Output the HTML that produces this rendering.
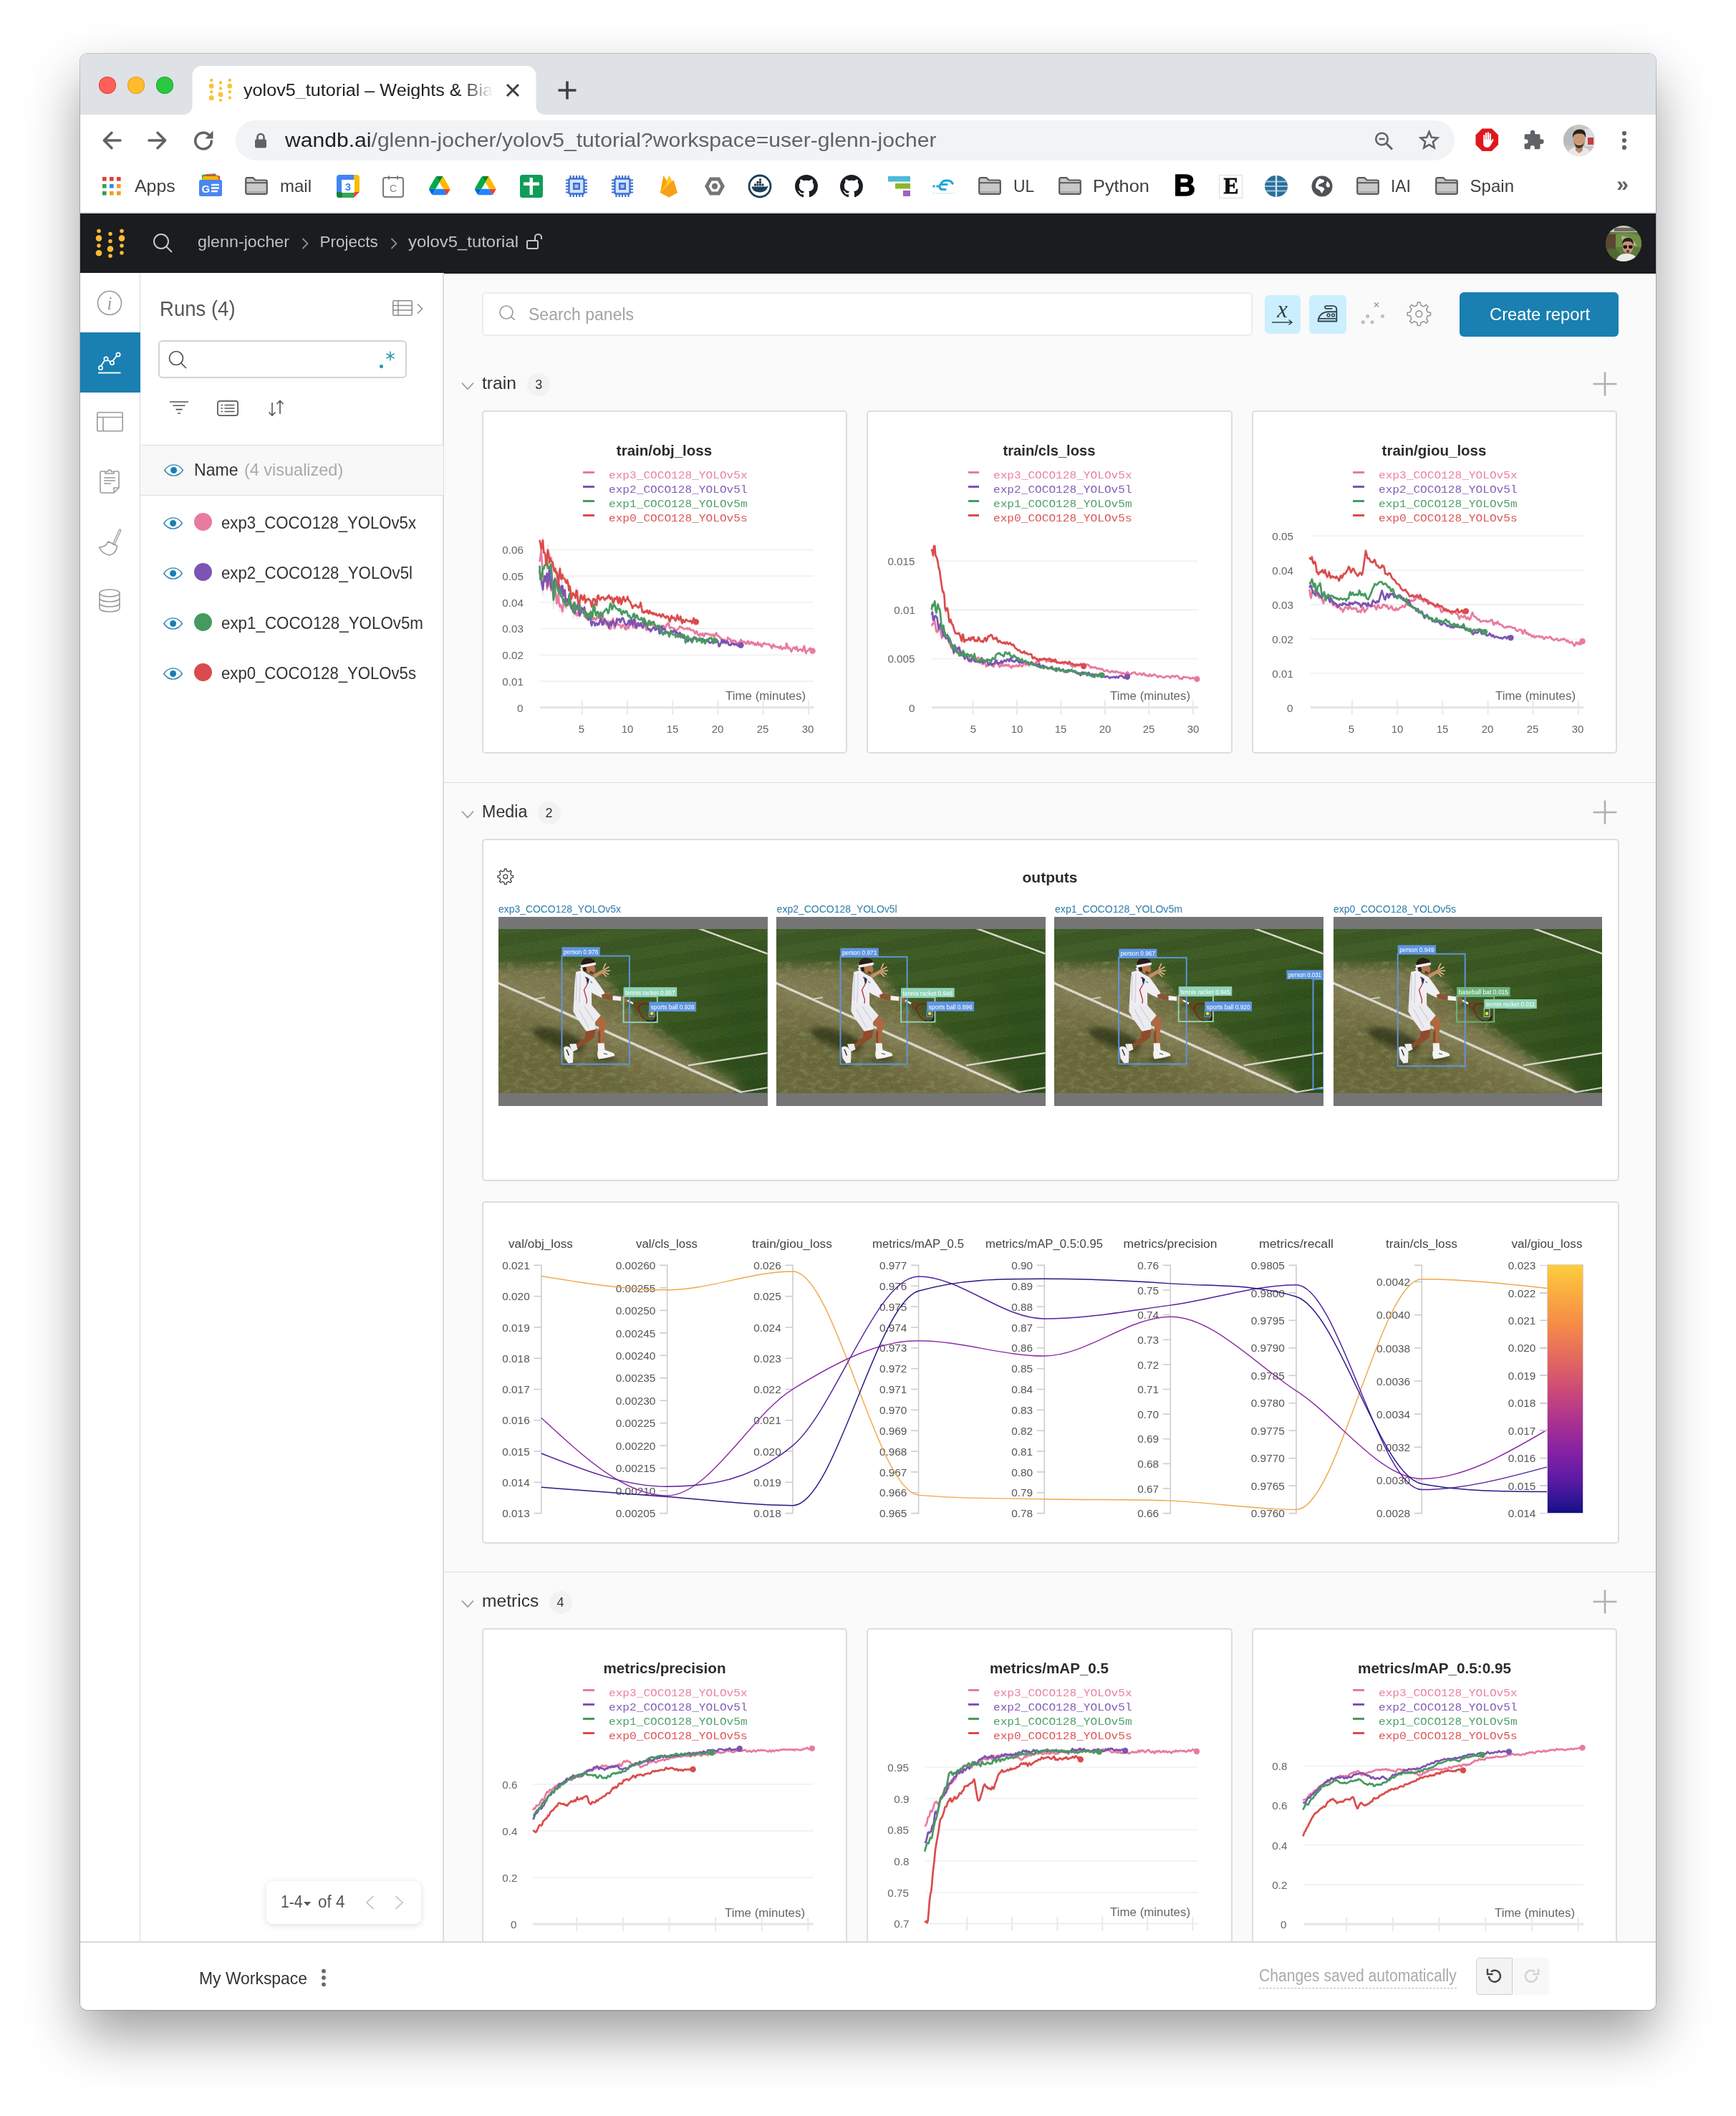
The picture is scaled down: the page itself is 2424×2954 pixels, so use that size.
<!DOCTYPE html><html><head><meta charset="utf-8"><title>yolov5_tutorial – Weights &amp; Biases</title>
<style>html,body{margin:0;padding:0;background:#fff}body{width:2424px;height:2954px;font-family:"Liberation Sans",sans-serif}#page{position:relative;width:2424px;height:2954px;overflow:hidden;background:#fff}#win{position:absolute;left:112px;top:75px;width:2200px;height:2731px;border-radius:10px;overflow:hidden;background:#fff}#shadow{position:absolute;left:112px;top:75px;width:2200px;height:2731px;border-radius:10px;box-shadow:0 0 0 1px rgba(0,0,0,.2),0 36px 76px rgba(0,0,0,.385)}#in{position:absolute;left:-112px;top:-75px;width:2424px;height:2954px;transform:translateZ(0);will-change:transform}</style></head><body><div id="page">
<svg width="0" height="0" style="position:absolute"><symbol id="ph" viewBox="0 0 375.5 228.7"><defs><linearGradient id="gr1" x1="0" y1="0" x2="1" y2="1"><stop offset="0" stop-color="#44632a"/><stop offset=".5" stop-color="#3f6024"/><stop offset="1" stop-color="#31531a"/></linearGradient><filter id="bl6" x="-30%" y="-30%" width="160%" height="160%"><feGaussianBlur stdDeviation="8"/></filter><filter id="bl3" x="-30%" y="-30%" width="160%" height="160%"><feGaussianBlur stdDeviation="3"/></filter><filter id="bl1" x="-20%" y="-20%" width="140%" height="140%"><feGaussianBlur stdDeviation=".45"/></filter><filter id="gn" x="0" y="0" width="100%" height="100%"><feTurbulence type="fractalNoise" baseFrequency="0.75" numOctaves="2" seed="3"/><feColorMatrix type="matrix" values="0 0 0 0 0  0 0 0 0 0  0 0 0 0 0  0 0 0 .6 -.16"/></filter><filter id="gn2" x="0" y="0" width="100%" height="100%"><feTurbulence type="fractalNoise" baseFrequency="0.55" numOctaves="2" seed="11"/><feColorMatrix type="matrix" values="0 0 0 0 1  0 0 0 0 1  0 0 0 0 .7  0 0 0 .5 -.17"/></filter><filter id="gn3" x="0" y="0" width="100%" height="100%"><feTurbulence type="fractalNoise" baseFrequency="0.09 0.16" numOctaves="3" seed="7"/><feColorMatrix type="matrix" values="0 0 0 0 .27  0 0 0 0 .38  0 0 0 0 .14  0 0 0 2.2 -.95"/></filter><clipPath id="wornc"><path d="M-30 44 L110 46 L155 66 L172 94 L206 124 L266 168 L326 213 L352 236 L352 250 L-30 250Z"/></clipPath><clipPath id="phc"><rect width="375.5" height="228.7"/></clipPath></defs><g clip-path="url(#phc)"><rect width="375.5" height="228.7" fill="url(#gr1)"/><g opacity=".07"><path d="M-5 10 L380 -50 L380 -34 L-5 26Z" fill="#000"/><path d="M-5 42 L380 -18 L380 -2 L-5 58Z" fill="#000"/><path d="M-5 74 L380 14 L380 30 L-5 90Z" fill="#000"/><path d="M-5 106 L380 46 L380 62 L-5 122Z" fill="#000"/><path d="M-5 138 L380 78 L380 94 L-5 154Z" fill="#000"/><path d="M-5 170 L380 110 L380 126 L-5 186Z" fill="#000"/><path d="M-5 202 L380 142 L380 158 L-5 218Z" fill="#000"/><path d="M-5 234 L380 174 L380 190 L-5 250Z" fill="#000"/><path d="M-5 266 L380 206 L380 222 L-5 282Z" fill="#000"/><path d="M-5 298 L380 238 L380 254 L-5 314Z" fill="#000"/></g><g filter="url(#bl6)"><path d="M-30 50 L110 52 L150 70 L167 96 L202 127 L262 171 L322 216 L350 240 L-30 250Z" fill="#7d7547" opacity=".97"/><path d="M-30 62 L60 84 L160 128 L260 174 L330 212 L318 236 L200 182 L90 132 L-30 90Z" fill="#958d64" opacity=".58"/><path d="M-30 58 L100 60 L140 78 L120 100 L30 80Z" fill="#8f8860" opacity=".5"/><path d="M-30 150 L60 140 L150 190 L230 240 L-30 260Z" fill="#5c6030" opacity=".38"/><path d="M300 60 L400 70 L400 260 L350 260 L330 200Z" fill="#2f4f18" opacity=".35"/></g><g clip-path="url(#wornc)"><rect width="375.5" height="228.7" filter="url(#gn3)" opacity=".55"/></g><g filter="url(#bl3)" opacity=".6"><path d="M46 142 C56 133 84 138 112 152 C122 160 122 170 110 172 C88 170 58 158 46 142Z" fill="#1d2610"/><ellipse cx="148" cy="182" rx="17" ry="3.500" fill="#1d2610"/><ellipse cx="97" cy="188" rx="9" ry="2.500" fill="#1d2610"/></g><g stroke="#eae7da" stroke-linecap="butt" fill="none" filter="url(#bl1)"><path d="M279.5 -1 L376 34.7" stroke-width="2.5"/><path d="M-1 75 L340.5 228.5" stroke-width="3.5"/><path d="M264.9 190.4 L376 172.8" stroke-width="2.3"/><path d="M338 227.8 L376 221.2" stroke-width="2.1"/><path d="M52 97.5 L65 95.3" stroke-width="1.7"/></g><rect width="375.5" height="228.7" filter="url(#gn)" opacity=".5"/><rect width="375.5" height="228.7" filter="url(#gn2)" opacity=".22"/><g filter="url(#bl1)"><path d="M122 141 L136 139 L133.500 152 L111 166 L108 161.500 L121 151Z" fill="#8f4b2c"/><path d="M99 160.500 L108.500 160 L110.500 168 L103 171.500Z" fill="#ececec"/><path d="M91 166 C92 163 97 163 100 165.500 L104.500 172 L104 186.500 L97.500 187.500 L92.500 180Z" fill="#f0f0ee"/><path d="M95 168 L98.500 176.500" stroke="#2a2f3c" stroke-width="1.500"/><path d="M135 124 L142.500 120.500 L149.500 128 L150 136 L146 148 L147.500 160 L139.500 160 L139 144 L140.500 136 L134.500 130Z" fill="#b0673f"/><path d="M139 145 L139.500 160 L142.500 160 L142 140Z" fill="#8a4a2c"/><path d="M138.800 159.300 L147.700 159.300 L148.500 171 L139 171.500Z" fill="#f0f0f0"/><path d="M138.500 170.500 L148.500 168.800 L157.500 172 C161.500 173 163 175.500 162 177 L150 180 L140 181.500 C138 178 138 174 138.500 170.500Z" fill="#f4f4f1"/><path d="M147 173.500 L152 175" stroke="#39415a" stroke-width="1.200"/><path d="M104.900 104 L130.200 106 L142.700 120.700 L134.800 130 L135.800 140 L122.800 142.800 L110.900 126.200 L104.400 115.200Z" fill="#ecebf0"/><path d="M112 112 L126 138 M120 108 L133 128" stroke="#d2d2da" stroke-width="1.400" fill="none"/><path d="M108.100 59.900 L117.300 57.500 L124 62.500 L133 67.200 L141 78 L148.700 89.400 L144 95.800 L136 92 L130 88.500 L130.200 106.500 L105 104.500 L106.300 78.300Z" fill="#efeef3"/><path d="M109 63 L108.500 100 M114 62 L113 103" stroke="#d5d6e2" stroke-width="1.800" fill="none"/><path d="M121 67 L125.500 71 L123.500 78 L119.500 85 L121.500 92 L123.500 99 L123 104" stroke="#b23230" stroke-width="1.300" fill="none"/><path d="M122.500 66.500 L127 70 L125 77 L123 73Z" fill="#2b2e52"/><path d="M128.500 72.500 L131.500 74.300 L130.800 75.800 L127.800 74Z" fill="#5aa6a6"/><path d="M131 64.500 L140 59.500 L147 55.500 L149.500 59.500 L142 63.500 L134 68.500Z" fill="#c98d63"/><path d="M146.500 55 L149.500 48.500 M148 56.500 L154 53 M149 58.500 L155.500 58 M148.500 60.500 L153.500 63 M146 61.500 L150.500 66" stroke="#e3b58b" stroke-width="1.700" stroke-linecap="round"/><path d="M143.500 92 L148.500 90 L160 93.300 L159.700 99.300 L146 97Z" fill="#8e5233"/><path d="M159.700 93 L171.700 94.500 L171.300 100.300 L159.500 99.300Z" fill="#f3f3f5"/><path d="M171.500 95 L178 96 L181.500 99.500 L180 102.500 L171.300 100.300Z" fill="#a3603c"/><path d="M122 52 L133.500 50 L135.500 56 L133.800 61.500 L129 63.500 L124 60Z" fill="#b5764f"/><path d="M128 58.500 L133.500 60.500 L131 63 L127 62Z" fill="#5b3a28"/><path d="M115.500 52 C114.500 44 120 39.500 126.500 40.500 C132 41 135.500 44.500 135.500 47.500 L121.500 50.500 L123 58 L120.500 59.500 C117.500 58 116 55 115.500 52Z" fill="#2a1d15"/><path d="M114.500 50.500 L135.600 46.600 L136 50 L115.500 54Z" fill="#f4f4f6"/><path d="M115.500 53.500 L113.500 55.500 L116 58.500 L118.500 57 L117 54Z" fill="#ecdfe6"/><path d="M180 99.500 L188.300 104.100" stroke="#efefef" stroke-width="2.500"/><path d="M188.300 104.100 L196.600 115.200 M188.300 104.100 L199 104.600 L209 104.400" stroke="#8c2a1c" stroke-width="1.500" fill="none"/><path d="M196 113 C193.500 106 203 103 209.500 104.500 C216 106 221 114 220.500 123 C220 129 214 130.500 208 128 C202 125.500 198 119 196 113Z" stroke="#7a2418" stroke-width="1.700" fill="#5a5a2c" fill-opacity=".3"/><path d="M207 127.500 C213 130.500 220 129 220.500 122" stroke="#1a1410" stroke-width="1.900" fill="none"/></g><circle cx="214.100" cy="117.900" r="2.300" fill="#e4e33c"/></g></symbol></svg>
<div id="shadow"></div><div id="win"><div id="in">
<div style="position:absolute;left:112px;top:381px;width:2200px;height:2330px;background:#fafafa"></div><div style="position:absolute;left:112px;top:298px;width:2200px;height:83.5px;background:#1a1c1f"></div><svg style="position:absolute;left:153.5px;top:340px;overflow:visible" width="1" height="1"><g fill="#fcbc32"><circle cx="-16" cy="-17.5" r="2.75"/><circle cx="-16" cy="-7.4" r="4.3"/><circle cx="-16" cy="2.9" r="2.75"/><circle cx="-16" cy="13.3" r="4.3"/><circle cx="0" cy="-13.4" r="2.75"/><circle cx="0" cy="-3.3" r="2.75"/><circle cx="0" cy="7.5" r="4.3"/><circle cx="0" cy="17.3" r="2.75"/><circle cx="16" cy="-17.5" r="2.75"/><circle cx="16" cy="-7.4" r="4.3"/><circle cx="16" cy="2.9" r="2.75"/><circle cx="16" cy="13" r="2.75"/></g></svg><svg style="position:absolute;left:211.6px;top:324px;overflow:visible;" width="30" height="30" viewBox="0 0 30 30"><circle cx="13" cy="13" r="10" stroke="#c8c9ca" stroke-width="2" fill="none"/><path d="M20.500 20.500 L28 28" stroke="#c8c9ca" stroke-width="2"/></svg><div style="position:absolute;top:327.3px;font:400 22.5px/22.5px 'Liberation Sans',sans-serif;color:#bfc1c3;white-space:nowrap;left:275.9px;transform-origin:0 50%;transform:scaleX(1.0337);">glenn-jocher</div><svg style="position:absolute;left:416.7px;top:331px;overflow:visible;" width="18" height="18" viewBox="0 0 18 18"><path d="M5.500 2 L12.500 9 L5.500 16" stroke="#8d9093" stroke-width="1.800" fill="none"/></svg><div style="position:absolute;top:327.3px;font:400 22.5px/22.5px 'Liberation Sans',sans-serif;color:#bfc1c3;white-space:nowrap;left:446.4px;">Projects</div><svg style="position:absolute;left:541px;top:331px;overflow:visible;" width="18" height="18" viewBox="0 0 18 18"><path d="M5.500 2 L12.500 9 L5.500 16" stroke="#8d9093" stroke-width="1.800" fill="none"/></svg><div style="position:absolute;top:327.3px;font:400 22.5px/22.5px 'Liberation Sans',sans-serif;color:#bfc1c3;white-space:nowrap;left:570px;transform-origin:0 50%;transform:scaleX(1.0614);">yolov5_tutorial</div><svg style="position:absolute;left:734px;top:323.5px;overflow:visible;" width="26" height="26" viewBox="0 0 26 26"><rect x="2" y="12" width="15" height="11" rx="1.500" stroke="#c8c9ca" stroke-width="2" fill="none"/><path d="M13 12 V7.500 a4.500 4.500 0 0 1 9 0 V10" stroke="#c8c9ca" stroke-width="2" fill="none"/></svg><svg style="position:absolute;left:2242px;top:315px;overflow:visible;" width="50" height="50" viewBox="0 0 50 50"><defs><clipPath id="avc2"><circle cx="25" cy="25" r="25"/></clipPath></defs><g clip-path="url(#avc2)"><rect width="50" height="50" fill="#5e7a3a"/><rect x="0" y="0" width="50" height="9" fill="#c9c4bb"/><rect x="12" y="3" width="30" height="5" fill="#6d6a64"/><path d="M0 12 h14 v22 H0z" fill="#5a4632"/><path d="M14 12 C24 8 40 10 50 16 V30 H14Z" fill="#6f8f45"/><path d="M22 14 l14 4 l8 10 l-20-2z" fill="#b9b49a"/><path d="M0 34 C8 30 16 32 20 40 L20 50 H0Z" fill="#4d6a2e"/><path d="M14 50 C16 42 22 39 30 39 C38 39 44 43 46 50Z" fill="#ecebea"/><ellipse cx="31" cy="30" rx="7.500" ry="9" fill="#c79273"/><path d="M23 27 C22.500 19 27 16.500 32 17 C37 17.500 39.500 21 38.500 27 C37 23 35 22 31 22 C27 22 24.500 23 23 27Z" fill="#2a211d"/><path d="M24.500 27.500 h5.500 v2 a2.700 2.700 0 0 1 -5.500 0z M32 27.500 h5.500 v2 a2.700 2.700 0 0 1 -5.500 0z" fill="#101010"/><ellipse cx="31" cy="36" rx="2" ry="2.200" fill="#7a2e2a"/></g></svg><div style="position:absolute;left:112px;top:381px;width:83px;height:2330px;background:#fff"></div><div style="position:absolute;left:194.5px;top:381px;width:1.5px;height:2330px;background:#dcdcdc"></div><svg style="position:absolute;left:135px;top:405px;overflow:visible;" width="36" height="36" viewBox="0 0 36 36"><circle cx="18" cy="18" r="16.500" stroke="#9a9a9a" stroke-width="1.600" fill="none"/></svg><div style="position:absolute;top:411px;font:400 25px/25px 'Liberation Serif',serif;color:#9a9a9a;white-space:nowrap;left:153px;transform:translateX(-50%);font-style:italic;">i</div><div style="position:absolute;left:112px;top:464px;width:83.5px;height:84px;background:#1a7fb1"></div><svg style="position:absolute;left:137px;top:489px;overflow:visible;" width="32" height="34" viewBox="0 0 32 34"><path d="M3 23.500 L10.500 12 L18.500 17 L27.500 6" stroke="#fff" stroke-width="1.900" fill="none"/><circle cx="3.500" cy="24.500" r="2.700" fill="#1a7fb1" stroke="#fff" stroke-width="1.700"/><circle cx="11" cy="12" r="2.700" fill="#1a7fb1" stroke="#fff" stroke-width="1.700"/><circle cx="19.500" cy="17.500" r="2.700" fill="#1a7fb1" stroke="#fff" stroke-width="1.700"/><circle cx="28" cy="6" r="2.700" fill="#1a7fb1" stroke="#fff" stroke-width="1.700"/><path d="M0 31.500 H31.500" stroke="#fff" stroke-width="1.900"/></svg><svg style="position:absolute;left:134.5px;top:575px;overflow:visible;" width="37" height="28" viewBox="0 0 37 28"><rect x=".8" y=".8" width="35.400" height="26" rx="2" stroke="#9a9a9a" stroke-width="1.600" fill="none"/><path d="M.8 7.500 H36.200 M9 7.500 V26.800" stroke="#9a9a9a" stroke-width="1.600"/></svg><svg style="position:absolute;left:139px;top:654px;overflow:visible;" width="28" height="36" viewBox="0 0 28 36"><path d="M8 4 H3 a2 2 0 0 0 -2 2 V32 a2 2 0 0 0 2 2 H20 L27 27 V6 a2 2 0 0 0 -2-2 H20" stroke="#9a9a9a" stroke-width="1.600" fill="none"/><path d="M8 7 V4.500 h3.500 a2.500 2.500 0 0 1 5 0 H20 V7 Z" stroke="#9a9a9a" stroke-width="1.500" fill="none"/><path d="M20 34 V27 H27" stroke="#9a9a9a" stroke-width="1.500" fill="none"/><path d="M6 13h16M6 17h16M6 21h10" stroke="#9a9a9a" stroke-width="1.500"/></svg><svg style="position:absolute;left:137px;top:739px;overflow:visible;" width="34" height="37" viewBox="0 0 34 37"><path d="M30.500 1.500 L22 20" stroke="#9a9a9a" stroke-width="3.800" stroke-linecap="round"/><path d="M30.500 1.500 L22 20" stroke="#fff" stroke-width="1.200" stroke-linecap="round"/><path d="M14 17 L26.500 23 C26 30 22 34.500 16 36 C10 35 4 31 1.500 25 C7 25 12 22 14 17Z" stroke="#9a9a9a" stroke-width="1.600" fill="none" stroke-linejoin="round"/></svg><svg style="position:absolute;left:138px;top:822px;overflow:visible;" width="30" height="34" viewBox="0 0 30 34"><ellipse cx="15" cy="6" rx="14" ry="5" stroke="#9a9a9a" stroke-width="1.600" fill="none"/><path d="M1 6 V27 C1 30 7 32 15 32 C23 32 29 30 29 27 V6" stroke="#9a9a9a" stroke-width="1.600" fill="none"/><path d="M1 13 C1 16 7 18 15 18 C23 18 29 16 29 13 M1 20 C1 23 7 25 15 25 C23 25 29 23 29 20" stroke="#9a9a9a" stroke-width="1.600" fill="none"/></svg><div style="position:absolute;left:196px;top:381px;width:422.5px;height:2330px;background:#fff"></div><div style="position:absolute;left:618px;top:381px;width:1.5px;height:2330px;background:#dcdcdc"></div><div style="position:absolute;top:417.42px;font:400 29px/29px 'Liberation Sans',sans-serif;color:#585858;white-space:nowrap;left:222.6px;transform-origin:0 50%;transform:scaleX(0.9496);">Runs (4)</div><svg style="position:absolute;left:548px;top:419px;overflow:visible;" width="28" height="22" viewBox="0 0 28 22"><rect x=".8" y=".8" width="26.400" height="20.400" rx="1.500" stroke="#8a8a8a" stroke-width="1.500" fill="none"/><path d="M.8 7.500 H27.200 M.8 14 H27.200 M8 .8 V21.200" stroke="#8a8a8a" stroke-width="1.400"/></svg><svg style="position:absolute;left:578px;top:422.5px;overflow:visible;" width="16" height="16" viewBox="0 0 16 16"><path d="M5 1.500 L11.500 8 L5 14.500" stroke="#8a8a8a" stroke-width="1.500" fill="none"/></svg><div style="position:absolute;left:221px;top:475px;width:346.5px;height:52.5px;box-sizing:border-box;border:2px solid #d3d3d3;border-radius:6px;background:#fff"></div><svg style="position:absolute;left:234px;top:488px;overflow:visible;" width="28" height="28" viewBox="0 0 28 28"><circle cx="12" cy="12" r="9.500" stroke="#555" stroke-width="1.700" fill="none"/><path d="M19 19 L26 26" stroke="#555" stroke-width="1.700"/></svg><div style="position:absolute;left:530px;top:509px;width:4.5px;height:4.5px;border-radius:50%;background:#1f9aa8"></div><svg style="position:absolute;left:537px;top:489px;overflow:visible;" width="16" height="16" viewBox="0 0 16 16"><path d="M8 1.500V14.500M2.400 4.700L13.600 11.300M13.600 4.700L2.400 11.300" stroke="#1f9aa8" stroke-width="1.500"/></svg><svg style="position:absolute;left:237px;top:560px;overflow:visible;" width="26" height="18" viewBox="0 0 26 18"><path d="M0 1h26M4.500 6.300h17M8.500 11.600h9M11 17h4" stroke="#555" stroke-width="1.600"/></svg><svg style="position:absolute;left:302.5px;top:558.5px;overflow:visible;" width="30" height="22" viewBox="0 0 30 22"><rect x=".9" y=".9" width="28.200" height="20.200" rx="3" stroke="#555" stroke-width="1.700" fill="none"/><path d="M5.500 6.500h2.500M10.500 6.500h14M5.500 11h2.500M10.500 11h14M5.500 15.500h2.500M10.500 15.500h14" stroke="#555" stroke-width="1.600"/></svg><svg style="position:absolute;left:374px;top:557.5px;overflow:visible;" width="24" height="24" viewBox="0 0 24 24"><path d="M6 4 V22 M1.500 17.500 L6 22 L10.500 17.500" stroke="#555" stroke-width="1.600" fill="none"/><path d="M17 20 V1.500 M12.500 6 L17 1.500 L21.500 6" stroke="#555" stroke-width="1.600" fill="none"/></svg><div style="position:absolute;left:196px;top:621px;width:422.5px;height:71px;background:#f8f8f8;box-sizing:border-box;border-top:1.500px solid #dcdcdc;border-bottom:1.500px solid #dcdcdc"></div><svg style="position:absolute;left:228.9px;top:648px;overflow:visible;" width="27.2" height="17" viewBox="0 0 32 20"><path d="M1 10 C6 2.500 12 1 16 1 C20 1 26 2.500 31 10 C26 17.500 20 19 16 19 C12 19 6 17.500 1 10 Z" fill="#fff" stroke="#2e86b7" stroke-width="1.700"/><circle cx="16" cy="10" r="5.300" fill="#1b7db3"/></svg><div style="position:absolute;top:643.52px;font:400 24px/24px 'Liberation Sans',sans-serif;color:#333;white-space:nowrap;left:271px;transform-origin:0 50%;transform:scaleX(0.9622);">Name</div><div style="position:absolute;top:643.52px;font:400 24px/24px 'Liberation Sans',sans-serif;color:#aaa;white-space:nowrap;left:341px;transform-origin:0 50%;transform:scaleX(0.9774);">(4 visualized)</div><svg style="position:absolute;left:227.9px;top:722.2px;overflow:visible;" width="27.2" height="17" viewBox="0 0 32 20"><path d="M1 10 C6 2.500 12 1 16 1 C20 1 26 2.500 31 10 C26 17.500 20 19 16 19 C12 19 6 17.500 1 10 Z" fill="#fff" stroke="#2e86b7" stroke-width="1.700"/><circle cx="16" cy="10" r="5.300" fill="#1b7db3"/></svg><div style="position:absolute;left:271.1px;top:715.9px;width:24.8px;height:24.8px;border-radius:50%;background:#e87b9f"></div><div style="position:absolute;top:718.64px;font:400 23px/23px 'Liberation Sans',sans-serif;color:#333;white-space:nowrap;left:309.2px;transform-origin:0 50%;transform:scaleX(0.9627);">exp3_COCO128_YOLOv5x</div><svg style="position:absolute;left:227.9px;top:792.23px;overflow:visible;" width="27.2" height="17" viewBox="0 0 32 20"><path d="M1 10 C6 2.500 12 1 16 1 C20 1 26 2.500 31 10 C26 17.500 20 19 16 19 C12 19 6 17.500 1 10 Z" fill="#fff" stroke="#2e86b7" stroke-width="1.700"/><circle cx="16" cy="10" r="5.300" fill="#1b7db3"/></svg><div style="position:absolute;left:271.1px;top:785.93px;width:24.8px;height:24.8px;border-radius:50%;background:#7d54b2"></div><div style="position:absolute;top:788.67px;font:400 23px/23px 'Liberation Sans',sans-serif;color:#333;white-space:nowrap;left:309.2px;transform-origin:0 50%;transform:scaleX(0.9669);">exp2_COCO128_YOLOv5l</div><svg style="position:absolute;left:227.9px;top:862.26px;overflow:visible;" width="27.2" height="17" viewBox="0 0 32 20"><path d="M1 10 C6 2.500 12 1 16 1 C20 1 26 2.500 31 10 C26 17.500 20 19 16 19 C12 19 6 17.500 1 10 Z" fill="#fff" stroke="#2e86b7" stroke-width="1.700"/><circle cx="16" cy="10" r="5.300" fill="#1b7db3"/></svg><div style="position:absolute;left:271.1px;top:855.96px;width:24.8px;height:24.8px;border-radius:50%;background:#479a5f"></div><div style="position:absolute;top:858.7px;font:400 23px/23px 'Liberation Sans',sans-serif;color:#333;white-space:nowrap;left:309.2px;transform-origin:0 50%;transform:scaleX(0.9717);">exp1_COCO128_YOLOv5m</div><svg style="position:absolute;left:227.9px;top:932.29px;overflow:visible;" width="27.2" height="17" viewBox="0 0 32 20"><path d="M1 10 C6 2.500 12 1 16 1 C20 1 26 2.500 31 10 C26 17.500 20 19 16 19 C12 19 6 17.500 1 10 Z" fill="#fff" stroke="#2e86b7" stroke-width="1.700"/><circle cx="16" cy="10" r="5.300" fill="#1b7db3"/></svg><div style="position:absolute;left:271.1px;top:925.99px;width:24.8px;height:24.8px;border-radius:50%;background:#da4c4c"></div><div style="position:absolute;top:928.73px;font:400 23px/23px 'Liberation Sans',sans-serif;color:#333;white-space:nowrap;left:309.2px;transform-origin:0 50%;transform:scaleX(0.9627);">exp0_COCO128_YOLOv5s</div><div style="position:absolute;left:372px;top:2626px;width:216px;height:59.5px;border-radius:9px;background:#fff;box-shadow:0 2px 10px rgba(0,0,0,.13)"></div><div style="position:absolute;top:2644.18px;font:400 23.5px/23.5px 'Liberation Sans',sans-serif;color:#555;white-space:nowrap;left:391.6px;transform-origin:0 50%;transform:scaleX(0.9009);">1-4</div><svg style="position:absolute;left:424.3px;top:2655.3px;overflow:visible;" width="10.3" height="5.7" viewBox="0 0 10.3 5.7"><path d="M0 0H10.300L5.150 5.700Z" fill="#555"/></svg><div style="position:absolute;top:2644.18px;font:400 23.5px/23.5px 'Liberation Sans',sans-serif;color:#555;white-space:nowrap;left:444.2px;transform-origin:0 50%;transform:scaleX(0.9593);">of 4</div><svg style="position:absolute;left:507.2px;top:2646px;overflow:visible;" width="20" height="20" viewBox="0 0 20 20"><path d="M14.500 1.200 L5 10 L14.500 18.800" stroke="#c2c2c2" stroke-width="1.700" fill="none"/></svg><svg style="position:absolute;left:547px;top:2646px;overflow:visible;" width="20" height="20" viewBox="0 0 20 20"><path d="M5.500 1.200 L15 10 L5.500 18.800" stroke="#c2c2c2" stroke-width="1.700" fill="none"/></svg><div style="position:absolute;left:672.5px;top:407.5px;width:1076.5px;height:61px;box-sizing:border-box;border:2px solid #ececec;border-radius:6px;background:#fff"></div><svg style="position:absolute;left:696.5px;top:426px;overflow:visible;" width="24" height="24" viewBox="-1 -1 24 24"><circle cx="9" cy="9" r="9" stroke="#9a9a9a" stroke-width="1.600" fill="none"/><path d="M15.400 15.400 L21 19.500" stroke="#9a9a9a" stroke-width="1.600"/></svg><div style="position:absolute;top:428.04px;font:400 23px/23px 'Liberation Sans',sans-serif;color:#a3a3a3;white-space:nowrap;left:738px;">Search panels</div><div style="position:absolute;left:1766px;top:412px;width:50px;height:54px;border-radius:6px;background:#cbeffe"></div><div style="position:absolute;left:1828px;top:412px;width:52px;height:54px;border-radius:6px;background:#cbeffe"></div><div style="position:absolute;top:415.84px;font:400 33px/33px 'Liberation Serif',serif;color:#34424a;white-space:nowrap;left:1790.5px;transform:translateX(-50%);font-style:italic;">x</div><svg style="position:absolute;left:1776px;top:446px;overflow:visible;" width="30" height="8" viewBox="0 0 30 8"><path d="M0 4H28M23.500 .5L28 4L23.500 7.500" stroke="#34424a" stroke-width="1.500" fill="none"/></svg><svg style="position:absolute;left:1838.5px;top:425px;overflow:visible;" width="30" height="25.7" viewBox="0 0 28 24"><path d="M12 2 h9 a4.500 4.500 0 0 1 4.500 4.500 V22 H1.500 C1.500 14 8 9.500 15 9.500 H25" stroke="#34424a" stroke-width="1.800" fill="none" stroke-linejoin="round"/><path d="M12 2 a1.500 1.500 0 0 0 0 3.500 h8" stroke="#34424a" stroke-width="1.800" fill="none"/><path d="M2.500 18.500 H25" stroke="#34424a" stroke-width="1.600"/><circle cx="15" cy="14" r="1.800" stroke="#34424a" stroke-width="1.400" fill="none"/><circle cx="21" cy="14" r="1.800" stroke="#34424a" stroke-width="1.400" fill="none"/></svg><svg style="position:absolute;left:1900px;top:421px;overflow:visible;" width="34" height="32" viewBox="0 0 34 32"><path d="M19 1.500 L25 7.500 M25 1.500 L19 7.500" stroke="#999" stroke-width="1.400"/><circle cx="9.500" cy="20.500" r="1.700" stroke="#999" stroke-width="1.200" fill="none"/><circle cx="3.300" cy="28.800" r="1.700" stroke="#999" stroke-width="1.200" fill="none"/><circle cx="16" cy="28.800" r="1.700" stroke="#999" stroke-width="1.200" fill="none"/><circle cx="30.500" cy="20.500" r="1.700" stroke="#999" stroke-width="1.200" fill="none"/></svg><svg style="position:absolute;left:1962.7px;top:419.7px;overflow:visible;" width="36.6" height="36.6" viewBox="0 0 36.6 36.6"><path d="M15.69 6.19 L16.38 2.11 L20.22 2.11 L20.91 6.19 L25.02 7.89 L28.39 5.5 L31.1 8.21 L28.71 11.58 L30.41 15.69 L34.49 16.38 L34.49 20.22 L30.41 20.91 L28.71 25.02 L31.1 28.39 L28.39 31.1 L25.02 28.71 L20.91 30.41 L20.22 34.49 L16.38 34.49 L15.69 30.41 L11.58 28.71 L8.21 31.1 L5.5 28.39 L7.89 25.02 L6.19 20.91 L2.11 20.22 L2.11 16.38 L6.19 15.69 L7.89 11.58 L5.5 8.21 L8.21 5.5 L11.58 7.89Z" stroke="#999" stroke-width="1.6" fill="none" stroke-linejoin="round"/><circle cx="18.3" cy="18.3" r="4.4" stroke="#999" stroke-width="1.6" fill="none"/></svg><div style="position:absolute;left:2038px;top:408px;width:222px;height:61.5px;border-radius:6px;background:#1a7fb1"></div><div style="position:absolute;top:428.24px;font:400 23px/23px 'Liberation Sans',sans-serif;color:#fff;white-space:nowrap;left:2150px;transform:translateX(-50%) scaleX(1.0331);">Create report</div><svg style="position:absolute;left:642.7px;top:528.7px;overflow:visible;" width="20" height="20" viewBox="0 0 20 20"><path d="M2 5.700 L10 14.300 L18 5.700" stroke="#9c9c9c" stroke-width="1.700" fill="none"/></svg><div style="position:absolute;top:524.04px;font:400 23px/23px 'Liberation Sans',sans-serif;color:#333;white-space:nowrap;left:673px;transform-origin:0 50%;transform:scaleX(1.0728);">train</div><div style="position:absolute;left:736.3px;top:521.4px;width:32px;height:32px;border-radius:16px;background:#f2f2f2"></div><div style="position:absolute;top:528.14px;font:400 18px/18px 'Liberation Sans',sans-serif;color:#333;white-space:nowrap;left:752.3px;transform:translateX(-50%);">3</div><svg style="position:absolute;left:2223.7px;top:519.4px;overflow:visible;" width="34" height="34" viewBox="0 0 34 34"><path d="M17 .6 V33.400 M.6 17 H33.400" stroke="#b0b0b0" stroke-width="2.600" fill="none"/></svg><div style="position:absolute;left:619.5px;top:1091.5px;width:1692.5px;height:1.5px;background:#dcdcdc"></div><svg style="position:absolute;left:642.7px;top:1126.7px;overflow:visible;" width="20" height="20" viewBox="0 0 20 20"><path d="M2 5.700 L10 14.300 L18 5.700" stroke="#9c9c9c" stroke-width="1.700" fill="none"/></svg><div style="position:absolute;top:1122.04px;font:400 23px/23px 'Liberation Sans',sans-serif;color:#333;white-space:nowrap;left:673px;transform-origin:0 50%;transform:scaleX(1.0120);">Media</div><div style="position:absolute;left:750.6px;top:1119.4px;width:32px;height:32px;border-radius:16px;background:#f2f2f2"></div><div style="position:absolute;top:1126.14px;font:400 18px/18px 'Liberation Sans',sans-serif;color:#333;white-space:nowrap;left:766.6px;transform:translateX(-50%);">2</div><svg style="position:absolute;left:2223.7px;top:1117.4px;overflow:visible;" width="34" height="34" viewBox="0 0 34 34"><path d="M17 .6 V33.400 M.6 17 H33.400" stroke="#b0b0b0" stroke-width="2.600" fill="none"/></svg><div style="position:absolute;left:619.5px;top:2193.5px;width:1692.5px;height:1.5px;background:#dcdcdc"></div><svg style="position:absolute;left:642.7px;top:2228.7px;overflow:visible;" width="20" height="20" viewBox="0 0 20 20"><path d="M2 5.700 L10 14.300 L18 5.700" stroke="#9c9c9c" stroke-width="1.700" fill="none"/></svg><div style="position:absolute;top:2224.04px;font:400 23px/23px 'Liberation Sans',sans-serif;color:#333;white-space:nowrap;left:673px;transform-origin:0 50%;transform:scaleX(1.0700);">metrics</div><div style="position:absolute;left:766.5px;top:2221.4px;width:32px;height:32px;border-radius:16px;background:#f2f2f2"></div><div style="position:absolute;top:2228.14px;font:400 18px/18px 'Liberation Sans',sans-serif;color:#333;white-space:nowrap;left:782.5px;transform:translateX(-50%);">4</div><svg style="position:absolute;left:2223.7px;top:2219.4px;overflow:visible;" width="34" height="34" viewBox="0 0 34 34"><path d="M17 .6 V33.400 M.6 17 H33.400" stroke="#b0b0b0" stroke-width="2.600" fill="none"/></svg>
<div style="position:absolute;left:672.5px;top:573px;width:510.5px;height:479px;box-sizing:border-box;border:2px solid #dddddd;border-radius:5px;background:#fff;"></div><div style="position:absolute;left:1210px;top:573px;width:510.5px;height:479px;box-sizing:border-box;border:2px solid #dddddd;border-radius:5px;background:#fff;"></div><div style="position:absolute;left:1747.5px;top:573px;width:510.5px;height:479px;box-sizing:border-box;border:2px solid #dddddd;border-radius:5px;background:#fff;"></div><div style="position:absolute;top:618.64px;font:700 20.5px/20.5px 'Liberation Sans',sans-serif;color:#2b2b2b;white-space:nowrap;left:927.5px;transform:translateX(-50%);">train/obj_loss</div><div style="position:absolute;left:814px;top:658.4px;width:15.8px;height:2.4px;background:#e87b9f"></div><div style="position:absolute;top:656.74px;font:400 15.5px/15.5px 'Liberation Mono',monospace;color:#e87b9f;white-space:nowrap;left:849.7px;transform-origin:0 50%;transform:scaleX(1.0407);opacity:.95;">exp3_COCO128_YOLOv5x</div><div style="position:absolute;left:814px;top:678.4px;width:15.8px;height:2.4px;background:#7d54b2"></div><div style="position:absolute;top:676.74px;font:400 15.5px/15.5px 'Liberation Mono',monospace;color:#7d54b2;white-space:nowrap;left:849.7px;transform-origin:0 50%;transform:scaleX(1.0407);opacity:.95;">exp2_COCO128_YOLOv5l</div><div style="position:absolute;left:814px;top:698.4px;width:15.8px;height:2.4px;background:#479a5f"></div><div style="position:absolute;top:696.74px;font:400 15.5px/15.5px 'Liberation Mono',monospace;color:#479a5f;white-space:nowrap;left:849.7px;transform-origin:0 50%;transform:scaleX(1.0407);opacity:.95;">exp1_COCO128_YOLOv5m</div><div style="position:absolute;left:814px;top:718.4px;width:15.8px;height:2.4px;background:#da4c4c"></div><div style="position:absolute;top:716.74px;font:400 15.5px/15.5px 'Liberation Mono',monospace;color:#da4c4c;white-space:nowrap;left:849.7px;transform-origin:0 50%;transform:scaleX(1.0407);opacity:.95;">exp0_COCO128_YOLOv5s</div><svg style="position:absolute;left:672.5px;top:573px" width="510" height="479" viewBox="672.5 573 510 479"><path d="M753.3 951H1135.9" stroke="#ededf0" stroke-width="1.3"/><path d="M753.3 914.3H1135.9" stroke="#ededf0" stroke-width="1.3"/><path d="M753.3 877.6H1135.9" stroke="#ededf0" stroke-width="1.3"/><path d="M753.3 840.9H1135.9" stroke="#ededf0" stroke-width="1.3"/><path d="M753.3 804.2H1135.9" stroke="#ededf0" stroke-width="1.3"/><path d="M753.3 767.5H1135.9" stroke="#ededf0" stroke-width="1.3"/><path d="M753.3 987.7H1135.9" stroke="#e5e5ea" stroke-width="3.2"/><path d="M812.4 978.1V997.4" stroke="#e6e6eb" stroke-width="1.8"/><path d="M875.6 978.1V997.4" stroke="#e6e6eb" stroke-width="1.8"/><path d="M938.8 978.1V997.4" stroke="#e6e6eb" stroke-width="1.8"/><path d="M1002 978.1V997.4" stroke="#e6e6eb" stroke-width="1.8"/><path d="M1065.2 978.1V997.4" stroke="#e6e6eb" stroke-width="1.8"/><path d="M1128.4 978.1V997.4" stroke="#e6e6eb" stroke-width="1.8"/><path d="M752.99 784.46 754.13 769.95 755.27 758.5 756.4 784.74 757.54 805.76 758.68 809.51 759.82 807.49 760.96 803.99 762.09 803.14 763.23 825.68 764.37 817.49 765.51 800.58 766.64 809.92 767.78 814.3 768.92 825.75 770.06 817.81 771.19 807.62 772.33 814.21 773.47 823.04 774.61 819.16 775.74 829.59 776.88 849.51 778.02 837.32 779.16 830.36 780.29 851.2 781.43 854.71 782.57 847.4 783.71 852.38 784.84 860.64 785.98 850.07 787.12 833.63 788.26 836.5 789.4 849.57 790.53 845.66 791.67 835.65 792.81 839.48 793.95 842.19 795.08 834.05 796.22 838.71 797.36 851.94 798.5 848.14 799.63 842.05 800.77 838.54 801.91 849.83 803.05 861.41 804.18 858.68 805.32 864.7 806.46 861.68 807.6 849.59 808.73 855.92 809.87 850.95 811.01 844.22 812.15 848.37 813.28 851.81 814.42 850.66 815.56 861.2 816.7 862.58 817.84 851.93 818.97 864.48 820.11 867.06 821.25 858.5 822.39 857.76 823.52 858.74 824.66 863.64 825.8 860.54 826.94 865.15 828.07 865.27 829.21 861.83 830.35 862.92 831.49 865.63 832.62 862.13 833.76 857.29 834.9 862.44 836.04 861.96 837.17 856.21 838.31 851.81 839.45 864.71 840.59 868.35 841.72 859.94 842.86 865.78 844 872.59 845.14 868.75 846.28 870.31 847.41 873.87 848.55 864.52 849.69 873.12 850.83 880 851.96 879.79 853.1 876.8 854.24 865.31 855.38 858.91 856.51 870.62 857.65 880.11 858.79 870.83 859.93 863.33 861.06 865.16 862.2 872.4 863.34 873.11 864.48 871.93 865.61 873.34 866.75 877.38 867.89 875.33 869.03 871.33 870.16 873.76 871.3 875.31 872.44 879.92 873.58 880.71 874.72 871.74 875.85 870.96 876.99 879.25 878.13 873.86 879.27 867.91 880.4 864.83 881.54 865.71 882.68 873.26 883.82 878.25 884.95 873.1 886.09 860.07 887.23 867.16 888.37 877.24 889.5 873.03 890.64 872.52 891.78 875.21 892.92 874.22 894.05 872.9 895.19 869.31 896.33 869.7 897.47 868.9 898.6 870.39 899.74 871.45 900.88 877 902.02 883.13 903.16 874.43 904.29 871.56 905.43 871.41 906.57 868.59 907.71 866.94 908.84 866.64 909.98 867.9 911.12 870.58 912.26 875.48 913.39 877.36 914.53 877.52 915.67 879.55 916.81 879.87 917.94 877.73 919.08 875.08 920.22 876.33 921.36 882.43 922.49 881.68 923.63 876.2 924.77 873.3 925.91 871.95 927.04 876.35 928.18 879.62 929.32 872.92 930.46 869.19 931.6 869.82 932.73 865.91 933.87 873.3 935.01 877.79 936.15 874.84 937.28 875.24 938.42 875.52 939.56 876.28 940.7 876.75 941.83 881.74 942.97 882.6 944.11 880.31 945.25 879.58 946.38 878.23 947.52 876.75 948.66 873.27 949.8 874.03 950.93 875.41 952.07 875.5 953.21 878.02 954.35 878.47 955.48 878.87 956.62 877.85 957.76 876.91 958.9 876.22 960.04 879.31 961.17 878.22 962.31 876.81 963.45 880.89 964.59 880.44 965.72 880.58 966.86 880.27 968 880.23 969.14 884.32 970.27 886 971.41 881.06 972.55 880.08 973.69 886.54 974.82 887.31 975.96 888.62 977.1 884.47 978.24 884.72 979.37 887.76 980.51 883.37 981.65 888.43 982.79 888.85 983.92 883.34 985.06 883.01 986.2 884.78 987.34 883.59 988.48 883.86 989.61 885.76 990.75 886.28 991.89 885.3 993.03 887.51 994.16 886.83 995.3 885.47 996.44 890.4 997.58 889.01 998.71 883.03 999.85 881.67 1000.99 886.75 1002.13 887.8 1003.26 887.73 1004.4 890.49 1005.54 890.17 1006.68 895.38 1007.81 895.56 1008.95 893.3 1010.09 896.15 1011.23 897.87 1012.36 900.15 1013.5 899.69 1014.64 894.19 1015.78 887.91 1016.92 890.26 1018.05 891.3 1019.19 891.73 1020.33 898.81 1021.47 898.02 1022.6 893.26 1023.74 894.41 1024.88 895.44 1026.02 893.63 1027.15 896.37 1028.29 902.01 1029.43 900.61 1030.57 897.23 1031.7 897.83 1032.84 894.81 1033.98 891.04 1035.12 893.96 1036.25 897.19 1037.39 894.38 1038.53 894.45 1039.67 895.29 1040.8 898.19 1041.94 898.22 1043.08 893.49 1044.22 892.83 1045.36 898.85 1046.49 899.09 1047.63 895.1 1048.77 894.89 1049.91 898.68 1051.04 896.24 1052.18 898.42 1053.32 901.01 1054.46 898.2 1055.59 901.5 1056.73 899.06 1057.87 895.5 1059.01 901.17 1060.14 900.43 1061.28 898.68 1062.42 904.2 1063.56 904.39 1064.69 899.82 1065.83 897.22 1066.97 897.04 1068.11 899.2 1069.24 899.05 1070.38 899.35 1071.52 898.54 1072.66 897.88 1073.8 900.21 1074.93 899.89 1076.07 903.52 1077.21 906.08 1078.35 900.58 1079.48 898.15 1080.62 902.51 1081.76 902.12 1082.9 903.11 1084.03 903.14 1085.17 903.71 1086.31 903.42 1087.45 905.81 1088.58 903.6 1089.72 901.41 1090.86 907.79 1092 907.53 1093.13 904.8 1094.27 904.33 1095.41 906.08 1096.55 905.77 1097.68 895.44 1098.82 899.14 1099.96 906.2 1101.1 903.87 1102.24 904.98 1103.37 908.7 1104.51 911.78 1105.65 907.17 1106.79 904.45 1107.92 902.6 1109.06 903.7 1110.2 907.02 1111.34 900.57 1112.47 902.73 1113.61 910.13 1114.75 908.4 1115.89 907.04 1117.02 905.67 1118.16 905.92 1119.3 909.4 1120.44 908.94 1121.57 901.6 1122.71 899.24 1123.85 910.66 1124.99 914.03 1126.12 909.68 1127.26 908.8 1128.4 906.9 1129.54 904.58 1130.68 902.79 1131.81 904.89 1132.95 906.29 1134.09 908.55" stroke="#e87b9f" stroke-width="1.6" fill="none" opacity=".16" stroke-linejoin="round"/><path d="M752.99 797.25 754.13 813.49 755.27 808.53 756.4 822.6 757.54 831.21 758.68 814.01 759.82 802.79 760.96 813.31 762.09 804.03 763.23 795.07 764.37 823.76 765.51 807.01 766.64 782.15 767.78 798 768.92 823.52 770.06 824.6 771.19 823.73 772.33 828.26 773.47 807.58 774.61 802 775.74 815.02 776.88 816.72 778.02 821.17 779.16 817.58 780.29 811.71 781.43 824.34 782.57 832.22 783.71 811.39 784.84 810.55 785.98 831.63 787.12 820.01 788.26 818.7 789.4 842.99 790.53 838.71 791.67 837.25 792.81 846.26 793.95 840.68 795.08 839.26 796.22 848.39 797.36 851.48 798.5 853.18 799.63 843.68 800.77 845.82 801.91 858.88 803.05 844.48 804.18 843.04 805.32 848.03 806.46 837.54 807.6 847.45 808.73 862.71 809.87 859.51 811.01 848.83 812.15 846 813.28 849.05 814.42 849.58 815.56 843.2 816.7 856.76 817.84 859.05 818.97 854.02 820.11 864.61 821.25 866.61 822.39 855.11 823.52 850.46 824.66 870.65 825.8 875.73 826.94 867.6 828.07 868.4 829.21 869.65 830.35 876.24 831.49 871.13 832.62 869.78 833.76 874.36 834.9 871.69 836.04 873.22 837.17 866.39 838.31 861.83 839.45 868.29 840.59 874.55 841.72 873.57 842.86 865.34 844 863.08 845.14 866.52 846.28 868.45 847.41 871.77 848.55 870.71 849.69 878.77 850.83 871.76 851.96 866.68 853.1 874.73 854.24 867.24 855.38 864.3 856.51 868.21 857.65 871.92 858.79 876.55 859.93 871.41 861.06 861.9 862.2 865.34 863.34 864.5 864.48 863.73 865.61 871.12 866.75 866.71 867.89 863.07 869.03 861.9 870.16 864.99 871.3 870.61 872.44 875.04 873.58 876.15 874.72 874.02 875.85 873.89 876.99 868.51 878.13 866.62 879.27 875.39 880.4 865.98 881.54 863.12 882.68 874.95 883.82 868.04 884.95 861.82 886.09 870.19 887.23 879.3 888.37 878.92 889.5 870.77 890.64 868.63 891.78 874.58 892.92 874.2 894.05 868.55 895.19 872.72 896.33 877.72 897.47 878.06 898.6 871.58 899.74 862.29 900.88 866.28 902.02 872.23 903.16 873.52 904.29 879.67 905.43 880.77 906.57 879.02 907.71 884.03 908.84 882.42 909.98 879.49 911.12 876.64 912.26 874.45 913.39 875.39 914.53 880.16 915.67 879.21 916.81 877 917.94 875.38 919.08 877.22 920.22 888.02 921.36 886.93 922.49 873.68 923.63 871.8 924.77 878.79 925.91 878.1 927.04 876.35 928.18 878.46 929.32 881.84 930.46 883.89 931.6 881.82 932.73 883.51 933.87 886.88 935.01 884.9 936.15 879.96 937.28 879.36 938.42 880.78 939.56 881.69 940.7 876.85 941.83 878.05 942.97 883.05 944.11 879.48 945.25 881.91 946.38 886.26 947.52 883.85 948.66 880.71 949.8 882.81 950.93 886.58 952.07 887.31 953.21 891.53 954.35 889.13 955.48 887.21 956.62 894.66 957.76 895.19 958.9 895.4 960.04 897.65 961.17 893.43 962.31 893.87 963.45 891.47 964.59 892.8 965.72 895.29 966.86 890.93 968 888.16 969.14 887.36 970.27 890.27 971.41 892.37 972.55 893.02 973.69 891.05 974.82 892.53 975.96 894.18 977.1 892.67 978.24 893.25 979.37 894.15 980.51 890.02 981.65 891.3 982.79 895.61 983.92 893.17 985.06 893.78 986.2 893.69 987.34 894.3 988.48 892.94 989.61 897.15 990.75 898.81 991.89 898 993.03 897.56 994.16 897.36 995.3 899.81 996.44 897.06 997.58 891.69 998.71 890.89 999.85 893.64 1000.99 892.47 1002.13 896.02 1003.26 904.54 1004.4 903.73 1005.54 899.18 1006.68 895.78 1007.81 890.33 1008.95 896.65 1010.09 896.18 1011.23 890.22 1012.36 894.03 1013.5 896.65 1014.64 893.03 1015.78 893.85 1016.92 900.35 1018.05 900 1019.19 901.86 1020.33 900.85 1021.47 898.03 1022.6 898.41 1023.74 897.52 1024.88 900.93 1026.02 898.77 1027.15 898.55 1028.29 900.31 1029.43 901.39 1030.57 902.84 1031.7 900.78 1032.84 901.44 1033.98 901.17" stroke="#7d54b2" stroke-width="1.6" fill="none" opacity=".16" stroke-linejoin="round"/><path d="M752.99 790.68 754.13 817.82 755.27 818.08 756.4 805.34 757.54 790.05 758.68 791.98 759.82 786.39 760.96 784.09 762.09 783.12 763.23 773.55 764.37 789.63 765.51 787.87 766.64 785.88 767.78 782.18 768.92 777.25 770.06 797.86 771.19 827.66 772.33 849.83 773.47 840.96 774.61 813.36 775.74 807.52 776.88 815.19 778.02 821.75 779.16 828.74 780.29 830.53 781.43 822.05 782.57 835.61 783.71 836.1 784.84 835.56 785.98 844.47 787.12 840.06 788.26 843.49 789.4 846.64 790.53 850.82 791.67 847.36 792.81 847.28 793.95 828.32 795.08 824.17 796.22 847.08 797.36 847.6 798.5 850.75 799.63 862.67 800.77 858.41 801.91 841.44 803.05 849.82 804.18 854.17 805.32 852.92 806.46 853.13 807.6 844.48 808.73 842.64 809.87 846.95 811.01 854.62 812.15 854.28 813.28 853.85 814.42 856.49 815.56 850.56 816.7 853.62 817.84 864.97 818.97 861.3 820.11 857.89 821.25 866.07 822.39 865.54 823.52 857.24 824.66 852.93 825.8 866.87 826.94 862.95 828.07 842.91 829.21 837.63 830.35 851.25 831.49 860.08 832.62 855.31 833.76 852.09 834.9 853.41 836.04 862.97 837.17 860.68 838.31 853.04 839.45 860.96 840.59 863.41 841.72 855.35 842.86 853.92 844 851.85 845.14 849.02 846.28 848.28 847.41 851.49 848.55 858.14 849.69 855.35 850.83 844.26 851.96 838.31 853.1 842.6 854.24 851.12 855.38 845.53 856.51 840.59 857.65 843.59 858.79 846.31 859.93 849.76 861.06 850.4 862.2 850.97 863.34 853.82 864.48 850.62 865.61 851.88 866.75 858.82 867.89 861.54 869.03 854.29 870.16 852.53 871.3 856.09 872.44 855.07 873.58 851.8 874.72 851.77 875.85 857.42 876.99 861.07 878.13 859.39 879.27 862.65 880.4 866.6 881.54 864.15 882.68 862.75 883.82 856.38 884.95 854.45 886.09 862.36 887.23 863.1 888.37 857.29 889.5 858.83 890.64 865.56 891.78 865.64 892.92 866.14 894.05 864.82 895.19 861.48 896.33 866.23 897.47 870.67 898.6 861.54 899.74 863.66 900.88 868.89 902.02 870.39 903.16 877.68 904.29 875.96 905.43 865.6 906.57 866.21 907.71 875.1 908.84 873.73 909.98 868.79 911.12 867.48 912.26 866.31 913.39 871.13 914.53 872.74 915.67 877.27 916.81 876.79 917.94 872.13 919.08 873.17 920.22 871.41 921.36 876.35 922.49 880.24 923.63 882.07 924.77 888.44 925.91 887.48 927.04 882.01 928.18 885.24 929.32 883.96 930.46 881.3 931.6 882.05 932.73 884.62 933.87 891.07 935.01 886.69 936.15 880.46 937.28 883.14 938.42 885.8 939.56 886.66 940.7 886.15 941.83 886.64 942.97 891.68 944.11 888.41 945.25 887.52 946.38 890.97 947.52 888.56 948.66 887.37 949.8 891.07 950.93 889.12 952.07 884.2 953.21 885.43 954.35 884.55 955.48 888.76 956.62 900.46 957.76 897.53 958.9 887.37 960.04 885.75 961.17 890.37 962.31 893.8 963.45 892.16 964.59 896.21 965.72 898.94 966.86 895.91 968 890.77 969.14 890.18 970.27 890.17 971.41 888.88 972.55 897.25 973.69 891.86 974.82 890.93 975.96 894.81 977.1 888.75 978.24 890.85 979.37 898.78 980.51 894.86 981.65 891.69 982.79 897.24 983.92 900.2 985.06 897.44 986.2 892.42 987.34 892.33 988.48 893.76 989.61 889.06 990.75 888.26 991.89 889.18 993.03 888.26 994.16 895.3 995.3 895.7 996.44 891.49 997.58 894.15" stroke="#479a5f" stroke-width="1.6" fill="none" opacity=".16" stroke-linejoin="round"/><path d="M752.99 753.7 754.13 760.08 755.27 769.55 756.4 759.59 757.54 749.45 758.68 772.68 759.82 769.39 760.96 773.21 762.09 794.3 763.23 778.83 764.37 760.38 765.51 768.31 766.64 786.09 767.78 773.39 768.92 775.31 770.06 778.71 771.19 778 772.33 788.31 773.47 794.61 774.61 788.84 775.74 797.19 776.88 794.02 778.02 808.79 779.16 827.75 780.29 799.83 781.43 789.23 782.57 808.39 783.71 809.77 784.84 798.76 785.98 805.83 787.12 807.57 788.26 807.06 789.4 813.97 790.53 814.93 791.67 807.87 792.81 815.46 793.95 828.34 795.08 818.06 796.22 826.51 797.36 842.63 798.5 832.93 799.63 826.55 800.77 831.49 801.91 829.85 803.05 836.75 804.18 820.42 805.32 821.14 806.46 842.05 807.6 845.89 808.73 846.19 809.87 829.8 811.01 827.91 812.15 834.36 813.28 837.34 814.42 830.98 815.56 827.61 816.7 843.53 817.84 840.39 818.97 836.19 820.11 837.02 821.25 834.76 822.39 837.16 823.52 837.69 824.66 843.69 825.8 851.33 826.94 841.17 828.07 834.75 829.21 837.4 830.35 837.36 831.49 847.5 832.62 849.92 833.76 832.84 834.9 830.35 836.04 837.53 837.17 840.32 838.31 839.8 839.45 835.58 840.59 835.41 841.72 834.45 842.86 836.9 844 839.52 845.14 836.92 846.28 834.36 847.41 835.2 848.55 830.14 849.69 828.73 850.83 834.78 851.96 837.11 853.1 833.52 854.24 835.38 855.38 845.38 856.51 844.27 857.65 835.79 858.79 837.58 859.93 835.55 861.06 831.79 862.2 842.31 863.34 844.51 864.48 832.42 865.61 835.28 866.75 846.45 867.89 842.18 869.03 832.67 870.16 830.82 871.3 836.63 872.44 840.11 873.58 837.47 874.72 835.24 875.85 829.59 876.99 834.91 878.13 838.14 879.27 838.96 880.4 842.64 881.54 845.69 882.68 850.88 883.82 846.4 884.95 846.76 886.09 845.18 887.23 843.95 888.37 847.18 889.5 846.69 890.64 848.99 891.78 848.44 892.92 844.42 894.05 837.12 895.19 845.6 896.33 855.43 897.47 853.26 898.6 856.66 899.74 854.89 900.88 853.83 902.02 855.61 903.16 850.86 904.29 856.32 905.43 858.49 906.57 851.9 907.71 856.02 908.84 856.75 909.98 854.3 911.12 857.73 912.26 855.02 913.39 856.98 914.53 859 915.67 856.52 916.81 860.44 917.94 860.84 919.08 859.49 920.22 857.01 921.36 859.89 922.49 863.17 923.63 860.73 924.77 856.48 925.91 858.64 927.04 861.15 928.18 862.56 929.32 864.25 930.46 860.21 931.6 860.53 932.73 861.99 933.87 868.9 935.01 870.97 936.15 863.47 937.28 858.62 938.42 863.9 939.56 862.32 940.7 862.23 941.83 867.11 942.97 868.63 944.11 863.9 945.25 856.09 946.38 861.39 947.52 866.33 948.66 862.44 949.8 858.25 950.93 867.72 952.07 872.19 953.21 864.73 954.35 869.17 955.48 869.64 956.62 865.37 957.76 864.4 958.9 866.17 960.04 867.18 961.17 867.59 962.31 867.76 963.45 865.85 964.59 867.48 965.72 871.86 966.86 866.98 968 860.92 969.14 863.04 970.27 867.13 971.41 869.29" stroke="#da4c4c" stroke-width="1.6" fill="none" opacity=".16" stroke-linejoin="round"/><path d="M752.99 784.28 754.13 775.52 755.27 768.94 756.4 787.42 757.54 802.33 758.68 806.18 759.82 807.96 760.96 806.19 762.09 805.88 763.23 821.96 764.37 816.7 765.51 805.93 766.64 812.01 767.78 816.38 768.92 824.22 770.06 818 771.19 811.64 772.33 815.95 773.47 821.59 774.61 820.62 775.74 829.06 776.88 842.45 778.02 833.89 779.16 829.31 780.29 843.69 781.43 847.02 782.57 844.02 783.71 848.11 784.84 853.67 785.98 846.25 787.12 836 788.26 838.16 789.4 847.17 790.53 844.8 791.67 838.29 792.81 840.34 793.95 842.69 795.08 837.65 796.22 840.47 797.36 849.54 798.5 846.94 799.63 843.18 800.77 841.3 801.91 849.38 803.05 857.3 804.18 855.51 805.32 859.33 806.46 858.46 807.6 850.93 808.73 855.6 809.87 852.23 811.01 848.56 812.15 851.17 813.28 853.81 814.42 853.24 815.56 860.65 816.7 861.34 817.84 854.05 818.97 862.37 820.11 864.59 821.25 858.54 822.39 858.58 823.52 859.2 824.66 862.79 825.8 861 826.94 864.23 828.07 864.84 829.21 862.61 830.35 863.55 831.49 865.63 832.62 862.97 833.76 859.82 834.9 862.99 836.04 862.48 837.17 858.86 838.31 856.15 839.45 864.92 840.59 867.21 841.72 861.71 842.86 866.25 844 871.03 845.14 869.17 846.28 870.38 847.41 873.04 848.55 867.2 849.69 872.85 850.83 877.64 851.96 877.88 853.1 875.55 854.24 867.68 855.38 863.56 856.51 870.96 857.65 877.13 858.79 870.97 859.93 866.18 861.06 867.68 862.2 871.95 863.34 872.51 864.48 872.31 865.61 873.08 866.75 876.36 867.89 875.01 869.03 872.21 870.16 874.11 871.3 875 872.44 878.27 873.58 878.75 874.72 872.59 875.85 872.14 876.99 877.41 878.13 873.73 879.27 870.02 880.4 867.75 881.54 868.05 882.68 872.72 883.82 876.08 884.95 872.93 886.09 864.22 887.23 869.01 888.37 875.64 889.5 872.97 890.64 872.19 891.78 873.98 892.92 873.54 894.05 872.72 895.19 870.69 896.33 870.9 897.47 869.82 898.6 870.88 899.74 871.28 900.88 875.13 902.02 879.53 903.16 873.78 904.29 871.74 905.43 871.3 906.57 869.63 907.71 868.73 908.84 868.71 909.98 869.67 911.12 871.44 912.26 874.66 913.39 875.93 914.53 876.34 915.67 878.05 916.81 878.32 917.94 877.22 919.08 875.28 920.22 876.33 921.36 880.38 922.49 879.88 923.63 876.43 924.77 874.61 925.91 873.55 927.04 876.31 928.18 878.35 929.32 874.12 930.46 871.75 931.6 872.2 932.73 869.51 933.87 874.49 935.01 877.37 936.15 875.59 937.28 876.2 938.42 876.57 939.56 876.99 940.7 877.1 941.83 880.61 942.97 881.17 944.11 879.53 945.25 879.06 946.38 877.91 947.52 876.85 948.66 874.49 949.8 874.97 950.93 875.91 952.07 875.78 953.21 877.68 954.35 877.89 955.48 878.27 956.62 877.76 957.76 877.27 958.9 876.73 960.04 878.66 961.17 877.81 962.31 876.88 963.45 879.59 964.59 879.67 965.72 879.95 966.86 880.07 968 879.96 969.14 882.92 970.27 884.41 971.41 881.47 972.55 881.28 973.69 885.65 974.82 886.39 975.96 887.36 977.1 884.67 978.24 884.95 979.37 886.89 980.51 884.24 981.65 887.73 982.79 887.93 983.92 884.43 985.06 884.24 986.2 885.38 987.34 884.58 988.48 884.75 989.61 886.17 990.75 886.44 991.89 885.66 993.03 887.23 994.16 886.64 995.3 885.59 996.44 889.03 997.58 888.38 998.71 884.65 999.85 883.76 1000.99 887.06 1002.13 887.92 1003.26 887.88 1004.4 890.02 1005.54 890.18 1006.68 893.64 1007.81 893.9 1008.95 892.69 1010.09 894.88 1011.23 896.27 1012.36 897.91 1013.5 897.9 1014.64 894.22 1015.78 889.94 1016.92 891.62 1018.05 892.16 1019.19 892.37 1020.33 897.11 1021.47 896.63 1022.6 893.73 1023.74 894.39 1024.88 895.33 1026.02 894.3 1027.15 896.13 1028.29 900.25 1029.43 899.33 1030.57 896.89 1031.7 897.4 1032.84 895.26 1033.98 893.14 1035.12 894.94 1036.25 897.45 1037.39 895.67 1038.53 895.75 1039.67 896.74 1040.8 898.82 1041.94 898.56 1043.08 895.69 1044.22 895.03 1045.36 899.03 1046.49 899.1 1047.63 896.54 1048.77 896.08 1049.91 898.47 1051.04 896.91 1052.18 898.6 1053.32 900.42 1054.46 898.53 1055.59 900.52 1056.73 899.02 1057.87 896.6 1059.01 900.51 1060.14 899.94 1061.28 898.72 1062.42 902.37 1063.56 902.33 1064.69 899.39 1065.83 897.79 1066.97 897.5 1068.11 899.28 1069.24 899.39 1070.38 899.47 1071.52 899.24 1072.66 898.84 1073.8 900.54 1074.93 900.54 1076.07 903.22 1077.21 904.84 1078.35 901.25 1079.48 899.56 1080.62 902.61 1081.76 902.18 1082.9 903.05 1084.03 903.02 1085.17 903.45 1086.31 903.12 1087.45 904.87 1088.58 903.42 1089.72 902.01 1090.86 906.26 1092 906.22 1093.13 904.35 1094.27 904.17 1095.41 905.35 1096.55 905.22 1097.68 898.34 1098.82 900.82 1099.96 905.49 1101.1 903.83 1102.24 904.88 1103.37 907.54 1104.51 909.65 1105.65 906.69 1106.79 904.74 1107.92 903.77 1109.06 904.36 1110.2 906.63 1111.34 902.87 1112.47 904.35 1113.61 908.95 1114.75 907.72 1115.89 907 1117.02 906.29 1118.16 906.7 1119.3 909.02 1120.44 908.6 1121.57 903.67 1122.71 902.04 1123.85 909.57 1124.99 911.96 1126.12 908.93 1127.26 908.65 1128.4 907.21 1129.54 905.84 1130.68 904.87 1131.81 906.21 1132.95 907.05 1134.09 908.66" stroke="#e87b9f" stroke-width="2.7" fill="none" stroke-linejoin="round"/><circle cx="1134.09" cy="908.66" r="4.2" fill="#e87b9f"/><path d="M752.99 795.81 754.13 808.48 755.27 806.5 756.4 816.55 757.54 823.28 758.68 811.98 759.82 804.3 760.96 811.46 762.09 806.06 763.23 800.46 764.37 818.62 765.51 807.89 766.64 792.81 767.78 802.99 768.92 819.82 770.06 821.74 771.19 821.53 772.33 825.05 773.47 811.3 774.61 807.73 775.74 816.33 776.88 817.86 778.02 821.79 779.16 819.54 780.29 816.3 781.43 825.6 782.57 831.36 783.71 817.99 784.84 817.87 785.98 832.06 787.12 824.54 788.26 823.58 789.4 840 790.53 837.35 791.67 836.31 792.81 842.55 793.95 840.02 795.08 839.47 796.22 846.18 797.36 848.31 798.5 850.56 799.63 844.87 800.77 846.76 801.91 856.24 803.05 847.77 804.18 846.18 805.32 850.08 806.46 843.3 807.6 849.85 808.73 859.65 809.87 857.64 811.01 851 812.15 849.06 813.28 850.88 814.42 851.91 815.56 847.87 816.7 857.4 817.84 859.88 818.97 857.04 820.11 864.12 821.25 865.2 822.39 857.85 823.52 855.42 824.66 869.61 825.8 873.26 826.94 867.79 828.07 868.12 829.21 868.72 830.35 873.34 831.49 870.47 832.62 869.97 833.76 872.58 834.9 870.33 836.04 871.33 837.17 866.42 838.31 863.48 839.45 867.86 840.59 872.25 841.72 871.54 842.86 865.99 844 864.55 845.14 866.96 846.28 868.25 847.41 870.97 848.55 870.71 849.69 876.75 850.83 871.51 851.96 867.79 853.1 872.99 854.24 868.35 855.38 866.46 856.51 868.66 857.65 871.44 858.79 874 859.93 869.71 861.06 863.71 862.2 865.8 863.34 865.16 864.48 863.98 865.61 868.83 866.75 866.48 867.89 863.63 869.03 862.62 870.16 864.86 871.3 868.44 872.44 871.62 873.58 872.57 874.72 871.41 875.85 870.96 876.99 867.09 878.13 866.09 879.27 872.36 880.4 866.5 881.54 864.95 882.68 872.62 883.82 867.95 884.95 864.45 886.09 870.25 887.23 876.55 888.37 876.33 889.5 870.94 890.64 869.51 891.78 873.39 892.92 873.33 894.05 869.79 895.19 872.51 896.33 875.87 897.47 876.23 898.6 872.43 899.74 866.4 900.88 869.13 902.02 873.08 903.16 874.08 904.29 878.26 905.43 878.97 906.57 877.99 907.71 881.43 908.84 880.44 909.98 878.45 911.12 876.89 912.26 875.74 913.39 876.36 914.53 879.53 915.67 878.97 916.81 877.53 917.94 876.35 919.08 877.38 920.22 884.41 921.36 883.74 922.49 875.11 923.63 874.14 924.77 878.96 925.91 878.66 927.04 877.54 928.18 879.3 929.32 881.75 930.46 883.5 931.6 882.06 932.73 883.05 933.87 885.18 935.01 883.9 936.15 880.87 937.28 880.76 938.42 881.73 939.56 882.53 940.7 879.57 941.83 880.56 942.97 884.22 944.11 882.19 945.25 883.71 946.38 886.54 947.52 884.98 948.66 883.1 949.8 884.54 950.93 887.16 952.07 887.68 953.21 890.54 954.35 889.03 955.48 887.95 956.62 892.95 957.76 893.63 958.9 893.83 960.04 895.34 961.17 892.61 962.31 893.16 963.45 891.65 964.59 892.5 965.72 894.33 966.86 891.71 968 889.93 969.14 889.43 970.27 891.28 971.41 892.66 972.55 893.05 973.69 891.98 974.82 892.94 975.96 894.08 977.1 893.01 978.24 893.33 979.37 894.12 980.51 891.58 981.65 892.54 982.79 895.27 983.92 893.57 985.06 894.57 986.2 894.63 987.34 895.09 988.48 894.14 989.61 896.75 990.75 897.56 991.89 896.95 993.03 896.68 994.16 896.5 995.3 897.97 996.44 896.1 997.58 892.61 998.71 892.36 999.85 894.23 1000.99 893.77 1002.13 896.36 1003.26 902.13 1004.4 901.75 1005.54 898.61 1006.68 896.56 1007.81 893.03 1008.95 897.34 1010.09 897.15 1011.23 893.52 1012.36 896.03 1013.5 897.69 1014.64 895.32 1015.78 895.91 1016.92 900.12 1018.05 899.8 1019.19 900.95 1020.33 900.18 1021.47 898.34 1022.6 898.61 1023.74 898.08 1024.88 900.44 1026.02 899.01 1027.15 898.82 1028.29 900.3 1029.43 900.91 1030.57 901.98 1031.7 900.48 1032.84 900.89 1033.98 900.75" stroke="#7d54b2" stroke-width="2.7" fill="none" stroke-linejoin="round"/><circle cx="1033.98" cy="900.75" r="4.2" fill="#7d54b2"/><path d="M752.99 789.58 754.13 808.58 755.27 809.88 756.4 801.9 757.54 792.82 758.68 794.3 759.82 789.79 760.96 788.64 762.09 788.42 763.23 782.67 764.37 793.15 765.51 792.2 766.64 791.73 767.78 789.97 768.92 787.75 770.06 802.57 771.19 822.68 772.33 837.53 773.47 831.4 774.61 814.59 775.74 811.01 776.88 816.75 778.02 821.1 779.16 825.9 780.29 828 781.43 822.31 782.57 831.87 783.71 833.48 784.84 833.82 785.98 840.52 787.12 838.34 788.26 841.31 789.4 843.4 790.53 845.53 791.67 844.19 792.81 844.26 793.95 831.51 795.08 828.77 796.22 844.58 797.36 844.72 798.5 846.94 799.63 854.67 800.77 852.27 801.91 841.19 803.05 846.94 804.18 850.82 805.32 850.17 806.46 850.27 807.6 844.72 808.73 843.9 809.87 848.6 811.01 853.98 812.15 854.57 813.28 854.65 814.42 856.28 815.56 852.45 816.7 854.27 817.84 862.14 818.97 860.18 820.11 856.89 821.25 862.54 822.39 862.03 823.52 856.69 824.66 853.94 825.8 862.73 826.94 860.33 828.07 847.25 829.21 843.56 830.35 853.06 831.49 859.25 832.62 856.14 833.76 854.17 834.9 854.68 836.04 861.3 837.17 860.15 838.31 855.01 839.45 859.86 840.59 860.84 841.72 855.03 842.86 854.17 844 852.43 845.14 850.77 846.28 850.04 847.41 852.01 848.55 856.09 849.69 854.35 850.83 846.93 851.96 842.7 853.1 845 854.24 850.96 855.38 847.29 856.51 844.27 857.65 845.76 858.79 847.56 859.93 849.59 861.06 850.1 862.2 850.63 863.34 852.6 864.48 850.18 865.61 851.02 866.75 855.55 867.89 857.94 869.03 853.66 870.16 852.82 871.3 855.58 872.44 855.14 873.58 853.11 874.72 853.61 875.85 857.56 876.99 860.28 878.13 859.09 879.27 861.32 880.4 863.95 881.54 862.34 882.68 861.64 883.82 857.75 884.95 856.64 886.09 861.94 887.23 862.31 888.37 858.75 889.5 859.67 890.64 864.25 891.78 864.53 892.92 865.1 894.05 864.59 895.19 862.53 896.33 865.86 897.47 869.2 898.6 863.16 899.74 864.8 900.88 868.17 902.02 869.28 903.16 874.08 904.29 873.16 905.43 866.59 906.57 866.75 907.71 872.62 908.84 871.98 909.98 868.94 911.12 868.36 912.26 868.02 913.39 871.65 914.53 872.73 915.67 875.78 916.81 876.06 917.94 873.33 919.08 874.37 920.22 873.45 921.36 877.13 922.49 879.88 923.63 881.14 924.77 885.77 925.91 885.55 927.04 882.16 928.18 884.53 929.32 883.75 930.46 882.19 931.6 882.66 932.73 884.43 933.87 888.88 935.01 885.86 936.15 881.75 937.28 883.62 938.42 885.32 939.56 886.04 940.7 885.77 941.83 886.02 942.97 889.38 944.11 887.23 945.25 886.81 946.38 889.29 947.52 887.95 948.66 887.27 949.8 889.82 950.93 888.7 952.07 885.8 953.21 886.64 954.35 886.31 955.48 889.17 956.62 897.1 957.76 895.13 958.9 888.84 960.04 887.95 961.17 890.97 962.31 893.33 963.45 892.41 964.59 894.97 965.72 896.91 966.86 894.84 968 891.61 969.14 890.95 970.27 890.91 971.41 890.18 972.55 895.85 973.69 892.28 974.82 891.98 975.96 894.51 977.1 890.69 978.24 891.78 979.37 897.35 980.51 894.72 981.65 892.61 982.79 896.32 983.92 898.35 985.06 896.22 986.2 892.86 987.34 892.87 988.48 894.1 989.61 890.96 990.75 890.7 991.89 891.47 993.03 890.45 994.16 895.01 995.3 895.44 996.44 892.81 997.58 894.35" stroke="#479a5f" stroke-width="2.7" fill="none" stroke-linejoin="round"/><circle cx="997.58" cy="894.35" r="4.2" fill="#479a5f"/><path d="M752.99 753.86 754.13 759.05 755.27 766.7 756.4 760.31 757.54 754.22 758.68 771.31 759.82 771.26 760.96 774.4 762.09 788.98 763.23 779.14 764.37 767.83 765.51 772.64 766.64 785.51 767.78 778.53 768.92 781.7 770.06 784.38 771.19 784.99 772.33 792.43 773.47 797.43 774.61 793.5 775.74 799.86 776.88 798.76 778.02 807.53 779.16 819.07 780.29 800.9 781.43 793.93 782.57 807.4 783.71 808.64 784.84 802.29 785.98 806.77 787.12 807.54 788.26 808.22 789.4 812.87 790.53 813.97 791.67 809.89 792.81 814.88 793.95 824.41 795.08 818.33 796.22 824.95 797.36 836.09 798.5 830.48 799.63 827.75 800.77 831.12 801.91 829.69 803.05 834.95 804.18 824.34 805.32 824.98 806.46 839.15 807.6 842.22 808.73 842.61 809.87 831.93 811.01 830.83 812.15 835.53 813.28 837.54 814.42 833.38 815.56 831.11 816.7 841.44 817.84 839.35 818.97 836.68 820.11 837.18 821.25 835.76 822.39 837.57 823.52 838.08 824.66 842.11 825.8 847.09 826.94 839.99 828.07 835.82 829.21 837.37 830.35 836.75 831.49 843.32 832.62 844.51 833.76 832.61 834.9 830.88 836.04 835.4 837.17 837.24 838.31 836.47 839.45 833.9 840.59 834.25 841.72 833.74 842.86 835.66 844 837.62 845.14 835.87 846.28 834.62 847.41 835.3 848.55 832.18 849.69 831.2 850.83 835.1 851.96 836.2 853.1 833.72 854.24 835.11 855.38 841.69 856.51 840.59 857.65 834.95 858.79 836.59 859.93 835.42 861.06 833.06 862.2 840.12 863.34 842.17 864.48 834.07 865.61 836.18 866.75 843.63 867.89 841.04 869.03 834.58 870.16 833.28 871.3 837.16 872.44 839.7 873.58 837.77 874.72 836.73 875.85 833.15 876.99 837.03 878.13 839.29 879.27 839.8 880.4 842.76 881.54 845.2 882.68 848.93 883.82 845.89 884.95 846.06 886.09 844.96 887.23 844.06 888.37 846.44 889.5 846.48 890.64 848.39 891.78 848.04 892.92 845.48 894.05 841.37 895.19 847.55 896.33 854.54 897.47 853.44 898.6 855.55 899.74 854.19 900.88 853.07 902.02 854.51 903.16 851.97 904.29 855.42 905.43 856.54 906.57 852.42 907.71 855.36 908.84 856.21 909.98 855.11 911.12 857.71 912.26 855.79 913.39 856.74 914.53 858.21 915.67 856.77 916.81 858.97 917.94 859.45 919.08 858.79 920.22 857.25 921.36 858.99 922.49 861.33 923.63 859.87 924.77 857.29 925.91 858.82 927.04 860.91 928.18 861.69 929.32 862.69 930.46 860.15 931.6 860.5 932.73 861.43 933.87 866.26 935.01 867.54 936.15 863.06 937.28 859.76 938.42 863.03 939.56 862.07 940.7 862.08 941.83 865.52 942.97 866.63 944.11 863.6 945.25 858.61 946.38 861.97 947.52 865.47 948.66 863.35 949.8 860.77 950.93 867.32 952.07 870.03 953.21 865.24 954.35 868.29 955.48 868.55 956.62 865.73 957.76 865.01 958.9 866.1 960.04 866.86 961.17 867.27 962.31 867.66 963.45 866.39 964.59 867.12 965.72 870.22 966.86 867.05 968 863.13 969.14 864.62 970.27 867.2 971.41 868.27" stroke="#da4c4c" stroke-width="2.7" fill="none" stroke-linejoin="round"/><circle cx="971.41" cy="868.27" r="4.2" fill="#da4c4c"/></svg><div style="position:absolute;top:980.59px;font:400 15.4px/15.4px 'Liberation Sans',sans-serif;color:#666;white-space:nowrap;right:1693px;transform-origin:100% 50%;transform:scaleX(0.9900);">0</div><div style="position:absolute;top:943.89px;font:400 15.4px/15.4px 'Liberation Sans',sans-serif;color:#666;white-space:nowrap;right:1693px;transform-origin:100% 50%;transform:scaleX(0.9900);">0.01</div><div style="position:absolute;top:907.19px;font:400 15.4px/15.4px 'Liberation Sans',sans-serif;color:#666;white-space:nowrap;right:1693px;transform-origin:100% 50%;transform:scaleX(0.9900);">0.02</div><div style="position:absolute;top:870.49px;font:400 15.4px/15.4px 'Liberation Sans',sans-serif;color:#666;white-space:nowrap;right:1693px;transform-origin:100% 50%;transform:scaleX(0.9900);">0.03</div><div style="position:absolute;top:833.79px;font:400 15.4px/15.4px 'Liberation Sans',sans-serif;color:#666;white-space:nowrap;right:1693px;transform-origin:100% 50%;transform:scaleX(0.9900);">0.04</div><div style="position:absolute;top:797.09px;font:400 15.4px/15.4px 'Liberation Sans',sans-serif;color:#666;white-space:nowrap;right:1693px;transform-origin:100% 50%;transform:scaleX(0.9900);">0.05</div><div style="position:absolute;top:760.39px;font:400 15.4px/15.4px 'Liberation Sans',sans-serif;color:#666;white-space:nowrap;right:1693px;transform-origin:100% 50%;transform:scaleX(0.9900);">0.06</div><div style="position:absolute;top:1009.89px;font:400 15.4px/15.4px 'Liberation Sans',sans-serif;color:#666;white-space:nowrap;left:812.4px;transform:translateX(-50%) scaleX(0.9750);">5</div><div style="position:absolute;top:1009.89px;font:400 15.4px/15.4px 'Liberation Sans',sans-serif;color:#666;white-space:nowrap;left:875.6px;transform:translateX(-50%) scaleX(0.9750);">10</div><div style="position:absolute;top:1009.89px;font:400 15.4px/15.4px 'Liberation Sans',sans-serif;color:#666;white-space:nowrap;left:938.8px;transform:translateX(-50%) scaleX(0.9750);">15</div><div style="position:absolute;top:1009.89px;font:400 15.4px/15.4px 'Liberation Sans',sans-serif;color:#666;white-space:nowrap;left:1002px;transform:translateX(-50%) scaleX(0.9750);">20</div><div style="position:absolute;top:1009.89px;font:400 15.4px/15.4px 'Liberation Sans',sans-serif;color:#666;white-space:nowrap;left:1065.2px;transform:translateX(-50%) scaleX(0.9750);">25</div><div style="position:absolute;top:1009.89px;font:400 15.4px/15.4px 'Liberation Sans',sans-serif;color:#666;white-space:nowrap;left:1128.4px;transform:translateX(-50%) scaleX(0.9750);">30</div><div style="position:absolute;top:964.44px;font:400 15.7px/15.7px 'Liberation Sans',sans-serif;color:#666;white-space:nowrap;right:1299.1px;transform-origin:100% 50%;transform:scaleX(1.0759);">Time (minutes)</div><div style="position:absolute;top:618.64px;font:700 20.5px/20.5px 'Liberation Sans',sans-serif;color:#2b2b2b;white-space:nowrap;left:1465px;transform:translateX(-50%) scaleX(0.9844);">train/cls_loss</div><div style="position:absolute;left:1351.5px;top:658.4px;width:15.8px;height:2.4px;background:#e87b9f"></div><div style="position:absolute;top:656.74px;font:400 15.5px/15.5px 'Liberation Mono',monospace;color:#e87b9f;white-space:nowrap;left:1387.2px;transform-origin:0 50%;transform:scaleX(1.0407);opacity:.95;">exp3_COCO128_YOLOv5x</div><div style="position:absolute;left:1351.5px;top:678.4px;width:15.8px;height:2.4px;background:#7d54b2"></div><div style="position:absolute;top:676.74px;font:400 15.5px/15.5px 'Liberation Mono',monospace;color:#7d54b2;white-space:nowrap;left:1387.2px;transform-origin:0 50%;transform:scaleX(1.0407);opacity:.95;">exp2_COCO128_YOLOv5l</div><div style="position:absolute;left:1351.5px;top:698.4px;width:15.8px;height:2.4px;background:#479a5f"></div><div style="position:absolute;top:696.74px;font:400 15.5px/15.5px 'Liberation Mono',monospace;color:#479a5f;white-space:nowrap;left:1387.2px;transform-origin:0 50%;transform:scaleX(1.0407);opacity:.95;">exp1_COCO128_YOLOv5m</div><div style="position:absolute;left:1351.5px;top:718.4px;width:15.8px;height:2.4px;background:#da4c4c"></div><div style="position:absolute;top:716.74px;font:400 15.5px/15.5px 'Liberation Mono',monospace;color:#da4c4c;white-space:nowrap;left:1387.2px;transform-origin:0 50%;transform:scaleX(1.0407);opacity:.95;">exp0_COCO128_YOLOv5s</div><svg style="position:absolute;left:1210px;top:573px" width="510" height="479" viewBox="1210 573 510 479"><path d="M1301.1 919.6H1673.1" stroke="#ededf0" stroke-width="1.3"/><path d="M1301.1 851.5H1673.1" stroke="#ededf0" stroke-width="1.3"/><path d="M1301.1 783.4H1673.1" stroke="#ededf0" stroke-width="1.3"/><path d="M1301.1 987.7H1673.1" stroke="#e5e5ea" stroke-width="3.2"/><path d="M1358.55 978.1V997.4" stroke="#e6e6eb" stroke-width="1.8"/><path d="M1420 978.1V997.4" stroke="#e6e6eb" stroke-width="1.8"/><path d="M1481.45 978.1V997.4" stroke="#e6e6eb" stroke-width="1.8"/><path d="M1542.9 978.1V997.4" stroke="#e6e6eb" stroke-width="1.8"/><path d="M1604.35 978.1V997.4" stroke="#e6e6eb" stroke-width="1.8"/><path d="M1665.8 978.1V997.4" stroke="#e6e6eb" stroke-width="1.8"/><path d="M1300.79 873.85 1301.89 869.46 1303 866.12 1304.11 867.54 1305.21 862.6 1306.32 873.68 1307.42 884.98 1308.53 885.66 1309.64 883.73 1310.74 873.84 1311.85 874.25 1312.95 877.61 1314.06 888.23 1315.17 893.24 1316.27 889.47 1317.38 883.21 1318.48 876.38 1319.59 881.58 1320.7 886.57 1321.8 888.5 1322.91 888.65 1324.02 893.44 1325.12 897.98 1326.23 899.58 1327.33 902.45 1328.44 905.77 1329.55 906.16 1330.65 907.55 1331.76 905.58 1332.86 908.61 1333.97 909.83 1335.08 907.34 1336.18 911.73 1337.29 913.54 1338.39 913.02 1339.5 909.62 1340.61 909.51 1341.71 911.87 1342.82 913.08 1343.92 907.26 1345.03 907.48 1346.14 916.24 1347.24 915.68 1348.35 914.9 1349.46 916.62 1350.56 914.82 1351.67 917.79 1352.77 925.18 1353.88 925.61 1354.99 919.48 1356.09 919.75 1357.2 920.93 1358.3 917.97 1359.41 920.62 1360.52 920.49 1361.62 915.74 1362.73 916.48 1363.83 917.31 1364.94 917.64 1366.05 915.27 1367.15 917.35 1368.26 922.73 1369.37 922.19 1370.47 924.28 1371.58 928.9 1372.68 928.88 1373.79 925.73 1374.9 923.17 1376 927.73 1377.11 932.93 1378.21 931.16 1379.32 927.83 1380.43 928.34 1381.53 926.91 1382.64 925.03 1383.74 925.66 1384.85 926.4 1385.96 929 1387.06 932.25 1388.17 929.41 1389.27 926.14 1390.38 924.91 1391.49 925.27 1392.59 924.95 1393.7 924.78 1394.81 929.91 1395.91 932.79 1397.02 928.84 1398.12 926.75 1399.23 930.24 1400.34 929.32 1401.44 927.67 1402.55 929.94 1403.65 928.9 1404.76 927.08 1405.87 929.53 1406.97 929.58 1408.08 927.21 1409.18 930.41 1410.29 930.64 1411.4 932.78 1412.5 933.8 1413.61 929.69 1414.72 929.93 1415.82 931.01 1416.93 930.17 1418.03 929.83 1419.14 927.99 1420.25 928.69 1421.35 930.75 1422.46 929.73 1423.56 926.41 1424.67 927.45 1425.78 929.52 1426.88 930.95 1427.99 929.3 1429.09 926 1430.2 925.67 1431.31 926.24 1432.41 929.16 1433.52 927.4 1434.63 924.76 1435.73 927.08 1436.84 930.21 1437.94 928.15 1439.05 925.77 1440.16 922.78 1441.26 923.25 1442.37 927.37 1443.47 926.38 1444.58 927.59 1445.69 928.5 1446.79 923.51 1447.9 922.04 1449 924.7 1450.11 925.58 1451.22 923.61 1452.32 920.51 1453.43 920.52 1454.53 921.65 1455.64 921.13 1456.75 919.75 1457.85 921.14 1458.96 920.79 1460.07 922.74 1461.17 925.35 1462.28 923.53 1463.38 922.39 1464.49 923.6 1465.6 922.87 1466.7 920.06 1467.81 919.96 1468.91 921.35 1470.02 921.46 1471.13 921.33 1472.23 923.95 1473.34 924.58 1474.44 921.81 1475.55 923.47 1476.66 925.31 1477.76 924.72 1478.87 925.96 1479.98 926.64 1481.08 925.73 1482.19 924.29 1483.29 924.53 1484.4 926.79 1485.51 927.65 1486.61 925.54 1487.72 924.22 1488.82 924.22 1489.93 924.71 1491.04 924.56 1492.14 924.91 1493.25 927.17 1494.35 928.29 1495.46 928.18 1496.57 931.41 1497.67 932.7 1498.78 927.96 1499.88 927.25 1500.99 932.02 1502.1 931.51 1503.2 927.29 1504.31 926.69 1505.42 928.31 1506.52 928.44 1507.63 928.95 1508.73 926.86 1509.84 925.69 1510.95 927.36 1512.05 927.26 1513.16 925.84 1514.26 927.22 1515.37 927.93 1516.48 927.43 1517.58 928.26 1518.69 927.41 1519.79 927.73 1520.9 929.95 1522.01 932.08 1523.11 933.58 1524.22 930.72 1525.33 931.04 1526.43 932.51 1527.54 931.95 1528.64 931.88 1529.75 930.9 1530.86 932.96 1531.96 934.17 1533.07 933.29 1534.17 932.9 1535.28 933.4 1536.39 934.52 1537.49 934.35 1538.6 933.06 1539.7 933.73 1540.81 936.31 1541.92 937.14 1543.02 936.63 1544.13 936.57 1545.24 934.58 1546.34 935.21 1547.45 937.37 1548.55 938.57 1549.66 938.86 1550.77 938.64 1551.87 936.52 1552.98 935.85 1554.08 938.33 1555.19 936.78 1556.3 937.72 1557.4 938.96 1558.51 936.41 1559.61 936.91 1560.72 938.13 1561.83 938.87 1562.93 939.18 1564.04 938.22 1565.14 940.48 1566.25 941.81 1567.36 939.12 1568.46 939.43 1569.57 941.54 1570.68 941.51 1571.78 940.63 1572.89 939.59 1573.99 937.46 1575.1 938.51 1576.21 942.23 1577.31 942.71 1578.42 941.68 1579.52 940.84 1580.63 938.45 1581.74 938.77 1582.84 938.4 1583.95 937.14 1585.05 938.49 1586.16 941.02 1587.27 941.77 1588.37 942.3 1589.48 941.37 1590.59 939.82 1591.69 939.57 1592.8 939.49 1593.9 943.02 1595.01 942.76 1596.12 939.79 1597.22 938.7 1598.33 940.91 1599.43 943.75 1600.54 942.69 1601.65 943.11 1602.75 944.72 1603.86 944.75 1604.96 941.03 1606.07 940.69 1607.18 944.3 1608.28 944.13 1609.39 943.24 1610.49 941.72 1611.6 940.63 1612.71 941.42 1613.81 942.69 1614.92 943.5 1616.03 944.35 1617.13 946.16 1618.24 943.78 1619.34 942.95 1620.45 943.94 1621.56 944.09 1622.66 945.28 1623.77 945.46 1624.87 946.53 1625.98 946.33 1627.09 944.76 1628.19 943.69 1629.3 943.5 1630.4 943.44 1631.51 943.64 1632.62 944.55 1633.72 946.64 1634.83 946.97 1635.94 943.51 1637.04 942.84 1638.15 943.48 1639.25 944.02 1640.36 945.53 1641.47 943.27 1642.57 942.46 1643.68 943.1 1644.78 943.24 1645.89 945.57 1647 948.14 1648.1 947.94 1649.21 947.2 1650.31 949.39 1651.42 946.95 1652.53 944.13 1653.63 944.5 1654.74 945.13 1655.85 945.59 1656.95 945.48 1658.06 945.49 1659.16 945.74 1660.27 945.47 1661.38 947.95 1662.48 947.8 1663.59 946.37 1664.69 946.72 1665.8 945.17 1666.91 946.73 1668.01 947.09 1669.12 945.74 1670.22 947.08 1671.33 948.3" stroke="#e87b9f" stroke-width="1.6" fill="none" opacity=".16" stroke-linejoin="round"/><path d="M1300.79 855.22 1301.89 850.61 1303 868.33 1304.11 870.02 1305.21 862.11 1306.32 860.78 1307.42 862.86 1308.53 862.28 1309.64 873.84 1310.74 882.7 1311.85 874.77 1312.95 869.64 1314.06 872.67 1315.17 877.48 1316.27 882.67 1317.38 888.31 1318.48 888.71 1319.59 887.6 1320.7 892.6 1321.8 888.65 1322.91 882.74 1324.02 890.69 1325.12 895.21 1326.23 890.27 1327.33 893.41 1328.44 898.97 1329.55 899.25 1330.65 906.47 1331.76 915.24 1332.86 909.31 1333.97 904.47 1335.08 901.92 1336.18 905.1 1337.29 906.14 1338.39 901.75 1339.5 900.38 1340.61 907.56 1341.71 914.85 1342.82 912.1 1343.92 910.76 1345.03 915.44 1346.14 919.37 1347.24 921.6 1348.35 914.32 1349.46 911.69 1350.56 918.39 1351.67 921.2 1352.77 922.5 1353.88 919.85 1354.99 921.39 1356.09 923.49 1357.2 916.59 1358.3 914.33 1359.41 919.37 1360.52 923.12 1361.62 923.85 1362.73 924.35 1363.83 923.34 1364.94 922.94 1366.05 925.26 1367.15 925.15 1368.26 926.11 1369.37 924.66 1370.47 917.24 1371.58 918.75 1372.68 927.64 1373.79 924.71 1374.9 922.07 1376 920.84 1377.11 919.89 1378.21 921.98 1379.32 925.25 1380.43 930.17 1381.53 929.13 1382.64 924.54 1383.74 926.12 1384.85 930.54 1385.96 929.25 1387.06 927.11 1388.17 926.83 1389.27 925.54 1390.38 920.35 1391.49 920.54 1392.59 926.01 1393.7 928.03 1394.81 925.55 1395.91 926.44 1397.02 924.88 1398.12 921.8 1399.23 926.6 1400.34 925.94 1401.44 923.1 1402.55 921.06 1403.65 923 1404.76 924.18 1405.87 921.08 1406.97 920.02 1408.08 921.64 1409.18 924.63 1410.29 919.52 1411.4 917.33 1412.5 923.1 1413.61 923.64 1414.72 922.91 1415.82 924.64 1416.93 924.88 1418.03 922.29 1419.14 921.15 1420.25 922.55 1421.35 922.1 1422.46 925.14 1423.56 926.59 1424.67 923.31 1425.78 925.08 1426.88 926.34 1427.99 924.69 1429.09 924.5 1430.2 923.42 1431.31 923.34 1432.41 924.05 1433.52 925.07 1434.63 926.34 1435.73 927.72 1436.84 925.8 1437.94 926.01 1439.05 925.53 1440.16 923.58 1441.26 926.33 1442.37 927.35 1443.47 927.74 1444.58 928.16 1445.69 928.17 1446.79 928.41 1447.9 927.24 1449 930.08 1450.11 927.81 1451.22 925.29 1452.32 930.34 1453.43 931.01 1454.53 929.94 1455.64 928.34 1456.75 928.16 1457.85 930.65 1458.96 930.48 1460.07 930.57 1461.17 931.45 1462.28 933.63 1463.38 934.14 1464.49 933.51 1465.6 932.14 1466.7 931.79 1467.81 933.33 1468.91 934.16 1470.02 934.86 1471.13 933.97 1472.23 935.8 1473.34 935.99 1474.44 932.53 1475.55 932.8 1476.66 934.84 1477.76 934.72 1478.87 935.6 1479.98 936.89 1481.08 935.66 1482.19 935.78 1483.29 934.65 1484.4 933.27 1485.51 936.1 1486.61 937.84 1487.72 937.5 1488.82 939.38 1489.93 938.95 1491.04 935.21 1492.14 934.66 1493.25 936.45 1494.35 936.65 1495.46 935.49 1496.57 936.48 1497.67 937.5 1498.78 936.39 1499.88 936.54 1500.99 938.52 1502.1 939.31 1503.2 938.9 1504.31 940.98 1505.42 941.23 1506.52 939.91 1507.63 942.41 1508.73 944.32 1509.84 939.72 1510.95 937.82 1512.05 938.34 1513.16 938.85 1514.26 938.8 1515.37 938.04 1516.48 940.48 1517.58 941.39 1518.69 939.3 1519.79 937.46 1520.9 938.61 1522.01 942.07 1523.11 943.76 1524.22 942.6 1525.33 940.27 1526.43 941.11 1527.54 942.43 1528.64 941.61 1529.75 940.97 1530.86 941.67 1531.96 944.01 1533.07 944.99 1534.17 941.6 1535.28 941.58 1536.39 941.02 1537.49 941.04 1538.6 944.2 1539.7 944.46 1540.81 943.52 1541.92 944.82 1543.02 945.44 1544.13 944.76 1545.24 943.68 1546.34 943.92 1547.45 945.06 1548.55 946.14 1549.66 947.79 1550.77 946.22 1551.87 945.84 1552.98 946.14 1554.08 945.3 1555.19 944.36 1556.3 945.97 1557.4 946.87 1558.51 944.47 1559.61 944.89 1560.72 946.93 1561.83 946.7 1562.93 943.61 1564.04 942.93 1565.14 942.85 1566.25 943.46 1567.36 943.86 1568.46 945.42 1569.57 947.22 1570.68 945.86 1571.78 943.88 1572.89 943.49 1573.99 944.15" stroke="#7d54b2" stroke-width="1.6" fill="none" opacity=".16" stroke-linejoin="round"/><path d="M1300.79 850.3 1301.89 842.16 1303 847.66 1304.11 844.94 1305.21 839.16 1306.32 855.26 1307.42 860.63 1308.53 849.21 1309.64 840.94 1310.74 847.16 1311.85 844.96 1312.95 850.19 1314.06 869.91 1315.17 882.61 1316.27 874.15 1317.38 871.96 1318.48 883.07 1319.59 886.33 1320.7 891.47 1321.8 891.24 1322.91 887.88 1324.02 886.91 1325.12 889.68 1326.23 889.88 1327.33 895.62 1328.44 904.12 1329.55 904.56 1330.65 908.41 1331.76 906.61 1332.86 898.79 1333.97 901.59 1335.08 908.24 1336.18 912.79 1337.29 910.31 1338.39 913.29 1339.5 917.55 1340.61 916.34 1341.71 913.51 1342.82 915.83 1343.92 913.85 1345.03 905.54 1346.14 908.25 1347.24 915.13 1348.35 917.47 1349.46 912.23 1350.56 911.05 1351.67 913.17 1352.77 913.38 1353.88 917.35 1354.99 914.02 1356.09 913.15 1357.2 916.61 1358.3 921.98 1359.41 917.66 1360.52 910.4 1361.62 916.94 1362.73 921.72 1363.83 922.95 1364.94 925.95 1366.05 923.74 1367.15 922.34 1368.26 922.67 1369.37 919.36 1370.47 916.73 1371.58 917.86 1372.68 921.29 1373.79 920.9 1374.9 923.06 1376 924.51 1377.11 922.68 1378.21 919.71 1379.32 919.13 1380.43 921.64 1381.53 920.55 1382.64 920.88 1383.74 925.79 1384.85 920.82 1385.96 917.38 1387.06 919.99 1388.17 921.4 1389.27 920.39 1390.38 914.14 1391.49 912.43 1392.59 911.37 1393.7 910.63 1394.81 911.62 1395.91 910.87 1397.02 913.96 1398.12 914.66 1399.23 914.56 1400.34 915.88 1401.44 917.78 1402.55 914.22 1403.65 909.47 1404.76 910.03 1405.87 911.92 1406.97 913.63 1408.08 911.99 1409.18 909.49 1410.29 914.2 1411.4 916.34 1412.5 915.75 1413.61 919.04 1414.72 916.42 1415.82 912.94 1416.93 915.53 1418.03 915.77 1419.14 917.77 1420.25 919.9 1421.35 917.39 1422.46 918.63 1423.56 920.79 1424.67 922.05 1425.78 921.7 1426.88 918.88 1427.99 922.03 1429.09 925.2 1430.2 924.08 1431.31 921.57 1432.41 922.15 1433.52 925.77 1434.63 925.97 1435.73 923.72 1436.84 926.44 1437.94 928.53 1439.05 924.96 1440.16 925.25 1441.26 927.81 1442.37 927.39 1443.47 928.95 1444.58 927.75 1445.69 925.84 1446.79 929.25 1447.9 930.27 1449 930.13 1450.11 930.85 1451.22 932.18 1452.32 932.25 1453.43 933.08 1454.53 931.25 1455.64 930.65 1456.75 933.7 1457.85 933.28 1458.96 931.67 1460.07 931.21 1461.17 930.61 1462.28 931.3 1463.38 933.36 1464.49 932.87 1465.6 933.38 1466.7 931.68 1467.81 930.05 1468.91 929.56 1470.02 933.05 1471.13 934.75 1472.23 934.64 1473.34 936.48 1474.44 937.98 1475.55 937.93 1476.66 935.29 1477.76 932.29 1478.87 931.55 1479.98 934.55 1481.08 937.54 1482.19 936.12 1483.29 935.63 1484.4 935.4 1485.51 938.14 1486.61 939.07 1487.72 936.43 1488.82 935.71 1489.93 936.43 1491.04 937.7 1492.14 938.01 1493.25 935.26 1494.35 934.76 1495.46 935.47 1496.57 933.75 1497.67 936.61 1498.78 937.99 1499.88 936.67 1500.99 935.83 1502.1 936.88 1503.2 939.07 1504.31 939.68 1505.42 939.43 1506.52 939.56 1507.63 940.11 1508.73 939.8 1509.84 940.1 1510.95 941.86 1512.05 941.82 1513.16 941.53 1514.26 940.69 1515.37 938.8 1516.48 939.98 1517.58 944.06 1518.69 943.32 1519.79 940.75 1520.9 942.8 1522.01 943.27 1523.11 940.21 1524.22 941.88 1525.33 945.6 1526.43 944.01 1527.54 946.26 1528.64 946.44 1529.75 942.11 1530.86 940.86 1531.96 941.71 1533.07 942.49 1534.17 943.11 1535.28 939.6 1536.39 939.14 1537.49 940.87 1538.6 942.63" stroke="#479a5f" stroke-width="1.6" fill="none" opacity=".16" stroke-linejoin="round"/><path d="M1300.79 764.63 1301.89 770.74 1303 781.45 1304.11 762.49 1305.21 761.55 1306.32 777.53 1307.42 776.62 1308.53 777.75 1309.64 782.71 1310.74 790.97 1311.85 791.87 1312.95 800.47 1314.06 809.65 1315.17 817.9 1316.27 825.81 1317.38 822.89 1318.48 828.69 1319.59 853.1 1320.7 856.2 1321.8 848.71 1322.91 846.45 1324.02 853.08 1325.12 868.8 1326.23 869.92 1327.33 862.23 1328.44 866.92 1329.55 870.42 1330.65 870.25 1331.76 875.82 1332.86 880.95 1333.97 884.85 1335.08 884.71 1336.18 885.58 1337.29 885.61 1338.39 883.12 1339.5 883.88 1340.61 888.38 1341.71 894.16 1342.82 898.17 1343.92 884.61 1345.03 883.97 1346.14 897.84 1347.24 897.13 1348.35 893.09 1349.46 894.28 1350.56 894.28 1351.67 893.87 1352.77 890.23 1353.88 893.04 1354.99 895.03 1356.09 889.13 1357.2 892.42 1358.3 888.97 1359.41 887.35 1360.52 894.09 1361.62 895.93 1362.73 893.58 1363.83 895.76 1364.94 895.98 1366.05 887.71 1367.15 889 1368.26 892.87 1369.37 895.35 1370.47 895.86 1371.58 894.89 1372.68 897.34 1373.79 894.37 1374.9 889.64 1376 889.51 1377.11 896.99 1378.21 894.69 1379.32 888.93 1380.43 886.95 1381.53 887.8 1382.64 885.65 1383.74 884.67 1384.85 885.59 1385.96 889.4 1387.06 893.68 1388.17 890.74 1389.27 890.2 1390.38 891.82 1391.49 888.46 1392.59 893.36 1393.7 897.55 1394.81 895.6 1395.91 893.25 1397.02 895.97 1398.12 897.71 1399.23 897.84 1400.34 899.31 1401.44 897.65 1402.55 896.69 1403.65 900.26 1404.76 899.19 1405.87 896.4 1406.97 897.84 1408.08 900.19 1409.18 898.82 1410.29 896.68 1411.4 898.34 1412.5 899.96 1413.61 900.56 1414.72 898.67 1415.82 899.93 1416.93 903.4 1418.03 905.07 1419.14 905.44 1420.25 906.08 1421.35 908.59 1422.46 907.21 1423.56 907 1424.67 910.35 1425.78 911.64 1426.88 911.12 1427.99 912.26 1429.09 909.96 1430.2 908.07 1431.31 912.48 1432.41 911.97 1433.52 911 1434.63 913.09 1435.73 913.58 1436.84 913.67 1437.94 912.64 1439.05 912.62 1440.16 912.68 1441.26 918.29 1442.37 920.72 1443.47 917.82 1444.58 917.7 1445.69 919.77 1446.79 920.64 1447.9 919.72 1449 922.42 1450.11 923.62 1451.22 920.02 1452.32 919.97 1453.43 921.24 1454.53 920.5 1455.64 919.89 1456.75 919.14 1457.85 918.41 1458.96 919.1 1460.07 920.31 1461.17 920.59 1462.28 920.43 1463.38 920.65 1464.49 919.66 1465.6 918.66 1466.7 921.53 1467.81 925.59 1468.91 923.64 1470.02 921.32 1471.13 924.22 1472.23 923.09 1473.34 919.69 1474.44 922.65 1475.55 926.16 1476.66 925.77 1477.76 925.69 1478.87 925.26 1479.98 925.96 1481.08 926.28 1482.19 925.54 1483.29 924.33 1484.4 924.16 1485.51 924.58 1486.61 923 1487.72 923.49 1488.82 924.72 1489.93 926.15 1491.04 926.88 1492.14 923.77 1493.25 922.19 1494.35 924.85 1495.46 926.9 1496.57 927.39 1497.67 926.11 1498.78 928.49 1499.88 929.79 1500.99 929.19 1502.1 927.79 1503.2 928.3 1504.31 929.08 1505.42 928.07 1506.52 929.2 1507.63 926.87 1508.73 926.89 1509.84 928.11 1510.95 927.68 1512.05 930.01 1513.16 930.5" stroke="#da4c4c" stroke-width="1.6" fill="none" opacity=".16" stroke-linejoin="round"/><path d="M1300.79 873.97 1301.89 871.72 1303 869.8 1304.11 870.47 1305.21 867.04 1306.32 874.53 1307.42 881.73 1308.53 882.24 1309.64 881.28 1310.74 875.38 1311.85 875.85 1312.95 878.33 1314.06 885.92 1315.17 890.57 1316.27 888.35 1317.38 884.56 1318.48 880.35 1319.59 884.27 1320.7 887.81 1321.8 889.17 1322.91 890.43 1324.02 893.86 1325.12 896.73 1326.23 898.75 1327.33 901.58 1328.44 904.33 1329.55 905.18 1330.65 906.4 1331.76 905.78 1332.86 907.68 1333.97 909 1335.08 907.66 1336.18 910.39 1337.29 911.29 1338.39 911.26 1339.5 909.05 1340.61 909.33 1341.71 911.42 1342.82 912.53 1343.92 909.2 1345.03 909.73 1346.14 916.1 1347.24 916.11 1348.35 915.77 1349.46 917.14 1350.56 916.03 1351.67 918.03 1352.77 923.05 1353.88 923.56 1354.99 919.71 1356.09 919.93 1357.2 921.03 1358.3 919.26 1359.41 921.03 1360.52 921.12 1361.62 918.19 1362.73 918.77 1363.83 919.15 1364.94 919.47 1366.05 917.94 1367.15 919.23 1368.26 922.81 1369.37 922.58 1370.47 923.95 1371.58 926.9 1372.68 926.91 1373.79 925.28 1374.9 923.72 1376 926.91 1377.11 930.41 1378.21 929.58 1379.32 927.46 1380.43 928.23 1381.53 927.39 1382.64 926.41 1383.74 926.71 1384.85 926.99 1385.96 928.7 1387.06 930.76 1388.17 928.78 1389.27 926.73 1390.38 925.79 1391.49 926.11 1392.59 925.8 1393.7 925.78 1394.81 929.35 1395.91 931.29 1397.02 928.69 1398.12 927.43 1399.23 929.72 1400.34 929.15 1401.44 928.14 1402.55 929.56 1403.65 928.95 1404.76 927.68 1405.87 929.09 1406.97 929.31 1408.08 927.81 1409.18 930.03 1410.29 930.04 1411.4 931.39 1412.5 932.24 1413.61 929.42 1414.72 929.64 1415.82 930.46 1416.93 929.94 1418.03 929.81 1419.14 928.59 1420.25 929.3 1421.35 930.69 1422.46 929.97 1423.56 927.89 1424.67 928.44 1425.78 929.7 1426.88 930.48 1427.99 929.23 1429.09 927.07 1430.2 926.71 1431.31 926.89 1432.41 928.6 1433.52 927.3 1434.63 925.56 1435.73 927.02 1436.84 929.08 1437.94 927.67 1439.05 925.89 1440.16 923.96 1441.26 924.22 1442.37 926.85 1443.47 926.1 1444.58 926.76 1445.69 927.32 1446.79 923.88 1447.9 922.76 1449 924.37 1450.11 924.71 1451.22 923.28 1452.32 921.05 1453.43 920.91 1454.53 921.57 1455.64 921.07 1456.75 920.03 1457.85 920.99 1458.96 920.73 1460.07 922.03 1461.17 923.81 1462.28 922.83 1463.38 922.22 1464.49 923.05 1465.6 922.5 1466.7 920.65 1467.81 920.59 1468.91 921.64 1470.02 921.94 1471.13 921.87 1472.23 923.64 1473.34 923.98 1474.44 922.25 1475.55 923.53 1476.66 924.85 1477.76 924.59 1478.87 925.41 1479.98 925.81 1481.08 925.32 1482.19 924.43 1483.29 924.78 1484.4 926.3 1485.51 926.91 1486.61 925.52 1487.72 924.7 1488.82 924.84 1489.93 925.29 1491.04 925.32 1492.14 925.67 1493.25 927.14 1494.35 927.95 1495.46 927.88 1496.57 930.15 1497.67 931.06 1498.78 928.13 1499.88 927.63 1500.99 930.65 1502.1 930.35 1503.2 927.63 1504.31 927.23 1505.42 928.43 1506.52 928.46 1507.63 928.78 1508.73 927.28 1509.84 926.45 1510.95 927.61 1512.05 927.55 1513.16 926.58 1514.26 927.55 1515.37 927.94 1516.48 927.64 1517.58 928.09 1518.69 927.6 1519.79 928.13 1520.9 929.66 1522.01 931.21 1523.11 932.49 1524.22 930.86 1525.33 931.22 1526.43 932.27 1527.54 931.99 1528.64 931.91 1529.75 931.27 1530.86 932.86 1531.96 933.73 1533.07 933.15 1534.17 932.89 1535.28 933.34 1536.39 934.32 1537.49 934.4 1538.6 933.73 1539.7 934.38 1540.81 936.2 1541.92 937 1543.02 936.79 1544.13 936.75 1545.24 935.4 1546.34 935.77 1547.45 937.26 1548.55 938.24 1549.66 938.42 1550.77 938.32 1551.87 936.89 1552.98 936.54 1554.08 938.25 1555.19 937.29 1556.3 937.96 1557.4 938.82 1558.51 937.1 1559.61 937.51 1560.72 938.26 1561.83 938.74 1562.93 939.03 1564.04 938.4 1565.14 939.95 1566.25 940.8 1567.36 939 1568.46 939.29 1569.57 940.69 1570.68 940.79 1571.78 940.3 1572.89 939.63 1573.99 938.27 1575.1 939.07 1576.21 941.61 1577.31 942.01 1578.42 941.33 1579.52 940.8 1580.63 939.34 1581.74 939.52 1582.84 939.26 1583.95 938.41 1585.05 939.28 1586.16 940.97 1587.27 941.56 1588.37 941.92 1589.48 941.31 1590.59 940.31 1591.69 940.18 1592.8 940.15 1593.9 942.53 1595.01 942.41 1596.12 940.43 1597.22 939.68 1598.33 941.24 1599.43 943.18 1600.54 942.48 1601.65 942.86 1602.75 943.97 1603.86 943.98 1604.96 941.64 1606.07 941.46 1607.18 943.81 1608.28 943.69 1609.39 943.15 1610.49 942.22 1611.6 941.44 1612.71 942.07 1613.81 943.05 1614.92 943.64 1616.03 944.25 1617.13 945.5 1618.24 944.05 1619.34 943.59 1620.45 944.22 1621.56 944.43 1622.66 945.25 1623.77 945.51 1624.87 946.12 1625.98 945.93 1627.09 944.97 1628.19 944.19 1629.3 944.02 1630.4 944.04 1631.51 944.16 1632.62 944.71 1633.72 946.02 1634.83 946.16 1635.94 943.87 1637.04 943.42 1638.15 943.8 1639.25 944.23 1640.36 945.25 1641.47 943.74 1642.57 943.29 1643.68 943.74 1644.78 943.95 1645.89 945.72 1647 947.36 1648.1 947.29 1649.21 946.77 1650.31 948.17 1651.42 946.69 1652.53 944.85 1653.63 945.01 1654.74 945.41 1655.85 945.62 1656.95 945.65 1658.06 945.73 1659.16 945.86 1660.27 945.8 1661.38 947.43 1662.48 947.34 1663.59 946.53 1664.69 946.88 1665.8 945.94 1666.91 946.93 1668.01 947.15 1669.12 946.36 1670.22 947.17 1671.33 947.95" stroke="#e87b9f" stroke-width="2.7" fill="none" stroke-linejoin="round"/><circle cx="1671.33" cy="947.95" r="4.2" fill="#e87b9f"/><path d="M1300.79 858.69 1301.89 854.64 1303 865.69 1304.11 865.51 1305.21 860.44 1306.32 859.69 1307.42 861.31 1308.53 862.27 1309.64 871.26 1310.74 878.44 1311.85 874.23 1312.95 871.16 1314.06 874.38 1315.17 878.04 1316.27 882.67 1317.38 887.32 1318.48 888.06 1319.59 887.58 1320.7 891.42 1321.8 889.5 1322.91 886.24 1324.02 891.98 1325.12 895.78 1326.23 892.89 1327.33 895.56 1328.44 899.71 1329.55 900.25 1330.65 905.2 1331.76 911.68 1332.86 908.45 1333.97 905.62 1335.08 904 1336.18 906.24 1337.29 906.89 1338.39 904.2 1339.5 903.78 1340.61 908.91 1341.71 913.62 1342.82 912 1343.92 911.27 1345.03 914.64 1346.14 917.77 1347.24 919.78 1348.35 915.39 1349.46 913.96 1350.56 918.39 1351.67 920.74 1352.77 922.15 1353.88 920.84 1354.99 922.05 1356.09 923.38 1357.2 918.63 1358.3 917.15 1359.41 920.47 1360.52 923.07 1361.62 923.59 1362.73 923.79 1363.83 923.01 1364.94 922.64 1366.05 924.15 1367.15 924.28 1368.26 924.98 1369.37 923.98 1370.47 919.36 1371.58 920.18 1372.68 925.88 1373.79 924.17 1374.9 922.71 1376 922.26 1377.11 921.63 1378.21 922.93 1379.32 925.42 1380.43 928.55 1381.53 927.93 1382.64 924.88 1383.74 926 1384.85 928.89 1385.96 927.75 1387.06 926.38 1388.17 926.29 1389.27 925.22 1390.38 921.77 1391.49 922 1392.59 925.64 1393.7 926.96 1394.81 925.28 1395.91 925.88 1397.02 924.71 1398.12 922.57 1399.23 925.58 1400.34 925.03 1401.44 923.02 1402.55 921.58 1403.65 922.7 1404.76 923.27 1405.87 920.99 1406.97 920.37 1408.08 921.35 1409.18 923.4 1410.29 920.02 1411.4 918.56 1412.5 922.45 1413.61 922.88 1414.72 922.55 1415.82 923.75 1416.93 923.73 1418.03 922.04 1419.14 921.25 1420.25 922.25 1421.35 922.13 1422.46 924.3 1423.56 925.32 1424.67 923.22 1425.78 924.6 1426.88 925.61 1427.99 924.73 1429.09 924.75 1430.2 924.05 1431.31 924.05 1432.41 924.42 1433.52 925.16 1434.63 926.04 1435.73 927.04 1436.84 925.91 1437.94 926.09 1439.05 925.62 1440.16 924.44 1441.26 926.32 1442.37 927.14 1443.47 927.54 1444.58 927.85 1445.69 927.86 1446.79 928.1 1447.9 927.36 1449 929.62 1450.11 928.22 1451.22 926.61 1452.32 929.99 1453.43 930.36 1454.53 929.83 1455.64 929.03 1456.75 929.01 1457.85 930.77 1458.96 930.51 1460.07 930.72 1461.17 931.45 1462.28 932.96 1463.38 933.51 1464.49 933.07 1465.6 932.18 1466.7 932.06 1467.81 933.12 1468.91 933.74 1470.02 934.24 1471.13 933.55 1472.23 934.92 1473.34 934.94 1474.44 932.87 1475.55 933.08 1476.66 934.31 1477.76 934.38 1478.87 935.17 1479.98 936.13 1481.08 935.62 1482.19 935.8 1483.29 935.21 1484.4 934.3 1485.51 936.3 1486.61 937.57 1487.72 937.12 1488.82 938.31 1489.93 938.09 1491.04 935.61 1492.14 935.18 1493.25 936.43 1494.35 936.65 1495.46 935.92 1496.57 936.61 1497.67 937.54 1498.78 936.9 1499.88 937.1 1500.99 938.53 1502.1 939.15 1503.2 938.95 1504.31 940.4 1505.42 940.64 1506.52 939.91 1507.63 941.49 1508.73 942.78 1509.84 939.72 1510.95 938.52 1512.05 938.85 1513.16 939.16 1514.26 939.18 1515.37 938.79 1516.48 940.36 1517.58 941.19 1518.69 939.98 1519.79 938.98 1520.9 939.71 1522.01 942.1 1523.11 943.27 1524.22 942.54 1525.33 940.93 1526.43 941.57 1527.54 942.44 1528.64 941.85 1529.75 941.43 1530.86 941.98 1531.96 943.57 1533.07 944.28 1534.17 942.2 1535.28 942.3 1536.39 941.94 1537.49 942.13 1538.6 944.29 1539.7 944.51 1540.81 943.9 1541.92 944.83 1543.02 945.32 1544.13 944.72 1545.24 944.1 1546.34 944.34 1547.45 944.96 1548.55 945.66 1549.66 946.77 1550.77 945.7 1551.87 945.49 1552.98 945.72 1554.08 945.32 1555.19 944.69 1556.3 945.69 1557.4 946.33 1558.51 944.66 1559.61 944.89 1560.72 946.21 1561.83 945.96 1562.93 943.92 1564.04 943.5 1565.14 943.37 1566.25 943.88 1567.36 944.15 1568.46 945.33 1569.57 946.63 1570.68 945.83 1571.78 944.57 1572.89 944.32 1573.99 944.75" stroke="#7d54b2" stroke-width="2.7" fill="none" stroke-linejoin="round"/><circle cx="1573.99" cy="944.75" r="4.2" fill="#7d54b2"/><path d="M1300.79 851.3 1301.89 844.15 1303 846.19 1304.11 843.22 1305.21 839.23 1306.32 851.06 1307.42 855.25 1308.53 848.47 1309.64 843.58 1310.74 849.32 1311.85 850.16 1312.95 855.27 1314.06 869.09 1315.17 878.91 1316.27 873.94 1317.38 873.28 1318.48 881.6 1319.59 884.33 1320.7 888.94 1321.8 889.37 1322.91 887.87 1324.02 888.22 1325.12 890.87 1326.23 891.59 1327.33 896.27 1328.44 902.17 1329.55 903.23 1330.65 905.69 1331.76 905.05 1332.86 900.34 1333.97 902.72 1335.08 907.49 1336.18 910.88 1337.29 909.71 1338.39 912.15 1339.5 915.17 1340.61 914.9 1341.71 913.43 1342.82 915.27 1343.92 914.21 1345.03 908.81 1346.14 911.04 1347.24 915.45 1348.35 916.88 1349.46 913.39 1350.56 912.84 1351.67 913.93 1352.77 914.05 1353.88 916.98 1354.99 914.84 1356.09 914.25 1357.2 916.47 1358.3 920.21 1359.41 917.7 1360.52 912.9 1361.62 917.53 1362.73 921.05 1363.83 921.83 1364.94 924.13 1366.05 922.82 1367.15 922.11 1368.26 922.41 1369.37 920.09 1370.47 918.63 1371.58 919.59 1372.68 921.75 1373.79 921.58 1374.9 923.07 1376 923.95 1377.11 922.82 1378.21 920.86 1379.32 920.58 1380.43 922.04 1381.53 921.27 1382.64 921.51 1383.74 924.54 1384.85 920.87 1385.96 918.5 1387.06 919.72 1388.17 920.32 1389.27 919.31 1390.38 914.95 1391.49 913.46 1392.59 912.79 1393.7 912.11 1394.81 912.39 1395.91 911.62 1397.02 913.75 1398.12 914.17 1399.23 914.23 1400.34 915.08 1401.44 916.43 1402.55 913.76 1403.65 910.45 1404.76 910.92 1405.87 912.1 1406.97 913.2 1408.08 912.19 1409.18 910.81 1410.29 914.24 1411.4 915.83 1412.5 915.72 1413.61 918.16 1414.72 916.6 1415.82 914.58 1416.93 916.47 1418.03 916.82 1419.14 918.38 1420.25 919.88 1421.35 918.36 1422.46 919.29 1423.56 920.92 1424.67 921.82 1425.78 921.63 1426.88 919.9 1427.99 922.24 1429.09 924.41 1430.2 923.73 1431.31 922.35 1432.41 922.66 1433.52 925.17 1434.63 925.59 1435.73 924.3 1436.84 926.34 1437.94 927.77 1439.05 925.57 1440.16 925.92 1441.26 927.7 1442.37 927.72 1443.47 928.82 1444.58 928.19 1445.69 927.08 1446.79 929.33 1447.9 930.19 1449 930.2 1450.11 930.75 1451.22 931.52 1452.32 931.59 1453.43 932.2 1454.53 931.12 1455.64 930.78 1456.75 932.89 1457.85 932.6 1458.96 931.65 1460.07 931.46 1461.17 931.18 1462.28 931.77 1463.38 933.28 1464.49 932.95 1465.6 933.22 1466.7 932 1467.81 931.07 1468.91 930.64 1470.02 932.99 1471.13 934.29 1472.23 934.3 1473.34 935.49 1474.44 936.74 1475.55 936.78 1476.66 935.17 1477.76 933.14 1478.87 932.91 1479.98 934.94 1481.08 936.94 1482.19 935.98 1483.29 935.83 1484.4 935.56 1485.51 937.53 1486.61 938.31 1487.72 936.63 1488.82 936.07 1489.93 936.49 1491.04 937.34 1492.14 937.68 1493.25 935.86 1494.35 935.6 1495.46 936.07 1496.57 934.78 1497.67 936.79 1498.78 937.77 1499.88 937.09 1500.99 936.49 1502.1 937.26 1503.2 938.85 1504.31 939.29 1505.42 939.2 1506.52 939.51 1507.63 939.92 1508.73 939.87 1509.84 940.07 1510.95 941.34 1512.05 941.27 1513.16 941.13 1514.26 940.6 1515.37 939.4 1516.48 940.3 1517.58 942.93 1518.69 942.56 1519.79 940.9 1520.9 942.4 1522.01 942.8 1523.11 940.81 1524.22 942.02 1525.33 944.61 1526.43 943.56 1527.54 945.07 1528.64 945.08 1529.75 942.31 1530.86 941.42 1531.96 942.04 1533.07 942.48 1534.17 942.9 1535.28 940.52 1536.39 940.2 1537.49 941.42 1538.6 942.63" stroke="#479a5f" stroke-width="2.7" fill="none" stroke-linejoin="round"/><circle cx="1538.6" cy="942.63" r="4.2" fill="#479a5f"/><path d="M1300.79 766.75 1301.89 769.94 1303 775.47 1304.11 762.06 1305.21 762.37 1306.32 775.59 1307.42 777.19 1308.53 780.34 1309.64 785.5 1310.74 793.11 1311.85 795.6 1312.95 803.72 1314.06 811.65 1315.17 819.6 1316.27 826.26 1317.38 826.21 1318.48 831.25 1319.59 849.07 1320.7 852.71 1321.8 849.12 1322.91 849.4 1324.02 855.24 1325.12 866.86 1326.23 868.64 1327.33 864.93 1328.44 868.98 1329.55 871.67 1330.65 872.61 1331.76 877.48 1332.86 880.84 1333.97 884.06 1335.08 883.89 1336.18 884.68 1337.29 884.82 1338.39 883.6 1339.5 884.56 1340.61 887.54 1341.71 891.46 1342.82 894.77 1343.92 886.15 1345.03 886.11 1346.14 895.88 1347.24 895.58 1348.35 892.89 1349.46 893.56 1350.56 893.46 1351.67 893.05 1352.77 890.53 1353.88 892.7 1354.99 894.01 1356.09 889.91 1357.2 892.2 1358.3 889.99 1359.41 889.23 1360.52 893.94 1361.62 895.26 1362.73 893.63 1363.83 894.9 1364.94 894.93 1366.05 889.81 1367.15 890.92 1368.26 893.71 1369.37 895.16 1370.47 895.65 1371.58 894.78 1372.68 896.35 1373.79 893.94 1374.9 891.05 1376 890.43 1377.11 895.09 1378.21 893.33 1379.32 889.59 1380.43 887.97 1381.53 888.46 1382.64 886.81 1383.74 886.3 1384.85 886.8 1385.96 889.76 1387.06 892.45 1388.17 890.9 1389.27 890.75 1390.38 892.18 1391.49 890.13 1392.59 893.43 1393.7 896.48 1394.81 895.56 1395.91 894.25 1397.02 896.12 1398.12 897.03 1399.23 897.11 1400.34 898.01 1401.44 897.05 1402.55 896.55 1403.65 898.84 1404.76 898.33 1405.87 896.49 1406.97 897.46 1408.08 899.29 1409.18 898.54 1410.29 897.3 1411.4 898.73 1412.5 900.15 1413.61 900.77 1414.72 899.78 1415.82 900.94 1416.93 903.7 1418.03 905.01 1419.14 905.62 1420.25 906.4 1421.35 908.15 1422.46 907.5 1423.56 907.59 1424.67 909.87 1425.78 910.87 1426.88 910.49 1427.99 911.44 1429.09 910.15 1430.2 909.1 1431.31 912.07 1432.41 911.84 1433.52 911.37 1434.63 913.03 1435.73 913.53 1436.84 913.69 1437.94 913 1439.05 913.16 1440.16 913.45 1441.26 917.49 1442.37 919.29 1443.47 917.61 1444.58 917.62 1445.69 919 1446.79 919.8 1447.9 919.51 1449 921.44 1450.11 922.33 1451.22 920 1452.32 919.97 1453.43 920.81 1454.53 920.42 1455.64 920.11 1456.75 919.69 1457.85 919.2 1458.96 919.59 1460.07 920.41 1461.17 920.57 1462.28 920.38 1463.38 920.62 1464.49 919.84 1465.6 919.18 1466.7 921.11 1467.81 923.89 1468.91 922.74 1470.02 921.15 1471.13 923.2 1472.23 922.75 1473.34 920.67 1474.44 922.74 1475.55 925.22 1476.66 925.02 1477.76 924.99 1478.87 924.79 1479.98 925.36 1481.08 925.74 1482.19 925.3 1483.29 924.53 1484.4 924.48 1485.51 924.84 1486.61 923.95 1487.72 924.27 1488.82 925.16 1489.93 926.18 1491.04 926.64 1492.14 924.66 1493.25 923.63 1494.35 925.36 1495.46 926.68 1496.57 927.1 1497.67 926.44 1498.78 928.05 1499.88 929.03 1500.99 928.74 1502.1 927.79 1503.2 928.27 1504.31 928.85 1505.42 928.3 1506.52 929.08 1507.63 927.49 1508.73 927.49 1509.84 928.33 1510.95 928.05 1512.05 929.67 1513.16 929.97" stroke="#da4c4c" stroke-width="2.7" fill="none" stroke-linejoin="round"/><circle cx="1513.16" cy="929.97" r="4.2" fill="#da4c4c"/></svg><div style="position:absolute;top:980.59px;font:400 15.4px/15.4px 'Liberation Sans',sans-serif;color:#666;white-space:nowrap;right:1146.5px;transform-origin:100% 50%;transform:scaleX(0.9900);">0</div><div style="position:absolute;top:912.49px;font:400 15.4px/15.4px 'Liberation Sans',sans-serif;color:#666;white-space:nowrap;right:1146.5px;transform-origin:100% 50%;transform:scaleX(0.9900);">0.005</div><div style="position:absolute;top:844.39px;font:400 15.4px/15.4px 'Liberation Sans',sans-serif;color:#666;white-space:nowrap;right:1146.5px;transform-origin:100% 50%;transform:scaleX(0.9900);">0.01</div><div style="position:absolute;top:776.29px;font:400 15.4px/15.4px 'Liberation Sans',sans-serif;color:#666;white-space:nowrap;right:1146.5px;transform-origin:100% 50%;transform:scaleX(0.9900);">0.015</div><div style="position:absolute;top:1009.89px;font:400 15.4px/15.4px 'Liberation Sans',sans-serif;color:#666;white-space:nowrap;left:1358.55px;transform:translateX(-50%) scaleX(0.9750);">5</div><div style="position:absolute;top:1009.89px;font:400 15.4px/15.4px 'Liberation Sans',sans-serif;color:#666;white-space:nowrap;left:1420px;transform:translateX(-50%) scaleX(0.9750);">10</div><div style="position:absolute;top:1009.89px;font:400 15.4px/15.4px 'Liberation Sans',sans-serif;color:#666;white-space:nowrap;left:1481.45px;transform:translateX(-50%) scaleX(0.9750);">15</div><div style="position:absolute;top:1009.89px;font:400 15.4px/15.4px 'Liberation Sans',sans-serif;color:#666;white-space:nowrap;left:1542.9px;transform:translateX(-50%) scaleX(0.9750);">20</div><div style="position:absolute;top:1009.89px;font:400 15.4px/15.4px 'Liberation Sans',sans-serif;color:#666;white-space:nowrap;left:1604.35px;transform:translateX(-50%) scaleX(0.9750);">25</div><div style="position:absolute;top:1009.89px;font:400 15.4px/15.4px 'Liberation Sans',sans-serif;color:#666;white-space:nowrap;left:1665.8px;transform:translateX(-50%) scaleX(0.9750);">30</div><div style="position:absolute;top:964.44px;font:400 15.7px/15.7px 'Liberation Sans',sans-serif;color:#666;white-space:nowrap;right:761.9px;transform-origin:100% 50%;transform:scaleX(1.0759);">Time (minutes)</div><div style="position:absolute;top:618.64px;font:700 20.5px/20.5px 'Liberation Sans',sans-serif;color:#2b2b2b;white-space:nowrap;left:2002.5px;transform:translateX(-50%);">train/giou_loss</div><div style="position:absolute;left:1889px;top:658.4px;width:15.8px;height:2.4px;background:#e87b9f"></div><div style="position:absolute;top:656.74px;font:400 15.5px/15.5px 'Liberation Mono',monospace;color:#e87b9f;white-space:nowrap;left:1924.7px;transform-origin:0 50%;transform:scaleX(1.0407);opacity:.95;">exp3_COCO128_YOLOv5x</div><div style="position:absolute;left:1889px;top:678.4px;width:15.8px;height:2.4px;background:#7d54b2"></div><div style="position:absolute;top:676.74px;font:400 15.5px/15.5px 'Liberation Mono',monospace;color:#7d54b2;white-space:nowrap;left:1924.7px;transform-origin:0 50%;transform:scaleX(1.0407);opacity:.95;">exp2_COCO128_YOLOv5l</div><div style="position:absolute;left:1889px;top:698.4px;width:15.8px;height:2.4px;background:#479a5f"></div><div style="position:absolute;top:696.74px;font:400 15.5px/15.5px 'Liberation Mono',monospace;color:#479a5f;white-space:nowrap;left:1924.7px;transform-origin:0 50%;transform:scaleX(1.0407);opacity:.95;">exp1_COCO128_YOLOv5m</div><div style="position:absolute;left:1889px;top:718.4px;width:15.8px;height:2.4px;background:#da4c4c"></div><div style="position:absolute;top:716.74px;font:400 15.5px/15.5px 'Liberation Mono',monospace;color:#da4c4c;white-space:nowrap;left:1924.7px;transform-origin:0 50%;transform:scaleX(1.0407);opacity:.95;">exp0_COCO128_YOLOv5s</div><svg style="position:absolute;left:1747.5px;top:573px" width="510" height="479" viewBox="1747.5 573 510 479"><path d="M1829.2 939.8H2210.9" stroke="#ededf0" stroke-width="1.3"/><path d="M1829.2 891.9H2210.9" stroke="#ededf0" stroke-width="1.3"/><path d="M1829.2 844H2210.9" stroke="#ededf0" stroke-width="1.3"/><path d="M1829.2 796.1H2210.9" stroke="#ededf0" stroke-width="1.3"/><path d="M1829.2 748.2H2210.9" stroke="#ededf0" stroke-width="1.3"/><path d="M1829.2 987.7H2210.9" stroke="#e5e5ea" stroke-width="3.2"/><path d="M1887.4 978.1V997.4" stroke="#e6e6eb" stroke-width="1.8"/><path d="M1950.6 978.1V997.4" stroke="#e6e6eb" stroke-width="1.8"/><path d="M2013.8 978.1V997.4" stroke="#e6e6eb" stroke-width="1.8"/><path d="M2077 978.1V997.4" stroke="#e6e6eb" stroke-width="1.8"/><path d="M2140.2 978.1V997.4" stroke="#e6e6eb" stroke-width="1.8"/><path d="M2203.4 978.1V997.4" stroke="#e6e6eb" stroke-width="1.8"/><path d="M1827.99 820.15 1829.13 833.68 1830.27 837.59 1831.4 825.72 1832.54 824.13 1833.68 823.91 1834.82 821.72 1835.96 823.8 1837.09 832.58 1838.23 831.34 1839.37 828.52 1840.51 832.75 1841.64 835.5 1842.78 833.08 1843.92 829.97 1845.06 835.34 1846.19 839.35 1847.33 844.75 1848.47 838.41 1849.61 833.31 1850.74 834.75 1851.88 832.85 1853.02 831.55 1854.16 828.79 1855.29 834.63 1856.43 835.25 1857.57 839.37 1858.71 840.08 1859.84 842.76 1860.98 846.49 1862.12 839.91 1863.26 840.42 1864.4 844.56 1865.53 848.46 1866.67 849.25 1867.81 845.27 1868.95 842.8 1870.08 846.56 1871.22 852.07 1872.36 850.16 1873.5 851.6 1874.63 855.82 1875.77 853.12 1876.91 849.11 1878.05 846.73 1879.18 847.48 1880.32 847.68 1881.46 850.78 1882.6 850.03 1883.73 844.26 1884.87 846.17 1886.01 848.74 1887.15 850.04 1888.28 849.16 1889.42 847.41 1890.56 848.24 1891.7 848.96 1892.84 847.37 1893.97 850.04 1895.11 854.84 1896.25 855.1 1897.39 853.09 1898.52 852.88 1899.66 855.8 1900.8 851.55 1901.94 846.98 1903.07 846.66 1904.21 854.42 1905.35 857.29 1906.49 853.26 1907.62 852.78 1908.76 850.69 1909.9 843.33 1911.04 842.87 1912.17 847.19 1913.31 844.8 1914.45 843.39 1915.59 844.55 1916.72 846.41 1917.86 846.73 1919 845.08 1920.14 849.16 1921.28 853.5 1922.41 848.01 1923.55 842.74 1924.69 845.81 1925.83 849.89 1926.96 849.41 1928.1 849.69 1929.24 849.29 1930.38 843.65 1931.51 842.78 1932.65 843.71 1933.79 844.8 1934.93 846.93 1936.06 844.04 1937.2 847.49 1938.34 851.47 1939.48 849.4 1940.61 848.7 1941.75 845.27 1942.89 845.03 1944.03 850.95 1945.16 852.75 1946.3 851.7 1947.44 853.48 1948.58 848.25 1949.72 849.09 1950.85 852.17 1951.99 851.34 1953.13 849.77 1954.27 847.41 1955.4 847.83 1956.54 847.49 1957.68 844.9 1958.82 845.87 1959.95 848.53 1961.09 848.56 1962.23 844.04 1963.37 841.61 1964.5 845.29 1965.64 845.2 1966.78 838.4 1967.92 836.8 1969.05 839.11 1970.19 837.27 1971.33 838.01 1972.47 839.33 1973.6 839.21 1974.74 836.67 1975.88 838.72 1977.02 833.57 1978.16 828.39 1979.29 832.97 1980.43 835.38 1981.57 837.13 1982.71 835.3 1983.84 834.33 1984.98 836.1 1986.12 839.47 1987.26 840.46 1988.39 835.11 1989.53 836.72 1990.67 839.25 1991.81 838.89 1992.94 838.86 1994.08 837.3 1995.22 839.82 1996.36 842.36 1997.49 842.51 1998.63 842.47 1999.77 844.43 2000.91 844.12 2002.04 843.34 2003.18 846.53 2004.32 848.3 2005.46 842.61 2006.6 841.78 2007.73 847.03 2008.87 844.18 2010.01 845.37 2011.15 854.14 2012.28 857.1 2013.42 855.86 2014.56 852.63 2015.7 848.47 2016.83 852.85 2017.97 852.98 2019.11 852.56 2020.25 854.13 2021.38 852.11 2022.52 852.07 2023.66 853.19 2024.8 854.11 2025.93 857.08 2027.07 857.65 2028.21 854.6 2029.35 853.58 2030.48 851.74 2031.62 852.05 2032.76 855.72 2033.9 855.38 2035.04 857.09 2036.17 862.03 2037.31 865.89 2038.45 862.33 2039.59 858.64 2040.72 859.74 2041.86 860.94 2043 861.8 2044.14 858.44 2045.27 858.79 2046.41 863.58 2047.55 865.07 2048.69 861.54 2049.82 861.71 2050.96 866.71 2052.1 867.19 2053.24 864.14 2054.37 858.42 2055.51 854.61 2056.65 858.28 2057.79 861.59 2058.92 861.92 2060.06 861.55 2061.2 863.26 2062.34 864.43 2063.48 865.83 2064.61 863.81 2065.75 866.45 2066.89 869.36 2068.03 867.99 2069.16 867.3 2070.3 866.33 2071.44 867.05 2072.58 866.28 2073.71 866.62 2074.85 865.76 2075.99 868.46 2077.13 868.57 2078.26 866.72 2079.4 867.41 2080.54 865.01 2081.68 864.3 2082.81 863.86 2083.95 869.17 2085.09 873.94 2086.23 869.31 2087.36 869.78 2088.5 871.64 2089.64 867.8 2090.78 866.5 2091.92 870.78 2093.05 872.18 2094.19 870.67 2095.33 871.66 2096.47 873.01 2097.6 873.32 2098.74 875.93 2099.88 876.56 2101.02 876.43 2102.15 876.39 2103.29 874.17 2104.43 875.63 2105.57 875.3 2106.7 873.78 2107.84 875.02 2108.98 874.8 2110.12 875.37 2111.25 876.96 2112.39 876.52 2113.53 876.73 2114.67 875.83 2115.8 879.66 2116.94 881.8 2118.08 881.83 2119.22 882.16 2120.36 879.28 2121.49 878.93 2122.63 878.63 2123.77 878.65 2124.91 884.22 2126.04 886.64 2127.18 881.37 2128.32 877.8 2129.46 880.61 2130.59 885.5 2131.73 883.08 2132.87 884.33 2134.01 887.25 2135.14 884.95 2136.28 885.82 2137.42 887.94 2138.56 889.66 2139.69 886.84 2140.83 887.26 2141.97 890.92 2143.11 890.26 2144.24 888.21 2145.38 888.25 2146.52 889.34 2147.66 888.53 2148.8 887.59 2149.93 890.21 2151.07 890.07 2152.21 888.61 2153.35 888.95 2154.48 891.99 2155.62 893.44 2156.76 890.98 2157.9 888.87 2159.03 888.98 2160.17 890.23 2161.31 889.98 2162.45 889.04 2163.58 887.51 2164.72 888.18 2165.86 891.88 2167 891.67 2168.13 893.75 2169.27 894.88 2170.41 892.84 2171.55 892.74 2172.68 891.35 2173.82 891.65 2174.96 894.73 2176.1 895.12 2177.24 894.44 2178.37 893.91 2179.51 891.96 2180.65 893.35 2181.79 893.15 2182.92 890.48 2184.06 892.04 2185.2 892.71 2186.34 894.76 2187.47 896.53 2188.61 893.77 2189.75 895.91 2190.89 898.18 2192.02 897.96 2193.16 896.56 2194.3 894.77 2195.44 897.94 2196.57 899.84 2197.71 902.95 2198.85 901.12 2199.99 896.84 2201.12 895.83 2202.26 899.39 2203.4 900.2 2204.54 896.93 2205.68 900.67 2206.81 901.04 2207.95 897.13 2209.09 894.95" stroke="#e87b9f" stroke-width="1.6" fill="none" opacity=".16" stroke-linejoin="round"/><path d="M1827.99 820.53 1829.13 815.89 1830.27 815.26 1831.4 821.85 1832.54 828.24 1833.68 829.21 1834.82 829.85 1835.96 832.18 1837.09 825.93 1838.23 821.95 1839.37 826.92 1840.51 826.93 1841.64 832.38 1842.78 833.7 1843.92 834.95 1845.06 837.94 1846.19 831.44 1847.33 828.5 1848.47 828.03 1849.61 829.98 1850.74 834.37 1851.88 835.02 1853.02 832.39 1854.16 827.58 1855.29 837.32 1856.43 842.04 1857.57 833.48 1858.71 835.53 1859.84 839.68 1860.98 840.41 1862.12 845.62 1863.26 843.31 1864.4 842.87 1865.53 843.85 1866.67 846.99 1867.81 850.01 1868.95 846.67 1870.08 844.7 1871.22 843.44 1872.36 845.15 1873.5 845.57 1874.63 841.04 1875.77 843.08 1876.91 842.12 1878.05 842.51 1879.18 845.11 1880.32 844.46 1881.46 846.46 1882.6 846.46 1883.73 840.73 1884.87 844.32 1886.01 843.95 1887.15 841.9 1888.28 844.84 1889.42 842.73 1890.56 841.96 1891.7 839.1 1892.84 840.55 1893.97 840.28 1895.11 840.37 1896.25 843.18 1897.39 841.82 1898.52 844.31 1899.66 848.78 1900.8 846.94 1901.94 842.99 1903.07 840.89 1904.21 843.24 1905.35 841.57 1906.49 841.3 1907.62 846.74 1908.76 844.4 1909.9 840.03 1911.04 844.65 1912.17 845.36 1913.31 846.39 1914.45 847.59 1915.59 839.09 1916.72 835.63 1917.86 838.26 1919 839.08 1920.14 841.88 1921.28 841.73 1922.41 838.48 1923.55 840.8 1924.69 840.94 1925.83 835.41 1926.96 831.3 1928.1 827.11 1929.24 824.32 1930.38 830.25 1931.51 832.9 1932.65 837.64 1933.79 838.87 1934.93 832.14 1936.06 827.1 1937.2 827.72 1938.34 835.89 1939.48 833.56 1940.61 827.56 1941.75 829.65 1942.89 829.01 1944.03 827.51 1945.16 831.41 1946.3 835.13 1947.44 832 1948.58 834.14 1949.72 835.67 1950.85 830.99 1951.99 831.22 1953.13 829.06 1954.27 829.1 1955.4 830.35 1956.54 831.88 1957.68 833.92 1958.82 833.99 1959.95 835.21 1961.09 839.7 1962.23 840.12 1963.37 841.53 1964.5 842.92 1965.64 836.97 1966.78 836.16 1967.92 841.09 1969.05 844.49 1970.19 848.15 1971.33 848.83 1972.47 848.29 1973.6 848.62 1974.74 848.39 1975.88 849.7 1977.02 853.95 1978.16 851.91 1979.29 848.55 1980.43 851.92 1981.57 854.42 1982.71 854.43 1983.84 852.54 1984.98 852.5 1986.12 857.52 1987.26 861.5 1988.39 864.85 1989.53 862.93 1990.67 858.64 1991.81 857.05 1992.94 858.84 1994.08 860.4 1995.22 863.11 1996.36 863.61 1997.49 862.88 1998.63 865.32 1999.77 868.72 2000.91 865.91 2002.04 867.75 2003.18 869.31 2004.32 867.38 2005.46 867.83 2006.6 867.96 2007.73 868.08 2008.87 867.84 2010.01 871.1 2011.15 872.42 2012.28 873.6 2013.42 872.26 2014.56 868.4 2015.7 868.61 2016.83 870.6 2017.97 869.85 2019.11 872.57 2020.25 874.32 2021.38 872.64 2022.52 874.48 2023.66 874.26 2024.8 875.54 2025.93 876.85 2027.07 874.76 2028.21 876.26 2029.35 877.16 2030.48 874.55 2031.62 872.8 2032.76 875.14 2033.9 875.15 2035.04 873.96 2036.17 875.56 2037.31 876.04 2038.45 874.95 2039.59 875.21 2040.72 876.58 2041.86 875.27 2043 874.75 2044.14 877.53 2045.27 878.08 2046.41 876.9 2047.55 876.44 2048.69 877.44 2049.82 881.1 2050.96 881.14 2052.1 881.26 2053.24 881.73 2054.37 883.31 2055.51 886.65 2056.65 887.13 2057.79 884.97 2058.92 882.21 2060.06 882.14 2061.2 884.29 2062.34 884.09 2063.48 882.72 2064.61 878.3 2065.75 876.41 2066.89 880.55 2068.03 885.06 2069.16 886.08 2070.3 884.42 2071.44 883.63 2072.58 880.35 2073.71 881.57 2074.85 888.13 2075.99 888.22 2077.13 887.77 2078.26 886.73 2079.4 883.1 2080.54 884.4 2081.68 888.24 2082.81 889.29 2083.95 885.94 2085.09 887.43 2086.23 890.73 2087.36 889.34 2088.5 888.24 2089.64 888.92 2090.78 889.19 2091.92 889.42 2093.05 890.7 2094.19 891.13 2095.33 890.01 2096.47 891.76 2097.6 891.93 2098.74 889.82 2099.88 889.13 2101.02 888.4 2102.15 890.45 2103.29 892.64 2104.43 890.23 2105.57 888.51 2106.7 888.58 2107.84 889.23 2108.98 891.3" stroke="#7d54b2" stroke-width="1.6" fill="none" opacity=".16" stroke-linejoin="round"/><path d="M1827.99 813.73 1829.13 816.09 1830.27 811.64 1831.4 806.46 1832.54 811.53 1833.68 820.63 1834.82 813.2 1835.96 813.48 1837.09 832.38 1838.23 829.69 1839.37 816.97 1840.51 814.62 1841.64 812.57 1842.78 808.42 1843.92 817.83 1845.06 832.6 1846.19 835.7 1847.33 828.27 1848.47 824.95 1849.61 837.03 1850.74 842.13 1851.88 837.06 1853.02 831.87 1854.16 831.21 1855.29 832.02 1856.43 836.34 1857.57 831.95 1858.71 831.46 1859.84 831.46 1860.98 832.37 1862.12 835.26 1863.26 834.05 1864.4 834.32 1865.53 836.11 1866.67 834.38 1867.81 836.23 1868.95 837.94 1870.08 836.48 1871.22 834.38 1872.36 834.72 1873.5 836.25 1874.63 836.08 1875.77 835.97 1876.91 835.72 1878.05 836.5 1879.18 840.93 1880.32 837.28 1881.46 837.3 1882.6 837.17 1883.73 827.36 1884.87 824.54 1886.01 830.89 1887.15 829.62 1888.28 826.28 1889.42 830.57 1890.56 831.62 1891.7 830.37 1892.84 830.96 1893.97 829.32 1895.11 831.78 1896.25 830.48 1897.39 822.02 1898.52 824.54 1899.66 831.48 1900.8 832.23 1901.94 828.45 1903.07 829.76 1904.21 831.6 1905.35 826.6 1906.49 829.82 1907.62 835.77 1908.76 836.24 1909.9 837.53 1911.04 834.45 1912.17 832.74 1913.31 829.77 1914.45 826.29 1915.59 822.23 1916.72 819.09 1917.86 818.03 1919 813.82 1920.14 814.7 1921.28 816.02 1922.41 816.22 1923.55 813.7 1924.69 812.64 1925.83 812.54 1926.96 811.88 1928.1 812.66 1929.24 813.2 1930.38 816.46 1931.51 817.02 1932.65 815.41 1933.79 813.73 1934.93 814.49 1936.06 816.03 1937.2 818.97 1938.34 819.86 1939.48 817.71 1940.61 820.31 1941.75 825.8 1942.89 825.26 1944.03 820.56 1945.16 822.83 1946.3 828.96 1947.44 831.83 1948.58 833.46 1949.72 834.62 1950.85 836.49 1951.99 833.52 1953.13 829.77 1954.27 832.58 1955.4 835.23 1956.54 834.84 1957.68 835.76 1958.82 837.78 1959.95 836.99 1961.09 838.11 1962.23 838.02 1963.37 833.09 1964.5 836.55 1965.64 842.82 1966.78 844.5 1967.92 846.53 1969.05 845.65 1970.19 844.86 1971.33 845.86 1972.47 849.17 1973.6 849.09 1974.74 848.47 1975.88 849.19 1977.02 849.57 1978.16 851.23 1979.29 852.1 1980.43 856.39 1981.57 855.28 1982.71 853.84 1983.84 856.15 1984.98 854 1986.12 856.23 1987.26 860.43 1988.39 859.58 1989.53 859.29 1990.67 861.19 1991.81 859.18 1992.94 860.25 1994.08 864.25 1995.22 865.41 1996.36 862.29 1997.49 863.18 1998.63 862.59 1999.77 864.59 2000.91 868.04 2002.04 868.77 2003.18 869.44 2004.32 864.03 2005.46 861.72 2006.6 865.11 2007.73 867.31 2008.87 865.97 2010.01 865.53 2011.15 869.2 2012.28 866.59 2013.42 867.4 2014.56 869.96 2015.7 866.89 2016.83 865.58 2017.97 863.29 2019.11 863.71 2020.25 867.97 2021.38 868.03 2022.52 866.69 2023.66 870.66 2024.8 873.18 2025.93 872.76 2027.07 875.26 2028.21 874.09 2029.35 870 2030.48 870.4 2031.62 873.14 2032.76 874.42 2033.9 871.19 2035.04 871.03 2036.17 873.64 2037.31 876.03 2038.45 876.42 2039.59 873.47 2040.72 873.75 2041.86 872.21 2043 868.84 2044.14 872.07 2045.27 878.77 2046.41 880.89 2047.55 876.35 2048.69 877.42 2049.82 880.73 2050.96 880.73 2052.1 876.28 2053.24 877.28 2054.37 884.2 2055.51 882.91 2056.65 878.99 2057.79 878.4 2058.92 878.64 2060.06 879.42 2061.2 880.06 2062.34 878.81 2063.48 878.07 2064.61 878.86 2065.75 880.41 2066.89 879.41 2068.03 878.22 2069.16 880.85 2070.3 881.25 2071.44 882.05 2072.58 883.06" stroke="#479a5f" stroke-width="1.6" fill="none" opacity=".16" stroke-linejoin="round"/><path d="M1827.99 776.94 1829.13 779.97 1830.27 780.13 1831.4 774.7 1832.54 784.96 1833.68 787.54 1834.82 782.53 1835.96 782.45 1837.09 790.56 1838.23 802.1 1839.37 801.57 1840.51 804.92 1841.64 801.74 1842.78 798.87 1843.92 799.39 1845.06 795.92 1846.19 794.38 1847.33 800.03 1848.47 800.85 1849.61 794.21 1850.74 800.38 1851.88 805.77 1853.02 807.94 1854.16 803.59 1855.29 795.91 1856.43 802.36 1857.57 808.02 1858.71 804.59 1859.84 803.35 1860.98 805.39 1862.12 803.82 1863.26 805.65 1864.4 807.4 1865.53 803.98 1866.67 806.26 1867.81 807.91 1868.95 813.35 1870.08 811.46 1871.22 804.3 1872.36 803.91 1873.5 809.01 1874.63 805.82 1875.77 801.05 1876.91 801.81 1878.05 801.94 1879.18 798.28 1880.32 796.38 1881.46 793.59 1882.6 789.37 1883.73 791.23 1884.87 796.95 1886.01 801.44 1887.15 797.74 1888.28 793.17 1889.42 792.93 1890.56 796.58 1891.7 800.08 1892.84 800.92 1893.97 804.06 1895.11 806.05 1896.25 804.64 1897.39 800.72 1898.52 798.57 1899.66 799.58 1900.8 802.8 1901.94 799.1 1903.07 791.12 1904.21 783.32 1905.35 776.84 1906.49 767.69 1907.62 772.38 1908.76 780.66 1909.9 780.17 1911.04 778.73 1912.17 780.7 1913.31 783.89 1914.45 785.22 1915.59 785.19 1916.72 786.2 1917.86 782.36 1919 781.29 1920.14 785.73 1921.28 790.81 1922.41 790.92 1923.55 790.71 1924.69 794.15 1925.83 793.48 1926.96 793.63 1928.1 791.77 1929.24 786.9 1930.38 788.69 1931.51 787.85 1932.65 793.14 1933.79 803.06 1934.93 802.18 1936.06 802.85 1937.2 803.76 1938.34 800.03 1939.48 799.13 1940.61 799.68 1941.75 802.92 1942.89 806.75 1944.03 807.84 1945.16 808.63 1946.3 808.76 1947.44 810.15 1948.58 812.93 1949.72 815.27 1950.85 815.08 1951.99 814.67 1953.13 816.37 1954.27 818.31 1955.4 822.73 1956.54 823.64 1957.68 825.22 1958.82 825.76 1959.95 825.07 1961.09 823.33 1962.23 822.85 1963.37 826.77 1964.5 826.85 1965.64 829.77 1966.78 832.3 1967.92 835.08 1969.05 833.79 1970.19 833.87 1971.33 831.32 1972.47 831.2 1973.6 834.97 1974.74 833.13 1975.88 832.59 1977.02 830.82 1978.16 831.12 1979.29 834.27 1980.43 834.11 1981.57 830.72 1982.71 829.39 1983.84 835.64 1984.98 838.06 1986.12 837.47 1987.26 837.65 1988.39 835.49 1989.53 836.45 1990.67 837.62 1991.81 836.02 1992.94 840.6 1994.08 844.15 1995.22 841.85 1996.36 840.95 1997.49 841.22 1998.63 841.41 1999.77 842.02 2000.91 843.35 2002.04 845.98 2003.18 846.82 2004.32 846.5 2005.46 846.37 2006.6 841.95 2007.73 843.59 2008.87 845.99 2010.01 845.55 2011.15 844.76 2012.28 845.1 2013.42 845.85 2014.56 848.81 2015.7 851.12 2016.83 853.23 2017.97 849.86 2019.11 850.05 2020.25 852.7 2021.38 850.84 2022.52 852.52 2023.66 854.86 2024.8 855.23 2025.93 853.64 2027.07 853.13 2028.21 853.96 2029.35 854.1 2030.48 854.71 2031.62 853.04 2032.76 852.94 2033.9 849.15 2035.04 848.79 2036.17 855.62 2037.31 854.97 2038.45 854.11 2039.59 852.77 2040.72 850.56 2041.86 853.53 2043 856.41 2044.14 856.78 2045.27 855.09 2046.41 852.48" stroke="#da4c4c" stroke-width="1.6" fill="none" opacity=".16" stroke-linejoin="round"/><path d="M1827.99 822.73 1829.13 832 1830.27 834.74 1831.4 827.16 1832.54 825.98 1833.68 826.16 1834.82 824.55 1835.96 826.14 1837.09 831.87 1838.23 831.33 1839.37 829.69 1840.51 832.77 1841.64 834.66 1842.78 833.6 1843.92 831.59 1845.06 835.55 1846.19 838.28 1847.33 842.2 1848.47 838.22 1849.61 834.87 1850.74 835.91 1851.88 834.68 1853.02 834.04 1854.16 832.49 1855.29 836.56 1856.43 837.1 1857.57 839.84 1858.71 840.28 1859.84 842.45 1860.98 845.28 1862.12 841.35 1863.26 841.7 1864.4 844.36 1865.53 847.28 1866.67 848.13 1867.81 846.04 1868.95 844.8 1870.08 847.26 1871.22 850.66 1872.36 849.67 1873.5 850.95 1874.63 854.1 1875.77 852.01 1876.91 849.11 1878.05 847.61 1879.18 848.09 1880.32 848.33 1881.46 850.4 1882.6 849.86 1883.73 845.88 1884.87 847.29 1886.01 849.2 1887.15 850.49 1888.28 849.93 1889.42 848.85 1890.56 849.56 1891.7 849.98 1892.84 849.02 1893.97 851.14 1895.11 854.31 1896.25 854.35 1897.39 853.11 1898.52 852.84 1899.66 854.74 1900.8 851.52 1901.94 848.42 1903.07 847.99 1904.21 852.71 1905.35 854.43 1906.49 851.69 1907.62 851.01 1908.76 849.46 1909.9 844.43 1911.04 844.08 1912.17 846.44 1913.31 844.82 1914.45 844.02 1915.59 844.72 1916.72 846.03 1917.86 846.24 1919 845.46 1920.14 848.13 1921.28 850.97 1922.41 847.7 1923.55 844.17 1924.69 846.07 1925.83 848.82 1926.96 848.57 1928.1 848.72 1929.24 848.14 1930.38 844.5 1931.51 843.94 1932.65 844.51 1933.79 845.36 1934.93 846.96 1936.06 845.18 1937.2 847.45 1938.34 850.27 1939.48 849.01 1940.61 848.76 1941.75 846.46 1942.89 846.5 1944.03 850.37 1945.16 851.51 1946.3 850.86 1947.44 852.25 1948.58 848.95 1949.72 849.71 1950.85 851.6 1951.99 851.03 1953.13 849.88 1954.27 848.23 1955.4 848.15 1956.54 847.5 1957.68 845.56 1958.82 845.99 1959.95 847.44 1961.09 847.39 1962.23 844.17 1963.37 842.24 1964.5 844.44 1965.64 844.31 1966.78 839.76 1967.92 838.34 1969.05 839.63 1970.19 838.14 1971.33 838.36 1972.47 838.97 1973.6 838.67 1974.74 836.26 1975.88 837.14 1977.02 833.76 1978.16 830.47 1979.29 833.53 1980.43 835.27 1981.57 836.45 1982.71 835.29 1983.84 834.66 1984.98 836.18 1986.12 838.9 1987.26 839.86 1988.39 836.52 1989.53 837.74 1990.67 839.56 1991.81 839.37 1992.94 839.52 1994.08 838.55 1995.22 840.48 1996.36 842.02 1997.49 842.31 1998.63 842.66 1999.77 844.09 2000.91 844.02 2002.04 843.87 2003.18 846.31 2004.32 847.78 2005.46 844.28 2006.6 843.98 2007.73 847.61 2008.87 845.67 2010.01 846.52 2011.15 852.45 2012.28 854.6 2013.42 853.88 2014.56 851.86 2015.7 849.07 2016.83 852.08 2017.97 852.29 2019.11 852.44 2020.25 853.51 2021.38 852.45 2022.52 852.5 2023.66 853.36 2024.8 854.14 2025.93 856.52 2027.07 857.17 2028.21 855.28 2029.35 854.59 2030.48 853.67 2031.62 854.07 2032.76 856.72 2033.9 856.71 2035.04 858.18 2036.17 861.51 2037.31 863.99 2038.45 861.83 2039.59 859.69 2040.72 860.56 2041.86 861.24 2043 861.82 2044.14 859.63 2045.27 859.97 2046.41 863.15 2047.55 864.24 2048.69 862.05 2049.82 861.84 2050.96 864.76 2052.1 864.59 2053.24 862.21 2054.37 858.16 2055.51 855.08 2056.65 857.93 2057.79 860.52 2058.92 861.19 2060.06 861.43 2061.2 862.88 2062.34 864 2063.48 865.28 2064.61 864.34 2065.75 866.14 2066.89 868.19 2068.03 867.56 2069.16 867.17 2070.3 866.6 2071.44 867.14 2072.58 866.78 2073.71 867.03 2074.85 866.38 2075.99 868.26 2077.13 868.34 2078.26 867.07 2079.4 867.44 2080.54 865.95 2081.68 865.64 2082.81 865.41 2083.95 868.99 2085.09 872.28 2086.23 869.29 2087.36 869.67 2088.5 870.94 2089.64 868.55 2090.78 867.78 2091.92 870.7 2093.05 871.91 2094.19 871.24 2095.33 872.04 2096.47 872.99 2097.6 873.34 2098.74 875.26 2099.88 875.9 2101.02 876.05 2102.15 876.14 2103.29 874.59 2104.43 875.36 2105.57 875.1 2106.7 874.21 2107.84 875.12 2108.98 875.1 2110.12 875.52 2111.25 876.61 2112.39 876.36 2113.53 876.71 2114.67 876.36 2115.8 879.05 2116.94 880.44 2118.08 880.66 2119.22 880.86 2120.36 879.08 2121.49 878.98 2122.63 879.05 2123.77 879.22 2124.91 882.95 2126.04 884.66 2127.18 881.52 2128.32 879.25 2129.46 881.37 2130.59 884.73 2131.73 883.32 2132.87 884.31 2134.01 886.31 2135.14 885.02 2136.28 885.87 2137.42 887.45 2138.56 888.88 2139.69 887.14 2140.83 887.52 2141.97 889.98 2143.11 889.53 2144.24 888.18 2145.38 888.14 2146.52 888.78 2147.66 888.29 2148.8 887.64 2149.93 889.44 2151.07 889.47 2152.21 888.57 2153.35 888.87 2154.48 891.14 2155.62 892.15 2156.76 890.75 2157.9 889.46 2159.03 889.5 2160.17 890.39 2161.31 890.33 2162.45 889.79 2163.58 888.73 2164.72 889.15 2165.86 891.76 2167 891.54 2168.13 892.97 2169.27 893.94 2170.41 892.61 2171.55 892.46 2172.68 891.51 2173.82 891.87 2174.96 894.05 2176.1 894.24 2177.24 893.87 2178.37 893.5 2179.51 892.06 2180.65 893.01 2181.79 893 2182.92 891.42 2184.06 892.51 2185.2 892.89 2186.34 894.39 2187.47 895.56 2188.61 893.98 2189.75 895.57 2190.89 897.15 2192.02 897.35 2193.16 896.73 2194.3 895.91 2195.44 898.23 2196.57 899.64 2197.71 901.82 2198.85 900.3 2199.99 897.41 2201.12 896.62 2202.26 898.92 2203.4 899.26 2204.54 896.92 2205.68 899.3 2206.81 899.53 2207.95 896.78 2209.09 895.32" stroke="#e87b9f" stroke-width="2.7" fill="none" stroke-linejoin="round"/><circle cx="2209.09" cy="895.32" r="4.2" fill="#e87b9f"/><path d="M1827.99 820.6 1829.13 817.59 1830.27 817.59 1831.4 822.53 1832.54 827.04 1833.68 828.17 1834.82 829.03 1835.96 830.75 1837.09 827.37 1838.23 825.02 1839.37 828.46 1840.51 828.04 1841.64 831.27 1842.78 831.89 1843.92 832.84 1845.06 834.92 1846.19 830.85 1847.33 829.12 1848.47 829 1849.61 830.73 1850.74 834.51 1851.88 834.95 1853.02 833.89 1854.16 830.4 1855.29 837.04 1856.43 840.56 1857.57 834.87 1858.71 836.53 1859.84 839.59 1860.98 839.9 1862.12 843.7 1863.26 842.11 1864.4 842.56 1865.53 843.23 1866.67 845.32 1867.81 847.36 1868.95 845.3 1870.08 843.99 1871.22 843.38 1872.36 844.47 1873.5 845.07 1874.63 842 1875.77 843.49 1876.91 842.55 1878.05 842.77 1879.18 844.65 1880.32 844.03 1881.46 845.02 1882.6 845.03 1883.73 841.1 1884.87 843.3 1886.01 842.81 1887.15 841.64 1888.28 843.71 1889.42 842.18 1890.56 841.95 1891.7 840.16 1892.84 841.3 1893.97 841.33 1895.11 841.59 1896.25 843.37 1897.39 842.51 1898.52 844.05 1899.66 847.1 1900.8 845.89 1901.94 843.41 1903.07 841.87 1904.21 843.4 1905.35 842.46 1906.49 842.4 1907.62 845.96 1908.76 844.67 1909.9 841.76 1911.04 844.79 1912.17 845.21 1913.31 846.06 1914.45 846.69 1915.59 840.8 1916.72 838.25 1917.86 839.71 1919 840.06 1920.14 841.76 1921.28 841.36 1922.41 839.04 1923.55 840.37 1924.69 840.35 1925.83 835.95 1926.96 831.86 1928.1 827.59 1929.24 824.48 1930.38 829.32 1931.51 832.18 1932.65 836.39 1933.79 837.07 1934.93 832.41 1936.06 829.12 1937.2 829.25 1938.34 834.58 1939.48 832.89 1940.61 828.91 1941.75 829.94 1942.89 829.45 1944.03 828.47 1945.16 831.08 1946.3 833.56 1947.44 831.97 1948.58 833.44 1949.72 834.7 1950.85 831.71 1951.99 832.21 1953.13 830.96 1954.27 831.24 1955.4 832.37 1956.54 833.57 1957.68 834.9 1958.82 835.12 1959.95 835.98 1961.09 839.22 1962.23 839.58 1963.37 840.52 1964.5 841.6 1965.64 837.93 1966.78 837.8 1967.92 841.34 1969.05 844.08 1970.19 846.75 1971.33 847.46 1972.47 847.57 1973.6 848.25 1974.74 848.57 1975.88 849.86 1977.02 852.89 1978.16 851.76 1979.29 849.81 1980.43 852.3 1981.57 854.36 1982.71 854.63 1983.84 853.66 1984.98 853.67 1986.12 857.25 1987.26 860.12 1988.39 862.8 1989.53 861.67 1990.67 859.21 1991.81 858.23 1992.94 859.69 1994.08 861.02 1995.22 863.13 1996.36 863.41 1997.49 863.13 1998.63 864.86 1999.77 867.38 2000.91 865.58 2002.04 867.12 2003.18 868.39 2004.32 867.3 2005.46 867.74 2006.6 868.02 2007.73 868.22 2008.87 868.16 2010.01 870.39 2011.15 871.56 2012.28 872.41 2013.42 871.49 2014.56 869.13 2015.7 869.42 2016.83 870.88 2017.97 870.64 2019.11 872.66 2020.25 874.01 2021.38 872.97 2022.52 874.23 2023.66 874.32 2024.8 875.21 2025.93 876.13 2027.07 874.87 2028.21 875.79 2029.35 876.37 2030.48 874.69 2031.62 873.61 2032.76 875.14 2033.9 875.12 2035.04 874.27 2036.17 875.45 2037.31 875.8 2038.45 875.08 2039.59 875.25 2040.72 876.36 2041.86 875.63 2043 875.35 2044.14 877.38 2045.27 877.95 2046.41 877.35 2047.55 877.26 2048.69 878.05 2049.82 880.64 2050.96 880.84 2052.1 881.11 2053.24 881.52 2054.37 882.59 2055.51 884.93 2056.65 885.31 2057.79 883.93 2058.92 882.17 2060.06 882.25 2061.2 883.66 2062.34 883.52 2063.48 882.69 2064.61 879.78 2065.75 878.5 2066.89 881.3 2068.03 884.4 2069.16 885.25 2070.3 884.18 2071.44 883.78 2072.58 881.76 2073.71 882.66 2074.85 887.13 2075.99 887.17 2077.13 886.86 2078.26 886.31 2079.4 884.12 2080.54 885.17 2081.68 887.65 2082.81 888.43 2083.95 886.47 2085.09 887.53 2086.23 889.92 2087.36 889.18 2088.5 888.64 2089.64 889.23 2090.78 889.42 2091.92 889.75 2093.05 890.55 2094.19 890.84 2095.33 890.17 2096.47 891.43 2097.6 891.56 2098.74 890.02 2099.88 889.44 2101.02 888.81 2102.15 890.09 2103.29 891.47 2104.43 889.67 2105.57 888.5 2106.7 888.49 2107.84 888.93 2108.98 890.33" stroke="#7d54b2" stroke-width="2.7" fill="none" stroke-linejoin="round"/><circle cx="2108.98" cy="890.33" r="4.2" fill="#7d54b2"/><path d="M1827.99 812.87 1829.13 814.72 1830.27 811.77 1831.4 808.72 1832.54 812.67 1833.68 819.11 1834.82 814.77 1835.96 815.45 1837.09 828.26 1838.23 826.94 1839.37 818.86 1840.51 817.99 1841.64 816.83 1842.78 814.26 1843.92 820.89 1845.06 830.84 1846.19 832.88 1847.33 828.62 1848.47 826.4 1849.61 834.66 1850.74 837.93 1851.88 834.92 1853.02 831.51 1854.16 831.02 1855.29 831.31 1856.43 834.57 1857.57 831.54 1858.71 831.65 1859.84 831.76 1860.98 832.79 1862.12 834.79 1863.26 834.08 1864.4 834.31 1865.53 835.99 1866.67 835.04 1867.81 836.19 1868.95 837.35 1870.08 836.48 1871.22 835.12 1872.36 835.61 1873.5 836.76 1874.63 836.81 1875.77 836.12 1876.91 835.78 1878.05 836.22 1879.18 838.66 1880.32 836.07 1881.46 836.02 1882.6 835.35 1883.73 828.6 1884.87 826.55 1886.01 830.74 1887.15 829.46 1888.28 827.18 1889.42 830.15 1890.56 830.92 1891.7 829.87 1892.84 830.28 1893.97 829.38 1895.11 830.77 1896.25 829.88 1897.39 824.28 1898.52 825.98 1899.66 830.51 1900.8 831.05 1901.94 829.07 1903.07 830.34 1904.21 831.56 1905.35 828.77 1906.49 831.05 1907.62 835.37 1908.76 835.98 1909.9 836.89 1911.04 834.34 1912.17 832.32 1913.31 829.6 1914.45 826.86 1915.59 823.29 1916.72 820.54 1917.86 818.86 1919 815.21 1920.14 815.7 1921.28 816.4 1922.41 816.3 1923.55 814.34 1924.69 813.2 1925.83 812.76 1926.96 812.13 1928.1 812.39 1929.24 812.72 1930.38 815.31 1931.51 815.93 1932.65 815.13 1933.79 814.48 1934.93 815.46 1936.06 816.93 1937.2 819.2 1938.34 820.29 1939.48 819.33 1940.61 821.18 1941.75 825.11 1942.89 825.21 1944.03 822.32 1945.16 824.14 1946.3 828.74 1947.44 830.99 1948.58 832.34 1949.72 833.55 1950.85 835.28 1951.99 833.62 1953.13 831.3 1954.27 833.51 1955.4 835.41 1956.54 835.51 1957.68 836.38 1958.82 837.96 1959.95 837.51 1961.09 838.55 1962.23 838.94 1963.37 836.08 1964.5 838.77 1965.64 843.21 1966.78 844.34 1967.92 845.93 1969.05 845.63 1970.19 845.38 1971.33 846.2 1972.47 848.51 1973.6 848.81 1974.74 848.58 1975.88 849.32 1977.02 849.89 1978.16 851.23 1979.29 852.19 1980.43 855.29 1981.57 854.99 1982.71 854.26 1983.84 856.05 1984.98 854.73 1986.12 856.39 1987.26 859.47 1988.39 859.3 1989.53 859.24 1990.67 860.76 1991.81 859.56 1992.94 860.38 1994.08 863.08 1995.22 864.14 1996.36 862.3 1997.49 863.11 1998.63 862.7 1999.77 864.29 2000.91 866.65 2002.04 867.26 2003.18 867.97 2004.32 864.4 2005.46 862.95 2006.6 865.33 2007.73 866.85 2008.87 866.35 2010.01 866.21 2011.15 868.66 2012.28 866.99 2013.42 867.61 2014.56 869.41 2015.7 867.43 2016.83 866.53 2017.97 864.95 2019.11 865.3 2020.25 868.05 2021.38 868.31 2022.52 867.52 2023.66 870.17 2024.8 871.93 2025.93 871.75 2027.07 873.68 2028.21 873.22 2029.35 870.6 2030.48 871.03 2031.62 873.02 2032.76 874 2033.9 871.83 2035.04 871.91 2036.17 873.8 2037.31 875.6 2038.45 876.05 2039.59 874.17 2040.72 874.48 2041.86 873.45 2043 871.36 2044.14 873.77 2045.27 878.3 2046.41 879.91 2047.55 876.89 2048.69 877.81 2049.82 880.06 2050.96 880.4 2052.1 877.77 2053.24 878.52 2054.37 882.99 2055.51 882.08 2056.65 879.37 2057.79 879.04 2058.92 879.08 2060.06 879.67 2061.2 880.01 2062.34 879.06 2063.48 878.54 2064.61 879.11 2065.75 880.32 2066.89 879.79 2068.03 879.14 2069.16 880.81 2070.3 881.11 2071.44 881.56 2072.58 882.23" stroke="#479a5f" stroke-width="2.7" fill="none" stroke-linejoin="round"/><circle cx="2072.58" cy="882.23" r="4.2" fill="#479a5f"/><path d="M1827.99 778.04 1829.13 780.46 1830.27 780.75 1831.4 777.69 1832.54 784.78 1833.68 786.81 1834.82 784.1 1835.96 784.81 1837.09 790.85 1838.23 798.94 1839.37 799.07 1840.51 801.78 1841.64 799.7 1842.78 798.21 1843.92 798.82 1845.06 796.55 1846.19 795.73 1847.33 799.38 1848.47 800.06 1849.61 795.69 1850.74 799.9 1851.88 803.83 1853.02 805.51 1854.16 803.24 1855.29 798.58 1856.43 802.76 1857.57 806.92 1858.71 804.79 1859.84 804.42 1860.98 805.96 1862.12 805.39 1863.26 806.27 1864.4 807.18 1865.53 804.75 1866.67 806.52 1867.81 807.31 1868.95 810.83 1870.08 809.16 1871.22 804.13 1872.36 803.45 1873.5 806.57 1874.63 804.01 1875.77 800.84 1876.91 800.81 1878.05 800.91 1879.18 798.61 1880.32 796.98 1881.46 794.59 1882.6 791.17 1883.73 792.2 1884.87 796.17 1886.01 799.15 1887.15 797.02 1888.28 794.21 1889.42 793.89 1890.56 796.56 1891.7 799.36 1892.84 800.21 1893.97 802.52 1895.11 804 1896.25 803.14 1897.39 800.81 1898.52 799.45 1899.66 800.28 1900.8 802.69 1901.94 800.39 1903.07 793.87 1904.21 785.27 1905.35 777.73 1906.49 768.78 1907.62 772.77 1908.76 779.11 1909.9 779.68 1911.04 779.27 1912.17 781.58 1913.31 784.06 1914.45 784.84 1915.59 784.61 1916.72 785.16 1917.86 782.43 1919 781.55 1920.14 784.95 1921.28 789.07 1922.41 789.55 1923.55 789.67 1924.69 792.33 1925.83 792.38 1926.96 792.95 1928.1 791.9 1929.24 789.15 1930.38 790.86 1931.51 790.5 1932.65 794.13 1933.79 800.95 1934.93 800.85 1936.06 801.47 1937.2 802.63 1938.34 800.73 1939.48 800.19 1940.61 800.75 1941.75 803.33 1942.89 806.5 1944.03 807.94 1945.16 808.7 1946.3 809.3 1947.44 810.41 1948.58 812.52 1949.72 814.71 1950.85 815.22 1951.99 815.35 1953.13 816.47 1954.27 818.01 1955.4 821.21 1956.54 822.15 1957.68 823.49 1958.82 824.3 1959.95 824.22 1961.09 823.32 1962.23 823.2 1963.37 826.32 1964.5 826.47 1965.64 828.74 1966.78 830.62 1967.92 832.53 1969.05 831.78 1970.19 832.18 1971.33 830.72 1972.47 831.1 1973.6 833.81 1974.74 832.73 1975.88 832.43 1977.02 831.38 1978.16 831.73 1979.29 833.87 1980.43 833.63 1981.57 831.43 1982.71 830.62 1983.84 834.78 1984.98 836.64 1986.12 836.73 1987.26 837.05 1988.39 835.81 1989.53 836.78 1990.67 837.97 1991.81 837.39 1992.94 840.6 1994.08 843.14 1995.22 841.9 1996.36 841.24 1997.49 841.5 1998.63 842 1999.77 842.52 2000.91 843.56 2002.04 845.29 2003.18 845.99 2004.32 845.86 2005.46 845.96 2006.6 843.22 2007.73 844.51 2008.87 846.15 2010.01 846.19 2011.15 845.96 2012.28 846.32 2013.42 847 2014.56 849.25 2015.7 850.83 2016.83 852.44 2017.97 850.33 2019.11 850.68 2020.25 852.63 2021.38 851.51 2022.52 852.74 2023.66 854.34 2024.8 854.6 2025.93 853.7 2027.07 853.44 2028.21 854.04 2029.35 854.07 2030.48 854.31 2031.62 853.15 2032.76 853.24 2033.9 850.74 2035.04 850.57 2036.17 855.11 2037.31 854.74 2038.45 854.15 2039.59 853.3 2040.72 851.81 2041.86 853.88 2043 855.74 2044.14 856.05 2045.27 854.98 2046.41 853.29" stroke="#da4c4c" stroke-width="2.7" fill="none" stroke-linejoin="round"/><circle cx="2046.41" cy="853.29" r="4.2" fill="#da4c4c"/></svg><div style="position:absolute;top:980.59px;font:400 15.4px/15.4px 'Liberation Sans',sans-serif;color:#666;white-space:nowrap;right:618px;transform-origin:100% 50%;transform:scaleX(0.9900);">0</div><div style="position:absolute;top:932.69px;font:400 15.4px/15.4px 'Liberation Sans',sans-serif;color:#666;white-space:nowrap;right:618px;transform-origin:100% 50%;transform:scaleX(0.9900);">0.01</div><div style="position:absolute;top:884.79px;font:400 15.4px/15.4px 'Liberation Sans',sans-serif;color:#666;white-space:nowrap;right:618px;transform-origin:100% 50%;transform:scaleX(0.9900);">0.02</div><div style="position:absolute;top:836.89px;font:400 15.4px/15.4px 'Liberation Sans',sans-serif;color:#666;white-space:nowrap;right:618px;transform-origin:100% 50%;transform:scaleX(0.9900);">0.03</div><div style="position:absolute;top:788.99px;font:400 15.4px/15.4px 'Liberation Sans',sans-serif;color:#666;white-space:nowrap;right:618px;transform-origin:100% 50%;transform:scaleX(0.9900);">0.04</div><div style="position:absolute;top:741.09px;font:400 15.4px/15.4px 'Liberation Sans',sans-serif;color:#666;white-space:nowrap;right:618px;transform-origin:100% 50%;transform:scaleX(0.9900);">0.05</div><div style="position:absolute;top:1009.89px;font:400 15.4px/15.4px 'Liberation Sans',sans-serif;color:#666;white-space:nowrap;left:1887.4px;transform:translateX(-50%) scaleX(0.9750);">5</div><div style="position:absolute;top:1009.89px;font:400 15.4px/15.4px 'Liberation Sans',sans-serif;color:#666;white-space:nowrap;left:1950.6px;transform:translateX(-50%) scaleX(0.9750);">10</div><div style="position:absolute;top:1009.89px;font:400 15.4px/15.4px 'Liberation Sans',sans-serif;color:#666;white-space:nowrap;left:2013.8px;transform:translateX(-50%) scaleX(0.9750);">15</div><div style="position:absolute;top:1009.89px;font:400 15.4px/15.4px 'Liberation Sans',sans-serif;color:#666;white-space:nowrap;left:2077px;transform:translateX(-50%) scaleX(0.9750);">20</div><div style="position:absolute;top:1009.89px;font:400 15.4px/15.4px 'Liberation Sans',sans-serif;color:#666;white-space:nowrap;left:2140.2px;transform:translateX(-50%) scaleX(0.9750);">25</div><div style="position:absolute;top:1009.89px;font:400 15.4px/15.4px 'Liberation Sans',sans-serif;color:#666;white-space:nowrap;left:2203.4px;transform:translateX(-50%) scaleX(0.9750);">30</div><div style="position:absolute;top:964.44px;font:400 15.7px/15.7px 'Liberation Sans',sans-serif;color:#666;white-space:nowrap;right:224.1px;transform-origin:100% 50%;transform:scaleX(1.0759);">Time (minutes)</div>
<div style="position:absolute;left:672.5px;top:1170.5px;width:1588px;height:478px;box-sizing:border-box;border:2px solid #dddddd;border-radius:5px;background:#fff"></div><svg style="position:absolute;left:692.6px;top:1210.6px;overflow:visible;" width="25.6" height="25.6" viewBox="0 0 25.6 25.6"><path d="M11.07 4.78 L11.53 2.07 L14.07 2.07 L14.53 4.78 L17.25 5.9 L19.49 4.32 L21.28 6.11 L19.7 8.35 L20.82 11.07 L23.53 11.53 L23.53 14.07 L20.82 14.53 L19.7 17.25 L21.28 19.49 L19.49 21.28 L17.25 19.7 L14.53 20.82 L14.07 23.53 L11.53 23.53 L11.07 20.82 L8.35 19.7 L6.11 21.28 L4.32 19.49 L5.9 17.25 L4.78 14.53 L2.07 14.07 L2.07 11.53 L4.78 11.07 L5.9 8.35 L4.32 6.11 L6.11 4.32 L8.35 5.9Z" stroke="#4a4a4a" stroke-width="1.4" fill="none" stroke-linejoin="round"/><circle cx="12.8" cy="12.8" r="2.92" stroke="#4a4a4a" stroke-width="1.4" fill="none"/></svg><div style="position:absolute;top:1215.34px;font:700 20.5px/20.5px 'Liberation Sans',sans-serif;color:#2b2b2b;white-space:nowrap;left:1466px;transform:translateX(-50%) scaleX(1.0247);">outputs</div><div style="position:absolute;top:1262.32px;font:400 14px/14px 'Liberation Sans',sans-serif;color:#2e7cab;white-space:nowrap;left:696.3px;transform-origin:0 50%;transform:scaleX(0.9943);">exp3_COCO128_YOLOv5x</div><div style="position:absolute;left:696px;top:1280px;width:375.5px;height:263.7px;background:#757575"></div><svg style="position:absolute;left:696px;top:1280px" width="375.5" height="263.7" viewBox="0 0 375.5 263.7"><use href="#ph" x="0" y="17" width="375.5" height="228.7"/><rect x="88.5" y="54.6" width="94.4" height="151" fill="none" stroke="#5f96e0" stroke-width="1.9"/><rect x="88.5" y="42.2" width="53.3" height="12.4" fill="#5f96e0"/><text x="91" y="52" font-family="Liberation Sans, sans-serif" font-size="8.400" fill="#fff" textLength="48.3" lengthAdjust="spacingAndGlyphs">person 0.976</text><rect x="174.6" y="111.2" width="47.2" height="36" fill="none" stroke="#8fd3b6" stroke-width="1.9"/><rect x="174.6" y="98.2" width="74.6" height="13" fill="#8fd3b6"/><text x="177.1" y="108.6" font-family="Liberation Sans, sans-serif" font-size="8.400" fill="#fff" textLength="69.6" lengthAdjust="spacingAndGlyphs">tennis racket 0.957</text><rect x="210.3" y="132.1" width="7.4" height="7.2" fill="none" stroke="#5f96e0" stroke-width="1.2"/><rect x="210.3" y="118.6" width="65.8" height="13.5" fill="#5f96e0"/><text x="212.8" y="129.5" font-family="Liberation Sans, sans-serif" font-size="8.400" fill="#fff" textLength="60.8" lengthAdjust="spacingAndGlyphs">sports ball 0.926</text></svg><div style="position:absolute;top:1262.32px;font:400 14px/14px 'Liberation Sans',sans-serif;color:#2e7cab;white-space:nowrap;left:1084.6px;">exp2_COCO128_YOLOv5l</div><div style="position:absolute;left:1084.3px;top:1280px;width:375.5px;height:263.7px;background:#757575"></div><svg style="position:absolute;left:1084.3px;top:1280px" width="375.5" height="263.7" viewBox="0 0 375.5 263.7"><use href="#ph" x="0" y="17" width="375.5" height="228.7"/><rect x="89.5" y="55.8" width="93.1" height="149.8" fill="none" stroke="#5f96e0" stroke-width="1.9"/><rect x="89.5" y="43.5" width="53.3" height="12.4" fill="#5f96e0"/><text x="92" y="53.3" font-family="Liberation Sans, sans-serif" font-size="8.400" fill="#fff" textLength="48.3" lengthAdjust="spacingAndGlyphs">person 0.971</text><rect x="174.1" y="112.2" width="47.4" height="34.5" fill="none" stroke="#8fd3b6" stroke-width="1.9"/><rect x="174.1" y="99.2" width="74.6" height="13" fill="#8fd3b6"/><text x="176.6" y="109.6" font-family="Liberation Sans, sans-serif" font-size="8.400" fill="#fff" textLength="69.6" lengthAdjust="spacingAndGlyphs">tennis racket 0.946</text><rect x="210.3" y="131.7" width="7.4" height="7.6" fill="none" stroke="#5f96e0" stroke-width="1.2"/><rect x="210.3" y="118.2" width="65.8" height="13.5" fill="#5f96e0"/><text x="212.8" y="129.1" font-family="Liberation Sans, sans-serif" font-size="8.400" fill="#fff" textLength="60.8" lengthAdjust="spacingAndGlyphs">sports ball 0.896</text></svg><div style="position:absolute;top:1262.32px;font:400 14px/14px 'Liberation Sans',sans-serif;color:#2e7cab;white-space:nowrap;left:1472.6px;transform-origin:0 50%;transform:scaleX(1.0077);">exp1_COCO128_YOLOv5m</div><div style="position:absolute;left:1472.3px;top:1280px;width:375.5px;height:263.7px;background:#757575"></div><svg style="position:absolute;left:1472.3px;top:1280px" width="375.5" height="263.7" viewBox="0 0 375.5 263.7"><use href="#ph" x="0" y="17" width="375.5" height="228.7"/><rect x="90.2" y="56.9" width="94.5" height="148.5" fill="none" stroke="#5f96e0" stroke-width="1.9"/><rect x="90.2" y="44.6" width="53.3" height="12.4" fill="#5f96e0"/><text x="92.7" y="54.4" font-family="Liberation Sans, sans-serif" font-size="8.400" fill="#fff" textLength="48.3" lengthAdjust="spacingAndGlyphs">person 0.967</text><rect x="173.7" y="110.2" width="48.2" height="35.9" fill="none" stroke="#8fd3b6" stroke-width="1.9"/><rect x="173.7" y="97.2" width="74.6" height="13" fill="#8fd3b6"/><text x="176.2" y="107.6" font-family="Liberation Sans, sans-serif" font-size="8.400" fill="#fff" textLength="69.6" lengthAdjust="spacingAndGlyphs">tennis racket 0.945</text><rect x="210.3" y="131.7" width="7.4" height="7.6" fill="none" stroke="#5f96e0" stroke-width="1.2"/><rect x="210.3" y="118.2" width="65.8" height="13.5" fill="#5f96e0"/><text x="212.8" y="129.1" font-family="Liberation Sans, sans-serif" font-size="8.400" fill="#fff" textLength="60.8" lengthAdjust="spacingAndGlyphs">sports ball 0.920</text><rect x="361.5" y="87" width="15" height="153" fill="none" stroke="#5f96e0" stroke-width="1.9"/><rect x="324.5" y="74.3" width="51" height="12.7" fill="#5f96e0"/><text x="327" y="84.4" font-family="Liberation Sans, sans-serif" font-size="8.400" fill="#fff" textLength="46" lengthAdjust="spacingAndGlyphs">person 0.031</text></svg><div style="position:absolute;top:1262.32px;font:400 14px/14px 'Liberation Sans',sans-serif;color:#2e7cab;white-space:nowrap;left:1862px;transform-origin:0 50%;transform:scaleX(0.9943);">exp0_COCO128_YOLOv5s</div><div style="position:absolute;left:1861.7px;top:1280px;width:375.5px;height:263.7px;background:#757575"></div><svg style="position:absolute;left:1861.7px;top:1280px" width="375.5" height="263.7" viewBox="0 0 375.5 263.7"><use href="#ph" x="0" y="17" width="375.5" height="228.7"/><rect x="89.7" y="51.7" width="94" height="156.6" fill="none" stroke="#5f96e0" stroke-width="1.9"/><rect x="89.7" y="39.4" width="53.3" height="12.4" fill="#5f96e0"/><text x="92.2" y="49.2" font-family="Liberation Sans, sans-serif" font-size="8.400" fill="#fff" textLength="48.3" lengthAdjust="spacingAndGlyphs">person 0.949</text><rect x="243" y="118.5" width="33" height="10" fill="#5f96e0"/><text x="245.5" y="125.9" font-family="Liberation Sans, sans-serif" font-size="8.400" fill="#fff" textLength="28" lengthAdjust="spacingAndGlyphs"></text><rect x="172" y="111" width="52.2" height="35.6" fill="none" stroke="#6db27a" stroke-width="1.9"/><rect x="172" y="98" width="74.6" height="13" fill="#6db27a"/><text x="174.5" y="108.4" font-family="Liberation Sans, sans-serif" font-size="8.400" fill="#fff" textLength="69.6" lengthAdjust="spacingAndGlyphs">baseball bat 0.015</text><rect x="210.3" y="128" width="7.7" height="11.3" fill="none" stroke="#8fd3b6" stroke-width="1.2"/><rect x="210.3" y="115" width="73.5" height="13" fill="#8fd3b6"/><text x="212.8" y="125.4" font-family="Liberation Sans, sans-serif" font-size="8.400" fill="#fff" textLength="68.5" lengthAdjust="spacingAndGlyphs">tennis racket 0.011</text></svg>
<div style="position:absolute;left:672.5px;top:1676.5px;width:1588px;height:478px;box-sizing:border-box;border:2px solid #dddddd;border-radius:5px;background:#fff;"></div><div style="position:absolute;top:1728.78px;font:400 15.8px/15.8px 'Liberation Sans',sans-serif;color:#444;white-space:nowrap;left:755.4px;transform:translateX(-50%) scaleX(1.0901);">val/obj_loss</div><div style="position:absolute;top:2105.29px;font:400 15.4px/15.4px 'Liberation Sans',sans-serif;color:#555;white-space:nowrap;right:1684.3px;">0.013</div><div style="position:absolute;top:2062.02px;font:400 15.4px/15.4px 'Liberation Sans',sans-serif;color:#555;white-space:nowrap;right:1684.3px;">0.014</div><div style="position:absolute;top:2018.74px;font:400 15.4px/15.4px 'Liberation Sans',sans-serif;color:#555;white-space:nowrap;right:1684.3px;">0.015</div><div style="position:absolute;top:1975.47px;font:400 15.4px/15.4px 'Liberation Sans',sans-serif;color:#555;white-space:nowrap;right:1684.3px;">0.016</div><div style="position:absolute;top:1932.19px;font:400 15.4px/15.4px 'Liberation Sans',sans-serif;color:#555;white-space:nowrap;right:1684.3px;">0.017</div><div style="position:absolute;top:1888.92px;font:400 15.4px/15.4px 'Liberation Sans',sans-serif;color:#555;white-space:nowrap;right:1684.3px;">0.018</div><div style="position:absolute;top:1845.64px;font:400 15.4px/15.4px 'Liberation Sans',sans-serif;color:#555;white-space:nowrap;right:1684.3px;">0.019</div><div style="position:absolute;top:1802.37px;font:400 15.4px/15.4px 'Liberation Sans',sans-serif;color:#555;white-space:nowrap;right:1684.3px;">0.020</div><div style="position:absolute;top:1759.09px;font:400 15.4px/15.4px 'Liberation Sans',sans-serif;color:#555;white-space:nowrap;right:1684.3px;">0.021</div><div style="position:absolute;top:1728.78px;font:400 15.8px/15.8px 'Liberation Sans',sans-serif;color:#444;white-space:nowrap;left:931.1px;transform:translateX(-50%) scaleX(1.0646);">val/cls_loss</div><div style="position:absolute;top:2105.29px;font:400 15.4px/15.4px 'Liberation Sans',sans-serif;color:#555;white-space:nowrap;right:1508.6px;">0.00205</div><div style="position:absolute;top:2073.82px;font:400 15.4px/15.4px 'Liberation Sans',sans-serif;color:#555;white-space:nowrap;right:1508.6px;">0.00210</div><div style="position:absolute;top:2042.35px;font:400 15.4px/15.4px 'Liberation Sans',sans-serif;color:#555;white-space:nowrap;right:1508.6px;">0.00215</div><div style="position:absolute;top:2010.87px;font:400 15.4px/15.4px 'Liberation Sans',sans-serif;color:#555;white-space:nowrap;right:1508.6px;">0.00220</div><div style="position:absolute;top:1979.4px;font:400 15.4px/15.4px 'Liberation Sans',sans-serif;color:#555;white-space:nowrap;right:1508.6px;">0.00225</div><div style="position:absolute;top:1947.93px;font:400 15.4px/15.4px 'Liberation Sans',sans-serif;color:#555;white-space:nowrap;right:1508.6px;">0.00230</div><div style="position:absolute;top:1916.46px;font:400 15.4px/15.4px 'Liberation Sans',sans-serif;color:#555;white-space:nowrap;right:1508.6px;">0.00235</div><div style="position:absolute;top:1884.98px;font:400 15.4px/15.4px 'Liberation Sans',sans-serif;color:#555;white-space:nowrap;right:1508.6px;">0.00240</div><div style="position:absolute;top:1853.51px;font:400 15.4px/15.4px 'Liberation Sans',sans-serif;color:#555;white-space:nowrap;right:1508.6px;">0.00245</div><div style="position:absolute;top:1822.04px;font:400 15.4px/15.4px 'Liberation Sans',sans-serif;color:#555;white-space:nowrap;right:1508.6px;">0.00250</div><div style="position:absolute;top:1790.56px;font:400 15.4px/15.4px 'Liberation Sans',sans-serif;color:#555;white-space:nowrap;right:1508.6px;">0.00255</div><div style="position:absolute;top:1759.09px;font:400 15.4px/15.4px 'Liberation Sans',sans-serif;color:#555;white-space:nowrap;right:1508.6px;">0.00260</div><div style="position:absolute;top:1728.78px;font:400 15.8px/15.8px 'Liberation Sans',sans-serif;color:#444;white-space:nowrap;left:1106.4px;transform:translateX(-50%) scaleX(1.0993);">train/giou_loss</div><div style="position:absolute;top:2105.29px;font:400 15.4px/15.4px 'Liberation Sans',sans-serif;color:#555;white-space:nowrap;right:1333.3px;">0.018</div><div style="position:absolute;top:2062.02px;font:400 15.4px/15.4px 'Liberation Sans',sans-serif;color:#555;white-space:nowrap;right:1333.3px;">0.019</div><div style="position:absolute;top:2018.74px;font:400 15.4px/15.4px 'Liberation Sans',sans-serif;color:#555;white-space:nowrap;right:1333.3px;">0.020</div><div style="position:absolute;top:1975.47px;font:400 15.4px/15.4px 'Liberation Sans',sans-serif;color:#555;white-space:nowrap;right:1333.3px;">0.021</div><div style="position:absolute;top:1932.19px;font:400 15.4px/15.4px 'Liberation Sans',sans-serif;color:#555;white-space:nowrap;right:1333.3px;">0.022</div><div style="position:absolute;top:1888.92px;font:400 15.4px/15.4px 'Liberation Sans',sans-serif;color:#555;white-space:nowrap;right:1333.3px;">0.023</div><div style="position:absolute;top:1845.64px;font:400 15.4px/15.4px 'Liberation Sans',sans-serif;color:#555;white-space:nowrap;right:1333.3px;">0.024</div><div style="position:absolute;top:1802.37px;font:400 15.4px/15.4px 'Liberation Sans',sans-serif;color:#555;white-space:nowrap;right:1333.3px;">0.025</div><div style="position:absolute;top:1759.09px;font:400 15.4px/15.4px 'Liberation Sans',sans-serif;color:#555;white-space:nowrap;right:1333.3px;">0.026</div><div style="position:absolute;top:1728.78px;font:400 15.8px/15.8px 'Liberation Sans',sans-serif;color:#444;white-space:nowrap;left:1282.1px;transform:translateX(-50%) scaleX(1.0641);">metrics/mAP_0.5</div><div style="position:absolute;top:2105.29px;font:400 15.4px/15.4px 'Liberation Sans',sans-serif;color:#555;white-space:nowrap;right:1157.6px;">0.965</div><div style="position:absolute;top:2076.44px;font:400 15.4px/15.4px 'Liberation Sans',sans-serif;color:#555;white-space:nowrap;right:1157.6px;">0.966</div><div style="position:absolute;top:2047.59px;font:400 15.4px/15.4px 'Liberation Sans',sans-serif;color:#555;white-space:nowrap;right:1157.6px;">0.967</div><div style="position:absolute;top:2018.74px;font:400 15.4px/15.4px 'Liberation Sans',sans-serif;color:#555;white-space:nowrap;right:1157.6px;">0.968</div><div style="position:absolute;top:1989.89px;font:400 15.4px/15.4px 'Liberation Sans',sans-serif;color:#555;white-space:nowrap;right:1157.6px;">0.969</div><div style="position:absolute;top:1961.04px;font:400 15.4px/15.4px 'Liberation Sans',sans-serif;color:#555;white-space:nowrap;right:1157.6px;">0.970</div><div style="position:absolute;top:1932.19px;font:400 15.4px/15.4px 'Liberation Sans',sans-serif;color:#555;white-space:nowrap;right:1157.6px;">0.971</div><div style="position:absolute;top:1903.34px;font:400 15.4px/15.4px 'Liberation Sans',sans-serif;color:#555;white-space:nowrap;right:1157.6px;">0.972</div><div style="position:absolute;top:1874.49px;font:400 15.4px/15.4px 'Liberation Sans',sans-serif;color:#555;white-space:nowrap;right:1157.6px;">0.973</div><div style="position:absolute;top:1845.64px;font:400 15.4px/15.4px 'Liberation Sans',sans-serif;color:#555;white-space:nowrap;right:1157.6px;">0.974</div><div style="position:absolute;top:1816.79px;font:400 15.4px/15.4px 'Liberation Sans',sans-serif;color:#555;white-space:nowrap;right:1157.6px;">0.975</div><div style="position:absolute;top:1787.94px;font:400 15.4px/15.4px 'Liberation Sans',sans-serif;color:#555;white-space:nowrap;right:1157.6px;">0.976</div><div style="position:absolute;top:1759.09px;font:400 15.4px/15.4px 'Liberation Sans',sans-serif;color:#555;white-space:nowrap;right:1157.6px;">0.977</div><div style="position:absolute;top:1728.78px;font:400 15.8px/15.8px 'Liberation Sans',sans-serif;color:#444;white-space:nowrap;left:1457.8px;transform:translateX(-50%) scaleX(1.0551);">metrics/mAP_0.5:0.95</div><div style="position:absolute;top:2105.29px;font:400 15.4px/15.4px 'Liberation Sans',sans-serif;color:#555;white-space:nowrap;right:981.9px;">0.78</div><div style="position:absolute;top:2076.44px;font:400 15.4px/15.4px 'Liberation Sans',sans-serif;color:#555;white-space:nowrap;right:981.9px;">0.79</div><div style="position:absolute;top:2047.59px;font:400 15.4px/15.4px 'Liberation Sans',sans-serif;color:#555;white-space:nowrap;right:981.9px;">0.80</div><div style="position:absolute;top:2018.74px;font:400 15.4px/15.4px 'Liberation Sans',sans-serif;color:#555;white-space:nowrap;right:981.9px;">0.81</div><div style="position:absolute;top:1989.89px;font:400 15.4px/15.4px 'Liberation Sans',sans-serif;color:#555;white-space:nowrap;right:981.9px;">0.82</div><div style="position:absolute;top:1961.04px;font:400 15.4px/15.4px 'Liberation Sans',sans-serif;color:#555;white-space:nowrap;right:981.9px;">0.83</div><div style="position:absolute;top:1932.19px;font:400 15.4px/15.4px 'Liberation Sans',sans-serif;color:#555;white-space:nowrap;right:981.9px;">0.84</div><div style="position:absolute;top:1903.34px;font:400 15.4px/15.4px 'Liberation Sans',sans-serif;color:#555;white-space:nowrap;right:981.9px;">0.85</div><div style="position:absolute;top:1874.49px;font:400 15.4px/15.4px 'Liberation Sans',sans-serif;color:#555;white-space:nowrap;right:981.9px;">0.86</div><div style="position:absolute;top:1845.64px;font:400 15.4px/15.4px 'Liberation Sans',sans-serif;color:#555;white-space:nowrap;right:981.9px;">0.87</div><div style="position:absolute;top:1816.79px;font:400 15.4px/15.4px 'Liberation Sans',sans-serif;color:#555;white-space:nowrap;right:981.9px;">0.88</div><div style="position:absolute;top:1787.94px;font:400 15.4px/15.4px 'Liberation Sans',sans-serif;color:#555;white-space:nowrap;right:981.9px;">0.89</div><div style="position:absolute;top:1759.09px;font:400 15.4px/15.4px 'Liberation Sans',sans-serif;color:#555;white-space:nowrap;right:981.9px;">0.90</div><div style="position:absolute;top:1728.78px;font:400 15.8px/15.8px 'Liberation Sans',sans-serif;color:#444;white-space:nowrap;left:1633.8px;transform:translateX(-50%) scaleX(1.1052);">metrics/precision</div><div style="position:absolute;top:2105.29px;font:400 15.4px/15.4px 'Liberation Sans',sans-serif;color:#555;white-space:nowrap;right:805.9px;">0.66</div><div style="position:absolute;top:2070.67px;font:400 15.4px/15.4px 'Liberation Sans',sans-serif;color:#555;white-space:nowrap;right:805.9px;">0.67</div><div style="position:absolute;top:2036.05px;font:400 15.4px/15.4px 'Liberation Sans',sans-serif;color:#555;white-space:nowrap;right:805.9px;">0.68</div><div style="position:absolute;top:2001.43px;font:400 15.4px/15.4px 'Liberation Sans',sans-serif;color:#555;white-space:nowrap;right:805.9px;">0.69</div><div style="position:absolute;top:1966.81px;font:400 15.4px/15.4px 'Liberation Sans',sans-serif;color:#555;white-space:nowrap;right:805.9px;">0.70</div><div style="position:absolute;top:1932.19px;font:400 15.4px/15.4px 'Liberation Sans',sans-serif;color:#555;white-space:nowrap;right:805.9px;">0.71</div><div style="position:absolute;top:1897.57px;font:400 15.4px/15.4px 'Liberation Sans',sans-serif;color:#555;white-space:nowrap;right:805.9px;">0.72</div><div style="position:absolute;top:1862.95px;font:400 15.4px/15.4px 'Liberation Sans',sans-serif;color:#555;white-space:nowrap;right:805.9px;">0.73</div><div style="position:absolute;top:1828.33px;font:400 15.4px/15.4px 'Liberation Sans',sans-serif;color:#555;white-space:nowrap;right:805.9px;">0.74</div><div style="position:absolute;top:1793.71px;font:400 15.4px/15.4px 'Liberation Sans',sans-serif;color:#555;white-space:nowrap;right:805.9px;">0.75</div><div style="position:absolute;top:1759.09px;font:400 15.4px/15.4px 'Liberation Sans',sans-serif;color:#555;white-space:nowrap;right:805.9px;">0.76</div><div style="position:absolute;top:1728.78px;font:400 15.8px/15.8px 'Liberation Sans',sans-serif;color:#444;white-space:nowrap;left:1809.5px;transform:translateX(-50%) scaleX(1.1176);">metrics/recall</div><div style="position:absolute;top:2105.29px;font:400 15.4px/15.4px 'Liberation Sans',sans-serif;color:#555;white-space:nowrap;right:630.2px;">0.9760</div><div style="position:absolute;top:2066.83px;font:400 15.4px/15.4px 'Liberation Sans',sans-serif;color:#555;white-space:nowrap;right:630.2px;">0.9765</div><div style="position:absolute;top:2028.36px;font:400 15.4px/15.4px 'Liberation Sans',sans-serif;color:#555;white-space:nowrap;right:630.2px;">0.9770</div><div style="position:absolute;top:1989.89px;font:400 15.4px/15.4px 'Liberation Sans',sans-serif;color:#555;white-space:nowrap;right:630.2px;">0.9775</div><div style="position:absolute;top:1951.43px;font:400 15.4px/15.4px 'Liberation Sans',sans-serif;color:#555;white-space:nowrap;right:630.2px;">0.9780</div><div style="position:absolute;top:1912.96px;font:400 15.4px/15.4px 'Liberation Sans',sans-serif;color:#555;white-space:nowrap;right:630.2px;">0.9785</div><div style="position:absolute;top:1874.49px;font:400 15.4px/15.4px 'Liberation Sans',sans-serif;color:#555;white-space:nowrap;right:630.2px;">0.9790</div><div style="position:absolute;top:1836.03px;font:400 15.4px/15.4px 'Liberation Sans',sans-serif;color:#555;white-space:nowrap;right:630.2px;">0.9795</div><div style="position:absolute;top:1797.56px;font:400 15.4px/15.4px 'Liberation Sans',sans-serif;color:#555;white-space:nowrap;right:630.2px;">0.9800</div><div style="position:absolute;top:1759.09px;font:400 15.4px/15.4px 'Liberation Sans',sans-serif;color:#555;white-space:nowrap;right:630.2px;">0.9805</div><div style="position:absolute;top:1728.78px;font:400 15.8px/15.8px 'Liberation Sans',sans-serif;color:#444;white-space:nowrap;left:1984.8px;transform:translateX(-50%) scaleX(1.0950);">train/cls_loss</div><div style="position:absolute;top:2105.29px;font:400 15.4px/15.4px 'Liberation Sans',sans-serif;color:#555;white-space:nowrap;right:454.9px;">0.0028</div><div style="position:absolute;top:2059.14px;font:400 15.4px/15.4px 'Liberation Sans',sans-serif;color:#555;white-space:nowrap;right:454.9px;">0.0030</div><div style="position:absolute;top:2012.99px;font:400 15.4px/15.4px 'Liberation Sans',sans-serif;color:#555;white-space:nowrap;right:454.9px;">0.0032</div><div style="position:absolute;top:1966.84px;font:400 15.4px/15.4px 'Liberation Sans',sans-serif;color:#555;white-space:nowrap;right:454.9px;">0.0034</div><div style="position:absolute;top:1920.69px;font:400 15.4px/15.4px 'Liberation Sans',sans-serif;color:#555;white-space:nowrap;right:454.9px;">0.0036</div><div style="position:absolute;top:1874.54px;font:400 15.4px/15.4px 'Liberation Sans',sans-serif;color:#555;white-space:nowrap;right:454.9px;">0.0038</div><div style="position:absolute;top:1828.39px;font:400 15.4px/15.4px 'Liberation Sans',sans-serif;color:#555;white-space:nowrap;right:454.9px;">0.0040</div><div style="position:absolute;top:1782.24px;font:400 15.4px/15.4px 'Liberation Sans',sans-serif;color:#555;white-space:nowrap;right:454.9px;">0.0042</div><div style="position:absolute;top:1728.78px;font:400 15.8px/15.8px 'Liberation Sans',sans-serif;color:#444;white-space:nowrap;left:2160px;transform:translateX(-50%) scaleX(1.0838);">val/giou_loss</div><div style="position:absolute;top:2105.29px;font:400 15.4px/15.4px 'Liberation Sans',sans-serif;color:#555;white-space:nowrap;right:279.7px;">0.014</div><div style="position:absolute;top:2066.83px;font:400 15.4px/15.4px 'Liberation Sans',sans-serif;color:#555;white-space:nowrap;right:279.7px;">0.015</div><div style="position:absolute;top:2028.36px;font:400 15.4px/15.4px 'Liberation Sans',sans-serif;color:#555;white-space:nowrap;right:279.7px;">0.016</div><div style="position:absolute;top:1989.89px;font:400 15.4px/15.4px 'Liberation Sans',sans-serif;color:#555;white-space:nowrap;right:279.7px;">0.017</div><div style="position:absolute;top:1951.43px;font:400 15.4px/15.4px 'Liberation Sans',sans-serif;color:#555;white-space:nowrap;right:279.7px;">0.018</div><div style="position:absolute;top:1912.96px;font:400 15.4px/15.4px 'Liberation Sans',sans-serif;color:#555;white-space:nowrap;right:279.7px;">0.019</div><div style="position:absolute;top:1874.49px;font:400 15.4px/15.4px 'Liberation Sans',sans-serif;color:#555;white-space:nowrap;right:279.7px;">0.020</div><div style="position:absolute;top:1836.03px;font:400 15.4px/15.4px 'Liberation Sans',sans-serif;color:#555;white-space:nowrap;right:279.7px;">0.021</div><div style="position:absolute;top:1797.56px;font:400 15.4px/15.4px 'Liberation Sans',sans-serif;color:#555;white-space:nowrap;right:279.7px;">0.022</div><div style="position:absolute;top:1759.09px;font:400 15.4px/15.4px 'Liberation Sans',sans-serif;color:#555;white-space:nowrap;right:279.7px;">0.023</div><svg style="position:absolute;left:672px;top:1676px" width="1590" height="480" viewBox="672 1676 1590 480"><path d="M745.4 1766.4H755.9V2112.6H745.4" stroke="#cdcdd0" stroke-width="1.6" fill="none"/><path d="M745.4 2069.32H755.9" stroke="#cdcdd0" stroke-width="1.6"/><path d="M745.4 2026.05H755.9" stroke="#cdcdd0" stroke-width="1.6"/><path d="M745.4 1982.78H755.9" stroke="#cdcdd0" stroke-width="1.6"/><path d="M745.4 1939.5H755.9" stroke="#cdcdd0" stroke-width="1.6"/><path d="M745.4 1896.22H755.9" stroke="#cdcdd0" stroke-width="1.6"/><path d="M745.4 1852.95H755.9" stroke="#cdcdd0" stroke-width="1.6"/><path d="M745.4 1809.68H755.9" stroke="#cdcdd0" stroke-width="1.6"/><path d="M921.1 1766.4H931.6V2112.6H921.1" stroke="#cdcdd0" stroke-width="1.6" fill="none"/><path d="M921.1 2081.13H931.6" stroke="#cdcdd0" stroke-width="1.6"/><path d="M921.1 2049.65H931.6" stroke="#cdcdd0" stroke-width="1.6"/><path d="M921.1 2018.18H931.6" stroke="#cdcdd0" stroke-width="1.6"/><path d="M921.1 1986.71H931.6" stroke="#cdcdd0" stroke-width="1.6"/><path d="M921.1 1955.24H931.6" stroke="#cdcdd0" stroke-width="1.6"/><path d="M921.1 1923.76H931.6" stroke="#cdcdd0" stroke-width="1.6"/><path d="M921.1 1892.29H931.6" stroke="#cdcdd0" stroke-width="1.6"/><path d="M921.1 1860.82H931.6" stroke="#cdcdd0" stroke-width="1.6"/><path d="M921.1 1829.35H931.6" stroke="#cdcdd0" stroke-width="1.6"/><path d="M921.1 1797.87H931.6" stroke="#cdcdd0" stroke-width="1.6"/><path d="M1096.4 1766.4H1106.9V2112.6H1096.4" stroke="#cdcdd0" stroke-width="1.6" fill="none"/><path d="M1096.4 2069.32H1106.9" stroke="#cdcdd0" stroke-width="1.6"/><path d="M1096.4 2026.05H1106.9" stroke="#cdcdd0" stroke-width="1.6"/><path d="M1096.4 1982.78H1106.9" stroke="#cdcdd0" stroke-width="1.6"/><path d="M1096.4 1939.5H1106.9" stroke="#cdcdd0" stroke-width="1.6"/><path d="M1096.4 1896.22H1106.9" stroke="#cdcdd0" stroke-width="1.6"/><path d="M1096.4 1852.95H1106.9" stroke="#cdcdd0" stroke-width="1.6"/><path d="M1096.4 1809.68H1106.9" stroke="#cdcdd0" stroke-width="1.6"/><path d="M1272.1 1766.4H1282.6V2112.6H1272.1" stroke="#cdcdd0" stroke-width="1.6" fill="none"/><path d="M1272.1 2083.75H1282.6" stroke="#cdcdd0" stroke-width="1.6"/><path d="M1272.1 2054.9H1282.6" stroke="#cdcdd0" stroke-width="1.6"/><path d="M1272.1 2026.05H1282.6" stroke="#cdcdd0" stroke-width="1.6"/><path d="M1272.1 1997.2H1282.6" stroke="#cdcdd0" stroke-width="1.6"/><path d="M1272.1 1968.35H1282.6" stroke="#cdcdd0" stroke-width="1.6"/><path d="M1272.1 1939.5H1282.6" stroke="#cdcdd0" stroke-width="1.6"/><path d="M1272.1 1910.65H1282.6" stroke="#cdcdd0" stroke-width="1.6"/><path d="M1272.1 1881.8H1282.6" stroke="#cdcdd0" stroke-width="1.6"/><path d="M1272.1 1852.95H1282.6" stroke="#cdcdd0" stroke-width="1.6"/><path d="M1272.1 1824.1H1282.6" stroke="#cdcdd0" stroke-width="1.6"/><path d="M1272.1 1795.25H1282.6" stroke="#cdcdd0" stroke-width="1.6"/><path d="M1447.8 1766.4H1458.3V2112.6H1447.8" stroke="#cdcdd0" stroke-width="1.6" fill="none"/><path d="M1447.8 2083.75H1458.3" stroke="#cdcdd0" stroke-width="1.6"/><path d="M1447.8 2054.9H1458.3" stroke="#cdcdd0" stroke-width="1.6"/><path d="M1447.8 2026.05H1458.3" stroke="#cdcdd0" stroke-width="1.6"/><path d="M1447.8 1997.2H1458.3" stroke="#cdcdd0" stroke-width="1.6"/><path d="M1447.8 1968.35H1458.3" stroke="#cdcdd0" stroke-width="1.6"/><path d="M1447.8 1939.5H1458.3" stroke="#cdcdd0" stroke-width="1.6"/><path d="M1447.8 1910.65H1458.3" stroke="#cdcdd0" stroke-width="1.6"/><path d="M1447.8 1881.8H1458.3" stroke="#cdcdd0" stroke-width="1.6"/><path d="M1447.8 1852.95H1458.3" stroke="#cdcdd0" stroke-width="1.6"/><path d="M1447.8 1824.1H1458.3" stroke="#cdcdd0" stroke-width="1.6"/><path d="M1447.8 1795.25H1458.3" stroke="#cdcdd0" stroke-width="1.6"/><path d="M1623.8 1766.4H1634.3V2112.6H1623.8" stroke="#cdcdd0" stroke-width="1.6" fill="none"/><path d="M1623.8 2077.98H1634.3" stroke="#cdcdd0" stroke-width="1.6"/><path d="M1623.8 2043.36H1634.3" stroke="#cdcdd0" stroke-width="1.6"/><path d="M1623.8 2008.74H1634.3" stroke="#cdcdd0" stroke-width="1.6"/><path d="M1623.8 1974.12H1634.3" stroke="#cdcdd0" stroke-width="1.6"/><path d="M1623.8 1939.5H1634.3" stroke="#cdcdd0" stroke-width="1.6"/><path d="M1623.8 1904.88H1634.3" stroke="#cdcdd0" stroke-width="1.6"/><path d="M1623.8 1870.26H1634.3" stroke="#cdcdd0" stroke-width="1.6"/><path d="M1623.8 1835.64H1634.3" stroke="#cdcdd0" stroke-width="1.6"/><path d="M1623.8 1801.02H1634.3" stroke="#cdcdd0" stroke-width="1.6"/><path d="M1799.5 1766.4H1810V2112.6H1799.5" stroke="#cdcdd0" stroke-width="1.6" fill="none"/><path d="M1799.5 2074.13H1810" stroke="#cdcdd0" stroke-width="1.6"/><path d="M1799.5 2035.67H1810" stroke="#cdcdd0" stroke-width="1.6"/><path d="M1799.5 1997.2H1810" stroke="#cdcdd0" stroke-width="1.6"/><path d="M1799.5 1958.73H1810" stroke="#cdcdd0" stroke-width="1.6"/><path d="M1799.5 1920.27H1810" stroke="#cdcdd0" stroke-width="1.6"/><path d="M1799.5 1881.8H1810" stroke="#cdcdd0" stroke-width="1.6"/><path d="M1799.5 1843.33H1810" stroke="#cdcdd0" stroke-width="1.6"/><path d="M1799.5 1804.87H1810" stroke="#cdcdd0" stroke-width="1.6"/><path d="M1974.8 1766.4H1985.3V2112.6H1974.8" stroke="#cdcdd0" stroke-width="1.6" fill="none"/><path d="M1974.8 2066.45H1985.3" stroke="#cdcdd0" stroke-width="1.6"/><path d="M1974.8 2020.3H1985.3" stroke="#cdcdd0" stroke-width="1.6"/><path d="M1974.8 1974.15H1985.3" stroke="#cdcdd0" stroke-width="1.6"/><path d="M1974.8 1928H1985.3" stroke="#cdcdd0" stroke-width="1.6"/><path d="M1974.8 1881.85H1985.3" stroke="#cdcdd0" stroke-width="1.6"/><path d="M1974.8 1835.7H1985.3" stroke="#cdcdd0" stroke-width="1.6"/><path d="M1974.8 1789.55H1985.3" stroke="#cdcdd0" stroke-width="1.6"/><path d="M2150 2074.13H2160.5" stroke="#cdcdd0" stroke-width="1.6"/><path d="M2150 2035.67H2160.5" stroke="#cdcdd0" stroke-width="1.6"/><path d="M2150 1997.2H2160.5" stroke="#cdcdd0" stroke-width="1.6"/><path d="M2150 1958.73H2160.5" stroke="#cdcdd0" stroke-width="1.6"/><path d="M2150 1920.27H2160.5" stroke="#cdcdd0" stroke-width="1.6"/><path d="M2150 1881.8H2160.5" stroke="#cdcdd0" stroke-width="1.6"/><path d="M2150 1843.33H2160.5" stroke="#cdcdd0" stroke-width="1.6"/><path d="M2150 1804.87H2160.5" stroke="#cdcdd0" stroke-width="1.6"/><path d="M755.9 1781.5 C814.47 1791.15 873.03 1800.8 931.6 1800.8 C990.03 1800.8 1048.47 1774.9 1106.9 1774.9 C1165.47 1774.9 1224.03 2081.4 1282.6 2087.1 C1341.17 2092.8 1399.73 2091.47 1458.3 2092.8 C1516.97 2094.13 1575.63 2092.8 1634.3 2095.1 C1692.87 2097.4 1751.43 2107.4 1810 2107.4 C1868.43 2107.4 1926.87 1785.7 1985.3 1785.7 C2043.7 1785.7 2102.1 1792.1 2160.5 1798.5" stroke="#f0a84a" stroke-width="1.45" fill="none"/><path d="M755.9 1979.4 C814.47 2033.7 873.03 2088 931.6 2088 C990.03 2088 1048.47 1975.32 1106.9 1939.3 C1165.47 1903.19 1224.03 1871.7 1282.6 1871.7 C1341.17 1871.7 1399.73 1893 1458.3 1893 C1516.97 1893 1575.63 1838.2 1634.3 1838.2 C1692.87 1838.2 1751.43 1903.85 1810 1941.6 C1868.43 1979.26 1926.87 2064.4 1985.3 2064.4 C2043.7 2064.4 2102.1 2030.2 2160.5 1996" stroke="#8f2ca8" stroke-width="1.45" fill="none"/><path d="M755.9 2029 C814.47 2052.15 873.03 2075.3 931.6 2075.3 C990.03 2075.3 1048.47 2066.89 1106.9 2018.1 C1165.47 1969.19 1224.03 1782 1282.6 1782 C1341.17 1782 1399.73 1841 1458.3 1841 C1516.97 1841 1575.63 1829.97 1634.3 1822.1 C1692.87 1814.24 1751.43 1793.8 1810 1793.8 C1868.43 1793.8 1926.87 2079.5 1985.3 2079.5 C2043.7 2079.5 2102.1 2063.7 2160.5 2047.9" stroke="#52219c" stroke-width="1.45" fill="none"/><path d="M755.9 2076.2 C814.47 2080.72 873.03 2085.25 931.6 2089.5 C990.03 2093.74 1048.47 2101.7 1106.9 2101.7 C1165.47 2101.7 1224.03 1819.3 1282.6 1802.3 C1341.17 1785.3 1399.73 1785.3 1458.3 1785.3 C1516.97 1785.3 1575.63 1787.73 1634.3 1791.9 C1692.87 1796.06 1751.43 1791.9 1810 1810.3 C1868.43 1828.66 1926.87 2060.59 1985.3 2071.5 C2043.7 2082.4 2102.1 2082.4 2160.5 2082.4" stroke="#2a1788" stroke-width="1.45" fill="none"/></svg><div style="position:absolute;left:2160.5px;top:1766.4px;width:49.5px;height:346px;background:linear-gradient(180deg,#fcce3c 0%,#fbb040 10%,#f58b48 24%,#e2685f 38%,#c8477a 52%,#a82f93 64%,#8321a4 76%,#5a1aa4 87%,#2a1590 96%,#130f86 100%);box-shadow:0 0 0 1px #d4d4d8"></div><div style="position:absolute;left:2150px;top:2111.8px;width:10.5px;height:1.6px;background:#cdcdd0"></div><div style="position:absolute;left:2150px;top:2073.33px;width:10.5px;height:1.6px;background:#cdcdd0"></div><div style="position:absolute;left:2150px;top:2034.87px;width:10.5px;height:1.6px;background:#cdcdd0"></div><div style="position:absolute;left:2150px;top:1996.4px;width:10.5px;height:1.6px;background:#cdcdd0"></div><div style="position:absolute;left:2150px;top:1957.93px;width:10.5px;height:1.6px;background:#cdcdd0"></div><div style="position:absolute;left:2150px;top:1919.47px;width:10.5px;height:1.6px;background:#cdcdd0"></div><div style="position:absolute;left:2150px;top:1881px;width:10.5px;height:1.6px;background:#cdcdd0"></div><div style="position:absolute;left:2150px;top:1842.53px;width:10.5px;height:1.6px;background:#cdcdd0"></div><div style="position:absolute;left:2150px;top:1804.07px;width:10.5px;height:1.6px;background:#cdcdd0"></div><div style="position:absolute;left:2150px;top:1765.6px;width:10.5px;height:1.6px;background:#cdcdd0"></div>
<div style="position:absolute;left:672.5px;top:2273px;width:510.5px;height:447px;box-sizing:border-box;border:2px solid #dddddd;border-bottom:none;border-radius:5px 5px 0 0;background:#fff"></div><div style="position:absolute;left:1210px;top:2273px;width:510.5px;height:447px;box-sizing:border-box;border:2px solid #dddddd;border-bottom:none;border-radius:5px 5px 0 0;background:#fff"></div><div style="position:absolute;left:1747.5px;top:2273px;width:510.5px;height:447px;box-sizing:border-box;border:2px solid #dddddd;border-bottom:none;border-radius:5px 5px 0 0;background:#fff"></div><div style="position:absolute;top:2318.64px;font:700 20.5px/20.5px 'Liberation Sans',sans-serif;color:#2b2b2b;white-space:nowrap;left:927.5px;transform:translateX(-50%) scaleX(1.0073);">metrics/precision</div><div style="position:absolute;left:814px;top:2358.4px;width:15.8px;height:2.4px;background:#e87b9f"></div><div style="position:absolute;top:2356.74px;font:400 15.5px/15.5px 'Liberation Mono',monospace;color:#e87b9f;white-space:nowrap;left:849.7px;transform-origin:0 50%;transform:scaleX(1.0407);opacity:.95;">exp3_COCO128_YOLOv5x</div><div style="position:absolute;left:814px;top:2378.4px;width:15.8px;height:2.4px;background:#7d54b2"></div><div style="position:absolute;top:2376.74px;font:400 15.5px/15.5px 'Liberation Mono',monospace;color:#7d54b2;white-space:nowrap;left:849.7px;transform-origin:0 50%;transform:scaleX(1.0407);opacity:.95;">exp2_COCO128_YOLOv5l</div><div style="position:absolute;left:814px;top:2398.4px;width:15.8px;height:2.4px;background:#479a5f"></div><div style="position:absolute;top:2396.74px;font:400 15.5px/15.5px 'Liberation Mono',monospace;color:#479a5f;white-space:nowrap;left:849.7px;transform-origin:0 50%;transform:scaleX(1.0407);opacity:.95;">exp1_COCO128_YOLOv5m</div><div style="position:absolute;left:814px;top:2418.4px;width:15.8px;height:2.4px;background:#da4c4c"></div><div style="position:absolute;top:2416.74px;font:400 15.5px/15.5px 'Liberation Mono',monospace;color:#da4c4c;white-space:nowrap;left:849.7px;transform-origin:0 50%;transform:scaleX(1.0407);opacity:.95;">exp0_COCO128_YOLOv5s</div><svg style="position:absolute;left:672.5px;top:2273px" width="510" height="437" viewBox="672.5 2273 510 437"><path d="M743.8 2621.1H1135.2" stroke="#ededf0" stroke-width="1.3"/><path d="M743.8 2556H1135.2" stroke="#ededf0" stroke-width="1.3"/><path d="M743.8 2490.9H1135.2" stroke="#ededf0" stroke-width="1.3"/><path d="M743.8 2686.2H1135.2" stroke="#e5e5ea" stroke-width="3.2"/><path d="M804.8 2676.6V2695.9" stroke="#e6e6eb" stroke-width="1.8"/><path d="M869.4 2676.6V2695.9" stroke="#e6e6eb" stroke-width="1.8"/><path d="M934 2676.6V2695.9" stroke="#e6e6eb" stroke-width="1.8"/><path d="M998.6 2676.6V2695.9" stroke="#e6e6eb" stroke-width="1.8"/><path d="M1063.2 2676.6V2695.9" stroke="#e6e6eb" stroke-width="1.8"/><path d="M1127.8 2676.6V2695.9" stroke="#e6e6eb" stroke-width="1.8"/><path d="M743.82 2526.86 744.98 2523.38 746.14 2525.24 747.31 2523.62 748.47 2519.52 749.63 2521.5 750.79 2521.25 751.96 2520.58 753.12 2518.52 754.28 2514.68 755.45 2512.23 756.61 2511.05 757.77 2513.11 758.93 2515.01 760.1 2509.41 761.26 2504.25 762.42 2501.6 763.59 2499.75 764.75 2502.34 765.91 2500.94 767.07 2497.78 768.24 2498.19 769.4 2499.31 770.56 2498.68 771.72 2497.2 772.89 2495.14 774.05 2493.87 775.21 2492.38 776.38 2492.55 777.54 2493.34 778.7 2491.21 779.86 2492.4 781.03 2494.12 782.19 2490.99 783.35 2488.63 784.52 2489.84 785.68 2489.19 786.84 2489.23 788 2488.59 789.17 2487.58 790.33 2486.93 791.49 2484.18 792.66 2484.28 793.82 2483.92 794.98 2484.24 796.14 2485.63 797.31 2485.76 798.47 2485.08 799.63 2482.87 800.79 2482.7 801.96 2482.66 803.12 2480.46 804.28 2477.77 805.45 2480.48 806.61 2480.24 807.77 2480.23 808.93 2482.1 810.1 2479.84 811.26 2478.36 812.42 2479.1 813.59 2479.27 814.75 2477.52 815.91 2476.86 817.07 2476.88 818.24 2474.69 819.4 2472.39 820.56 2472.29 821.73 2472.57 822.89 2472.37 824.05 2472.56 825.21 2472.53 826.38 2472.63 827.54 2470.92 828.7 2469.3 829.86 2469.46 831.03 2468.74 832.19 2467.62 833.35 2465.46 834.52 2466.1 835.68 2467.84 836.84 2467.29 838 2467.21 839.17 2465.78 840.33 2463.71 841.49 2464.29 842.66 2465.35 843.82 2465.47 844.98 2464.11 846.14 2464.53 847.31 2465.85 848.47 2468.67 849.63 2467.41 850.8 2465.76 851.96 2467.66 853.12 2466.22 854.28 2464.52 855.45 2467.08 856.61 2467.32 857.77 2465.81 858.93 2464.13 860.1 2465.66 861.26 2466.98 862.42 2464.61 863.59 2462.21 864.75 2462.76 865.91 2466.92 867.07 2466.98 868.24 2462.99 869.4 2460.26 870.56 2457.81 871.73 2457.76 872.89 2459.92 874.05 2458.8 875.21 2457.44 876.38 2458.74 877.54 2459.39 878.7 2458.84 879.87 2460.73 881.03 2463.92 882.19 2463.74 883.35 2463.02 884.52 2464.06 885.68 2465.24 886.84 2464.25 888 2462.13 889.17 2462.01 890.33 2462.78 891.49 2462.71 892.66 2465.48 893.82 2468.44 894.98 2467.12 896.14 2466.69 897.31 2466.62 898.47 2464.79 899.63 2464.55 900.8 2464.66 901.96 2464.74 903.12 2464.95 904.28 2461.05 905.45 2460.49 906.61 2460.8 907.77 2458.77 908.94 2459.47 910.1 2459.55 911.26 2458.73 912.42 2458.36 913.59 2459.09 914.75 2461.13 915.91 2461.18 917.07 2460.05 918.24 2458.36 919.4 2457.9 920.56 2458.56 921.73 2458.19 922.89 2456.79 924.05 2456.84 925.21 2456.08 926.38 2456.48 927.54 2458.41 928.7 2456.21 929.87 2454.7 931.03 2456.09 932.19 2456.57 933.35 2455.94 934.52 2454.58 935.68 2453.01 936.84 2454.19 938.01 2454.05 939.17 2453.64 940.33 2453.97 941.49 2453.29 942.66 2453.38 943.82 2452.85 944.98 2451.78 946.14 2451.56 947.31 2450.94 948.47 2451.16 949.63 2453.31 950.8 2453.35 951.96 2451.83 953.12 2451.44 954.28 2450.8 955.45 2449.9 956.61 2450.81 957.77 2451.29 958.94 2452.2 960.1 2451.08 961.26 2450.51 962.42 2452.19 963.59 2452.83 964.75 2452.18 965.91 2449.55 967.08 2448.04 968.24 2450.93 969.4 2451.77 970.56 2450.08 971.73 2449.19 972.89 2448.94 974.05 2449.71 975.21 2449.57 976.38 2449.52 977.54 2451.87 978.7 2452.16 979.87 2450.57 981.03 2448.78 982.19 2447.12 983.35 2448.89 984.52 2449.88 985.68 2448.71 986.84 2449.87 988.01 2451.59 989.17 2450 990.33 2447.87 991.49 2448.29 992.66 2450.6 993.82 2450.02 994.98 2447.48 996.15 2448.08 997.31 2447.97 998.47 2448.19 999.63 2447.17 1000.8 2446.01 1001.96 2446.72 1003.12 2446.5 1004.28 2445.87 1005.45 2447.73 1006.61 2447.58 1007.77 2446.45 1008.94 2447.33 1010.1 2447.46 1011.26 2445.52 1012.42 2445.32 1013.59 2444.48 1014.75 2442.44 1015.91 2443.79 1017.08 2444.72 1018.24 2442.52 1019.4 2443.38 1020.56 2446.06 1021.73 2446.1 1022.89 2446.7 1024.05 2447.09 1025.22 2445.63 1026.38 2444.67 1027.54 2444.5 1028.7 2443.78 1029.87 2444.55 1031.03 2444.93 1032.19 2444.39 1033.35 2444.62 1034.52 2445.17 1035.68 2444.22 1036.84 2443.67 1038.01 2443.66 1039.17 2442.81 1040.33 2442.34 1041.49 2444.18 1042.66 2446.06 1043.82 2445.3 1044.98 2444.51 1046.15 2443.7 1047.31 2444.71 1048.47 2446.28 1049.63 2445.22 1050.8 2443.67 1051.96 2442.45 1053.12 2444.12 1054.29 2445.61 1055.45 2445.29 1056.61 2443.98 1057.77 2442.74 1058.94 2443.36 1060.1 2444.3 1061.26 2443.8 1062.42 2442.44 1063.59 2443.18 1064.75 2444.17 1065.91 2443.49 1067.08 2443.49 1068.24 2443.47 1069.4 2444.4 1070.56 2445.07 1071.73 2446.13 1072.89 2445.65 1074.05 2443.1 1075.22 2444.82 1076.38 2446.32 1077.54 2443.79 1078.7 2443.31 1079.87 2445.61 1081.03 2444.5 1082.19 2443.77 1083.36 2443.59 1084.52 2442.92 1085.68 2444.42 1086.84 2444.06 1088.01 2443.25 1089.17 2442.73 1090.33 2442.13 1091.49 2442.7 1092.66 2442.1 1093.82 2441.34 1094.98 2442.01 1096.15 2442.58 1097.31 2442.68 1098.47 2442.91 1099.63 2442.26 1100.8 2441.96 1101.96 2442.44 1103.12 2442.02 1104.29 2442.1 1105.45 2442.6 1106.61 2441.77 1107.77 2443.03 1108.94 2443.98 1110.1 2441.52 1111.26 2442.04 1112.43 2442.39 1113.59 2442.47 1114.75 2443.14 1115.91 2443.21 1117.08 2443.84 1118.24 2443.04 1119.4 2442.98 1120.56 2441.88 1121.73 2440.74 1122.89 2440.68 1124.05 2441.03 1125.22 2440.1 1126.38 2439.21 1127.54 2440.36 1128.7 2442.11 1129.87 2441.7 1131.03 2440.28 1132.19 2440.62 1133.36 2440.62" stroke="#e87b9f" stroke-width="1.6" fill="none" opacity=".16" stroke-linejoin="round"/><path d="M743.82 2540.83 744.98 2538.37 746.14 2534.31 747.31 2531.86 748.47 2530.54 749.63 2530.61 750.79 2528.06 751.96 2525.05 753.12 2524.05 754.28 2525.16 755.45 2526.17 756.61 2523.87 757.77 2521.38 758.93 2521.77 760.1 2517.78 761.26 2513.51 762.42 2512.03 763.59 2508.9 764.75 2506.47 765.91 2505.19 767.07 2505.66 768.24 2506.14 769.4 2504.88 770.56 2500.2 771.72 2501.46 772.89 2503.62 774.05 2499.92 775.21 2495.28 776.38 2495.92 777.54 2497.25 778.7 2494.51 779.86 2488.8 781.03 2489.49 782.19 2492.78 783.35 2489.65 784.52 2489.29 785.68 2489 786.84 2486.78 788 2486.89 789.17 2486.09 790.33 2482.61 791.49 2482 792.66 2484.01 793.82 2484.92 794.98 2483.4 796.14 2480.64 797.31 2480.07 798.47 2480.49 799.63 2477.13 800.79 2477.97 801.96 2482.19 803.12 2480.43 804.28 2479.18 805.45 2478.8 806.61 2476.72 807.77 2476.76 808.93 2478.03 810.1 2477.07 811.26 2475.95 812.42 2476.09 813.59 2477.01 814.75 2475.12 815.91 2473.73 817.07 2474.98 818.24 2473.07 819.4 2471.59 820.56 2472.5 821.73 2470.76 822.89 2470.6 824.05 2471.08 825.21 2470.86 826.38 2472.03 827.54 2470.03 828.7 2466.32 829.86 2467.28 831.03 2467.6 832.19 2465.19 833.35 2464.86 834.52 2467.53 835.68 2470.36 836.84 2467.41 838 2466.84 839.17 2468.77 840.33 2468.4 841.49 2468.11 842.66 2469.92 843.82 2471.01 844.98 2469.17 846.14 2468.01 847.31 2469.23 848.47 2467.97 849.63 2465.72 850.8 2466.9 851.96 2467.72 853.12 2465.78 854.28 2467.3 855.45 2467.64 856.61 2465.45 857.77 2466.95 858.93 2465.81 860.1 2465.06 861.26 2463.4 862.42 2464.25 863.59 2467.81 864.75 2469.54 865.91 2469.71 867.07 2469.42 868.24 2470.53 869.4 2469.23 870.56 2467.95 871.73 2468.08 872.89 2467.65 874.05 2468.17 875.21 2470.15 876.38 2470.45 877.54 2468.26 878.7 2464.13 879.87 2464.34 881.03 2465.62 882.19 2464.91 883.35 2464.16 884.52 2464.97 885.68 2463.91 886.84 2460.37 888 2461.59 889.17 2463.38 890.33 2463.11 891.49 2461.22 892.66 2458.44 893.82 2459.4 894.98 2462.23 896.14 2460.85 897.31 2459.01 898.47 2458.25 899.63 2459.04 900.8 2458.74 901.96 2456.58 903.12 2458.79 904.28 2459.86 905.45 2456.99 906.61 2455.8 907.77 2456.5 908.94 2458.67 910.1 2458.62 911.26 2457.88 912.42 2457.32 913.59 2454.61 914.75 2454.59 915.91 2455.36 917.07 2455.47 918.24 2454.33 919.4 2453.33 920.56 2454.96 921.73 2452.16 922.89 2450.66 924.05 2451.76 925.21 2453.78 926.38 2453.05 927.54 2449.5 928.7 2450.84 929.87 2452.89 931.03 2453.25 932.19 2451.81 933.35 2452.72 934.52 2453.15 935.68 2449.59 936.84 2449.61 938.01 2449.4 939.17 2449.74 940.33 2451.7 941.49 2450.62 942.66 2450.29 943.82 2450.94 944.98 2451.22 946.14 2452.3 947.31 2452.16 948.47 2450.26 949.63 2448.6 950.8 2449.09 951.96 2449.69 953.12 2450.31 954.28 2450.54 955.45 2449.66 956.61 2449.45 957.77 2448.87 958.94 2448.08 960.1 2446.93 961.26 2446.3 962.42 2446.64 963.59 2448.26 964.75 2449.41 965.91 2448.07 967.08 2447.15 968.24 2446.62 969.4 2448.33 970.56 2448.48 971.73 2446.65 972.89 2446.91 974.05 2447.69 975.21 2446.97 976.38 2446.02 977.54 2445.79 978.7 2447.29 979.87 2448.41 981.03 2445.17 982.19 2444.18 983.35 2446.07 984.52 2446.61 985.68 2446.79 986.84 2445.12 988.01 2442.33 989.17 2442.57 990.33 2442.61 991.49 2442.73 992.66 2442.62 993.82 2442.49 994.98 2442.27 996.15 2442.8 997.31 2443.96 998.47 2444.41 999.63 2444.46 1000.8 2445.24 1001.96 2443.69 1003.12 2440.84 1004.28 2441.02 1005.45 2441.15 1006.61 2441.49 1007.77 2441.97 1008.94 2442.99 1010.1 2443.43 1011.26 2443.39 1012.42 2443.79 1013.59 2442.44 1014.75 2442.12 1015.91 2442.75 1017.08 2441.41 1018.24 2439.64 1019.4 2441.5 1020.56 2443.52 1021.73 2443.75 1022.89 2441.94 1024.05 2443.02 1025.22 2443.14 1026.38 2441.59 1027.54 2442.49 1028.7 2441.53 1029.87 2441.02 1031.03 2442.06 1032.19 2440.95" stroke="#7d54b2" stroke-width="1.6" fill="none" opacity=".16" stroke-linejoin="round"/><path d="M743.82 2534.53 744.98 2535.15 746.14 2532.74 747.31 2530.36 748.47 2528.49 749.63 2526.84 750.79 2527.88 751.96 2525.16 753.12 2523.34 754.28 2524.08 755.45 2520.58 756.61 2516.88 757.77 2516.29 758.93 2515.06 760.1 2514.6 761.26 2517.03 762.42 2515.67 763.59 2511.15 764.75 2508.18 765.91 2507.35 767.07 2506.12 768.24 2503.56 769.4 2501.27 770.56 2501.44 771.72 2502.42 772.89 2500.33 774.05 2498.55 775.21 2496.21 776.38 2495.54 777.54 2498.14 778.7 2495.73 779.86 2495.39 781.03 2495.87 782.19 2490.59 783.35 2491.21 784.52 2491.77 785.68 2490.43 786.84 2490.9 788 2489.55 789.17 2488.44 790.33 2488.05 791.49 2485.3 792.66 2483.57 793.82 2481.96 794.98 2482.56 796.14 2482.76 797.31 2483.11 798.47 2483.01 799.63 2481.01 800.79 2479.15 801.96 2478.98 803.12 2479.51 804.28 2478.46 805.45 2479.39 806.61 2481.07 807.77 2478.93 808.93 2476.64 810.1 2478.26 811.26 2480.77 812.42 2480.53 813.59 2478.25 814.75 2475.68 815.91 2474.34 817.07 2472.19 818.24 2475.33 819.4 2478.28 820.56 2477.58 821.73 2478.94 822.89 2478.38 824.05 2477.95 825.21 2477.87 826.38 2477.81 827.54 2479.71 828.7 2479 829.86 2477.1 831.03 2478.2 832.19 2481.27 833.35 2483.8 834.52 2482.96 835.68 2480.15 836.84 2478.02 838 2478.69 839.17 2479.65 840.33 2482.94 841.49 2483.12 842.66 2481.6 843.82 2482.33 844.98 2482.15 846.14 2483.8 847.31 2481.51 848.47 2478.47 849.63 2479.88 850.8 2481.44 851.96 2480.38 853.12 2477.32 854.28 2475.32 855.45 2476.01 856.61 2475.04 857.77 2474.62 858.93 2476.56 860.1 2475.81 861.26 2474.52 862.42 2475.88 863.59 2474.32 864.75 2472.96 865.91 2475.4 867.07 2474.76 868.24 2472.57 869.4 2473.26 870.56 2473.26 871.73 2473.3 872.89 2473.58 874.05 2471.41 875.21 2468.49 876.38 2468.26 877.54 2467.6 878.7 2467.01 879.87 2466.88 881.03 2465.28 882.19 2463.8 883.35 2462.4 884.52 2462.98 885.68 2463.97 886.84 2463.2 888 2462.9 889.17 2460.92 890.33 2460.48 891.49 2462.28 892.66 2462.82 893.82 2462.34 894.98 2461.66 896.14 2460.99 897.31 2460.51 898.47 2459.59 899.63 2458.41 900.8 2458.52 901.96 2458.09 903.12 2456.41 904.28 2454.97 905.45 2454.16 906.61 2453.88 907.77 2453.4 908.94 2452.47 910.1 2452.52 911.26 2454.61 912.42 2454.02 913.59 2453.35 914.75 2455.67 915.91 2454.14 917.07 2451.84 918.24 2451.9 919.4 2451.39 920.56 2451.48 921.73 2450.88 922.89 2450.41 924.05 2451.67 925.21 2451.55 926.38 2453.1 927.54 2452.8 928.7 2452.28 929.87 2452.37 931.03 2451.39 932.19 2451.63 933.35 2452.17 934.52 2450.66 935.68 2451.67 936.84 2453.05 938.01 2451.7 939.17 2452.9 940.33 2450.64 941.49 2448.67 942.66 2447.78 943.82 2447.2 944.98 2448.65 946.14 2448.67 947.31 2450.26 948.47 2451.93 949.63 2449.41 950.8 2447.37 951.96 2449.25 953.12 2449.62 954.28 2448.6 955.45 2447.65 956.61 2447.5 957.77 2449.19 958.94 2448.76 960.1 2448.44 961.26 2448.63 962.42 2448.93 963.59 2452.26 964.75 2450.52 965.91 2448.72 967.08 2449.25 968.24 2447.68 969.4 2448.95 970.56 2450.48 971.73 2448.49 972.89 2446.95 974.05 2447.36 975.21 2446.89 976.38 2446.91 977.54 2446.93 978.7 2448.84 979.87 2449.59 981.03 2448.22 982.19 2448.21 983.35 2448.78 984.52 2447.74 985.68 2446.62 986.84 2445.15 988.01 2447.55 989.17 2448.58 990.33 2445.19 991.49 2446.58 992.66 2449 993.82 2446.81" stroke="#479a5f" stroke-width="1.6" fill="none" opacity=".16" stroke-linejoin="round"/><path d="M743.82 2554.52 744.98 2555.65 746.14 2556.44 747.31 2557.39 748.47 2556.83 749.63 2553.75 750.79 2551.51 751.96 2547.57 753.12 2546.72 754.28 2547.82 755.45 2549.55 756.61 2548.17 757.77 2542.26 758.93 2541.3 760.1 2540.75 761.26 2538.97 762.42 2539.92 763.59 2537.4 764.75 2534.21 765.91 2535.64 767.07 2532.12 768.24 2528.76 769.4 2527.95 770.56 2526.9 771.72 2527.35 772.89 2525.07 774.05 2523.7 775.21 2523.12 776.38 2521.74 777.54 2522.15 778.7 2518.12 779.86 2517.11 781.03 2516.71 782.19 2517.51 783.35 2518.54 784.52 2517.82 785.68 2518.31 786.84 2517.24 788 2520.1 789.17 2520.79 790.33 2519.32 791.49 2521.22 792.66 2519.09 793.82 2516.82 794.98 2516.6 796.14 2514.42 797.31 2513.31 798.47 2514.45 799.63 2515.73 800.79 2513.56 801.96 2512.58 803.12 2515.43 804.28 2511.94 805.45 2507.38 806.61 2511.52 807.77 2512.8 808.93 2512.01 810.1 2511.36 811.26 2509.7 812.42 2511.98 813.59 2509.91 814.75 2508.37 815.91 2508.59 817.07 2507.66 818.24 2506.76 819.4 2506.97 820.56 2511.23 821.73 2517.15 822.89 2517.99 824.05 2518.86 825.21 2517.93 826.38 2514.33 827.54 2515.17 828.7 2515.61 829.86 2516.41 831.03 2516.19 832.19 2512.18 833.35 2513.88 834.52 2513.99 835.68 2511.34 836.84 2510.62 838 2510.12 839.17 2510.31 840.33 2508.33 841.49 2507.66 842.66 2507.48 843.82 2507.65 844.98 2506.77 846.14 2503.86 847.31 2503.4 848.47 2503.16 849.63 2504.18 850.8 2504.39 851.96 2501.56 853.12 2499.96 854.28 2496.6 855.45 2494.66 856.61 2496.97 857.77 2494.73 858.93 2494.03 860.1 2496.68 861.26 2495.24 862.42 2493.24 863.59 2489.18 864.75 2488.78 865.91 2489.92 867.07 2490.46 868.24 2490.65 869.4 2486.02 870.56 2483.52 871.73 2484.72 872.89 2483.65 874.05 2483.13 875.21 2483.45 876.38 2484.56 877.54 2486.13 878.7 2484.91 879.87 2483.02 881.03 2482.46 882.19 2480.7 883.35 2478.01 884.52 2478.34 885.68 2481.28 886.84 2482.41 888 2479.24 889.17 2477.19 890.33 2477.78 891.49 2477.86 892.66 2476.81 893.82 2476.9 894.98 2477.53 896.14 2477.87 897.31 2479.57 898.47 2479.18 899.63 2476.93 900.8 2476.19 901.96 2476.29 903.12 2475.92 904.28 2475.11 905.45 2475.69 906.61 2476.48 907.77 2476.33 908.94 2474.71 910.1 2472.78 911.26 2471.36 912.42 2472.12 913.59 2473.04 914.75 2471.34 915.91 2472.26 917.07 2472.6 918.24 2471.83 919.4 2472.42 920.56 2471.2 921.73 2470.66 922.89 2470.67 924.05 2471.25 925.21 2471.55 926.38 2471.3 927.54 2471.19 928.7 2467.46 929.87 2466.81 931.03 2469.22 932.19 2469.46 933.35 2470.01 934.52 2468.23 935.68 2468.12 936.84 2467.59 938.01 2467.25 939.17 2468.72 940.33 2468.57 941.49 2470.52 942.66 2470.91 943.82 2469.21 944.98 2469.29 946.14 2472.55 947.31 2471 948.47 2470.09 949.63 2471.89 950.8 2470.07 951.96 2471.19 953.12 2472.98 954.28 2470.88 955.45 2469.69 956.61 2469.62 957.77 2470.83 958.94 2470.25 960.1 2469.76 961.26 2470.36 962.42 2470.74 963.59 2469.19 964.75 2468.55 965.91 2470.02 967.08 2470.12" stroke="#da4c4c" stroke-width="1.6" fill="none" opacity=".16" stroke-linejoin="round"/><path d="M743.82 2527.02 744.98 2524.3 746.14 2525.09 747.31 2523.56 748.47 2520.31 749.63 2521.03 750.79 2520.41 751.96 2519.62 753.12 2517.86 754.28 2514.97 755.45 2512.92 756.61 2511.63 757.77 2512.6 758.93 2513.44 760.1 2509.43 761.26 2505.47 762.42 2503.08 763.59 2501.32 764.75 2502.35 765.91 2500.98 767.07 2498.61 768.24 2498.5 769.4 2498.94 770.56 2498.21 771.72 2497.06 772.89 2495.42 774.05 2494.26 775.21 2493.12 776.38 2492.86 777.54 2493.16 778.7 2491.63 779.86 2492.22 781.03 2493.19 782.19 2490.9 783.35 2489.34 784.52 2490.04 785.68 2489.32 786.84 2489.12 788 2488.4 789.17 2487.4 790.33 2486.72 791.49 2484.65 792.66 2484.52 793.82 2484.09 794.98 2484.1 796.14 2485.03 797.31 2485.02 798.47 2484.43 799.63 2482.85 800.79 2482.64 801.96 2482.46 803.12 2480.92 804.28 2478.94 805.45 2480.57 806.61 2480.22 807.77 2479.99 808.93 2481.07 810.1 2479.48 811.26 2478.37 812.42 2478.75 813.59 2478.57 814.75 2477.3 815.91 2476.65 817.07 2476.35 818.24 2474.72 819.4 2473.06 820.56 2472.63 821.73 2472.51 822.89 2472.35 824.05 2472.35 825.21 2472.12 826.38 2471.97 827.54 2470.73 828.7 2469.49 829.86 2469.31 831.03 2468.71 832.19 2467.85 833.35 2466.14 834.52 2466.46 835.68 2467.47 836.84 2467.13 838 2466.86 839.17 2465.86 840.33 2464.49 841.49 2464.86 842.66 2465.53 843.82 2465.69 844.98 2464.79 846.14 2465.13 847.31 2465.94 848.47 2467.96 849.63 2467.19 850.8 2466.05 851.96 2467.27 853.12 2466.31 854.28 2465.04 855.45 2466.74 856.61 2466.81 857.77 2465.73 858.93 2464.45 860.1 2465.38 861.26 2466.19 862.42 2464.46 863.59 2462.72 864.75 2462.91 865.91 2465.44 867.07 2465.39 868.24 2462.57 869.4 2460.64 870.56 2458.7 871.73 2458.51 872.89 2459.75 874.05 2458.81 875.21 2457.73 876.38 2458.64 877.54 2459.3 878.7 2459.29 879.87 2460.84 881.03 2463.21 882.19 2463.31 883.35 2462.93 884.52 2463.72 885.68 2464.62 886.84 2464.06 888 2462.73 889.17 2462.73 890.33 2463.27 891.49 2463.41 892.66 2465.23 893.82 2467.23 894.98 2466.35 896.14 2466.04 897.31 2465.88 898.47 2464.48 899.63 2464.14 900.8 2464.07 901.96 2463.87 903.12 2463.91 904.28 2461.17 905.45 2460.79 906.61 2460.72 907.77 2459.1 908.94 2459.53 910.1 2459.57 911.26 2458.99 912.42 2458.66 913.59 2459.1 914.75 2460.42 915.91 2460.33 917.07 2459.49 918.24 2458.32 919.4 2457.99 920.56 2458.32 921.73 2457.96 922.89 2457.08 924.05 2457 925.21 2456.37 926.38 2456.56 927.54 2457.79 928.7 2456.3 929.87 2455.14 931.03 2455.98 932.19 2456.26 933.35 2455.67 934.52 2454.6 935.68 2453.44 936.84 2454.1 938.01 2453.93 939.17 2453.64 940.33 2453.83 941.49 2453.29 942.66 2453.21 943.82 2452.81 944.98 2452.09 946.14 2451.88 947.31 2451.47 948.47 2451.44 949.63 2452.74 950.8 2452.71 951.96 2451.74 953.12 2451.52 954.28 2450.98 955.45 2450.33 956.61 2451.04 957.77 2451.2 958.94 2451.85 960.1 2451.09 961.26 2450.76 962.42 2451.76 963.59 2452.13 964.75 2451.69 965.91 2449.9 967.08 2448.74 968.24 2450.61 969.4 2451.17 970.56 2450.11 971.73 2449.45 972.89 2449.22 974.05 2449.58 975.21 2449.46 976.38 2449.45 977.54 2450.98 978.7 2451.24 979.87 2450.13 981.03 2448.85 982.19 2447.73 983.35 2448.9 984.52 2449.64 985.68 2448.81 986.84 2449.48 988.01 2450.53 989.17 2449.34 990.33 2447.88 991.49 2448.15 992.66 2449.58 993.82 2449.18 994.98 2447.26 996.15 2447.6 997.31 2447.58 998.47 2447.74 999.63 2446.99 1000.8 2446.17 1001.96 2446.53 1003.12 2446.41 1004.28 2445.93 1005.45 2447.28 1006.61 2447.09 1007.77 2446.28 1008.94 2446.65 1010.1 2446.72 1011.26 2445.45 1012.42 2445.25 1013.59 2444.71 1014.75 2443.37 1015.91 2444.2 1017.08 2444.79 1018.24 2443.26 1019.4 2443.87 1020.56 2445.7 1021.73 2445.71 1022.89 2446.19 1024.05 2446.28 1025.22 2445.29 1026.38 2444.6 1027.54 2444.43 1028.7 2443.99 1029.87 2444.46 1031.03 2444.63 1032.19 2444.24 1033.35 2444.32 1034.52 2444.71 1035.68 2444.05 1036.84 2443.71 1038.01 2443.7 1039.17 2443.19 1040.33 2442.92 1041.49 2444.14 1042.66 2445.49 1043.82 2444.97 1044.98 2444.47 1046.15 2444.02 1047.31 2444.72 1048.47 2445.91 1049.63 2445.2 1050.8 2444.12 1051.96 2443.22 1053.12 2444.23 1054.29 2445.27 1055.45 2445.02 1056.61 2443.99 1057.77 2443.11 1058.94 2443.36 1060.1 2444 1061.26 2443.71 1062.42 2442.81 1063.59 2443.24 1064.75 2443.85 1065.91 2443.41 1067.08 2443.53 1068.24 2443.58 1069.4 2444.22 1070.56 2444.61 1071.73 2445.36 1072.89 2445.07 1074.05 2443.43 1075.22 2444.54 1076.38 2445.56 1077.54 2443.87 1078.7 2443.53 1079.87 2445.03 1081.03 2444.3 1082.19 2443.68 1083.36 2443.57 1084.52 2443.14 1085.68 2444.04 1086.84 2443.87 1088.01 2443.24 1089.17 2442.89 1090.33 2442.42 1091.49 2442.78 1092.66 2442.43 1093.82 2441.9 1094.98 2442.27 1096.15 2442.69 1097.31 2442.68 1098.47 2442.86 1099.63 2442.42 1100.8 2442.29 1101.96 2442.59 1103.12 2442.33 1104.29 2442.32 1105.45 2442.65 1106.61 2442.16 1107.77 2442.98 1108.94 2443.62 1110.1 2441.93 1111.26 2442.25 1112.43 2442.46 1113.59 2442.52 1114.75 2442.98 1115.91 2443.06 1117.08 2443.4 1118.24 2442.78 1119.4 2442.74 1120.56 2442.03 1121.73 2441.27 1122.89 2441.17 1124.05 2441.33 1125.22 2440.59 1126.38 2439.92 1127.54 2440.72 1128.7 2441.9 1129.87 2441.58 1131.03 2440.64 1132.19 2440.81 1133.36 2440.83" stroke="#e87b9f" stroke-width="2.7" fill="none" stroke-linejoin="round"/><circle cx="1133.36" cy="2440.83" r="4.2" fill="#e87b9f"/><path d="M743.82 2540.19 744.98 2537.8 746.14 2534.52 747.31 2532.43 748.47 2531.18 749.63 2530.56 750.79 2528.48 751.96 2525.96 753.12 2524.72 754.28 2525 755.45 2525.22 756.61 2523.2 757.77 2520.92 758.93 2520.57 760.1 2517.35 761.26 2514.05 762.42 2512.38 763.59 2509.72 764.75 2507.62 765.91 2506.25 767.07 2506.2 768.24 2506.06 769.4 2504.65 770.56 2501.13 771.72 2501.51 772.89 2502.53 774.05 2499.79 775.21 2496.2 776.38 2496.2 777.54 2496.58 778.7 2494.42 779.86 2490.32 781.03 2490.56 782.19 2492.37 783.35 2489.96 784.52 2489.33 785.68 2488.9 786.84 2487.19 788 2486.97 789.17 2486.15 790.33 2483.59 791.49 2482.87 792.66 2483.93 793.82 2484.48 794.98 2483.23 796.14 2481.24 797.31 2480.62 798.47 2480.72 799.63 2478.45 800.79 2478.83 801.96 2481.45 803.12 2480.13 804.28 2479.27 805.45 2479.05 806.61 2477.6 807.77 2477.58 808.93 2478.25 810.1 2477.34 811.26 2476.53 812.42 2476.42 813.59 2476.91 814.75 2475.31 815.91 2474.04 817.07 2474.52 818.24 2472.95 819.4 2471.71 820.56 2472.11 821.73 2470.86 822.89 2470.59 824.05 2470.73 825.21 2470.43 826.38 2471.05 827.54 2469.56 828.7 2467.11 829.86 2467.61 831.03 2467.78 832.19 2466.11 833.35 2465.91 834.52 2467.74 835.68 2469.74 836.84 2467.85 838 2467.51 839.17 2468.79 840.33 2468.74 841.49 2468.71 842.66 2470.05 843.82 2470.84 844.98 2469.45 846.14 2468.46 847.31 2469.17 848.47 2468.32 849.63 2466.67 850.8 2467.23 851.96 2467.49 853.12 2466.01 854.28 2466.83 855.45 2466.85 856.61 2465.35 857.77 2466.57 858.93 2465.98 860.1 2465.57 861.26 2464.73 862.42 2465.37 863.59 2467.93 864.75 2469.22 865.91 2469.65 867.07 2469.65 868.24 2470.44 869.4 2469.85 870.56 2468.95 871.73 2468.77 872.89 2468.4 874.05 2468.59 875.21 2469.78 876.38 2469.67 877.54 2468.02 878.7 2465.15 879.87 2465.03 881.03 2465.6 882.19 2464.89 883.35 2464.32 884.52 2464.57 885.68 2463.62 886.84 2461.1 888 2461.78 889.17 2462.84 890.33 2462.5 891.49 2461.16 892.66 2459.21 893.82 2459.61 894.98 2461.41 896.14 2460.42 897.31 2459.23 898.47 2458.69 899.63 2459.16 900.8 2458.86 901.96 2457.32 903.12 2458.72 904.28 2459.29 905.45 2457.17 906.61 2456.37 907.77 2456.65 908.94 2457.88 910.1 2457.75 911.26 2457.19 912.42 2456.72 913.59 2454.84 914.75 2454.79 915.91 2455.24 917.07 2455.15 918.24 2454.3 919.4 2453.48 920.56 2454.45 921.73 2452.47 922.89 2451.42 924.05 2452.14 925.21 2453.37 926.38 2452.9 927.54 2450.59 928.7 2451.41 929.87 2452.81 931.03 2453.04 932.19 2452.05 933.35 2452.63 934.52 2452.81 935.68 2450.42 936.84 2450.38 938.01 2450.15 939.17 2450.47 940.33 2451.69 941.49 2450.89 942.66 2450.64 943.82 2451.03 944.98 2451.2 946.14 2451.87 947.31 2451.76 948.47 2450.48 949.63 2449.25 950.8 2449.49 951.96 2449.84 953.12 2450.19 954.28 2450.26 955.45 2449.63 956.61 2449.43 957.77 2448.9 958.94 2448.24 960.1 2447.47 961.26 2446.96 962.42 2447.07 963.59 2448.05 964.75 2448.8 965.91 2447.86 967.08 2447.22 968.24 2446.93 969.4 2448.07 970.56 2448.03 971.73 2446.79 972.89 2446.88 974.05 2447.39 975.21 2446.84 976.38 2446.07 977.54 2445.92 978.7 2446.85 979.87 2447.54 981.03 2445.41 982.19 2444.78 983.35 2445.96 984.52 2446.34 985.68 2446.35 986.84 2445.23 988.01 2443.25 989.17 2443.32 990.33 2443.29 991.49 2443.28 992.66 2443.21 993.82 2443.14 994.98 2442.95 996.15 2443.29 997.31 2443.99 998.47 2444.29 999.63 2444.21 1000.8 2444.7 1001.96 2443.7 1003.12 2441.74 1004.28 2441.73 1005.45 2441.73 1006.61 2441.92 1007.77 2442.27 1008.94 2442.8 1010.1 2443.08 1011.26 2442.88 1012.42 2443.09 1013.59 2442.19 1014.75 2441.98 1015.91 2442.38 1017.08 2441.51 1018.24 2440.35 1019.4 2441.7 1020.56 2443.07 1021.73 2443.33 1022.89 2442.16 1024.05 2442.81 1025.22 2442.89 1026.38 2441.86 1027.54 2442.4 1028.7 2441.78 1029.87 2441.38 1031.03 2442.01 1032.19 2441.25" stroke="#7d54b2" stroke-width="2.7" fill="none" stroke-linejoin="round"/><circle cx="1032.19" cy="2441.25" r="4.2" fill="#7d54b2"/><path d="M743.82 2534.36 744.98 2534.27 746.14 2532.22 747.31 2530.16 748.47 2528.46 749.63 2526.9 750.79 2527.08 751.96 2524.78 753.12 2523.19 754.28 2523.15 755.45 2520.42 756.61 2517.51 757.77 2516.58 758.93 2515.24 760.1 2514.37 761.26 2515.46 762.42 2514.13 763.59 2510.72 764.75 2508.21 765.91 2506.95 767.07 2505.74 768.24 2503.79 769.4 2501.95 770.56 2501.78 771.72 2502.1 772.89 2500.45 774.05 2498.92 775.21 2497.04 776.38 2496.33 777.54 2497.73 778.7 2495.84 779.86 2495.22 781.03 2495.26 782.19 2491.42 783.35 2491.45 784.52 2491.39 785.68 2490.34 786.84 2490.35 788 2489.2 789.17 2488.16 790.33 2487.78 791.49 2485.71 792.66 2484.29 793.82 2483 794.98 2483.33 796.14 2483.15 797.31 2483.23 798.47 2482.9 799.63 2481.35 800.79 2479.83 801.96 2479.47 803.12 2479.68 804.28 2478.89 805.45 2479.35 806.61 2480.39 807.77 2478.8 808.93 2477.18 810.1 2478.21 811.26 2479.85 812.42 2479.63 813.59 2478.08 814.75 2476.33 815.91 2475.31 817.07 2473.73 818.24 2475.79 819.4 2477.74 820.56 2477.3 821.73 2478.31 822.89 2477.99 824.05 2477.78 825.21 2477.73 826.38 2477.74 827.54 2479.03 828.7 2478.69 829.86 2477.6 831.03 2478.28 832.19 2480.27 833.35 2482.09 834.52 2481.53 835.68 2479.76 836.84 2478.39 838 2478.95 839.17 2479.69 840.33 2481.99 841.49 2482.3 842.66 2481.5 843.82 2481.97 844.98 2481.69 846.14 2482.71 847.31 2481.07 848.47 2478.91 849.63 2479.64 850.8 2480.47 851.96 2479.57 853.12 2477.4 854.28 2475.81 855.45 2476.21 856.61 2475.36 857.77 2475.07 858.93 2476.34 860.1 2475.7 861.26 2474.73 862.42 2475.55 863.59 2474.43 864.75 2473.54 865.91 2475.05 867.07 2474.53 868.24 2472.93 869.4 2473.19 870.56 2472.96 871.73 2472.77 872.89 2472.7 874.05 2470.98 875.21 2468.74 876.38 2468.28 877.54 2467.54 878.7 2466.94 879.87 2466.59 881.03 2465.3 882.19 2464.12 883.35 2463.04 884.52 2463.29 885.68 2463.94 886.84 2463.27 888 2462.92 889.17 2461.42 890.33 2461.05 891.49 2462.17 892.66 2462.43 893.82 2462.03 894.98 2461.41 896.14 2460.71 897.31 2460.13 898.47 2459.39 899.63 2458.51 900.8 2458.38 901.96 2457.87 903.12 2456.47 904.28 2455.28 905.45 2454.54 906.61 2454.15 907.77 2453.69 908.94 2452.96 910.1 2452.85 911.26 2454.07 912.42 2453.63 913.59 2453.12 914.75 2454.61 915.91 2453.55 917.07 2451.96 918.24 2451.91 919.4 2451.57 920.56 2451.53 921.73 2451.13 922.89 2450.73 924.05 2451.55 925.21 2451.4 926.38 2452.41 927.54 2452.27 928.7 2451.94 929.87 2451.99 931.03 2451.45 932.19 2451.59 933.35 2451.92 934.52 2450.91 935.68 2451.54 936.84 2452.34 938.01 2451.34 939.17 2452.08 940.33 2450.54 941.49 2449.1 942.66 2448.53 943.82 2448.13 944.98 2448.97 946.14 2448.92 947.31 2449.96 948.47 2451.06 949.63 2449.38 950.8 2447.99 951.96 2449.2 953.12 2449.35 954.28 2448.6 955.45 2448 956.61 2447.91 957.77 2449.03 958.94 2448.75 960.1 2448.47 961.26 2448.6 962.42 2448.9 963.59 2451.13 964.75 2450.06 965.91 2448.95 967.08 2449.3 968.24 2448.18 969.4 2448.99 970.56 2449.99 971.73 2448.75 972.89 2447.61 974.05 2447.82 975.21 2447.37 976.38 2447.27 977.54 2447.27 978.7 2448.52 979.87 2448.98 981.03 2448.11 982.19 2447.95 983.35 2448.32 984.52 2447.59 985.68 2446.92 986.84 2445.95 988.01 2447.41 989.17 2448.1 990.33 2445.84 991.49 2446.7 992.66 2448.29 993.82 2446.84" stroke="#479a5f" stroke-width="2.7" fill="none" stroke-linejoin="round"/><circle cx="993.82" cy="2446.84" r="4.2" fill="#479a5f"/><path d="M743.82 2554.99 744.98 2556.06 746.14 2556.9 747.31 2557.83 748.47 2557.28 749.63 2554.51 750.79 2552.29 751.96 2549.03 753.12 2547.72 754.28 2547.99 755.45 2548.51 756.61 2547.08 757.77 2542.67 758.93 2541.61 760.1 2540.68 761.26 2538.94 762.42 2538.98 763.59 2536.96 764.75 2534.32 765.91 2534.77 767.07 2532.01 768.24 2529.43 769.4 2528.44 770.56 2527.27 771.72 2527.2 772.89 2525.26 774.05 2523.77 775.21 2522.92 776.38 2521.46 777.54 2521.29 778.7 2518.01 779.86 2517.11 781.03 2517.06 782.19 2517.65 783.35 2518.47 784.52 2518.2 785.68 2518.56 786.84 2517.91 788 2519.66 789.17 2520.34 790.33 2519.51 791.49 2520.76 792.66 2519.2 793.82 2517.46 794.98 2516.96 796.14 2515.18 797.31 2514.34 798.47 2514.98 799.63 2515.51 800.79 2513.9 801.96 2512.98 803.12 2514.6 804.28 2512.16 805.45 2509.07 806.61 2511.84 807.77 2512.44 808.93 2511.72 810.1 2511.18 811.26 2509.89 812.42 2511.4 813.59 2509.88 814.75 2508.51 815.91 2508.52 817.07 2507.65 818.24 2507.25 819.4 2508.13 820.56 2511.55 821.73 2516.26 822.89 2517.39 824.05 2518.73 825.21 2518.13 826.38 2515.46 827.54 2515.86 828.7 2516.07 829.86 2516.36 831.03 2516.02 832.19 2513.12 833.35 2514.11 834.52 2513.87 835.68 2511.8 836.84 2511.13 838 2510.56 839.17 2510.4 840.33 2508.83 841.49 2508.21 842.66 2507.75 843.82 2507.37 844.98 2506.45 846.14 2504.29 847.31 2503.63 848.47 2503.11 849.63 2503.46 850.8 2503.33 851.96 2501.1 853.12 2499.77 854.28 2497.28 855.45 2495.72 856.61 2496.82 857.77 2495.12 858.93 2494.35 860.1 2495.8 861.26 2494.54 862.42 2492.92 863.59 2490.09 864.75 2489.64 865.91 2490.06 867.07 2490.2 868.24 2490.05 869.4 2486.84 870.56 2484.93 871.73 2485.57 872.89 2484.55 874.05 2483.89 875.21 2483.87 876.38 2484.43 877.54 2485.3 878.7 2484.21 879.87 2482.71 881.03 2482.09 882.19 2480.68 883.35 2478.91 884.52 2478.98 885.68 2480.77 886.84 2481.5 888 2479.18 889.17 2477.83 890.33 2478.16 891.49 2478.2 892.66 2477.46 893.82 2477.34 894.98 2477.7 896.14 2477.93 897.31 2478.86 898.47 2478.64 899.63 2477.02 900.8 2476.37 901.96 2476.29 903.12 2475.91 904.28 2475.44 905.45 2475.75 906.61 2476.06 907.77 2475.82 908.94 2474.63 910.1 2473.2 911.26 2472.28 912.42 2472.73 913.59 2473.23 914.75 2471.93 915.91 2472.35 917.07 2472.52 918.24 2471.92 919.4 2472.18 920.56 2471.37 921.73 2470.86 922.89 2470.71 924.05 2471.01 925.21 2471.18 926.38 2471.02 927.54 2470.82 928.7 2468.27 929.87 2467.71 931.03 2469.13 932.19 2469.23 933.35 2469.61 934.52 2468.55 935.68 2468.46 936.84 2468.1 938.01 2467.91 939.17 2469.03 940.33 2468.99 941.49 2470.35 942.66 2470.64 943.82 2469.56 944.98 2469.64 946.14 2471.89 947.31 2471 948.47 2470.49 949.63 2471.6 950.8 2470.47 951.96 2471.17 953.12 2472.34 954.28 2470.97 955.45 2470.14 956.61 2470.05 957.77 2470.75 958.94 2470.27 960.1 2469.94 961.26 2470.31 962.42 2470.54 963.59 2469.47 964.75 2469 965.91 2469.91 967.08 2469.95" stroke="#da4c4c" stroke-width="2.7" fill="none" stroke-linejoin="round"/><circle cx="967.08" cy="2469.95" r="4.2" fill="#da4c4c"/></svg><div style="position:absolute;top:2679.09px;font:400 15.4px/15.4px 'Liberation Sans',sans-serif;color:#666;white-space:nowrap;right:1702px;transform-origin:100% 50%;transform:scaleX(0.9900);">0</div><div style="position:absolute;top:2613.99px;font:400 15.4px/15.4px 'Liberation Sans',sans-serif;color:#666;white-space:nowrap;right:1702px;transform-origin:100% 50%;transform:scaleX(0.9900);">0.2</div><div style="position:absolute;top:2548.89px;font:400 15.4px/15.4px 'Liberation Sans',sans-serif;color:#666;white-space:nowrap;right:1702px;transform-origin:100% 50%;transform:scaleX(0.9900);">0.4</div><div style="position:absolute;top:2483.79px;font:400 15.4px/15.4px 'Liberation Sans',sans-serif;color:#666;white-space:nowrap;right:1702px;transform-origin:100% 50%;transform:scaleX(0.9900);">0.6</div><div style="position:absolute;top:2708.39px;font:400 15.4px/15.4px 'Liberation Sans',sans-serif;color:#666;white-space:nowrap;left:804.8px;transform:translateX(-50%) scaleX(0.9750);">5</div><div style="position:absolute;top:2708.39px;font:400 15.4px/15.4px 'Liberation Sans',sans-serif;color:#666;white-space:nowrap;left:869.4px;transform:translateX(-50%) scaleX(0.9750);">10</div><div style="position:absolute;top:2708.39px;font:400 15.4px/15.4px 'Liberation Sans',sans-serif;color:#666;white-space:nowrap;left:934px;transform:translateX(-50%) scaleX(0.9750);">15</div><div style="position:absolute;top:2708.39px;font:400 15.4px/15.4px 'Liberation Sans',sans-serif;color:#666;white-space:nowrap;left:998.6px;transform:translateX(-50%) scaleX(0.9750);">20</div><div style="position:absolute;top:2708.39px;font:400 15.4px/15.4px 'Liberation Sans',sans-serif;color:#666;white-space:nowrap;left:1063.2px;transform:translateX(-50%) scaleX(0.9750);">25</div><div style="position:absolute;top:2708.39px;font:400 15.4px/15.4px 'Liberation Sans',sans-serif;color:#666;white-space:nowrap;left:1127.8px;transform:translateX(-50%) scaleX(0.9750);">30</div><div style="position:absolute;top:2662.94px;font:400 15.7px/15.7px 'Liberation Sans',sans-serif;color:#666;white-space:nowrap;right:1299.8px;transform-origin:100% 50%;transform:scaleX(1.0759);">Time (minutes)</div><div style="position:absolute;top:2318.64px;font:700 20.5px/20.5px 'Liberation Sans',sans-serif;color:#2b2b2b;white-space:nowrap;left:1465px;transform:translateX(-50%) scaleX(1.0046);">metrics/mAP_0.5</div><div style="position:absolute;left:1351.5px;top:2358.4px;width:15.8px;height:2.4px;background:#e87b9f"></div><div style="position:absolute;top:2356.74px;font:400 15.5px/15.5px 'Liberation Mono',monospace;color:#e87b9f;white-space:nowrap;left:1387.2px;transform-origin:0 50%;transform:scaleX(1.0407);opacity:.95;">exp3_COCO128_YOLOv5x</div><div style="position:absolute;left:1351.5px;top:2378.4px;width:15.8px;height:2.4px;background:#7d54b2"></div><div style="position:absolute;top:2376.74px;font:400 15.5px/15.5px 'Liberation Mono',monospace;color:#7d54b2;white-space:nowrap;left:1387.2px;transform-origin:0 50%;transform:scaleX(1.0407);opacity:.95;">exp2_COCO128_YOLOv5l</div><div style="position:absolute;left:1351.5px;top:2398.4px;width:15.8px;height:2.4px;background:#479a5f"></div><div style="position:absolute;top:2396.74px;font:400 15.5px/15.5px 'Liberation Mono',monospace;color:#479a5f;white-space:nowrap;left:1387.2px;transform-origin:0 50%;transform:scaleX(1.0407);opacity:.95;">exp1_COCO128_YOLOv5m</div><div style="position:absolute;left:1351.5px;top:2418.4px;width:15.8px;height:2.4px;background:#da4c4c"></div><div style="position:absolute;top:2416.74px;font:400 15.5px/15.5px 'Liberation Mono',monospace;color:#da4c4c;white-space:nowrap;left:1387.2px;transform-origin:0 50%;transform:scaleX(1.0407);opacity:.95;">exp0_COCO128_YOLOv5s</div><svg style="position:absolute;left:1210px;top:2273px" width="510" height="437" viewBox="1210 2273 510 437"><path d="M1291.6 2641.82H1672.9" stroke="#ededf0" stroke-width="1.3"/><path d="M1291.6 2598.14H1672.9" stroke="#ededf0" stroke-width="1.3"/><path d="M1291.6 2554.46H1672.9" stroke="#ededf0" stroke-width="1.3"/><path d="M1291.6 2510.78H1672.9" stroke="#ededf0" stroke-width="1.3"/><path d="M1291.6 2467.1H1672.9" stroke="#ededf0" stroke-width="1.3"/><path d="M1291.6 2685.5H1672.9" stroke="#e9e9ee" stroke-width="1.4"/><path d="M1350.3 2675.9V2695.2" stroke="#e6e6eb" stroke-width="1.8"/><path d="M1413.3 2675.9V2695.2" stroke="#e6e6eb" stroke-width="1.8"/><path d="M1476.3 2675.9V2695.2" stroke="#e6e6eb" stroke-width="1.8"/><path d="M1539.3 2675.9V2695.2" stroke="#e6e6eb" stroke-width="1.8"/><path d="M1602.3 2675.9V2695.2" stroke="#e6e6eb" stroke-width="1.8"/><path d="M1665.3 2675.9V2695.2" stroke="#e6e6eb" stroke-width="1.8"/><path d="M1291.08 2549.67 1292.21 2551.42 1293.35 2548.89 1294.48 2545.77 1295.62 2536.27 1296.75 2536.87 1297.88 2535.91 1299.02 2526.35 1300.15 2527.3 1301.29 2530.44 1302.42 2526.48 1303.55 2520.47 1304.69 2515.17 1305.82 2514.03 1306.96 2513.18 1308.09 2514.58 1309.22 2519.31 1310.36 2519.99 1311.49 2519.07 1312.63 2513.55 1313.76 2509.11 1314.89 2508.98 1316.03 2506.06 1317.16 2501.88 1318.3 2504.05 1319.43 2503.63 1320.56 2496.73 1321.7 2493.49 1322.83 2498.13 1323.97 2498.88 1325.1 2491.29 1326.23 2489.32 1327.37 2489.11 1328.5 2483.36 1329.64 2488.95 1330.77 2487.86 1331.9 2481.89 1333.04 2485.36 1334.17 2484.31 1335.31 2479.81 1336.44 2476.27 1337.57 2475.27 1338.71 2476.13 1339.84 2473.51 1340.98 2468.32 1342.11 2466.58 1343.24 2466.62 1344.38 2465.23 1345.51 2462.18 1346.65 2463.48 1347.78 2464.51 1348.91 2464.52 1350.05 2464.37 1351.18 2463.35 1352.32 2466.57 1353.45 2468.43 1354.58 2464.34 1355.72 2467.07 1356.85 2469.65 1357.99 2462.85 1359.12 2461.43 1360.25 2464.65 1361.39 2461.97 1362.52 2461.41 1363.66 2462.89 1364.79 2462.19 1365.92 2461.28 1367.06 2461.38 1368.19 2460.21 1369.33 2456.14 1370.46 2455.46 1371.59 2454.93 1372.73 2453.9 1373.86 2454.57 1375 2454.91 1376.13 2456.17 1377.26 2456.05 1378.4 2454.48 1379.53 2456.82 1380.67 2455.52 1381.8 2452.3 1382.93 2452.86 1384.07 2454.06 1385.2 2457.9 1386.34 2454.47 1387.47 2450.19 1388.6 2455.44 1389.74 2454.02 1390.87 2451.76 1392.01 2452 1393.14 2450.85 1394.27 2450.28 1395.41 2449.9 1396.54 2450.71 1397.68 2450.87 1398.81 2449.81 1399.94 2451.54 1401.08 2451.39 1402.21 2448.33 1403.35 2450.69 1404.48 2451.8 1405.61 2451.74 1406.75 2451.67 1407.88 2449.57 1409.02 2450.38 1410.15 2450.73 1411.28 2448.71 1412.42 2449.08 1413.55 2448.33 1414.69 2449.34 1415.82 2450.85 1416.95 2448.04 1418.09 2449.51 1419.22 2453.28 1420.36 2453.45 1421.49 2452.79 1422.62 2453.82 1423.76 2455.26 1424.89 2456.99 1426.03 2458.09 1427.16 2456.73 1428.29 2456.46 1429.43 2454.97 1430.56 2452.35 1431.7 2451.85 1432.83 2454.06 1433.96 2452.55 1435.1 2450.09 1436.23 2451.67 1437.37 2451.53 1438.5 2450.47 1439.63 2451.57 1440.77 2450.93 1441.9 2448.83 1443.04 2448.79 1444.17 2450.1 1445.3 2448.94 1446.44 2447.05 1447.57 2445.5 1448.71 2448.2 1449.84 2448.34 1450.97 2446.82 1452.11 2446.87 1453.24 2445.76 1454.38 2447.77 1455.51 2449 1456.64 2448.93 1457.78 2448.19 1458.91 2445.72 1460.05 2445.93 1461.18 2448.58 1462.31 2445.28 1463.45 2445.85 1464.58 2448.87 1465.72 2447.35 1466.85 2448.93 1467.98 2448.04 1469.12 2445.13 1470.25 2446.05 1471.39 2447.17 1472.52 2447.38 1473.65 2449.35 1474.79 2448.86 1475.92 2448.23 1477.06 2449.25 1478.19 2446.85 1479.32 2444.39 1480.46 2445.97 1481.59 2445.57 1482.73 2442.22 1483.86 2443.33 1484.99 2445.4 1486.13 2445.37 1487.26 2445.92 1488.4 2447.28 1489.53 2445.95 1490.66 2443.82 1491.8 2445.1 1492.93 2446.44 1494.07 2446.33 1495.2 2446.55 1496.33 2446.62 1497.47 2446.98 1498.6 2444.69 1499.74 2443.46 1500.87 2444.42 1502 2442.08 1503.14 2442.46 1504.27 2443.71 1505.41 2444.5 1506.54 2445.84 1507.67 2443.43 1508.81 2443.14 1509.94 2445.32 1511.08 2446.69 1512.21 2444.48 1513.34 2444.06 1514.48 2443.79 1515.61 2442.83 1516.75 2444.01 1517.88 2444.65 1519.01 2443.32 1520.15 2443.46 1521.28 2445.33 1522.42 2444.97 1523.55 2444.35 1524.68 2444.62 1525.82 2443.25 1526.95 2442.66 1528.09 2441.81 1529.22 2442.17 1530.35 2443.82 1531.49 2443.92 1532.62 2443.03 1533.76 2443.19 1534.89 2444.28 1536.02 2444.38 1537.16 2444.67 1538.29 2444.48 1539.43 2441.23 1540.56 2441.27 1541.69 2443.82 1542.83 2443.4 1543.96 2443.98 1545.1 2444.2 1546.23 2442.18 1547.36 2442.76 1548.5 2443.18 1549.63 2442.27 1550.77 2445.3 1551.9 2446.91 1553.03 2446.58 1554.17 2447.13 1555.3 2445.73 1556.44 2444.43 1557.57 2445.18 1558.7 2446.63 1559.84 2447.21 1560.97 2447.01 1562.11 2445.03 1563.24 2444.68 1564.37 2447.2 1565.51 2446.45 1566.64 2447.06 1567.78 2447.94 1568.91 2447.91 1570.04 2446.35 1571.18 2446.43 1572.31 2447.33 1573.45 2446.39 1574.58 2446.71 1575.71 2448.21 1576.85 2448.93 1577.98 2447.74 1579.12 2447.29 1580.25 2445.95 1581.38 2445.01 1582.52 2445.99 1583.65 2447.08 1584.79 2446.12 1585.92 2445.64 1587.05 2446.8 1588.19 2446.89 1589.32 2443.4 1590.46 2443.15 1591.59 2446.24 1592.72 2444.72 1593.86 2442.72 1594.99 2444.26 1596.13 2443.39 1597.26 2444.72 1598.39 2446.68 1599.53 2446.81 1600.66 2444.96 1601.8 2443.31 1602.93 2442.12 1604.06 2441.96 1605.2 2444.24 1606.33 2445.77 1607.47 2447.37 1608.6 2446.74 1609.73 2444.86 1610.87 2445.65 1612 2448.86 1613.14 2447.02 1614.27 2443.81 1615.4 2445.33 1616.54 2445.82 1617.67 2443.85 1618.81 2443.26 1619.94 2445.99 1621.07 2446.85 1622.21 2446.08 1623.34 2444.86 1624.48 2443.93 1625.61 2446.13 1626.74 2446.27 1627.88 2444.27 1629.01 2445.9 1630.15 2447.54 1631.28 2446.56 1632.41 2445.66 1633.55 2445.86 1634.68 2447.38 1635.82 2448.48 1636.95 2446.54 1638.08 2444.78 1639.22 2445.48 1640.35 2445.79 1641.49 2443.11 1642.62 2443.39 1643.75 2445.51 1644.89 2445.64 1646.02 2444.68 1647.16 2443.86 1648.29 2443.88 1649.42 2444.35 1650.56 2444.38 1651.69 2443.89 1652.83 2444.66 1653.96 2443.97 1655.09 2445.52 1656.23 2446.03 1657.36 2444.41 1658.5 2444.31 1659.63 2442.26 1660.76 2442.88 1661.9 2444.79 1663.03 2444.52 1664.17 2442.81 1665.3 2441.19 1666.43 2442.42 1667.57 2443.45 1668.7 2442.02 1669.84 2442.21 1670.97 2445.28" stroke="#e87b9f" stroke-width="1.6" fill="none" opacity=".16" stroke-linejoin="round"/><path d="M1291.08 2572.25 1292.21 2573.7 1293.35 2570.76 1294.48 2565.2 1295.62 2556.58 1296.75 2555.99 1297.88 2558.3 1299.02 2556.3 1300.15 2556.53 1301.29 2548.82 1302.42 2547.81 1303.55 2547.06 1304.69 2535.66 1305.82 2525 1306.96 2526.81 1308.09 2533.17 1309.22 2530.87 1310.36 2525.89 1311.49 2518.52 1312.63 2514.21 1313.76 2508.89 1314.89 2507.51 1316.03 2507.35 1317.16 2508.05 1318.3 2508.36 1319.43 2502.94 1320.56 2505 1321.7 2502.3 1322.83 2493.02 1323.97 2491.18 1325.1 2489.88 1326.23 2488.81 1327.37 2490.65 1328.5 2489.16 1329.64 2486.34 1330.77 2484.22 1331.9 2481.48 1333.04 2480.05 1334.17 2481.24 1335.31 2480.58 1336.44 2473.45 1337.57 2470.29 1338.71 2473.39 1339.84 2476.22 1340.98 2473.64 1342.11 2471.66 1343.24 2475.89 1344.38 2475.95 1345.51 2468.93 1346.65 2470.33 1347.78 2472.52 1348.91 2470.03 1350.05 2468.72 1351.18 2467.35 1352.32 2468.26 1353.45 2471.4 1354.58 2469.41 1355.72 2464.18 1356.85 2463.19 1357.99 2464.63 1359.12 2464.8 1360.25 2459.15 1361.39 2459.29 1362.52 2462.74 1363.66 2462.34 1364.79 2461.85 1365.92 2458.86 1367.06 2456.04 1368.19 2455.25 1369.33 2456.45 1370.46 2455.33 1371.59 2453.65 1372.73 2453.61 1373.86 2453.62 1375 2451.03 1376.13 2451.94 1377.26 2454.17 1378.4 2454.71 1379.53 2455.45 1380.67 2451.99 1381.8 2452.38 1382.93 2453.86 1384.07 2449.72 1385.2 2449.56 1386.34 2452.7 1387.47 2454.61 1388.6 2458.01 1389.74 2458.14 1390.87 2455.65 1392.01 2452.92 1393.14 2450.59 1394.27 2453.82 1395.41 2453.92 1396.54 2453.05 1397.68 2451.14 1398.81 2447.84 1399.94 2449.59 1401.08 2451.82 1402.21 2449.65 1403.35 2447.55 1404.48 2448.1 1405.61 2448.28 1406.75 2449.78 1407.88 2449.34 1409.02 2450.06 1410.15 2449.67 1411.28 2448.3 1412.42 2451.69 1413.55 2451.22 1414.69 2449 1415.82 2449.81 1416.95 2449.65 1418.09 2447.31 1419.22 2448.1 1420.36 2450.23 1421.49 2447.32 1422.62 2445.48 1423.76 2448.07 1424.89 2447.46 1426.03 2447.24 1427.16 2446.18 1428.29 2443.54 1429.43 2443.56 1430.56 2445.4 1431.7 2446.88 1432.83 2443.66 1433.96 2444.97 1435.1 2446.03 1436.23 2444.91 1437.37 2445.68 1438.5 2446.99 1439.63 2446.65 1440.77 2445.07 1441.9 2444.42 1443.04 2441.45 1444.17 2442.85 1445.3 2445.95 1446.44 2446.87 1447.57 2444.75 1448.71 2443.65 1449.84 2444.59 1450.97 2445.38 1452.11 2446.62 1453.24 2444.36 1454.38 2443.42 1455.51 2444.45 1456.64 2443.72 1457.78 2443.3 1458.91 2443.18 1460.05 2443.67 1461.18 2444.51 1462.31 2444.69 1463.45 2443.8 1464.58 2443.03 1465.72 2444.25 1466.85 2445.11 1467.98 2443.92 1469.12 2442.82 1470.25 2444.31 1471.39 2442.87 1472.52 2443.7 1473.65 2444.19 1474.79 2441.53 1475.92 2444.91 1477.06 2445.73 1478.19 2443.05 1479.32 2443.91 1480.46 2444.01 1481.59 2445.59 1482.73 2445.17 1483.86 2443.71 1484.99 2446.3 1486.13 2446.8 1487.26 2446.2 1488.4 2445.65 1489.53 2445.17 1490.66 2445.18 1491.8 2445.57 1492.93 2446.38 1494.07 2445.09 1495.2 2444.58 1496.33 2442.54 1497.47 2439.85 1498.6 2442.99 1499.74 2444.47 1500.87 2442.54 1502 2443.99 1503.14 2443.93 1504.27 2443.43 1505.41 2442.73 1506.54 2441.82 1507.67 2440.29 1508.81 2440.94 1509.94 2442.34 1511.08 2442.54 1512.21 2442.01 1513.34 2440.4 1514.48 2442.27 1515.61 2446.34 1516.75 2445.5 1517.88 2443.58 1519.01 2443.3 1520.15 2443.29 1521.28 2445.83 1522.42 2446.85 1523.55 2444.89 1524.68 2445.47 1525.82 2445.05 1526.95 2443.76 1528.09 2442.75 1529.22 2443.6 1530.35 2446 1531.49 2444.48 1532.62 2440.87 1533.76 2441.43 1534.89 2443.46 1536.02 2445.01 1537.16 2445.15 1538.29 2442.52 1539.43 2444.84 1540.56 2445.33 1541.69 2445.16 1542.83 2444.21 1543.96 2440.95 1545.1 2442.65 1546.23 2443.05 1547.36 2440.63 1548.5 2441.89 1549.63 2442.22 1550.77 2440.17 1551.9 2441.27 1553.03 2440.69 1554.17 2442.61 1555.3 2444.06 1556.44 2443.8 1557.57 2443.78 1558.7 2442.15 1559.84 2443.9 1560.97 2444.24 1562.11 2442.52 1563.24 2443.22 1564.37 2443.88 1565.51 2442.51 1566.64 2442.08 1567.78 2441.75 1568.91 2443.11 1570.04 2446.19 1571.18 2444.08" stroke="#7d54b2" stroke-width="1.6" fill="none" opacity=".16" stroke-linejoin="round"/><path d="M1291.08 2584.57 1292.21 2580.45 1293.35 2575.21 1294.48 2571.42 1295.62 2572.19 1296.75 2574.91 1297.88 2569.51 1299.02 2565.89 1300.15 2568.88 1301.29 2569.2 1302.42 2560.93 1303.55 2553.02 1304.69 2547.67 1305.82 2541.98 1306.96 2541.36 1308.09 2537.38 1309.22 2531.61 1310.36 2526.37 1311.49 2520 1312.63 2512.88 1313.76 2509.23 1314.89 2511.25 1316.03 2509.86 1317.16 2505.18 1318.3 2499.67 1319.43 2495.34 1320.56 2495.77 1321.7 2495.78 1322.83 2489.05 1323.97 2481.67 1325.1 2475.54 1326.23 2474.23 1327.37 2472.78 1328.5 2472.43 1329.64 2477.83 1330.77 2479.26 1331.9 2475.15 1333.04 2475.89 1334.17 2477.15 1335.31 2473.47 1336.44 2471.3 1337.57 2470.19 1338.71 2473.73 1339.84 2471.99 1340.98 2469.71 1342.11 2471.26 1343.24 2470.45 1344.38 2467.77 1345.51 2465.81 1346.65 2465.96 1347.78 2464.65 1348.91 2464.72 1350.05 2465.51 1351.18 2462.91 1352.32 2460.48 1353.45 2461.21 1354.58 2464.55 1355.72 2468.76 1356.85 2463.06 1357.99 2458.52 1359.12 2463.86 1360.25 2464.49 1361.39 2461.56 1362.52 2463.52 1363.66 2464.85 1364.79 2460.77 1365.92 2461.72 1367.06 2463.85 1368.19 2464.09 1369.33 2466.93 1370.46 2461.64 1371.59 2457.78 1372.73 2462.21 1373.86 2463.56 1375 2463.21 1376.13 2464.04 1377.26 2462.55 1378.4 2459.8 1379.53 2461.02 1380.67 2461.85 1381.8 2463.31 1382.93 2462.44 1384.07 2462.9 1385.2 2463.12 1386.34 2457.57 1387.47 2457.49 1388.6 2455.32 1389.74 2456.37 1390.87 2460.75 1392.01 2458.66 1393.14 2456.8 1394.27 2454.86 1395.41 2455.88 1396.54 2459.83 1397.68 2457.83 1398.81 2454.85 1399.94 2455.2 1401.08 2457.5 1402.21 2457.95 1403.35 2455.63 1404.48 2454.66 1405.61 2451.74 1406.75 2453.81 1407.88 2455.87 1409.02 2454.12 1410.15 2454.81 1411.28 2454.18 1412.42 2452.1 1413.55 2453.85 1414.69 2455.47 1415.82 2453.83 1416.95 2454.35 1418.09 2454.03 1419.22 2450.61 1420.36 2449.76 1421.49 2451.55 1422.62 2450.08 1423.76 2446.02 1424.89 2449.29 1426.03 2449.49 1427.16 2446.27 1428.29 2447.23 1429.43 2449.44 1430.56 2448.92 1431.7 2449.29 1432.83 2450.08 1433.96 2447.42 1435.1 2446.5 1436.23 2447.67 1437.37 2448.25 1438.5 2447.83 1439.63 2447.49 1440.77 2448.21 1441.9 2449.74 1443.04 2449.47 1444.17 2449.4 1445.3 2447.45 1446.44 2442.23 1447.57 2442.02 1448.71 2443.58 1449.84 2445.93 1450.97 2447.34 1452.11 2447.22 1453.24 2446.04 1454.38 2444.38 1455.51 2445.96 1456.64 2444.78 1457.78 2443.48 1458.91 2443.95 1460.05 2442.53 1461.18 2441.78 1462.31 2441 1463.45 2442.36 1464.58 2444.16 1465.72 2445.26 1466.85 2445.96 1467.98 2443.35 1469.12 2442.98 1470.25 2443.37 1471.39 2443.51 1472.52 2446.06 1473.65 2444.53 1474.79 2443.95 1475.92 2445.73 1477.06 2444.06 1478.19 2444.54 1479.32 2447.01 1480.46 2444.89 1481.59 2442.76 1482.73 2443.68 1483.86 2445.99 1484.99 2443.91 1486.13 2443.16 1487.26 2446 1488.4 2446.28 1489.53 2444.23 1490.66 2447.41 1491.8 2449.69 1492.93 2445.97 1494.07 2444.46 1495.2 2444.92 1496.33 2445.97 1497.47 2445.55 1498.6 2444.24 1499.74 2445.69 1500.87 2447.45 1502 2445.83 1503.14 2445.76 1504.27 2447.95 1505.41 2447.67 1506.54 2446.94 1507.67 2446.19 1508.81 2443.96 1509.94 2445.18 1511.08 2446.14 1512.21 2445.18 1513.34 2443.73 1514.48 2443.23 1515.61 2444.39 1516.75 2445.29 1517.88 2444.03 1519.01 2443.55 1520.15 2444.25 1521.28 2446.12 1522.42 2446.4 1523.55 2444.91 1524.68 2444.74 1525.82 2446.26 1526.95 2448.3 1528.09 2446.83 1529.22 2444.23 1530.35 2445.07 1531.49 2446.59 1532.62 2447.32 1533.76 2446.38 1534.89 2445.23" stroke="#479a5f" stroke-width="1.6" fill="none" opacity=".16" stroke-linejoin="round"/><path d="M1291.08 2682.56 1292.21 2682.34 1293.35 2681.56 1294.48 2685.84 1295.62 2684.98 1296.75 2670.23 1297.88 2652.89 1299.02 2644.14 1300.15 2641.89 1301.29 2632.18 1302.42 2616.02 1303.55 2606.92 1304.69 2597.84 1305.82 2584.09 1306.96 2577 1308.09 2569.73 1309.22 2564.08 1310.36 2558.02 1311.49 2548.18 1312.63 2539.79 1313.76 2537.18 1314.89 2537.42 1316.03 2536.26 1317.16 2533.05 1318.3 2529.4 1319.43 2522.78 1320.56 2522.9 1321.7 2523.44 1322.83 2516.55 1323.97 2514.07 1325.1 2513.78 1326.23 2510.02 1327.37 2509.29 1328.5 2516.42 1329.64 2516.58 1330.77 2514.06 1331.9 2509.72 1333.04 2507.56 1334.17 2511.39 1335.31 2512.34 1336.44 2510.27 1337.57 2508.52 1338.71 2506.84 1339.84 2502.64 1340.98 2503.74 1342.11 2505.38 1343.24 2501.1 1344.38 2501.06 1345.51 2499.46 1346.65 2492.75 1347.78 2492.79 1348.91 2492.69 1350.05 2492.35 1351.18 2493.35 1352.32 2491.48 1353.45 2490.58 1354.58 2488.7 1355.72 2488.56 1356.85 2488.47 1357.99 2487.33 1359.12 2485.29 1360.25 2482.02 1361.39 2488.1 1362.52 2497.46 1363.66 2504.98 1364.79 2512.12 1365.92 2514.45 1367.06 2513.25 1368.19 2512.26 1369.33 2507.95 1370.46 2504.85 1371.59 2501.65 1372.73 2495.09 1373.86 2492 1375 2489.14 1376.13 2492.39 1377.26 2494.77 1378.4 2494.3 1379.53 2497.69 1380.67 2496.91 1381.8 2496.24 1382.93 2498.88 1384.07 2498.73 1385.2 2493.49 1386.34 2494.19 1387.47 2497.94 1388.6 2493.49 1389.74 2488.2 1390.87 2487.5 1392.01 2483.56 1393.14 2479.59 1394.27 2477.72 1395.41 2475.35 1396.54 2474.75 1397.68 2473.76 1398.81 2469.86 1399.94 2471.31 1401.08 2474.26 1402.21 2473.97 1403.35 2473.04 1404.48 2472.69 1405.61 2472.06 1406.75 2469.95 1407.88 2471.21 1409.02 2472 1410.15 2468.9 1411.28 2467.75 1412.42 2470.4 1413.55 2469.32 1414.69 2468.98 1415.82 2468.96 1416.95 2469.14 1418.09 2469.11 1419.22 2466.62 1420.36 2467.38 1421.49 2466.6 1422.62 2466.74 1423.76 2464.9 1424.89 2462.54 1426.03 2461.08 1427.16 2462.43 1428.29 2462.73 1429.43 2460.29 1430.56 2462.42 1431.7 2462.64 1432.83 2459.77 1433.96 2463.13 1435.1 2466.32 1436.23 2461.72 1437.37 2460 1438.5 2463.18 1439.63 2464.32 1440.77 2462.79 1441.9 2461.27 1443.04 2460.97 1444.17 2459.52 1445.3 2458.75 1446.44 2457.75 1447.57 2458.29 1448.71 2457.77 1449.84 2455.77 1450.97 2455.84 1452.11 2456.96 1453.24 2455.77 1454.38 2452.54 1455.51 2453.14 1456.64 2455.4 1457.78 2454.47 1458.91 2454.16 1460.05 2454.13 1461.18 2453.29 1462.31 2453.5 1463.45 2452.63 1464.58 2453.29 1465.72 2454.78 1466.85 2456.27 1467.98 2456.39 1469.12 2454.64 1470.25 2453.14 1471.39 2450.2 1472.52 2452.21 1473.65 2456.93 1474.79 2455.04 1475.92 2456.47 1477.06 2457.38 1478.19 2455.2 1479.32 2453.99 1480.46 2453.89 1481.59 2455.39 1482.73 2456.89 1483.86 2457.21 1484.99 2454.97 1486.13 2454.57 1487.26 2455.27 1488.4 2452.81 1489.53 2453.6 1490.66 2456.89 1491.8 2456.86 1492.93 2455.7 1494.07 2455.27 1495.2 2454.7 1496.33 2454.53 1497.47 2452.05 1498.6 2452.4 1499.74 2454.52 1500.87 2453.01 1502 2450.46 1503.14 2451.24 1504.27 2454.37 1505.41 2453.32 1506.54 2453.38 1507.67 2456.25 1508.81 2457.54" stroke="#da4c4c" stroke-width="1.6" fill="none" opacity=".16" stroke-linejoin="round"/><path d="M1291.08 2548.32 1292.21 2548.95 1293.35 2546.5 1294.48 2543.96 1295.62 2536.99 1296.75 2536.67 1297.88 2535.22 1299.02 2528.19 1300.15 2527.92 1301.29 2529.34 1302.42 2526.11 1303.55 2521.8 1304.69 2517.96 1305.82 2516.52 1306.96 2515.16 1308.09 2515.44 1309.22 2518.21 1310.36 2517.85 1311.49 2516.77 1312.63 2512.31 1313.76 2508.95 1314.89 2508.04 1316.03 2505.62 1317.16 2502.36 1318.3 2503.46 1319.43 2502.53 1320.56 2497.65 1321.7 2495.11 1322.83 2497.61 1323.97 2497.54 1325.1 2491.91 1326.23 2490.23 1327.37 2489.55 1328.5 2485.19 1329.64 2488.33 1330.77 2487.23 1331.9 2482.69 1333.04 2484.52 1334.17 2483.24 1335.31 2479.87 1336.44 2476.92 1337.57 2475.85 1338.71 2475.97 1339.84 2473.88 1340.98 2470.11 1342.11 2468.72 1343.24 2468.41 1344.38 2467.01 1345.51 2464.61 1346.65 2465.14 1347.78 2465.39 1348.91 2465.35 1350.05 2465 1351.18 2464.15 1352.32 2465.98 1353.45 2467.16 1354.58 2464.41 1355.72 2466.1 1356.85 2467.53 1357.99 2462.91 1359.12 2461.7 1360.25 2463.75 1361.39 2461.93 1362.52 2461.36 1363.66 2462.12 1364.79 2461.38 1365.92 2460.73 1367.06 2460.83 1368.19 2460.02 1369.33 2457.15 1370.46 2456.56 1371.59 2456.03 1372.73 2455.2 1373.86 2455.42 1375 2455.7 1376.13 2456.34 1377.26 2456.13 1378.4 2454.85 1379.53 2456.4 1380.67 2455.32 1381.8 2452.96 1382.93 2453.34 1384.07 2453.93 1385.2 2456.18 1386.34 2453.8 1387.47 2450.84 1388.6 2454.22 1389.74 2453.16 1390.87 2451.66 1392.01 2451.96 1393.14 2451.09 1394.27 2450.76 1395.41 2450.57 1396.54 2450.93 1397.68 2451.07 1398.81 2450.51 1399.94 2451.51 1401.08 2451.32 1402.21 2449.22 1403.35 2450.72 1404.48 2451.51 1405.61 2451.51 1406.75 2451.46 1407.88 2450.02 1409.02 2450.46 1410.15 2450.73 1411.28 2449.49 1412.42 2449.82 1413.55 2449.36 1414.69 2450.03 1415.82 2451.14 1416.95 2449.55 1418.09 2450.74 1419.22 2453.3 1420.36 2453.45 1421.49 2453.14 1422.62 2453.88 1423.76 2454.96 1424.89 2456.17 1426.03 2456.9 1427.16 2455.88 1428.29 2455.55 1429.43 2454.3 1430.56 2452.52 1431.7 2452.05 1432.83 2453.33 1433.96 2452.08 1435.1 2450.28 1436.23 2451.11 1437.37 2450.97 1438.5 2450.04 1439.63 2450.8 1440.77 2450.3 1441.9 2448.83 1443.04 2448.74 1444.17 2449.56 1445.3 2448.85 1446.44 2447.54 1447.57 2446.4 1448.71 2448.23 1449.84 2448.39 1450.97 2447.45 1452.11 2447.51 1453.24 2446.72 1454.38 2447.98 1455.51 2448.79 1456.64 2448.84 1457.78 2448.22 1458.91 2446.58 1460.05 2446.64 1461.18 2448.31 1462.31 2446.04 1463.45 2446.48 1464.58 2448.45 1465.72 2447.32 1466.85 2448.38 1467.98 2447.85 1469.12 2445.9 1470.25 2446.46 1471.39 2447.16 1472.52 2447.36 1473.65 2448.58 1474.79 2448.26 1475.92 2447.85 1477.06 2448.35 1478.19 2446.61 1479.32 2444.9 1480.46 2445.99 1481.59 2445.68 1482.73 2443.38 1483.86 2444.1 1484.99 2445.43 1486.13 2445.42 1487.26 2445.85 1488.4 2446.81 1489.53 2445.91 1490.66 2444.38 1491.8 2445.21 1492.93 2446.11 1494.07 2445.94 1495.2 2446.04 1496.33 2445.96 1497.47 2445.96 1498.6 2444.41 1499.74 2443.65 1500.87 2444.29 1502 2442.8 1503.14 2442.95 1504.27 2443.72 1505.41 2444.17 1506.54 2445.04 1507.67 2443.42 1508.81 2443.29 1509.94 2444.64 1511.08 2445.52 1512.21 2443.98 1513.34 2443.81 1514.48 2443.69 1515.61 2443.22 1516.75 2444.03 1517.88 2444.56 1519.01 2443.63 1520.15 2443.82 1521.28 2445.05 1522.42 2444.8 1523.55 2444.41 1524.68 2444.45 1525.82 2443.41 1526.95 2443.03 1528.09 2442.32 1529.22 2442.48 1530.35 2443.58 1531.49 2443.62 1532.62 2443.05 1533.76 2443.02 1534.89 2443.85 1536.02 2443.94 1537.16 2444.08 1538.29 2444.18 1539.43 2442.12 1540.56 2442.04 1541.69 2443.8 1542.83 2443.54 1543.96 2443.94 1545.1 2444.13 1546.23 2442.88 1547.36 2443.35 1548.5 2443.63 1549.63 2443.02 1550.77 2445.16 1551.9 2446.3 1553.03 2446.12 1554.17 2446.51 1555.3 2445.71 1556.44 2444.96 1557.57 2445.49 1558.7 2446.42 1559.84 2447.01 1560.97 2447 1562.11 2445.72 1563.24 2445.53 1564.37 2447.29 1565.51 2446.71 1566.64 2447.06 1567.78 2447.66 1568.91 2447.67 1570.04 2446.54 1571.18 2446.49 1572.31 2447.03 1573.45 2446.48 1574.58 2446.72 1575.71 2447.63 1576.85 2448.07 1577.98 2447.21 1579.12 2446.83 1580.25 2445.99 1581.38 2445.4 1582.52 2446.04 1583.65 2446.79 1584.79 2446 1585.92 2445.77 1587.05 2446.4 1588.19 2446.38 1589.32 2444.05 1590.46 2443.79 1591.59 2445.75 1592.72 2444.85 1593.86 2443.37 1594.99 2444.42 1596.13 2443.75 1597.26 2444.68 1598.39 2446 1599.53 2446.07 1600.66 2444.84 1601.8 2443.78 1602.93 2443 1604.06 2443 1605.2 2444.56 1606.33 2445.54 1607.47 2446.57 1608.6 2446.15 1609.73 2444.99 1610.87 2445.6 1612 2447.68 1613.14 2446.48 1614.27 2444.39 1615.4 2445.29 1616.54 2445.62 1617.67 2444.34 1618.81 2444.01 1619.94 2445.83 1621.07 2446.3 1622.21 2445.81 1623.34 2444.87 1624.48 2444.23 1625.61 2445.69 1626.74 2445.85 1627.88 2444.44 1629.01 2445.51 1630.15 2446.47 1631.28 2445.78 1632.41 2445.24 1633.55 2445.51 1634.68 2446.51 1635.82 2447.28 1636.95 2445.94 1638.08 2444.86 1639.22 2445.26 1640.35 2445.5 1641.49 2443.75 1642.62 2443.9 1643.75 2445.24 1644.89 2445.17 1646.02 2444.52 1647.16 2444.03 1648.29 2443.97 1649.42 2444.22 1650.56 2444.33 1651.69 2444.12 1652.83 2444.72 1653.96 2444.28 1655.09 2445.38 1656.23 2445.76 1657.36 2444.6 1658.5 2444.54 1659.63 2443.17 1660.76 2443.52 1661.9 2444.72 1663.03 2444.41 1664.17 2443.21 1665.3 2442.11 1666.43 2442.93 1667.57 2443.68 1668.7 2442.81 1669.84 2442.97 1670.97 2444.95" stroke="#e87b9f" stroke-width="2.7" fill="none" stroke-linejoin="round"/><circle cx="1670.97" cy="2444.95" r="4.2" fill="#e87b9f"/><path d="M1291.08 2571.54 1292.21 2571.85 1293.35 2569.25 1294.48 2564.96 1295.62 2558.76 1296.75 2557.88 1297.88 2558.92 1299.02 2557.09 1300.15 2556.46 1301.29 2550.21 1302.42 2548.26 1303.55 2546.62 1304.69 2537.96 1305.82 2529.58 1306.96 2529.14 1308.09 2531.89 1309.22 2528.98 1310.36 2524.46 1311.49 2518.07 1312.63 2514.14 1313.76 2509.67 1314.89 2508.04 1316.03 2507.27 1317.16 2506.96 1318.3 2506.57 1319.43 2502.3 1320.56 2503.15 1321.7 2500.69 1322.83 2493.8 1323.97 2491.95 1325.1 2490.14 1326.23 2489.01 1327.37 2489.86 1328.5 2488.4 1329.64 2486 1330.77 2483.86 1331.9 2481.53 1333.04 2480.1 1334.17 2480.33 1335.31 2479.57 1336.44 2474.49 1337.57 2471.98 1338.71 2473.77 1339.84 2475.54 1340.98 2473.79 1342.11 2472.28 1343.24 2474.73 1344.38 2474.52 1345.51 2469.7 1346.65 2470.3 1347.78 2471.48 1348.91 2469.58 1350.05 2468.13 1351.18 2466.96 1352.32 2467.38 1353.45 2469.22 1354.58 2467.62 1355.72 2463.95 1356.85 2462.99 1357.99 2463.8 1359.12 2463.68 1360.25 2459.99 1361.39 2459.82 1362.52 2461.78 1363.66 2461.32 1364.79 2460.92 1365.92 2458.8 1367.06 2456.79 1368.19 2455.97 1369.33 2456.48 1370.46 2455.42 1371.59 2454.04 1372.73 2453.78 1373.86 2453.46 1375 2451.56 1376.13 2452.1 1377.26 2453.63 1378.4 2454.07 1379.53 2454.6 1380.67 2452.43 1381.8 2452.73 1382.93 2453.69 1384.07 2451.04 1385.2 2450.88 1386.34 2452.81 1387.47 2454.03 1388.6 2456.19 1389.74 2456.23 1390.87 2454.58 1392.01 2452.85 1393.14 2451.35 1394.27 2453.42 1395.41 2453.49 1396.54 2452.96 1397.68 2451.66 1398.81 2449.39 1399.94 2450.59 1401.08 2451.87 1402.21 2450.22 1403.35 2448.75 1404.48 2449 1405.61 2449.02 1406.75 2449.82 1407.88 2449.53 1409.02 2449.99 1410.15 2449.59 1411.28 2448.73 1412.42 2450.97 1413.55 2450.67 1414.69 2449.23 1415.82 2449.62 1416.95 2449.45 1418.09 2447.64 1419.22 2447.91 1420.36 2449.18 1421.49 2447.13 1422.62 2445.89 1423.76 2447.31 1424.89 2446.65 1426.03 2446.46 1427.16 2445.66 1428.29 2443.95 1429.43 2443.87 1430.56 2444.87 1431.7 2445.79 1432.83 2443.63 1433.96 2444.66 1435.1 2445.57 1436.23 2444.98 1437.37 2445.57 1438.5 2446.61 1439.63 2446.49 1440.77 2445.45 1441.9 2444.9 1443.04 2442.83 1444.17 2443.76 1445.3 2445.83 1446.44 2446.38 1447.57 2445 1448.71 2444.2 1449.84 2444.7 1450.97 2445.15 1452.11 2445.96 1453.24 2444.45 1454.38 2443.83 1455.51 2444.49 1456.64 2443.94 1457.78 2443.7 1458.91 2443.67 1460.05 2444.02 1461.18 2444.72 1462.31 2444.8 1463.45 2444.17 1464.58 2443.59 1465.72 2444.29 1466.85 2444.92 1467.98 2444.13 1469.12 2443.32 1470.25 2444.29 1471.39 2443.34 1472.52 2443.96 1473.65 2444.31 1474.79 2442.58 1475.92 2444.85 1477.06 2445.43 1478.19 2443.68 1479.32 2444.26 1480.46 2444.26 1481.59 2445.26 1482.73 2444.87 1483.86 2444.01 1484.99 2445.82 1486.13 2446.15 1487.26 2445.64 1488.4 2445.2 1489.53 2444.83 1490.66 2444.85 1491.8 2445.02 1492.93 2445.58 1494.07 2444.69 1495.2 2444.3 1496.33 2442.86 1497.47 2441.13 1498.6 2443.22 1499.74 2444.17 1500.87 2442.71 1502 2443.74 1503.14 2443.67 1504.27 2443.2 1505.41 2442.56 1506.54 2442.06 1507.67 2441.07 1508.81 2441.55 1509.94 2442.48 1511.08 2442.8 1512.21 2442.41 1513.34 2441.27 1514.48 2442.64 1515.61 2445.51 1516.75 2444.92 1517.88 2443.64 1519.01 2443.35 1520.15 2443.3 1521.28 2444.93 1522.42 2445.56 1523.55 2444.32 1524.68 2444.67 1525.82 2444.24 1526.95 2443.36 1528.09 2442.71 1529.22 2443.3 1530.35 2444.94 1531.49 2443.9 1532.62 2441.65 1533.76 2442.13 1534.89 2443.49 1536.02 2444.63 1537.16 2444.82 1538.29 2443.15 1539.43 2444.66 1540.56 2444.95 1541.69 2444.78 1542.83 2444 1543.96 2441.74 1545.1 2442.79 1546.23 2442.99 1547.36 2441.29 1548.5 2442.05 1549.63 2442.2 1550.77 2440.76 1551.9 2441.43 1553.03 2441.19 1554.17 2442.51 1555.3 2443.38 1556.44 2443.29 1557.57 2443.29 1558.7 2442.3 1559.84 2443.49 1560.97 2443.73 1562.11 2442.71 1563.24 2443.08 1564.37 2443.62 1565.51 2442.86 1566.64 2442.57 1567.78 2442.45 1568.91 2443.31 1570.04 2445.35 1571.18 2444.05" stroke="#7d54b2" stroke-width="2.7" fill="none" stroke-linejoin="round"/><circle cx="1571.18" cy="2444.05" r="4.2" fill="#7d54b2"/><path d="M1291.08 2584.78 1292.21 2581.2 1293.35 2576.6 1294.48 2573.11 1295.62 2572.41 1296.75 2573.36 1297.88 2568.67 1299.02 2565.37 1300.15 2566.2 1301.29 2565.21 1302.42 2558.37 1303.55 2551.97 1304.69 2547.03 1305.82 2541.83 1306.96 2539.86 1308.09 2536.01 1309.22 2530.57 1310.36 2525.41 1311.49 2519.94 1312.63 2513.65 1313.76 2510.3 1314.89 2510.77 1316.03 2508.94 1317.16 2504.67 1318.3 2499.7 1319.43 2495.91 1320.56 2495.35 1321.7 2494.06 1322.83 2488.49 1323.97 2481.81 1325.1 2475.85 1326.23 2474.88 1327.37 2473.87 1328.5 2473.66 1329.64 2477.12 1330.77 2477.84 1331.9 2474.9 1333.04 2475.23 1334.17 2476.19 1335.31 2473.63 1336.44 2472.19 1337.57 2471.17 1338.71 2473.04 1339.84 2471.48 1340.98 2469.57 1342.11 2470.48 1343.24 2469.74 1344.38 2467.57 1345.51 2466.1 1346.65 2465.83 1347.78 2464.85 1348.91 2464.77 1350.05 2464.93 1351.18 2463.24 1352.32 2461.52 1353.45 2461.86 1354.58 2463.85 1355.72 2466.5 1356.85 2462.76 1357.99 2459.74 1359.12 2463.17 1360.25 2463.67 1361.39 2461.77 1362.52 2462.97 1363.66 2464.06 1364.79 2461.51 1365.92 2462.33 1367.06 2463.72 1368.19 2463.91 1369.33 2465.66 1370.46 2462.03 1371.59 2459.28 1372.73 2462.18 1373.86 2462.96 1375 2462.7 1376.13 2463.18 1377.26 2462.05 1378.4 2460.16 1379.53 2460.96 1380.67 2461.46 1381.8 2462.51 1382.93 2461.8 1384.07 2461.91 1385.2 2461.97 1386.34 2458.09 1387.47 2457.93 1388.6 2456.36 1389.74 2457.02 1390.87 2459.99 1392.01 2458.39 1393.14 2457.09 1394.27 2455.74 1395.41 2456.41 1396.54 2459.09 1397.68 2457.69 1398.81 2455.74 1399.94 2455.76 1401.08 2456.97 1402.21 2457.3 1403.35 2455.63 1404.48 2454.88 1405.61 2452.82 1406.75 2454.05 1407.88 2455.27 1409.02 2453.89 1410.15 2454.3 1411.28 2453.92 1412.42 2452.41 1413.55 2453.53 1414.69 2454.55 1415.82 2453.43 1416.95 2453.51 1418.09 2453.21 1419.22 2450.98 1420.36 2450.36 1421.49 2451.35 1422.62 2450.29 1423.76 2447.53 1424.89 2449.55 1426.03 2449.6 1427.16 2447.44 1428.29 2448.06 1429.43 2449.39 1430.56 2448.91 1431.7 2449.16 1432.83 2449.55 1433.96 2447.7 1435.1 2446.98 1436.23 2447.71 1437.37 2448.28 1438.5 2447.95 1439.63 2447.55 1440.77 2448.02 1441.9 2448.95 1443.04 2448.79 1444.17 2448.69 1445.3 2447.45 1446.44 2443.76 1447.57 2443.32 1448.71 2444.3 1449.84 2445.98 1450.97 2446.88 1452.11 2446.73 1453.24 2445.86 1454.38 2444.69 1455.51 2445.6 1456.64 2444.97 1457.78 2444.04 1458.91 2444.26 1460.05 2443.19 1461.18 2442.7 1462.31 2442.06 1463.45 2442.86 1464.58 2444.08 1465.72 2444.92 1466.85 2445.28 1467.98 2443.59 1469.12 2443.4 1470.25 2443.65 1471.39 2443.64 1472.52 2445.37 1473.65 2444.56 1474.79 2444.18 1475.92 2445.25 1477.06 2444.27 1478.19 2444.55 1479.32 2446.08 1480.46 2444.69 1481.59 2443.46 1482.73 2444.12 1483.86 2445.52 1484.99 2444.29 1486.13 2443.87 1487.26 2445.61 1488.4 2445.95 1489.53 2444.57 1490.66 2446.65 1491.8 2448.1 1492.93 2445.7 1494.07 2444.78 1495.2 2444.99 1496.33 2445.81 1497.47 2445.59 1498.6 2444.74 1499.74 2445.78 1500.87 2447.01 1502 2445.86 1503.14 2445.83 1504.27 2447.26 1505.41 2447.03 1506.54 2446.33 1507.67 2445.89 1508.81 2444.37 1509.94 2445.13 1511.08 2445.73 1512.21 2445.15 1513.34 2444.21 1514.48 2443.96 1515.61 2444.79 1516.75 2445.49 1517.88 2444.62 1519.01 2444.24 1520.15 2444.64 1521.28 2445.92 1522.42 2446.08 1523.55 2445.13 1524.68 2444.91 1525.82 2445.9 1526.95 2447.29 1528.09 2446.42 1529.22 2444.66 1530.35 2445.36 1531.49 2446.34 1532.62 2446.87 1533.76 2446.2 1534.89 2445.48" stroke="#479a5f" stroke-width="2.7" fill="none" stroke-linejoin="round"/><circle cx="1534.89" cy="2445.48" r="4.2" fill="#479a5f"/><path d="M1291.08 2683.47 1292.21 2682.86 1293.35 2681.94 1294.48 2684.21 1295.62 2681.38 1296.75 2668.73 1297.88 2653.94 1299.02 2645.26 1300.15 2640.51 1301.29 2630.62 1302.42 2616.14 1303.55 2606.07 1304.69 2596.42 1305.82 2583.82 1306.96 2576.33 1308.09 2569.58 1309.22 2563.65 1310.36 2557.78 1311.49 2548.99 1312.63 2541.5 1313.76 2538.71 1314.89 2537.62 1316.03 2535.37 1317.16 2531.81 1318.3 2528.03 1319.43 2522.81 1320.56 2522.18 1321.7 2522.06 1322.83 2517.19 1323.97 2514.84 1325.1 2513.88 1326.23 2511.2 1327.37 2510.56 1328.5 2515.14 1329.64 2515.1 1330.77 2513.14 1331.9 2510.13 1333.04 2508.42 1334.17 2510.83 1335.31 2511.21 1336.44 2509.66 1337.57 2508.2 1338.71 2506.53 1339.84 2503.24 1340.98 2503.54 1342.11 2504.14 1343.24 2500.85 1344.38 2500.31 1345.51 2498.99 1346.65 2493.99 1347.78 2493.76 1348.91 2493.36 1350.05 2492.76 1351.18 2493.34 1352.32 2491.84 1353.45 2490.9 1354.58 2489.6 1355.72 2489.21 1356.85 2488.95 1357.99 2487.79 1359.12 2486.12 1360.25 2483.89 1361.39 2489.26 1362.52 2497.07 1363.66 2503.93 1364.79 2510.35 1365.92 2513.61 1367.06 2513.6 1368.19 2511.76 1369.33 2507.74 1370.46 2504.24 1371.59 2500.76 1372.73 2495.07 1373.86 2492.71 1375 2490.92 1376.13 2493.22 1377.26 2494.91 1378.4 2494.49 1379.53 2496.85 1380.67 2496.58 1381.8 2496.43 1382.93 2498.13 1384.07 2498.02 1385.2 2494.58 1386.34 2494.93 1387.47 2497.33 1388.6 2493.92 1389.74 2489.13 1390.87 2487.44 1392.01 2483.61 1393.14 2479.74 1394.27 2477.24 1395.41 2475.3 1396.54 2474.63 1397.68 2473.82 1398.81 2471.13 1399.94 2471.88 1401.08 2473.74 1402.21 2473.4 1403.35 2472.8 1404.48 2472.4 1405.61 2471.81 1406.75 2470.46 1407.88 2471.16 1409.02 2471.69 1410.15 2469.66 1411.28 2468.79 1412.42 2470.48 1413.55 2469.59 1414.69 2469.24 1415.82 2469.12 1416.95 2469.03 1418.09 2468.83 1419.22 2466.91 1420.36 2467.26 1421.49 2466.42 1422.62 2466.27 1423.76 2464.8 1424.89 2462.94 1426.03 2461.61 1427.16 2462.51 1428.29 2462.77 1429.43 2461.13 1430.56 2462.52 1431.7 2462.88 1432.83 2461.09 1433.96 2463.38 1435.1 2465.49 1436.23 2462.47 1437.37 2461.29 1438.5 2463.33 1439.63 2463.94 1440.77 2462.78 1441.9 2461.45 1443.04 2461.04 1444.17 2459.88 1445.3 2459.14 1446.44 2458.36 1447.57 2458.59 1448.71 2457.98 1449.84 2456.33 1450.97 2456.09 1452.11 2456.65 1453.24 2455.67 1454.38 2453.39 1455.51 2453.82 1456.64 2455.25 1457.78 2454.53 1458.91 2454.23 1460.05 2454.11 1461.18 2453.45 1462.31 2453.37 1463.45 2452.66 1464.58 2453.2 1465.72 2454.22 1466.85 2455.38 1467.98 2455.44 1469.12 2454.44 1470.25 2453.75 1471.39 2451.92 1472.52 2453.41 1473.65 2456.74 1474.79 2455.68 1475.92 2456.69 1477.06 2457.15 1478.19 2455.68 1479.32 2454.76 1480.46 2454.44 1481.59 2455.36 1482.73 2456.29 1483.86 2456.27 1484.99 2454.67 1486.13 2454.28 1487.26 2454.74 1488.4 2452.88 1489.53 2453.38 1490.66 2455.61 1491.8 2455.55 1492.93 2454.73 1494.07 2454.5 1495.2 2454.06 1496.33 2453.98 1497.47 2452.27 1498.6 2452.63 1499.74 2454.02 1500.87 2452.99 1502 2451.41 1503.14 2451.91 1504.27 2453.96 1505.41 2453.37 1506.54 2453.49 1507.67 2455.4 1508.81 2456.25" stroke="#da4c4c" stroke-width="2.7" fill="none" stroke-linejoin="round"/><circle cx="1508.81" cy="2456.25" r="4.2" fill="#da4c4c"/></svg><div style="position:absolute;top:2678.39px;font:400 15.4px/15.4px 'Liberation Sans',sans-serif;color:#666;white-space:nowrap;right:1155px;transform-origin:100% 50%;transform:scaleX(0.9900);">0.7</div><div style="position:absolute;top:2634.71px;font:400 15.4px/15.4px 'Liberation Sans',sans-serif;color:#666;white-space:nowrap;right:1155px;transform-origin:100% 50%;transform:scaleX(0.9900);">0.75</div><div style="position:absolute;top:2591.03px;font:400 15.4px/15.4px 'Liberation Sans',sans-serif;color:#666;white-space:nowrap;right:1155px;transform-origin:100% 50%;transform:scaleX(0.9900);">0.8</div><div style="position:absolute;top:2547.35px;font:400 15.4px/15.4px 'Liberation Sans',sans-serif;color:#666;white-space:nowrap;right:1155px;transform-origin:100% 50%;transform:scaleX(0.9900);">0.85</div><div style="position:absolute;top:2503.67px;font:400 15.4px/15.4px 'Liberation Sans',sans-serif;color:#666;white-space:nowrap;right:1155px;transform-origin:100% 50%;transform:scaleX(0.9900);">0.9</div><div style="position:absolute;top:2459.99px;font:400 15.4px/15.4px 'Liberation Sans',sans-serif;color:#666;white-space:nowrap;right:1155px;transform-origin:100% 50%;transform:scaleX(0.9900);">0.95</div><div style="position:absolute;top:2707.69px;font:400 15.4px/15.4px 'Liberation Sans',sans-serif;color:#666;white-space:nowrap;left:1350.3px;transform:translateX(-50%) scaleX(0.9750);">5</div><div style="position:absolute;top:2707.69px;font:400 15.4px/15.4px 'Liberation Sans',sans-serif;color:#666;white-space:nowrap;left:1413.3px;transform:translateX(-50%) scaleX(0.9750);">10</div><div style="position:absolute;top:2707.69px;font:400 15.4px/15.4px 'Liberation Sans',sans-serif;color:#666;white-space:nowrap;left:1476.3px;transform:translateX(-50%) scaleX(0.9750);">15</div><div style="position:absolute;top:2707.69px;font:400 15.4px/15.4px 'Liberation Sans',sans-serif;color:#666;white-space:nowrap;left:1539.3px;transform:translateX(-50%) scaleX(0.9750);">20</div><div style="position:absolute;top:2707.69px;font:400 15.4px/15.4px 'Liberation Sans',sans-serif;color:#666;white-space:nowrap;left:1602.3px;transform:translateX(-50%) scaleX(0.9750);">25</div><div style="position:absolute;top:2707.69px;font:400 15.4px/15.4px 'Liberation Sans',sans-serif;color:#666;white-space:nowrap;left:1665.3px;transform:translateX(-50%) scaleX(0.9750);">30</div><div style="position:absolute;top:2662.24px;font:400 15.7px/15.7px 'Liberation Sans',sans-serif;color:#666;white-space:nowrap;right:762.1px;transform-origin:100% 50%;transform:scaleX(1.0759);">Time (minutes)</div><div style="position:absolute;top:2318.64px;font:700 20.5px/20.5px 'Liberation Sans',sans-serif;color:#2b2b2b;white-space:nowrap;left:2002.5px;transform:translateX(-50%) scaleX(1.0096);">metrics/mAP_0.5:0.95</div><div style="position:absolute;left:1889px;top:2358.4px;width:15.8px;height:2.4px;background:#e87b9f"></div><div style="position:absolute;top:2356.74px;font:400 15.5px/15.5px 'Liberation Mono',monospace;color:#e87b9f;white-space:nowrap;left:1924.7px;transform-origin:0 50%;transform:scaleX(1.0407);opacity:.95;">exp3_COCO128_YOLOv5x</div><div style="position:absolute;left:1889px;top:2378.4px;width:15.8px;height:2.4px;background:#7d54b2"></div><div style="position:absolute;top:2376.74px;font:400 15.5px/15.5px 'Liberation Mono',monospace;color:#7d54b2;white-space:nowrap;left:1924.7px;transform-origin:0 50%;transform:scaleX(1.0407);opacity:.95;">exp2_COCO128_YOLOv5l</div><div style="position:absolute;left:1889px;top:2398.4px;width:15.8px;height:2.4px;background:#479a5f"></div><div style="position:absolute;top:2396.74px;font:400 15.5px/15.5px 'Liberation Mono',monospace;color:#479a5f;white-space:nowrap;left:1924.7px;transform-origin:0 50%;transform:scaleX(1.0407);opacity:.95;">exp1_COCO128_YOLOv5m</div><div style="position:absolute;left:1889px;top:2418.4px;width:15.8px;height:2.4px;background:#da4c4c"></div><div style="position:absolute;top:2416.74px;font:400 15.5px/15.5px 'Liberation Mono',monospace;color:#da4c4c;white-space:nowrap;left:1924.7px;transform-origin:0 50%;transform:scaleX(1.0407);opacity:.95;">exp0_COCO128_YOLOv5s</div><svg style="position:absolute;left:1747.5px;top:2273px" width="510" height="437" viewBox="1747.5 2273 510 437"><path d="M1819.9 2631H2210.5" stroke="#ededf0" stroke-width="1.3"/><path d="M1819.9 2575.8H2210.5" stroke="#ededf0" stroke-width="1.3"/><path d="M1819.9 2520.6H2210.5" stroke="#ededf0" stroke-width="1.3"/><path d="M1819.9 2465.4H2210.5" stroke="#ededf0" stroke-width="1.3"/><path d="M1819.9 2686.2H2210.5" stroke="#e5e5ea" stroke-width="3.2"/><path d="M1879.7 2676.6V2695.9" stroke="#e6e6eb" stroke-width="1.8"/><path d="M1944.4 2676.6V2695.9" stroke="#e6e6eb" stroke-width="1.8"/><path d="M2009.1 2676.6V2695.9" stroke="#e6e6eb" stroke-width="1.8"/><path d="M2073.8 2676.6V2695.9" stroke="#e6e6eb" stroke-width="1.8"/><path d="M2138.5 2676.6V2695.9" stroke="#e6e6eb" stroke-width="1.8"/><path d="M2203.2 2676.6V2695.9" stroke="#e6e6eb" stroke-width="1.8"/><path d="M1818.88 2513.36 1820.05 2512.19 1821.21 2512.1 1822.38 2513.88 1823.54 2512.39 1824.7 2511.18 1825.87 2509.76 1827.03 2505.65 1828.2 2504.89 1829.36 2503.73 1830.53 2503.38 1831.69 2503.61 1832.86 2503.3 1834.02 2499.92 1835.19 2499.18 1836.35 2499.99 1837.52 2499.01 1838.68 2498.14 1839.84 2496.29 1841.01 2494.11 1842.17 2493.32 1843.34 2493.33 1844.5 2492.99 1845.67 2491.83 1846.83 2492.07 1848 2491.25 1849.16 2487.77 1850.33 2487.88 1851.49 2488.57 1852.66 2484.37 1853.82 2484.61 1854.98 2488.79 1856.15 2487.7 1857.31 2483.57 1858.48 2480.9 1859.64 2483.62 1860.81 2484.73 1861.97 2483.01 1863.14 2483.8 1864.3 2485.06 1865.47 2483.12 1866.63 2481.85 1867.8 2482.08 1868.96 2480.76 1870.12 2478.96 1871.29 2477.52 1872.45 2480.2 1873.62 2481.06 1874.78 2478.84 1875.95 2479.64 1877.11 2480.46 1878.28 2479.01 1879.44 2479.85 1880.61 2480.61 1881.77 2480.32 1882.93 2478.48 1884.1 2476.99 1885.26 2476.06 1886.43 2474.84 1887.59 2475.02 1888.76 2474.49 1889.92 2473.64 1891.09 2473.52 1892.25 2474.71 1893.42 2473.61 1894.58 2472 1895.75 2471.23 1896.91 2472.45 1898.07 2474.88 1899.24 2476.45 1900.4 2479.74 1901.57 2479.69 1902.73 2476.18 1903.9 2475.81 1905.06 2478.67 1906.23 2477.03 1907.39 2474.87 1908.56 2475.66 1909.72 2474.73 1910.89 2474.28 1912.05 2473.28 1913.21 2474.2 1914.38 2474.64 1915.54 2473.41 1916.71 2472.07 1917.87 2472.3 1919.04 2471.5 1920.2 2470.13 1921.37 2469.75 1922.53 2470.58 1923.7 2470.97 1924.86 2469.84 1926.03 2471.39 1927.19 2471.67 1928.35 2470.54 1929.52 2470.88 1930.68 2470.69 1931.85 2471.11 1933.01 2470.88 1934.18 2469.7 1935.34 2470.05 1936.51 2471.93 1937.67 2470.51 1938.84 2470.06 1940 2471.31 1941.16 2471.59 1942.33 2472.25 1943.49 2471.88 1944.66 2472.12 1945.82 2472.55 1946.99 2473.23 1948.15 2474.52 1949.32 2473.19 1950.48 2469.95 1951.65 2469.51 1952.81 2469.4 1953.98 2469.12 1955.14 2470.18 1956.3 2470.98 1957.47 2471.35 1958.63 2469.75 1959.8 2469.38 1960.96 2471.88 1962.13 2473.41 1963.29 2472.05 1964.46 2472.31 1965.62 2472.97 1966.79 2473.7 1967.95 2474.14 1969.12 2472.5 1970.28 2472.61 1971.44 2473.82 1972.61 2474.88 1973.77 2475.72 1974.94 2476.11 1976.1 2475.54 1977.27 2474.89 1978.43 2475.84 1979.6 2478.07 1980.76 2479.17 1981.93 2478.12 1983.09 2477.73 1984.26 2478.31 1985.42 2477.43 1986.58 2473.69 1987.75 2474.63 1988.91 2475.86 1990.08 2473.14 1991.24 2472.89 1992.41 2473.87 1993.57 2472.81 1994.74 2471.43 1995.9 2471.13 1997.07 2470.45 1998.23 2471.32 1999.39 2471.48 2000.56 2469.59 2001.72 2470.08 2002.89 2469.84 2004.05 2469.64 2005.22 2468.83 2006.38 2469.11 2007.55 2470.18 2008.71 2470.62 2009.88 2471.23 2011.04 2470.27 2012.21 2470.59 2013.37 2470.88 2014.53 2470.57 2015.7 2470.26 2016.86 2469.16 2018.03 2468.01 2019.19 2469.49 2020.36 2470.23 2021.52 2468.17 2022.69 2466.57 2023.85 2466.1 2025.02 2467.9 2026.18 2469.01 2027.35 2467.24 2028.51 2465.77 2029.67 2465.69 2030.84 2465.9 2032 2465.46 2033.17 2466.1 2034.33 2465.79 2035.5 2464.47 2036.66 2464.69 2037.83 2464.25 2038.99 2466.01 2040.16 2467 2041.32 2463.63 2042.49 2462.69 2043.65 2462.59 2044.81 2462.81 2045.98 2464.59 2047.14 2465.05 2048.31 2462.96 2049.47 2463.34 2050.64 2464.37 2051.8 2463.81 2052.97 2463.03 2054.13 2461.54 2055.3 2460.45 2056.46 2460.18 2057.62 2458.7 2058.79 2456.98 2059.95 2457.76 2061.12 2458.34 2062.28 2458.73 2063.45 2457.71 2064.61 2455.2 2065.78 2455.26 2066.94 2457.01 2068.11 2456.62 2069.27 2456.09 2070.44 2456.49 2071.6 2457.45 2072.76 2456.83 2073.93 2454.4 2075.09 2453.17 2076.26 2453.31 2077.42 2453.85 2078.59 2454.07 2079.75 2453.38 2080.92 2453.61 2082.08 2453.75 2083.25 2453.81 2084.41 2452.95 2085.58 2453.2 2086.74 2453.13 2087.9 2451.92 2089.07 2451.69 2090.23 2451.73 2091.4 2452.37 2092.56 2453.15 2093.73 2452.87 2094.89 2452.75 2096.06 2453.18 2097.22 2453.1 2098.39 2452.43 2099.55 2452.72 2100.72 2451.98 2101.88 2451.72 2103.04 2451.57 2104.21 2450.01 2105.37 2448.88 2106.54 2449.61 2107.7 2449.81 2108.87 2449.52 2110.03 2448.5 2111.2 2447.44 2112.36 2448.17 2113.53 2449.22 2114.69 2450.05 2115.86 2449.48 2117.02 2449.09 2118.18 2449.59 2119.35 2448.93 2120.51 2449.43 2121.68 2451.02 2122.84 2450.88 2124.01 2450.21 2125.17 2449.41 2126.34 2449.13 2127.5 2449.12 2128.67 2449.74 2129.83 2448.59 2130.99 2446.67 2132.16 2447.89 2133.32 2447.62 2134.49 2446.13 2135.65 2445.7 2136.82 2446.33 2137.98 2446.37 2139.15 2445.48 2140.31 2446.62 2141.48 2448.18 2142.64 2447.75 2143.81 2446.09 2144.97 2444.55 2146.13 2444.81 2147.3 2444.65 2148.46 2443.82 2149.63 2444.78 2150.79 2445.79 2151.96 2446.05 2153.12 2445.35 2154.29 2443.89 2155.45 2443.22 2156.62 2444.93 2157.78 2446.09 2158.95 2444.74 2160.11 2443.66 2161.27 2444.64 2162.44 2444.02 2163.6 2442.37 2164.77 2442.14 2165.93 2442.92 2167.1 2442.44 2168.26 2442.45 2169.43 2443.64 2170.59 2444.11 2171.76 2442.46 2172.92 2440.46 2174.09 2441.66 2175.25 2442.49 2176.41 2442.17 2177.58 2441.87 2178.74 2441.65 2179.91 2441.59 2181.07 2442.08 2182.24 2442.74 2183.4 2443.21 2184.57 2444.18 2185.73 2443.6 2186.9 2442.46 2188.06 2442.4 2189.22 2441.78 2190.39 2442.37 2191.55 2442.48 2192.72 2441.46 2193.88 2441.07 2195.05 2442.1 2196.21 2442.63 2197.38 2441.54 2198.54 2440.94 2199.71 2440.95 2200.87 2441.12 2202.04 2440.82 2203.2 2440.58 2204.36 2439.49 2205.53 2439.65 2206.69 2441.55 2207.86 2440.18 2209.02 2439.55" stroke="#e87b9f" stroke-width="1.6" fill="none" opacity=".16" stroke-linejoin="round"/><path d="M1818.88 2516.83 1820.05 2517.06 1821.21 2517.94 1822.38 2516.74 1823.54 2515.27 1824.7 2511.57 1825.87 2508.37 1827.03 2508.92 1828.2 2509.72 1829.36 2507.82 1830.53 2505.76 1831.69 2505.14 1832.86 2504.46 1834.02 2503.53 1835.19 2502.72 1836.35 2502.4 1837.52 2499.8 1838.68 2499.98 1839.84 2498.64 1841.01 2496.67 1842.17 2496.24 1843.34 2494.28 1844.5 2491.68 1845.67 2492.19 1846.83 2491.27 1848 2488.95 1849.16 2488.47 1850.33 2486.92 1851.49 2488.17 1852.66 2487.39 1853.82 2484.39 1854.98 2485.6 1856.15 2485.39 1857.31 2483.49 1858.48 2481.66 1859.64 2481.58 1860.81 2483.59 1861.97 2485.37 1863.14 2483.77 1864.3 2481.45 1865.47 2481.78 1866.63 2481.16 1867.8 2479.73 1868.96 2480.52 1870.12 2482.15 1871.29 2481.43 1872.45 2479.93 1873.62 2479.88 1874.78 2480.23 1875.95 2482.9 1877.11 2482.96 1878.28 2481.01 1879.44 2481.37 1880.61 2482.78 1881.77 2481.61 1882.93 2479.6 1884.1 2480.95 1885.26 2482.1 1886.43 2481.83 1887.59 2480.35 1888.76 2478.44 1889.92 2476.65 1891.09 2477.12 1892.25 2477.24 1893.42 2476.12 1894.58 2476.61 1895.75 2476.84 1896.91 2476.59 1898.07 2475.55 1899.24 2475.51 1900.4 2475.19 1901.57 2475.02 1902.73 2474.98 1903.9 2475.81 1905.06 2477.66 1906.23 2477.4 1907.39 2477.16 1908.56 2479.23 1909.72 2478.56 1910.89 2478.34 1912.05 2479.48 1913.21 2481.6 1914.38 2483.24 1915.54 2480.55 1916.71 2480.09 1917.87 2482.08 1919.04 2483.44 1920.2 2483.7 1921.37 2482.44 1922.53 2482.37 1923.7 2482.52 1924.86 2483.74 1926.03 2484.26 1927.19 2482.72 1928.35 2481.14 1929.52 2479.84 1930.68 2480.02 1931.85 2481.34 1933.01 2482.84 1934.18 2482.77 1935.34 2484.03 1936.51 2484.98 1937.67 2485.1 1938.84 2484.57 1940 2481.98 1941.16 2481 1942.33 2480.63 1943.49 2477.75 1944.66 2477.04 1945.82 2477.73 1946.99 2478.65 1948.15 2476.82 1949.32 2476.45 1950.48 2478.9 1951.65 2476.48 1952.81 2475.36 1953.98 2476.79 1955.14 2475.62 1956.3 2474.92 1957.47 2475.56 1958.63 2474.18 1959.8 2471.46 1960.96 2470.72 1962.13 2470.86 1963.29 2471.61 1964.46 2471.62 1965.62 2470.11 1966.79 2468.88 1967.95 2469.85 1969.12 2469.89 1970.28 2470.29 1971.44 2470.05 1972.61 2469.74 1973.77 2469.91 1974.94 2469.28 1976.1 2471.18 1977.27 2470.37 1978.43 2468.09 1979.6 2469.35 1980.76 2469.74 1981.93 2469.11 1983.09 2468.51 1984.26 2467.59 1985.42 2466.75 1986.58 2465.95 1987.75 2465.27 1988.91 2466.26 1990.08 2466.63 1991.24 2464.8 1992.41 2462.81 1993.57 2462.88 1994.74 2463.63 1995.9 2463.58 1997.07 2462.81 1998.23 2461.34 1999.39 2460.9 2000.56 2462.19 2001.72 2461.77 2002.89 2460.28 2004.05 2458.12 2005.22 2458.3 2006.38 2458.26 2007.55 2458.04 2008.71 2458.9 2009.88 2458.99 2011.04 2457.64 2012.21 2457.1 2013.37 2456.69 2014.53 2456.37 2015.7 2455.62 2016.86 2455.07 2018.03 2456.01 2019.19 2457.07 2020.36 2455.97 2021.52 2454.65 2022.69 2455.23 2023.85 2455.33 2025.02 2455.66 2026.18 2455.87 2027.35 2455.14 2028.51 2455.34 2029.67 2455.55 2030.84 2453.24 2032 2453.37 2033.17 2455.09 2034.33 2454.18 2035.5 2454.35 2036.66 2453.7 2037.83 2452.51 2038.99 2453.94 2040.16 2453.55 2041.32 2452.73 2042.49 2451.54 2043.65 2451.19 2044.81 2450.89 2045.98 2451.62 2047.14 2451.97 2048.31 2449.96 2049.47 2449.09 2050.64 2449.39 2051.8 2449.22 2052.97 2448.74 2054.13 2449 2055.3 2449.28 2056.46 2448.61 2057.62 2448.55 2058.79 2450.79 2059.95 2451.84 2061.12 2450.33 2062.28 2448.57 2063.45 2447.86 2064.61 2447.63 2065.78 2446.79 2066.94 2446.57 2068.11 2447.81 2069.27 2447.6 2070.44 2447.87 2071.6 2449.17 2072.76 2448.52 2073.93 2449.11 2075.09 2447.83 2076.26 2444.61 2077.42 2445.75 2078.59 2447.47 2079.75 2448.54 2080.92 2447.81 2082.08 2446.76 2083.25 2447.67 2084.41 2448.1 2085.58 2446.98 2086.74 2446.07 2087.9 2446.04 2089.07 2446.12 2090.23 2447.11 2091.4 2445.53 2092.56 2443.74 2093.73 2445.14 2094.89 2446.35 2096.06 2446.78 2097.22 2445.35 2098.39 2444.46 2099.55 2444.91 2100.72 2444.42 2101.88 2445.05 2103.04 2444.89 2104.21 2444.36 2105.37 2445.85 2106.54 2445.41" stroke="#7d54b2" stroke-width="1.6" fill="none" opacity=".16" stroke-linejoin="round"/><path d="M1818.88 2526.69 1820.05 2523.69 1821.21 2521.15 1822.38 2517.13 1823.54 2516.47 1824.7 2519.12 1825.87 2520.38 1827.03 2519.04 1828.2 2515.25 1829.36 2513.19 1830.53 2511.08 1831.69 2511 1832.86 2511.66 1834.02 2508.71 1835.19 2506.06 1836.35 2507.02 1837.52 2504.17 1838.68 2503.08 1839.84 2502.67 1841.01 2501.29 1842.17 2499.85 1843.34 2498.92 1844.5 2494.72 1845.67 2491.19 1846.83 2493.29 1848 2493.57 1849.16 2492.79 1850.33 2491.44 1851.49 2491.36 1852.66 2492.83 1853.82 2491.95 1854.98 2491.83 1856.15 2491.71 1857.31 2489.04 1858.48 2489.26 1859.64 2488.56 1860.81 2487.64 1861.97 2485.29 1863.14 2484.64 1864.3 2486.11 1865.47 2485.15 1866.63 2485.31 1867.8 2486.38 1868.96 2487.53 1870.12 2488.68 1871.29 2488.82 1872.45 2488.83 1873.62 2488.35 1874.78 2489.07 1875.95 2488.41 1877.11 2487.92 1878.28 2490.01 1879.44 2490.07 1880.61 2489.31 1881.77 2488.86 1882.93 2487.96 1884.1 2487.16 1885.26 2485.96 1886.43 2485.25 1887.59 2486.62 1888.76 2486.44 1889.92 2485.96 1891.09 2485.72 1892.25 2484.45 1893.42 2484.96 1894.58 2485.09 1895.75 2483.13 1896.91 2483.01 1898.07 2484.58 1899.24 2484.84 1900.4 2486.37 1901.57 2486.81 1902.73 2487.25 1903.9 2489.22 1905.06 2489.34 1906.23 2489.24 1907.39 2490.33 1908.56 2492.29 1909.72 2492.29 1910.89 2490.68 1912.05 2489.82 1913.21 2491.15 1914.38 2491.05 1915.54 2489.48 1916.71 2491.2 1917.87 2494.12 1919.04 2493.84 1920.2 2492.36 1921.37 2491.18 1922.53 2490.67 1923.7 2491.65 1924.86 2492.58 1926.03 2491.49 1927.19 2491.87 1928.35 2492.49 1929.52 2489.71 1930.68 2488.52 1931.85 2488.66 1933.01 2488.19 1934.18 2488.75 1935.34 2488.42 1936.51 2486.34 1937.67 2484.94 1938.84 2485.55 1940 2485.2 1941.16 2482.89 1942.33 2481.99 1943.49 2480.82 1944.66 2480.38 1945.82 2482.13 1946.99 2481.54 1948.15 2479.45 1949.32 2478.48 1950.48 2477.66 1951.65 2476.67 1952.81 2476.19 1953.98 2476.73 1955.14 2477.18 1956.3 2477.36 1957.47 2475.43 1958.63 2473.55 1959.8 2474.03 1960.96 2475.26 1962.13 2475.35 1963.29 2475.27 1964.46 2475.04 1965.62 2475.54 1966.79 2474.64 1967.95 2474.92 1969.12 2475.75 1970.28 2474.74 1971.44 2474.22 1972.61 2474.4 1973.77 2475.34 1974.94 2474.99 1976.1 2474.7 1977.27 2474.6 1978.43 2474.32 1979.6 2471.7 1980.76 2472.45 1981.93 2474.97 1983.09 2472.1 1984.26 2471.09 1985.42 2472.75 1986.58 2471.95 1987.75 2468.95 1988.91 2468.98 1990.08 2469.43 1991.24 2470.17 1992.41 2470.89 1993.57 2469.2 1994.74 2468.35 1995.9 2468.56 1997.07 2468.56 1998.23 2467.89 1999.39 2467.57 2000.56 2467.16 2001.72 2466.46 2002.89 2464.89 2004.05 2465 2005.22 2464.11 2006.38 2461.22 2007.55 2460.74 2008.71 2461.81 2009.88 2462.18 2011.04 2461.86 2012.21 2461.68 2013.37 2461 2014.53 2460.03 2015.7 2459.5 2016.86 2459.03 2018.03 2458.7 2019.19 2457.46 2020.36 2457.01 2021.52 2455.77 2022.69 2455.48 2023.85 2457.57 2025.02 2457.82 2026.18 2456.73 2027.35 2456.9 2028.51 2456.74 2029.67 2456.34 2030.84 2455.95 2032 2456.41 2033.17 2458 2034.33 2458.31 2035.5 2458.75 2036.66 2459.93 2037.83 2458.96 2038.99 2457.1 2040.16 2456.34 2041.32 2454.54 2042.49 2454.38 2043.65 2455.58 2044.81 2452.99 2045.98 2452.92 2047.14 2453.62 2048.31 2452.22 2049.47 2454.34 2050.64 2453.57 2051.8 2451.94 2052.97 2452.45 2054.13 2451.93 2055.3 2451.78 2056.46 2451.21 2057.62 2449.62 2058.79 2449.94 2059.95 2451.48 2061.12 2450.88 2062.28 2450.26 2063.45 2452.37 2064.61 2452.18 2065.78 2450.56 2066.94 2450.74 2068.11 2451.37 2069.27 2449.8" stroke="#479a5f" stroke-width="1.6" fill="none" opacity=".16" stroke-linejoin="round"/><path d="M1818.88 2563.56 1820.05 2559.81 1821.21 2556.51 1822.38 2555.87 1823.54 2552.54 1824.7 2550.7 1825.87 2549.6 1827.03 2546.46 1828.2 2544.41 1829.36 2542.09 1830.53 2539.07 1831.69 2537.45 1832.86 2536.35 1834.02 2533.9 1835.19 2532.29 1836.35 2532.04 1837.52 2530.39 1838.68 2530.38 1839.84 2529.77 1841.01 2527.46 1842.17 2526.42 1843.34 2524.72 1844.5 2523.95 1845.67 2524 1846.83 2522.06 1848 2521.63 1849.16 2523.22 1850.33 2521.98 1851.49 2519.06 1852.66 2516.05 1853.82 2513.66 1854.98 2514.09 1856.15 2513.93 1857.31 2511.5 1858.48 2512.15 1859.64 2511.54 1860.81 2510.4 1861.97 2512.7 1863.14 2513.56 1864.3 2513.63 1865.47 2516.84 1866.63 2517.95 1867.8 2515.8 1868.96 2516.02 1870.12 2515.6 1871.29 2515.17 1872.45 2515.87 1873.62 2515.1 1874.78 2515.96 1875.95 2514.91 1877.11 2512.35 1878.28 2511.76 1879.44 2511.73 1880.61 2511.91 1881.77 2512.27 1882.93 2512.83 1884.1 2513.56 1885.26 2512.39 1886.43 2509.86 1887.59 2508.8 1888.76 2508.25 1889.92 2510.21 1891.09 2515.01 1892.25 2519.26 1893.42 2522.22 1894.58 2525.41 1895.75 2524.56 1896.91 2520.4 1898.07 2519.27 1899.24 2517.24 1900.4 2516.01 1901.57 2517.96 1902.73 2519.13 1903.9 2520.13 1905.06 2520.95 1906.23 2519.47 1907.39 2520.45 1908.56 2518.94 1909.72 2518.07 1910.89 2518.58 1912.05 2517.19 1913.21 2515.28 1914.38 2514.74 1915.54 2515.46 1916.71 2511.23 1917.87 2508.67 1919.04 2509.65 1920.2 2510.97 1921.37 2510.56 1922.53 2510.46 1923.7 2510.76 1924.86 2508.46 1926.03 2506.31 1927.19 2506.31 1928.35 2505.77 1929.52 2504.17 1930.68 2504.84 1931.85 2504.7 1933.01 2503.04 1934.18 2501.53 1935.34 2501.62 1936.51 2501.89 1937.67 2500.52 1938.84 2498.35 1940 2499.59 1941.16 2499.16 1942.33 2496.93 1943.49 2497.36 1944.66 2497.82 1945.82 2499.13 1946.99 2497.75 1948.15 2496.31 1949.32 2497.72 1950.48 2497.92 1951.65 2496.09 1952.81 2495.25 1953.98 2494.01 1955.14 2493.38 1956.3 2493.66 1957.47 2494.43 1958.63 2495.06 1959.8 2493.77 1960.96 2490.77 1962.13 2490.37 1963.29 2490.47 1964.46 2490.97 1965.62 2490.47 1966.79 2489.23 1967.95 2489.61 1969.12 2488.46 1970.28 2487.58 1971.44 2487.36 1972.61 2487.09 1973.77 2486.44 1974.94 2486.72 1976.1 2486.68 1977.27 2485.66 1978.43 2483.27 1979.6 2483.69 1980.76 2484.26 1981.93 2482.05 1983.09 2480.79 1984.26 2481.76 1985.42 2482.78 1986.58 2482.14 1987.75 2480.74 1988.91 2479.76 1990.08 2479.8 1991.24 2479.96 1992.41 2479.85 1993.57 2480.5 1994.74 2479.29 1995.9 2477.22 1997.07 2477.95 1998.23 2479.39 1999.39 2478.38 2000.56 2478.55 2001.72 2479.56 2002.89 2477.95 2004.05 2475.35 2005.22 2475.33 2006.38 2476.37 2007.55 2474.59 2008.71 2475.37 2009.88 2477.22 2011.04 2474.43 2012.21 2472.44 2013.37 2474.06 2014.53 2474.04 2015.7 2472.83 2016.86 2472.96 2018.03 2471.62 2019.19 2472 2020.36 2472.55 2021.52 2470.88 2022.69 2471.82 2023.85 2471.89 2025.02 2472.41 2026.18 2472.74 2027.35 2472.61 2028.51 2473.31 2029.67 2472.62 2030.84 2472.31 2032 2473.42 2033.17 2470.97 2034.33 2470.53 2035.5 2470.63 2036.66 2469.14 2037.83 2470.11 2038.99 2469.89 2040.16 2470.41 2041.32 2472.11 2042.49 2471.9" stroke="#da4c4c" stroke-width="1.6" fill="none" opacity=".16" stroke-linejoin="round"/><path d="M1818.88 2513.6 1820.05 2512.51 1821.21 2512.19 1822.38 2512.97 1823.54 2511.67 1824.7 2510.53 1825.87 2509.3 1827.03 2506.22 1828.2 2505.43 1829.36 2504.37 1830.53 2503.83 1831.69 2503.53 1832.86 2503.01 1834.02 2500.38 1835.19 2499.55 1836.35 2499.72 1837.52 2498.68 1838.68 2497.71 1839.84 2495.99 1841.01 2494.08 1842.17 2493.29 1843.34 2493.09 1844.5 2492.63 1845.67 2491.63 1846.83 2491.63 1848 2490.79 1849.16 2488.27 1850.33 2488.09 1851.49 2488.29 1852.66 2485.38 1853.82 2485.29 1854.98 2487.9 1856.15 2487 1857.31 2484.05 1858.48 2482.26 1859.64 2483.92 1860.81 2484.52 1861.97 2483.22 1863.14 2483.6 1864.3 2484.17 1865.47 2482.79 1866.63 2481.91 1867.8 2481.89 1868.96 2480.88 1870.12 2479.62 1871.29 2478.55 1872.45 2480.21 1873.62 2480.58 1874.78 2479.12 1875.95 2479.57 1877.11 2479.9 1878.28 2479 1879.44 2479.43 1880.61 2479.7 1881.77 2479.38 1882.93 2478.04 1884.1 2476.92 1885.26 2476.21 1886.43 2475.19 1887.59 2475.26 1888.76 2474.65 1889.92 2473.84 1891.09 2473.72 1892.25 2474.35 1893.42 2473.68 1894.58 2472.69 1895.75 2472.27 1896.91 2473.14 1898.07 2474.65 1899.24 2475.83 1900.4 2478.11 1901.57 2478.11 1902.73 2475.97 1903.9 2475.73 1905.06 2477.63 1906.23 2476.44 1907.39 2474.89 1908.56 2475.39 1909.72 2474.48 1910.89 2474.1 1912.05 2473.38 1913.21 2473.8 1914.38 2474.02 1915.54 2473.18 1916.71 2472.26 1917.87 2472.32 1919.04 2471.67 1920.2 2470.81 1921.37 2470.42 1922.53 2470.85 1923.7 2470.99 1924.86 2470.18 1926.03 2471.03 1927.19 2471.13 1928.35 2470.31 1929.52 2470.45 1930.68 2470.15 1931.85 2470.43 1933.01 2470.28 1934.18 2469.62 1935.34 2469.87 1936.51 2471.21 1937.67 2470.31 1938.84 2470.22 1940 2471.19 1941.16 2471.52 1942.33 2472.01 1943.49 2471.88 1944.66 2472.14 1945.82 2472.4 1946.99 2472.83 1948.15 2473.65 1949.32 2472.6 1950.48 2470.34 1951.65 2470.07 1952.81 2469.98 1953.98 2469.77 1955.14 2470.41 1956.3 2470.93 1957.47 2471.17 1958.63 2470.23 1959.8 2470.21 1960.96 2472.05 1962.13 2473.12 1963.29 2472.29 1964.46 2472.52 1965.62 2473.06 1966.79 2473.68 1967.95 2474.03 1969.12 2473.06 1970.28 2473.21 1971.44 2474.06 1972.61 2474.96 1973.77 2475.73 1974.94 2476.07 1976.1 2475.86 1977.27 2475.53 1978.43 2476.27 1979.6 2477.87 1980.76 2478.73 1981.93 2478.09 1983.09 2477.83 1984.26 2477.96 1985.42 2477.27 1986.58 2474.56 1987.75 2475.01 1988.91 2475.56 1990.08 2473.6 1991.24 2473.23 1992.41 2473.67 1993.57 2472.77 1994.74 2471.64 1995.9 2471.19 1997.07 2470.6 1998.23 2471.08 1999.39 2471.15 2000.56 2469.84 2001.72 2470.13 2002.89 2469.89 2004.05 2469.74 2005.22 2469.18 2006.38 2469.33 2007.55 2470.06 2008.71 2470.26 2009.88 2470.58 2011.04 2469.91 2012.21 2470.13 2013.37 2470.27 2014.53 2470.02 2015.7 2469.81 2016.86 2469.08 2018.03 2468.29 2019.19 2469.26 2020.36 2469.71 2021.52 2468.37 2022.69 2467.14 2023.85 2466.82 2025.02 2467.91 2026.18 2468.54 2027.35 2467.27 2028.51 2466.15 2029.67 2466 2030.84 2466.04 2032 2465.58 2033.17 2465.96 2034.33 2465.62 2035.5 2464.7 2036.66 2464.79 2037.83 2464.44 2038.99 2465.59 2040.16 2466.22 2041.32 2463.95 2042.49 2463.31 2043.65 2463.14 2044.81 2463.17 2045.98 2464.31 2047.14 2464.62 2048.31 2463.19 2049.47 2463.26 2050.64 2463.68 2051.8 2463.17 2052.97 2462.5 2054.13 2461.32 2055.3 2460.52 2056.46 2460.16 2057.62 2458.95 2058.79 2457.57 2059.95 2457.82 2061.12 2458 2062.28 2458.14 2063.45 2457.38 2064.61 2455.69 2065.78 2455.69 2066.94 2456.71 2068.11 2456.33 2069.27 2455.92 2070.44 2456.11 2071.6 2456.75 2072.76 2456.35 2073.93 2454.71 2075.09 2453.78 2076.26 2453.8 2077.42 2454.11 2078.59 2454.22 2079.75 2453.72 2080.92 2453.84 2082.08 2453.81 2083.25 2453.78 2084.41 2453.13 2085.58 2453.26 2086.74 2453.08 2087.9 2452.29 2089.07 2452.1 2090.23 2452.1 2091.4 2452.44 2092.56 2452.93 2093.73 2452.65 2094.89 2452.58 2096.06 2452.85 2097.22 2452.75 2098.39 2452.19 2099.55 2452.36 2100.72 2451.85 2101.88 2451.64 2103.04 2451.46 2104.21 2450.41 2105.37 2449.61 2106.54 2450 2107.7 2450.04 2108.87 2449.8 2110.03 2449.1 2111.2 2448.35 2112.36 2448.79 2113.53 2449.43 2114.69 2449.96 2115.86 2449.56 2117.02 2449.21 2118.18 2449.54 2119.35 2449.05 2120.51 2449.32 2121.68 2450.29 2122.84 2450.22 2124.01 2449.74 2125.17 2449.15 2126.34 2448.95 2127.5 2448.92 2128.67 2449.28 2129.83 2448.5 2130.99 2447.12 2132.16 2447.8 2133.32 2447.5 2134.49 2446.49 2135.65 2446.18 2136.82 2446.51 2137.98 2446.5 2139.15 2445.82 2140.31 2446.55 2141.48 2447.59 2142.64 2447.32 2143.81 2446.2 2144.97 2445.11 2146.13 2445.16 2147.3 2445.01 2148.46 2444.36 2149.63 2444.97 2150.79 2445.6 2151.96 2445.73 2153.12 2445.22 2154.29 2444.21 2155.45 2443.72 2156.62 2444.83 2157.78 2445.53 2158.95 2444.67 2160.11 2443.91 2161.27 2444.5 2162.44 2443.98 2163.6 2442.84 2164.77 2442.64 2165.93 2443.15 2167.1 2442.78 2168.26 2442.66 2169.43 2443.42 2170.59 2443.79 2171.76 2442.69 2172.92 2441.35 2174.09 2442.13 2175.25 2442.62 2176.41 2442.41 2177.58 2442.18 2178.74 2442.15 2179.91 2442.02 2181.07 2442.22 2182.24 2442.61 2183.4 2442.88 2184.57 2443.37 2185.73 2442.99 2186.9 2442.24 2188.06 2442.22 2189.22 2441.75 2190.39 2442.11 2191.55 2442.14 2192.72 2441.42 2193.88 2441.19 2195.05 2441.96 2196.21 2442.29 2197.38 2441.5 2198.54 2441.13 2199.71 2441.08 2200.87 2441.17 2202.04 2440.96 2203.2 2440.78 2204.36 2440.08 2205.53 2440.11 2206.69 2441.31 2207.86 2440.4 2209.02 2439.9" stroke="#e87b9f" stroke-width="2.7" fill="none" stroke-linejoin="round"/><circle cx="2209.02" cy="2439.9" r="4.2" fill="#e87b9f"/><path d="M1818.88 2516.72 1820.05 2516.55 1821.21 2516.86 1822.38 2515.77 1823.54 2514.43 1824.7 2511.79 1825.87 2509.41 1827.03 2509.58 1828.2 2509.65 1829.36 2507.93 1830.53 2506.14 1831.69 2505.32 1832.86 2504.39 1834.02 2503.39 1835.19 2502.31 1836.35 2501.7 1837.52 2499.64 1838.68 2499.39 1839.84 2498.18 1841.01 2496.5 1842.17 2495.92 1843.34 2494.45 1844.5 2492.47 1845.67 2492.66 1846.83 2491.74 1848 2489.84 1849.16 2489.15 1850.33 2487.79 1851.49 2488.23 1852.66 2487.35 1853.82 2484.99 1854.98 2485.59 1856.15 2485.18 1857.31 2483.77 1858.48 2482.41 1859.64 2482.24 1860.81 2483.44 1861.97 2484.48 1863.14 2483.3 1864.3 2481.72 1865.47 2481.81 1866.63 2481.28 1867.8 2480.28 1868.96 2480.95 1870.12 2482.13 1871.29 2481.66 1872.45 2480.74 1873.62 2480.72 1874.78 2480.85 1875.95 2482.65 1877.11 2482.71 1878.28 2481.47 1879.44 2481.64 1880.61 2482.37 1881.77 2481.41 1882.93 2479.99 1884.1 2480.75 1885.26 2481.47 1886.43 2481.14 1887.59 2479.98 1888.76 2478.6 1889.92 2477.25 1891.09 2477.36 1892.25 2477.36 1893.42 2476.45 1894.58 2476.61 1895.75 2476.5 1896.91 2476.18 1898.07 2475.36 1899.24 2475.3 1900.4 2475.21 1901.57 2475.23 1902.73 2475.41 1903.9 2476.09 1905.06 2477.42 1906.23 2477.5 1907.39 2477.55 1908.56 2479.13 1909.72 2478.83 1910.89 2478.89 1912.05 2479.83 1913.21 2481.32 1914.38 2482.55 1915.54 2480.97 1916.71 2480.84 1917.87 2482.38 1919.04 2483.38 1920.2 2483.45 1921.37 2482.51 1922.53 2482.47 1923.7 2482.47 1924.86 2483.2 1926.03 2483.54 1927.19 2482.37 1928.35 2481.17 1929.52 2480.13 1930.68 2480.14 1931.85 2481.12 1933.01 2482.42 1934.18 2482.63 1935.34 2483.71 1936.51 2484.51 1937.67 2484.94 1938.84 2484.41 1940 2482.39 1941.16 2481.44 1942.33 2480.84 1943.49 2478.42 1944.66 2477.61 1945.82 2477.84 1946.99 2478.28 1948.15 2476.91 1949.32 2476.6 1950.48 2478.03 1951.65 2476.22 1952.81 2475.26 1953.98 2476.07 1955.14 2475.11 1956.3 2474.41 1957.47 2474.64 1958.63 2473.64 1959.8 2471.64 1960.96 2471.04 1962.13 2471.04 1963.29 2471.48 1964.46 2471.34 1965.62 2470.27 1966.79 2469.42 1967.95 2469.94 1969.12 2469.82 1970.28 2470.02 1971.44 2469.84 1972.61 2469.55 1973.77 2469.53 1974.94 2469.13 1976.1 2470.36 1977.27 2469.79 1978.43 2468.21 1979.6 2469.11 1980.76 2469.32 1981.93 2468.86 1983.09 2468.41 1984.26 2467.64 1985.42 2466.87 1986.58 2466.11 1987.75 2465.46 1988.91 2465.93 1990.08 2465.85 1991.24 2464.53 1992.41 2463 1993.57 2462.98 1994.74 2463.29 1995.9 2463.07 1997.07 2462.42 1998.23 2461.3 1999.39 2460.84 2000.56 2461.61 2001.72 2461.19 2002.89 2460.13 2004.05 2458.56 2005.22 2458.52 2006.38 2458.36 2007.55 2458.16 2008.71 2458.62 2009.88 2458.61 2011.04 2457.56 2012.21 2457.11 2013.37 2456.74 2014.53 2456.43 2015.7 2455.89 2016.86 2455.51 2018.03 2456.03 2019.19 2456.76 2020.36 2455.97 2021.52 2455.03 2022.69 2455.3 2023.85 2455.33 2025.02 2455.53 2026.18 2455.6 2027.35 2455.08 2028.51 2455.22 2029.67 2455.3 2030.84 2453.76 2032 2453.9 2033.17 2455 2034.33 2454.34 2035.5 2454.34 2036.66 2453.81 2037.83 2452.86 2038.99 2453.66 2040.16 2453.22 2041.32 2452.52 2042.49 2451.51 2043.65 2451.23 2044.81 2450.94 2045.98 2451.33 2047.14 2451.39 2048.31 2449.98 2049.47 2449.33 2050.64 2449.52 2051.8 2449.42 2052.97 2449.11 2054.13 2449.18 2055.3 2449.32 2056.46 2448.87 2057.62 2448.81 2058.79 2450.23 2059.95 2450.86 2061.12 2449.8 2062.28 2448.57 2063.45 2448.02 2064.61 2447.77 2065.78 2447.15 2066.94 2446.9 2068.11 2447.67 2069.27 2447.55 2070.44 2447.73 2071.6 2448.52 2072.76 2448.09 2073.93 2448.45 2075.09 2447.69 2076.26 2445.56 2077.42 2446.27 2078.59 2447.35 2079.75 2447.96 2080.92 2447.44 2082.08 2446.72 2083.25 2447.22 2084.41 2447.5 2085.58 2446.61 2086.74 2445.98 2087.9 2445.94 2089.07 2445.91 2090.23 2446.54 2091.4 2445.42 2092.56 2444.2 2093.73 2445.15 2094.89 2445.84 2096.06 2446.19 2097.22 2445.22 2098.39 2444.7 2099.55 2445.08 2100.72 2444.74 2101.88 2445.18 2103.04 2445.09 2104.21 2444.72 2105.37 2445.72 2106.54 2445.35" stroke="#7d54b2" stroke-width="2.7" fill="none" stroke-linejoin="round"/><circle cx="2106.54" cy="2445.35" r="4.2" fill="#7d54b2"/><path d="M1818.88 2526.52 1820.05 2524.02 1821.21 2521.85 1822.38 2518.75 1823.54 2517.84 1824.7 2519.08 1825.87 2519.44 1827.03 2518.08 1828.2 2515.03 1829.36 2513.17 1830.53 2511.24 1831.69 2510.75 1832.86 2510.66 1834.02 2508.25 1835.19 2506.08 1836.35 2506.09 1837.52 2503.63 1838.68 2502.45 1839.84 2501.67 1841.01 2500.26 1842.17 2498.92 1843.34 2498.13 1844.5 2495.09 1845.67 2492.59 1846.83 2493.81 1848 2493.83 1849.16 2493.12 1850.33 2491.94 1851.49 2491.75 1852.66 2492.54 1853.82 2491.61 1854.98 2491.31 1856.15 2490.98 1857.31 2488.98 1858.48 2488.94 1859.64 2488.23 1860.81 2487.53 1861.97 2485.85 1863.14 2485.22 1864.3 2486.04 1865.47 2485.45 1866.63 2485.5 1867.8 2486.48 1868.96 2487.49 1870.12 2488.6 1871.29 2488.88 1872.45 2489.12 1873.62 2489.03 1874.78 2489.48 1875.95 2488.85 1877.11 2488.36 1878.28 2489.67 1879.44 2489.58 1880.61 2488.91 1881.77 2488.53 1882.93 2487.88 1884.1 2487.21 1885.26 2486.38 1886.43 2485.85 1887.59 2486.71 1888.76 2486.45 1889.92 2486.09 1891.09 2485.94 1892.25 2485.1 1893.42 2485.34 1894.58 2485.33 1895.75 2483.84 1896.91 2483.59 1898.07 2484.37 1899.24 2484.49 1900.4 2486.1 1901.57 2486.88 1902.73 2487.66 1903.9 2489.4 1905.06 2490.02 1906.23 2490.03 1907.39 2490.63 1908.56 2491.81 1909.72 2491.6 1910.89 2490.33 1912.05 2489.57 1913.21 2490.73 1914.38 2490.87 1915.54 2490.05 1916.71 2491.48 1917.87 2493.57 1919.04 2493.41 1920.2 2492.3 1921.37 2491.38 1922.53 2490.92 1923.7 2491.38 1924.86 2491.93 1926.03 2491.06 1927.19 2491.15 1928.35 2491.45 1929.52 2489.58 1930.68 2488.67 1931.85 2488.58 1933.01 2488.1 1934.18 2488.27 1935.34 2487.91 1936.51 2486.38 1937.67 2485.23 1938.84 2485.41 1940 2484.93 1941.16 2483.17 1942.33 2482.32 1943.49 2481.31 1944.66 2480.79 1945.82 2481.62 1946.99 2481.03 1948.15 2479.43 1949.32 2478.65 1950.48 2477.93 1951.65 2477.19 1952.81 2476.75 1953.98 2476.91 1955.14 2477.05 1956.3 2477.14 1957.47 2475.71 1958.63 2474.42 1959.8 2474.63 1960.96 2475.39 1962.13 2475.31 1963.29 2475.25 1964.46 2475.09 1965.62 2475.39 1966.79 2474.72 1967.95 2474.83 1969.12 2475.48 1970.28 2474.83 1971.44 2474.45 1972.61 2474.55 1973.77 2475.05 1974.94 2474.72 1976.1 2474.4 1977.27 2474.23 1978.43 2474.03 1979.6 2472.14 1980.76 2472.5 1981.93 2474.06 1983.09 2472.09 1984.26 2471.36 1985.42 2472.32 1986.58 2471.76 1987.75 2469.68 1988.91 2469.55 1990.08 2469.67 1991.24 2470.05 1992.41 2470.39 1993.57 2469.09 1994.74 2468.46 1995.9 2468.43 1997.07 2468.23 1998.23 2467.57 1999.39 2467.22 2000.56 2466.84 2001.72 2466.2 2002.89 2464.88 2004.05 2464.77 2005.22 2463.88 2006.38 2461.81 2007.55 2461.24 2008.71 2461.74 2009.88 2461.82 2011.04 2461.49 2012.21 2461.23 2013.37 2460.75 2014.53 2460.07 2015.7 2459.68 2016.86 2459.3 2018.03 2458.98 2019.19 2458.05 2020.36 2457.64 2021.52 2456.7 2022.69 2456.47 2023.85 2457.75 2025.02 2457.87 2026.18 2457.08 2027.35 2457.12 2028.51 2456.96 2029.67 2456.68 2030.84 2456.45 2032 2456.75 2033.17 2457.78 2034.33 2458.03 2035.5 2458.22 2036.66 2458.85 2037.83 2458.09 2038.99 2456.76 2040.16 2456.07 2041.32 2454.67 2042.49 2454.41 2043.65 2455.01 2044.81 2453.16 2045.98 2453.02 2047.14 2453.44 2048.31 2452.37 2049.47 2453.69 2050.64 2453.19 2051.8 2452.11 2052.97 2452.48 2054.13 2452.1 2055.3 2451.95 2056.46 2451.54 2057.62 2450.38 2058.79 2450.55 2059.95 2451.53 2061.12 2451.08 2062.28 2450.61 2063.45 2451.89 2064.61 2451.7 2065.78 2450.58 2066.94 2450.59 2068.11 2450.97 2069.27 2449.92" stroke="#479a5f" stroke-width="2.7" fill="none" stroke-linejoin="round"/><circle cx="2069.27" cy="2449.92" r="4.2" fill="#479a5f"/><path d="M1818.88 2563.44 1820.05 2560.19 1821.21 2557.22 1822.38 2556.03 1823.54 2552.98 1824.7 2550.98 1825.87 2549.54 1827.03 2546.7 1828.2 2544.45 1829.36 2542.14 1830.53 2539.44 1831.69 2537.61 1832.86 2536.07 1834.02 2533.68 1835.19 2532.03 1836.35 2531.48 1837.52 2530.15 1838.68 2529.88 1839.84 2529.13 1841.01 2527.26 1842.17 2526.31 1843.34 2524.94 1844.5 2524.21 1845.67 2524.12 1846.83 2522.56 1848 2521.94 1849.16 2522.64 1850.33 2521.5 1851.49 2519.23 1852.66 2516.91 1853.82 2514.99 1854.98 2514.93 1856.15 2514.45 1857.31 2512.43 1858.48 2512.54 1859.64 2511.9 1860.81 2511.07 1861.97 2512.83 1863.14 2513.74 1864.3 2514.08 1865.47 2516.44 1866.63 2517.35 1867.8 2515.94 1868.96 2515.89 1870.12 2515.45 1871.29 2515.13 1872.45 2515.52 1873.62 2514.83 1874.78 2515.31 1875.95 2514.43 1877.11 2512.69 1878.28 2512.04 1879.44 2512.04 1880.61 2511.96 1881.77 2511.95 1882.93 2512.06 1884.1 2512.43 1885.26 2511.58 1886.43 2509.91 1887.59 2509.06 1888.76 2508.66 1889.92 2510.86 1891.09 2514.93 1892.25 2518.77 1893.42 2521.72 1894.58 2524.62 1895.75 2524.17 1896.91 2520.65 1898.07 2519.16 1899.24 2517.26 1900.4 2516.55 1901.57 2518.02 1902.73 2519.04 1903.9 2519.94 1905.06 2520.66 1906.23 2519.63 1907.39 2520.06 1908.56 2518.84 1909.72 2518.01 1910.89 2518.12 1912.05 2517.12 1913.21 2515.41 1914.38 2514.75 1915.54 2515.09 1916.71 2512.04 1917.87 2510.12 1919.04 2510.42 1920.2 2511.04 1921.37 2510.48 1922.53 2510.08 1923.7 2510.06 1924.86 2508.38 1926.03 2506.68 1927.19 2506.47 1928.35 2505.92 1929.52 2504.67 1930.68 2504.84 1931.85 2504.53 1933.01 2503.12 1934.18 2501.96 1935.34 2501.68 1936.51 2501.68 1937.67 2500.62 1938.84 2498.88 1940 2499.53 1941.16 2499 1942.33 2497.37 1943.49 2497.48 1944.66 2497.56 1945.82 2498.38 1946.99 2497.34 1948.15 2496.29 1949.32 2497.09 1950.48 2497.09 1951.65 2495.81 1952.81 2495.1 1953.98 2494.18 1955.14 2493.69 1956.3 2493.7 1957.47 2494.05 1958.63 2494.3 1959.8 2493.38 1960.96 2491.21 1962.13 2490.78 1963.29 2490.73 1964.46 2490.92 1965.62 2490.42 1966.79 2489.41 1967.95 2489.59 1969.12 2488.66 1970.28 2487.96 1971.44 2487.64 1972.61 2487.27 1973.77 2486.64 1974.94 2486.64 1976.1 2486.43 1977.27 2485.61 1978.43 2483.71 1979.6 2483.83 1980.76 2484 1981.93 2482.37 1983.09 2481.25 1984.26 2481.69 1985.42 2482.19 1986.58 2481.65 1987.75 2480.66 1988.91 2480.05 1990.08 2479.94 1991.24 2479.92 1992.41 2479.76 1993.57 2480.19 1994.74 2479.41 1995.9 2478 1997.07 2478.38 1998.23 2479.17 1999.39 2478.35 2000.56 2478.36 2001.72 2478.86 2002.89 2477.66 2004.05 2475.86 2005.22 2475.7 2006.38 2476.31 2007.55 2475.02 2008.71 2475.5 2009.88 2476.57 2011.04 2474.61 2012.21 2473.27 2013.37 2474.25 2014.53 2474.09 2015.7 2473.21 2016.86 2473.14 2018.03 2472.2 2019.19 2472.21 2020.36 2472.55 2021.52 2471.38 2022.69 2471.97 2023.85 2472.02 2025.02 2472.33 2026.18 2472.56 2027.35 2472.46 2028.51 2472.85 2029.67 2472.44 2030.84 2472.14 2032 2472.88 2033.17 2471.22 2034.33 2470.89 2035.5 2470.88 2036.66 2469.83 2037.83 2470.49 2038.99 2470.32 2040.16 2470.66 2041.32 2471.77 2042.49 2471.57" stroke="#da4c4c" stroke-width="2.7" fill="none" stroke-linejoin="round"/><circle cx="2042.49" cy="2471.57" r="4.2" fill="#da4c4c"/></svg><div style="position:absolute;top:2679.09px;font:400 15.4px/15.4px 'Liberation Sans',sans-serif;color:#666;white-space:nowrap;right:627px;transform-origin:100% 50%;transform:scaleX(0.9900);">0</div><div style="position:absolute;top:2623.89px;font:400 15.4px/15.4px 'Liberation Sans',sans-serif;color:#666;white-space:nowrap;right:627px;transform-origin:100% 50%;transform:scaleX(0.9900);">0.2</div><div style="position:absolute;top:2568.69px;font:400 15.4px/15.4px 'Liberation Sans',sans-serif;color:#666;white-space:nowrap;right:627px;transform-origin:100% 50%;transform:scaleX(0.9900);">0.4</div><div style="position:absolute;top:2513.49px;font:400 15.4px/15.4px 'Liberation Sans',sans-serif;color:#666;white-space:nowrap;right:627px;transform-origin:100% 50%;transform:scaleX(0.9900);">0.6</div><div style="position:absolute;top:2458.29px;font:400 15.4px/15.4px 'Liberation Sans',sans-serif;color:#666;white-space:nowrap;right:627px;transform-origin:100% 50%;transform:scaleX(0.9900);">0.8</div><div style="position:absolute;top:2708.39px;font:400 15.4px/15.4px 'Liberation Sans',sans-serif;color:#666;white-space:nowrap;left:1879.7px;transform:translateX(-50%) scaleX(0.9750);">5</div><div style="position:absolute;top:2708.39px;font:400 15.4px/15.4px 'Liberation Sans',sans-serif;color:#666;white-space:nowrap;left:1944.4px;transform:translateX(-50%) scaleX(0.9750);">10</div><div style="position:absolute;top:2708.39px;font:400 15.4px/15.4px 'Liberation Sans',sans-serif;color:#666;white-space:nowrap;left:2009.1px;transform:translateX(-50%) scaleX(0.9750);">15</div><div style="position:absolute;top:2708.39px;font:400 15.4px/15.4px 'Liberation Sans',sans-serif;color:#666;white-space:nowrap;left:2073.8px;transform:translateX(-50%) scaleX(0.9750);">20</div><div style="position:absolute;top:2708.39px;font:400 15.4px/15.4px 'Liberation Sans',sans-serif;color:#666;white-space:nowrap;left:2138.5px;transform:translateX(-50%) scaleX(0.9750);">25</div><div style="position:absolute;top:2708.39px;font:400 15.4px/15.4px 'Liberation Sans',sans-serif;color:#666;white-space:nowrap;left:2203.2px;transform:translateX(-50%) scaleX(0.9750);">30</div><div style="position:absolute;top:2662.94px;font:400 15.7px/15.7px 'Liberation Sans',sans-serif;color:#666;white-space:nowrap;right:224.5px;transform-origin:100% 50%;transform:scaleX(1.0759);">Time (minutes)</div>
<div style="position:absolute;left:112px;top:2710px;width:2200px;height:96px;background:#fff;box-sizing:border-box;border-top:2px solid #d8d8d8"></div><div style="position:absolute;top:2749.52px;font:400 24px/24px 'Liberation Sans',sans-serif;color:#333;white-space:nowrap;left:278px;transform-origin:0 50%;transform:scaleX(0.9541);">My Workspace</div><svg style="position:absolute;left:435.1px;top:2744.4px;overflow:visible;fill:#6a6a6a" width="34" height="34" viewBox="0 0 34 34"><circle cx="17" cy="7.700" r="2.900"/><circle cx="17" cy="17" r="2.900"/><circle cx="17" cy="26.300" r="2.900"/></svg><div style="position:absolute;top:2747.28px;font:400 23.5px/23.5px 'Liberation Sans',sans-serif;color:#aaa;white-space:nowrap;left:1757.7px;transform-origin:0 50%;transform:scaleX(0.8984);">Changes saved automatically</div><div style="position:absolute;left:1758px;top:2774.5px;width:275.5px;height:0px;border-top:1.500px dashed #b8b8b8"></div><div style="position:absolute;left:2061px;top:2733px;width:51px;height:52px;box-sizing:border-box;border:1.500px solid #cfcfcf;border-radius:5px 0 0 5px;background:#f3f3f3"></div><div style="position:absolute;left:2112px;top:2733px;width:51px;height:52px;border-radius:0 5px 5px 0;background:#f8f8f8"></div><svg style="position:absolute;left:2073.5px;top:2746px;overflow:visible;" width="26" height="26" viewBox="0 0 26 26"><path d="M5 13 A8 8 0 1 0 8 6.500" stroke="#444" stroke-width="2.400" fill="none"/><path d="M3 2.500 V10 H10.500" stroke="#444" stroke-width="2.400" fill="none"/></svg><svg style="position:absolute;left:2124.5px;top:2746px;overflow:visible;" width="26" height="26" viewBox="0 0 26 26"><path d="M21 13 A8 8 0 1 1 18 6.500" stroke="#d2d2d2" stroke-width="2.400" fill="none"/><path d="M23 2.500 V10 H15.500" stroke="#d2d2d2" stroke-width="2.400" fill="none"/></svg>
<div style="position:absolute;left:112px;top:75px;width:2200px;height:85px;background:#dee1e6"></div><div style="position:absolute;left:112px;top:160px;width:2200px;height:137px;background:#fff"></div><div style="position:absolute;left:112px;top:296px;width:2200px;height:2px;background:#d9dbde"></div><svg style="position:absolute;left:256px;top:92px;overflow:visible;" width="505" height="68" viewBox="0 0 505 68"><path d="M0 68 C7 68 12.5 63 12.5 55 V13.5 C12.5 6 18.5 0 26 0 H479 C486.500 0 492.500 6 492.500 13.500 V55 C492.500 63 498 68 505 68 Z" fill="#fff"/></svg><div style="position:absolute;left:138px;top:107px;width:24px;height:24px;border-radius:50%;background:#fe5f57;box-shadow:inset 0 0 0 1px #e2463f"></div><div style="position:absolute;left:178px;top:107px;width:24px;height:24px;border-radius:50%;background:#febc2e;box-shadow:inset 0 0 0 1px #dfa123"></div><div style="position:absolute;left:218px;top:107px;width:24px;height:24px;border-radius:50%;background:#28c840;box-shadow:inset 0 0 0 1px #1dad2b"></div><svg style="position:absolute;left:307.9px;top:125.6px;overflow:visible" width="1" height="1"><g fill="#fbc13a"><circle cx="-12.8" cy="-14" r="2.2"/><circle cx="-12.8" cy="-5.92" r="3.44"/><circle cx="-12.8" cy="2.32" r="2.2"/><circle cx="-12.8" cy="10.64" r="3.44"/><circle cx="0" cy="-10.72" r="2.2"/><circle cx="0" cy="-2.64" r="2.2"/><circle cx="0" cy="6" r="3.44"/><circle cx="0" cy="13.84" r="2.2"/><circle cx="12.8" cy="-14" r="2.2"/><circle cx="12.8" cy="-5.92" r="3.44"/><circle cx="12.8" cy="2.32" r="2.2"/><circle cx="12.8" cy="10.4" r="2.2"/></g></svg><div style="position:absolute;top:113.76px;font:400 24.5px/24.5px 'Liberation Sans',sans-serif;color:#202124;white-space:nowrap;left:340px;transform-origin:0 50%;transform:scaleX(1.0276);-webkit-mask-image:linear-gradient(90deg,#000 88%,transparent 100%);mask-image:linear-gradient(90deg,#000 88%,transparent 100%);">yolov5_tutorial – Weights &amp; Bia</div><svg style="position:absolute;left:704.6px;top:114.7px;overflow:visible;" width="22" height="22" viewBox="0 0 22 22"><path d="M3 3 L19 19 M19 3 L3 19" stroke="#3c4043" stroke-width="3" fill="none"/></svg><svg style="position:absolute;left:776.7px;top:110.7px;overflow:visible;" width="30" height="30" viewBox="0 0 30 30"><path d="M15 2.500 V27.500 M2.500 15 H27.500" stroke="#3c4043" stroke-width="3.6" fill="none"/></svg><svg style="position:absolute;left:141px;top:180.6px;overflow:visible;" width="30" height="30" viewBox="0 0 30 30"><path d="M27 15 H4.500 M15 4.300 L4.300 15 L15 25.700" stroke="#5f6368" stroke-width="3.500" fill="none" stroke-linejoin="round" stroke-linecap="round"/></svg><svg style="position:absolute;left:205px;top:180.6px;overflow:visible;" width="30" height="30" viewBox="0 0 30 30"><path d="M3 15 H25.500 M15 4.300 L25.700 15 L15 25.700" stroke="#5f6368" stroke-width="3.500" fill="none" stroke-linejoin="round" stroke-linecap="round"/></svg><svg style="position:absolute;left:268.4px;top:179.6px;overflow:visible;" width="32" height="32" viewBox="0 0 32 32"><path d="M27.300 17 A11.300 11.300 0 1 1 23.500 8.200" stroke="#5f6368" stroke-width="3.500" fill="none" stroke-linecap="round"/><path d="M29.500 2.500 V13.500 H18.500 Z" fill="#5f6368"/></svg><div style="position:absolute;left:328.5px;top:168px;width:1702px;height:55.5px;border-radius:28px;background:#f1f3f4"></div><svg style="position:absolute;left:352px;top:184px;overflow:visible;" width="24" height="24" viewBox="0 0 24 24"><rect x="4" y="10.500" width="16" height="12" rx="2" fill="#5f6368"/><path d="M7.500 11 V7.500 a4.500 4.500 0 0 1 9 0 V11" stroke="#5f6368" stroke-width="2.600" fill="none"/></svg><div style="position:absolute;top:181.64px;font:400 28px/28px 'Liberation Sans',sans-serif;color:#5f6368;white-space:nowrap;left:397.5px;transform-origin:0 50%;transform:scaleX(1.0751);"><span style="color:#202124">wandb.ai</span>/glenn-jocher/yolov5_tutorial?workspace=user-glenn-jocher</div><svg style="position:absolute;left:1916.5px;top:181.5px;overflow:visible;" width="30" height="30" viewBox="0 0 30 30"><circle cx="12.500" cy="12" r="8.300" stroke="#5f6368" stroke-width="2.600" fill="none"/><path d="M18.500 18 L27 26.500" stroke="#5f6368" stroke-width="3"/><path d="M8.500 12 H16.500" stroke="#5f6368" stroke-width="2.400"/></svg><svg style="position:absolute;left:1980.9px;top:181.2px;overflow:visible;" width="29" height="29" viewBox="0 0 34 34"><path d="M17 3.500 L20.900 12.600 L30.800 13.500 L23.300 20 L25.500 29.700 L17 24.600 L8.500 29.700 L10.700 20 L3.200 13.500 L13.100 12.600 Z" stroke="#5f6368" stroke-width="3" fill="none" stroke-linejoin="miter"/></svg><svg style="position:absolute;left:2058.75px;top:178.45px;overflow:visible;" width="34.5" height="34.5" viewBox="0 0 36 36"><path d="M11 1.500 H25 L34.500 11 V25 L25 34.500 H11 L1.500 25 V11 Z" fill="#e0171f"/><path d="M12.700 20 V11.500 a1.150 1.150 0 0 1 2.300 0 V17.500 h.700 V8.500 a1.150 1.150 0 0 1 2.300 0 V17.500 h.700 V7.800 a1.150 1.150 0 0 1 2.300 0 V17.500 h.700 V9.800 a1.150 1.150 0 0 1 2.300 0 V20 l1.500-2.600 a1.200 1.200 0 0 1 2.100 1.100 L23.500 25.500 C22 28.300 20 29 17.800 29 C14.300 29 12.700 26.500 12.700 23 Z" fill="#fff"/></svg><svg style="position:absolute;left:2124.5px;top:180px;overflow:visible;" width="31" height="31" viewBox="0 0 34 34"><path d="M13 5.500 a3.500 3.500 0 0 1 7 0 V8 h6 a2 2 0 0 1 2 2 v5.500 h2 a3.700 3.700 0 0 1 0 7.400 h-2 V29 a2 2 0 0 1 -2 2 h-6.500 v-2.500 a3.300 3.300 0 0 0 -6.600 0 V31 H6 a2 2 0 0 1 -2-2 v-6.500 h2.200 a3.300 3.300 0 0 0 0-6.600 H4 V10 a2 2 0 0 1 2-2 h7 Z" fill="#5f6368"/></svg><svg style="position:absolute;left:2182.5px;top:174px;overflow:visible;" width="44" height="44" viewBox="0 0 44 44"><defs><clipPath id="avc1"><circle cx="22" cy="22" r="22"/></clipPath></defs><g clip-path="url(#avc1)"><rect width="44" height="44" fill="#c9c5c0"/><rect x="0" y="0" width="14" height="30" fill="#b9bcbf"/><rect x="30" y="6" width="14" height="24" fill="#d9dde6"/><rect x="34" y="18" width="8" height="10" fill="#c43c3c"/><path d="M4 44 C6 34 14 31 22 31 C30 31 38 34 40 44 Z" fill="#e9e7ea"/><path d="M17 30 h10 v6 l-5 4 l-5-4z" fill="#b98b6b"/><ellipse cx="22" cy="21" rx="8.500" ry="10.500" fill="#c99a78"/><path d="M13 19 C12 9 18 6.500 23 6.500 C29 6.500 32.500 11 31 19 C30 14 28 12.500 22 12.500 C17 12.500 14 14 13 19 Z" fill="#2b211c"/><path d="M14.500 24 C16 31 19 33 22 33 C25 33 28 31 29.500 24 C28 28 25.500 28.500 22 28.500 C18.500 28.500 16 28 14.500 24Z" fill="#4a382e"/><path d="M18.500 26.500 Q22 29.500 25.500 26.500 Q22 27.800 18.500 26.500Z" fill="#f3eeee"/></g></svg><svg style="position:absolute;left:2247.6px;top:176px;overflow:visible;fill:#5f6368" width="40" height="40" viewBox="0 0 40 40"><circle cx="20" cy="10.100" r="3.100"/><circle cx="20" cy="20" r="3.100"/><circle cx="20" cy="29.900" r="3.100"/></svg><svg style="position:absolute;left:143px;top:246.5px;overflow:visible;" width="26" height="26" viewBox="0 0 26 26"><rect x="0" y="0" width="5.6" height="5.6" fill="#e53b35"/><rect x="10" y="0" width="5.6" height="5.6" fill="#e53b35"/><rect x="20" y="0" width="5.6" height="5.6" fill="#e53b35"/><rect x="0" y="10" width="5.6" height="5.6" fill="#3a9c4e"/><rect x="10" y="10" width="5.6" height="5.6" fill="#2f8cea"/><rect x="20" y="10" width="5.6" height="5.6" fill="#eda01f"/><rect x="0" y="20" width="5.6" height="5.6" fill="#3a9c4e"/><rect x="10" y="20" width="5.6" height="5.6" fill="#e8a21f"/><rect x="20" y="20" width="5.6" height="5.6" fill="#eda01f"/></svg><div style="position:absolute;top:247.52px;font:400 24px/24px 'Liberation Sans',sans-serif;color:#3c4043;white-space:nowrap;left:188.3px;transform-origin:0 50%;transform:scaleX(1.0365);">Apps</div><svg style="position:absolute;left:276.5px;top:242px;overflow:visible;" width="34" height="34" viewBox="0 0 34 34"><rect x="5" y="1" width="20" height="10" rx="2" fill="#3aa757" transform="rotate(-6 15 6)"/><rect x="10" y="2" width="20" height="10" rx="2" fill="#e8453c" transform="rotate(8 20 7)"/><rect x="6" y="4" width="22" height="10" rx="2" fill="#f6b704"/><rect x="1" y="9" width="32" height="23" rx="2.500" fill="#4a86f0"/><text x="4.500" y="27" font-family="Liberation Sans" font-weight="700" font-size="15" fill="#fff">G</text><path d="M18 16h11M18 20.500h11M18 25h9" stroke="#fff" stroke-width="2.600"/></svg><svg style="position:absolute;left:341.7px;top:247px;overflow:visible;" width="32" height="25" viewBox="0 0 32 25"><path d="M1.2 3.2 a2 2 0 0 1 2-2 h8.3 l3 3.300 h14.3 a2 2 0 0 1 2 2 v15.300 a2 2 0 0 1 -2 2 h-25.600 a2 2 0 0 1 -2-2 z" fill="#c8c8c8" stroke="#5a5a5a" stroke-width="2.200" stroke-linejoin="round"/><path d="M1.2 8.2 h29.600" stroke="#5a5a5a" stroke-width="2"/><path d="M2.500 21 h27" stroke="#a2a2a2" stroke-width="1.500"/></svg><div style="position:absolute;top:247.52px;font:400 24px/24px 'Liberation Sans',sans-serif;color:#3c4043;white-space:nowrap;left:391px;">mail</div><svg style="position:absolute;left:468.6px;top:243px;overflow:visible;" width="34" height="34" viewBox="0 0 34 34"><rect x="1" y="1" width="32" height="32" rx="4" fill="#fff"/><path d="M1 5 a4 4 0 0 1 4-4 h20 v8 H1z" fill="#4285f4"/><path d="M25 1 h4 a4 4 0 0 1 4 4 v20 h-8z" fill="#fbbc04"/><path d="M1 9 h8 v24 H5 a4 4 0 0 1 -4-4z" fill="#4285f4"/><path d="M9 25 h16 v8 H9z" fill="#34a853"/><path d="M25 25 h8 l-8 8z" fill="#ea4335"/><path d="M1 25h8v8H5a4 4 0 0 1-4-4z" fill="#188038"/><rect x="8" y="8" width="18" height="18" fill="#fff"/><text x="17" y="23" text-anchor="middle" font-family="Liberation Sans" font-weight="700" font-size="15" fill="#4285f4">3</text></svg><svg style="position:absolute;left:533.2px;top:244px;overflow:visible;" width="32" height="32" viewBox="0 0 32 32"><rect x="2" y="4" width="28" height="27" rx="3" fill="#fff" stroke="#7a7a7a" stroke-width="2"/><path d="M10 1.500v5M22 1.500v5" stroke="#7a7a7a" stroke-width="2"/><text x="16" y="24" text-anchor="middle" font-family="Liberation Sans" font-size="14" fill="#8a8a8a">C</text></svg><svg style="position:absolute;left:599px;top:246.4px;overflow:visible;" width="29.4" height="26.3" viewBox="0 0 87.3 78"><path d="m6.6 66.850 3.850 6.650c.8 1.400 1.950 2.500 3.300 3.300l13.750-23.800h-27.500c0 1.550.4 3.100 1.200 4.500z" fill="#0066da"/><path d="m43.650 25-13.750-23.800c-1.350.8-2.500 1.900-3.300 3.300l-25.400 44a9.060 9.060 0 0 0 -1.200 4.500h27.500z" fill="#00ac47"/><path d="m73.550 76.800c1.350-.8 2.500-1.900 3.300-3.300l1.600-2.750 7.650-13.250c.8-1.400 1.200-2.950 1.200-4.500h-27.502l5.852 11.500z" fill="#ea4335"/><path d="m43.650 25 13.750-23.800c-1.350-.8-2.900-1.200-4.500-1.200h-18.500c-1.600 0-3.150.450-4.500 1.200z" fill="#00832d"/><path d="m59.800 53h-32.300l-13.750 23.800c1.350.8 2.900 1.200 4.500 1.200h50.800c1.600 0 3.150-.450 4.500-1.200z" fill="#2684fc"/><path d="m73.400 26.500-12.700-22c-.8-1.400-1.950-2.500-3.300-3.300l-13.750 23.800 16.150 28h27.450c0-1.550-.4-3.100-1.200-4.500z" fill="#ffba00"/></svg><svg style="position:absolute;left:663px;top:246.4px;overflow:visible;" width="29.4" height="26.3" viewBox="0 0 87.3 78"><path d="m6.6 66.850 3.850 6.650c.8 1.400 1.950 2.500 3.300 3.300l13.750-23.800h-27.500c0 1.550.4 3.100 1.200 4.500z" fill="#0066da"/><path d="m43.650 25-13.750-23.800c-1.350.8-2.500 1.900-3.300 3.300l-25.400 44a9.060 9.060 0 0 0 -1.200 4.500h27.500z" fill="#00ac47"/><path d="m73.550 76.800c1.350-.8 2.500-1.900 3.300-3.300l1.600-2.750 7.650-13.250c.8-1.400 1.200-2.950 1.200-4.500h-27.502l5.852 11.500z" fill="#ea4335"/><path d="m43.650 25 13.750-23.800c-1.350-.8-2.900-1.200-4.500-1.200h-18.500c-1.600 0-3.150.450-4.500 1.200z" fill="#00832d"/><path d="m59.800 53h-32.300l-13.750 23.800c1.350.8 2.900 1.200 4.500 1.200h50.800c1.600 0 3.150-.450 4.500-1.200z" fill="#2684fc"/><path d="m73.400 26.500-12.700-22c-.8-1.400-1.950-2.500-3.300-3.300l-13.750 23.800 16.150 28h27.450c0-1.550-.4-3.100-1.200-4.500z" fill="#ffba00"/></svg><svg style="position:absolute;left:725.8px;top:244px;overflow:visible;" width="32" height="32" viewBox="0 0 32 32"><rect width="32" height="32" rx="3.500" fill="#0f9d58"/><path d="M13.500 4 h4.500 v6.500 H27 v4.500 H18 V28 h-4.500 V15 H5 v-4.500 h8.500z" fill="#fff"/></svg><svg style="position:absolute;left:789.4px;top:244px;overflow:visible;" width="32" height="32" viewBox="0 0 32 32"><path d="M7.5 1v4M7.5 27v4M1 7.5h4M27 7.5h4" stroke="#3b6fd6" stroke-width="2.2"/><path d="M11.75 1v4M11.75 27v4M1 11.75h4M27 11.75h4" stroke="#3b6fd6" stroke-width="2.2"/><path d="M16 1v4M16 27v4M1 16h4M27 16h4" stroke="#3b6fd6" stroke-width="2.2"/><path d="M20.25 1v4M20.25 27v4M1 20.25h4M27 20.25h4" stroke="#3b6fd6" stroke-width="2.2"/><path d="M24.5 1v4M24.5 27v4M1 24.5h4M27 24.5h4" stroke="#3b6fd6" stroke-width="2.2"/><rect x="5.500" y="5.500" width="21" height="21" rx="2" fill="#d6e3fb" stroke="#3b6fd6" stroke-width="2.4"/><rect x="11" y="11" width="10" height="10" fill="#3b6fd6"/><rect x="13.500" y="13.500" width="5" height="5" fill="#a8c3f5"/></svg><svg style="position:absolute;left:853.4px;top:244px;overflow:visible;" width="32" height="32" viewBox="0 0 32 32"><path d="M7.5 1v4M7.5 27v4M1 7.5h4M27 7.5h4" stroke="#3b6fd6" stroke-width="2.2"/><path d="M11.75 1v4M11.75 27v4M1 11.75h4M27 11.75h4" stroke="#3b6fd6" stroke-width="2.2"/><path d="M16 1v4M16 27v4M1 16h4M27 16h4" stroke="#3b6fd6" stroke-width="2.2"/><path d="M20.25 1v4M20.25 27v4M1 20.25h4M27 20.25h4" stroke="#3b6fd6" stroke-width="2.2"/><path d="M24.5 1v4M24.5 27v4M1 24.5h4M27 24.5h4" stroke="#3b6fd6" stroke-width="2.2"/><rect x="5.500" y="5.500" width="21" height="21" rx="2" fill="#d6e3fb" stroke="#3b6fd6" stroke-width="2.4"/><rect x="11" y="11" width="10" height="10" fill="#3b6fd6"/><rect x="13.500" y="13.500" width="5" height="5" fill="#a8c3f5"/></svg><svg style="position:absolute;left:918.2px;top:242px;overflow:visible;" width="32" height="36" viewBox="0 0 32 36"><path d="M4 27 L8.500 3 L14 13 Z" fill="#ffa000"/><path d="M4 27 L17 1 L21 9 Z" fill="#f57c00" opacity="0"/><path d="M4 27 L16.500 2.500 L20 10 L28 27 L16 33.500 Z" fill="#ffca28"/><path d="M4 27 L8.700 3.500 L13.500 12.500 Z" fill="#ffa000"/><path d="M4 27 L22.500 9 L28 27 L16 33.500 Z" fill="#f6a019"/><path d="M4 27 L16.500 15 L22 20 L28 27 L16 33.500Z" fill="#ffb22c" opacity="0"/></svg><svg style="position:absolute;left:981.7px;top:244px;overflow:visible;" width="32" height="32" viewBox="0 0 32 32"><path d="M9 3.500 H23 L30 16 L23 28.500 H9 L2 16 Z" fill="#757575"/><path d="M11.800 8.500 H20.200 L24.400 16 L20.200 23.500 H11.800 L7.600 16 Z" fill="#fff"/><circle cx="16" cy="16" r="4.200" fill="#757575"/><path d="M2 16 L7.600 16 M30 16 L24.400 16" stroke="#fff" stroke-width="0"/></svg><svg style="position:absolute;left:1044.2px;top:243px;overflow:visible;" width="34" height="34" viewBox="0 0 34 34"><circle cx="17" cy="17" r="15" fill="#fff" stroke="#1d3f5a" stroke-width="2.800"/><path d="M5.500 17.500 h19.500 c1.500 0 2.500-.500 3.500-1.500 c-.500 5-4.500 9.500-11.500 9.500 c-6.500 0-10.500-3-11.500-8z" fill="#1d3f5a"/><path d="M9 13.500h3v3H9zM12.500 13.500h3v3h-3zM16 13.500h3v3h-3zM12.500 10h3v3h-3zM16 10h3v3h-3zM16 6.500h3v3h-3zM19.500 13.500h3v3h-3z" fill="#1d3f5a"/></svg><svg style="position:absolute;left:1109.5px;top:244px;overflow:visible;" width="32" height="32" viewBox="0 0 16 16"><path d="M8 0C3.58 0 0 3.58 0 8c0 3.54 2.29 6.53 5.47 7.59.4.07.55-.17.55-.38 0-.19-.01-.82-.01-1.49-2.01.37-2.53-.49-2.69-.94-.09-.23-.48-.94-.82-1.13-.28-.15-.68-.52-.01-.53.63-.01 1.08.58 1.23.82.72 1.21 1.87.87 2.33.66.07-.52.28-.87.51-1.07-1.78-.2-3.64-.89-3.64-3.95 0-.87.31-1.59.82-2.15-.08-.2-.36-1.02.08-2.12 0 0 .67-.21 2.2.82.64-.18 1.32-.27 2-.27.68 0 1.36.09 2 .27 1.53-1.04 2.2-.82 2.2-.82.44 1.1.16 1.92.08 2.12.51.56.82 1.27.82 2.15 0 3.07-1.87 3.75-3.65 3.95.29.25.54.73.54 1.48 0 1.07-.01 1.93-.01 2.2 0 .21.15.46.55.38A8.013 8.013 0 0016 8c0-4.42-3.58-8-8-8z" fill="#1b1f23"/></svg><svg style="position:absolute;left:1173px;top:244px;overflow:visible;" width="32" height="32" viewBox="0 0 16 16"><path d="M8 0C3.58 0 0 3.58 0 8c0 3.54 2.29 6.53 5.47 7.59.4.07.55-.17.55-.38 0-.19-.01-.82-.01-1.49-2.01.37-2.53-.49-2.69-.94-.09-.23-.48-.94-.82-1.13-.28-.15-.68-.52-.01-.53.63-.01 1.08.58 1.23.82.72 1.21 1.87.87 2.33.66.07-.52.28-.87.51-1.07-1.78-.2-3.64-.89-3.64-3.95 0-.87.31-1.59.82-2.15-.08-.2-.36-1.02.08-2.12 0 0 .67-.21 2.2.82.64-.18 1.32-.27 2-.27.68 0 1.36.09 2 .27 1.53-1.04 2.2-.82 2.2-.82.44 1.1.16 1.92.08 2.12.51.56.82 1.27.82 2.15 0 3.07-1.87 3.75-3.65 3.95.29.25.54.73.54 1.48 0 1.07-.01 1.93-.01 2.2 0 .21.15.46.55.38A8.013 8.013 0 0016 8c0-4.42-3.58-8-8-8z" fill="#1b1f23"/></svg><svg style="position:absolute;left:1240px;top:246px;overflow:visible;" width="32" height="28" viewBox="0 0 32 28"><rect x="0" y="0" width="31" height="7.500" fill="#4db9d9"/><rect x="10" y="10" width="21" height="7.500" fill="#8bb82d"/><rect x="21" y="20" width="10" height="8" fill="#a45fc0"/></svg><svg style="position:absolute;left:1301px;top:248px;overflow:visible;" width="34" height="24" viewBox="0 0 34 24"><path d="M13 9.500 C13 3 26 2 29 8 M21 9.500 h-8 c-3 0-3 7 2 7 h4" stroke="#1ea7d8" stroke-width="3.200" fill="none" stroke-linecap="round"/><circle cx="3" cy="12" r="1.800" fill="#1ea7d8"/><circle cx="8" cy="12" r="1.800" fill="#1ea7d8"/><path d="M2 22h30" stroke="#9fd8ee" stroke-width="1" stroke-dasharray="2 1.500"/></svg><svg style="position:absolute;left:1365.6px;top:247px;overflow:visible;" width="32" height="25" viewBox="0 0 32 25"><path d="M1.2 3.2 a2 2 0 0 1 2-2 h8.3 l3 3.300 h14.3 a2 2 0 0 1 2 2 v15.300 a2 2 0 0 1 -2 2 h-25.600 a2 2 0 0 1 -2-2 z" fill="#c8c8c8" stroke="#5a5a5a" stroke-width="2.200" stroke-linejoin="round"/><path d="M1.2 8.2 h29.600" stroke="#5a5a5a" stroke-width="2"/><path d="M2.500 21 h27" stroke="#a2a2a2" stroke-width="1.500"/></svg><div style="position:absolute;top:247.52px;font:400 24px/24px 'Liberation Sans',sans-serif;color:#3c4043;white-space:nowrap;left:1414.5px;transform-origin:0 50%;transform:scaleX(0.9550);">UL</div><svg style="position:absolute;left:1477.7px;top:247px;overflow:visible;" width="32" height="25" viewBox="0 0 32 25"><path d="M1.2 3.2 a2 2 0 0 1 2-2 h8.3 l3 3.300 h14.3 a2 2 0 0 1 2 2 v15.300 a2 2 0 0 1 -2 2 h-25.600 a2 2 0 0 1 -2-2 z" fill="#c8c8c8" stroke="#5a5a5a" stroke-width="2.200" stroke-linejoin="round"/><path d="M1.2 8.2 h29.600" stroke="#5a5a5a" stroke-width="2"/><path d="M2.500 21 h27" stroke="#a2a2a2" stroke-width="1.500"/></svg><div style="position:absolute;top:247.52px;font:400 24px/24px 'Liberation Sans',sans-serif;color:#3c4043;white-space:nowrap;left:1526.2px;transform-origin:0 50%;transform:scaleX(1.0546);">Python</div><div style="position:absolute;top:237.86px;font:700 42px/42px 'Liberation Sans',sans-serif;color:#000;white-space:nowrap;left:1654px;transform:translateX(-50%) scaleX(0.9891);-webkit-text-stroke:1.500px #000;">B</div><div style="position:absolute;left:1703px;top:244.5px;width:31px;height:31px;background:#fff;box-shadow:0 0 0 1px #ddd"></div><div style="position:absolute;top:243.88px;font:700 31px/31px 'Liberation Serif',serif;color:#111;white-space:nowrap;left:1718.5px;transform:translateX(-50%) scaleX(1.0156);-webkit-text-stroke:.8px #111;">E</div><svg style="position:absolute;left:1765.7px;top:244px;overflow:visible;" width="32" height="32" viewBox="0 0 32 32"><defs><clipPath id="gl1"><ellipse cx="16" cy="16" rx="16" ry="15"/></clipPath></defs><g clip-path="url(#gl1)"><rect width="32" height="32" fill="#2a6f97"/><path d="M0 9.500h32M0 16h32M0 22.500h32" stroke="#9cc3db" stroke-width="2"/><path d="M16 0v32" stroke="#cfe3ef" stroke-width="2.400"/></g></svg><svg style="position:absolute;left:1831px;top:245px;overflow:visible;" width="30" height="30" viewBox="0 0 30 30"><circle cx="15" cy="15" r="14.500" fill="#4f5256"/><path d="M12 4 c2 2 5 1 6 3 s-2 3-4 4 s-4 1-4 3 s3 1 5 2 s4 2 3 4 s-3 3-3 5 c-2-1-2-4-4-5 s-5-2-5-5 s1-5 2-7 s2-3 4-4z" fill="#fff"/><path d="M22 8 c2 1 4 4 4 7 c-1 2-3 2-4 1 s-2-3-1-5z" fill="#fff"/></svg><svg style="position:absolute;left:1894px;top:247px;overflow:visible;" width="32" height="25" viewBox="0 0 32 25"><path d="M1.2 3.2 a2 2 0 0 1 2-2 h8.3 l3 3.300 h14.3 a2 2 0 0 1 2 2 v15.300 a2 2 0 0 1 -2 2 h-25.600 a2 2 0 0 1 -2-2 z" fill="#c8c8c8" stroke="#5a5a5a" stroke-width="2.200" stroke-linejoin="round"/><path d="M1.2 8.2 h29.600" stroke="#5a5a5a" stroke-width="2"/><path d="M2.500 21 h27" stroke="#a2a2a2" stroke-width="1.500"/></svg><div style="position:absolute;top:247.52px;font:400 24px/24px 'Liberation Sans',sans-serif;color:#3c4043;white-space:nowrap;left:1942.3px;transform-origin:0 50%;transform:scaleX(0.9508);">IAI</div><svg style="position:absolute;left:2003.7px;top:247px;overflow:visible;" width="32" height="25" viewBox="0 0 32 25"><path d="M1.2 3.2 a2 2 0 0 1 2-2 h8.3 l3 3.300 h14.3 a2 2 0 0 1 2 2 v15.300 a2 2 0 0 1 -2 2 h-25.600 a2 2 0 0 1 -2-2 z" fill="#c8c8c8" stroke="#5a5a5a" stroke-width="2.200" stroke-linejoin="round"/><path d="M1.2 8.2 h29.600" stroke="#5a5a5a" stroke-width="2"/><path d="M2.500 21 h27" stroke="#a2a2a2" stroke-width="1.500"/></svg><div style="position:absolute;top:247.52px;font:400 24px/24px 'Liberation Sans',sans-serif;color:#3c4043;white-space:nowrap;left:2052.6px;">Spain</div><div style="position:absolute;top:242.4px;font:700 30px/30px 'Liberation Sans',sans-serif;color:#5f6368;white-space:nowrap;left:2265.5px;transform:translateX(-50%);">»</div>
</div></div></div></body></html>
